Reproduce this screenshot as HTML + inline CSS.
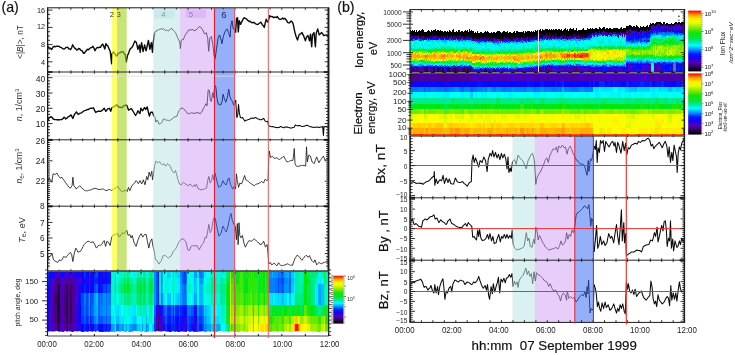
<!DOCTYPE html>
<html lang="en"><head><meta charset="utf-8"><title>Figure</title>
<style>
html,body{margin:0;padding:0;background:#fff;}
body{width:735px;height:355px;overflow:hidden;font-family:"Liberation Sans",Arial,sans-serif;}
svg{display:block;}
text{font-family:"Liberation Sans",Arial,sans-serif;}
</style></head><body>
<svg width="735" height="355" viewBox="0 0 735 355">
<g shape-rendering="crispEdges">
<path fill="#19002c" d="M56.5 292.5h2.3v12.8h-2.3zM56.5 305h2.3v11.3h-2.3z"/>
<path fill="#21003a" d="M56.5 316h2.3v8.3h-2.3zM58.5 305h1.3v11.3h-1.3z"/>
<path fill="#2a0049" d="M56.5 284h2.3v8.8h-2.3zM56.5 324h2.3v7.7h-2.3zM58.5 292.5h1.3v12.8h-1.3zM58.5 316h1.3v8.3h-1.3zM65.5 305h2.3v11.3h-2.3zM157.5 324h1.3v7.7h-1.3z"/>
<path fill="#320058" d="M58.5 284h1.3v8.8h-1.3zM65.5 292.5h2.3v12.8h-2.3zM65.5 316h2.3v8.3h-2.3zM69.5 292.5h1.3v12.8h-1.3zM69.5 305h1.3v11.3h-1.3zM69.5 316h1.3v8.3h-1.3z"/>
<path fill="#3a0066" d="M65.5 284h2.3v8.8h-2.3zM69.5 284h1.3v8.8h-1.3zM70.5 305h1.3v11.3h-1.3z"/>
<path fill="#430075" d="M53.5 292.5h3.3v12.8h-3.3zM56.5 277.7h2.3v6.6h-2.3zM58.5 324h1.3v7.7h-1.3zM64.5 292.5h1.3v12.8h-1.3zM64.5 305h1.3v11.3h-1.3zM65.5 324h2.3v7.7h-2.3zM70.5 284h1.3v8.8h-1.3zM70.5 292.5h1.3v12.8h-1.3zM70.5 316h1.3v8.3h-1.3zM157.5 316h1.3v8.3h-1.3z"/>
<path fill="#4b0083" d="M53.5 305h3.3v11.3h-3.3zM53.5 316h3.3v8.3h-3.3zM58.5 277.7h1.3v6.6h-1.3zM63.5 292.5h1.3v12.8h-1.3zM63.5 305h1.3v11.3h-1.3zM64.5 316h1.3v8.3h-1.3zM69.5 324h1.3v7.7h-1.3zM160.5 324h1.3v7.7h-1.3z"/>
<path fill="#4f0091" d="M53.5 284h3.3v8.8h-3.3zM63.5 284h1.3v8.8h-1.3zM63.5 316h1.3v8.3h-1.3zM64.5 284h1.3v8.8h-1.3zM65.5 277.7h2.3v6.6h-2.3zM67.5 292.5h2.3v12.8h-2.3zM67.5 305h2.3v11.3h-2.3zM67.5 316h2.3v8.3h-2.3zM69.5 277.7h1.3v6.6h-1.3zM70.5 324h1.3v7.7h-1.3zM71.5 284h3.3v8.8h-3.3zM71.5 305h3.3v11.3h-3.3z"/>
<path fill="#4e009e" d="M53.5 324h3.3v7.7h-3.3zM59.5 284h1.3v8.8h-1.3zM59.5 292.5h1.3v12.8h-1.3zM59.5 305h1.3v11.3h-1.3zM59.5 316h1.3v8.3h-1.3zM60.5 292.5h1.3v12.8h-1.3zM63.5 324h1.3v7.7h-1.3zM64.5 324h1.3v7.7h-1.3zM67.5 284h2.3v8.8h-2.3zM70.5 277.7h1.3v6.6h-1.3zM71.5 292.5h3.3v12.8h-3.3zM71.5 316h3.3v8.3h-3.3z"/>
<path fill="#4c00aa" d="M53.5 277.7h3.3v6.6h-3.3zM60.5 284h1.3v8.8h-1.3zM60.5 305h1.3v11.3h-1.3zM60.5 316h1.3v8.3h-1.3zM160.5 316h1.3v8.3h-1.3z"/>
<path fill="#4b00b6" d="M50.5 316h1.3v8.3h-1.3zM51.5 292.5h2.3v12.8h-2.3zM51.5 305h2.3v11.3h-2.3zM51.5 316h2.3v8.3h-2.3zM60.5 324h1.3v7.7h-1.3zM61.5 292.5h2.3v12.8h-2.3zM61.5 305h2.3v11.3h-2.3zM61.5 316h2.3v8.3h-2.3zM63.5 277.7h1.3v6.6h-1.3zM64.5 277.7h1.3v6.6h-1.3zM67.5 324h2.3v7.7h-2.3zM71.5 277.7h3.3v6.6h-3.3zM71.5 324h3.3v7.7h-3.3z"/>
<path fill="#4900c3" d="M50.5 305h1.3v11.3h-1.3zM50.5 324h1.3v7.7h-1.3zM56.5 271.8h2.3v6.2h-2.3zM59.5 324h1.3v7.7h-1.3zM61.5 284h2.3v8.8h-2.3zM67.5 277.7h2.3v6.6h-2.3zM157.5 305h1.3v11.3h-1.3z"/>
<path fill="#4800d0" d="M49.5 316h1.3v8.3h-1.3zM51.5 284h2.3v8.8h-2.3zM51.5 324h2.3v7.7h-2.3zM59.5 277.7h1.3v6.6h-1.3zM60.5 277.7h1.3v6.6h-1.3zM61.5 324h2.3v7.7h-2.3zM76.5 277.7h1.3v6.6h-1.3zM76.5 284h1.3v8.8h-1.3zM155.5 324h2.3v7.7h-2.3zM160.5 305h1.3v11.3h-1.3zM161.5 324h1.3v7.7h-1.3z"/>
<path fill="#4600dc" d="M49.5 305h1.3v11.3h-1.3zM49.5 324h1.3v7.7h-1.3zM50.5 292.5h1.3v12.8h-1.3zM51.5 277.7h2.3v6.6h-2.3zM58.5 271.8h1.3v6.2h-1.3zM61.5 277.7h2.3v6.6h-2.3zM65.5 271.8h2.3v6.2h-2.3zM69.5 271.8h1.3v6.2h-1.3zM74.5 292.5h2.3v12.8h-2.3zM76.5 292.5h1.3v12.8h-1.3zM78.5 277.7h1.3v6.6h-1.3zM79.5 277.7h1.3v6.6h-1.3zM155.5 316h2.3v8.3h-2.3zM158.5 324h2.3v7.7h-2.3z"/>
<path fill="#3d01e0" d="M50.5 284h1.3v8.8h-1.3zM70.5 271.8h1.3v6.2h-1.3zM74.5 284h2.3v8.8h-2.3zM76.5 324h1.3v7.7h-1.3zM77.5 277.7h1.3v6.6h-1.3zM161.5 316h1.3v8.3h-1.3z"/>
<path fill="#3402e5" d="M48.5 316h1.3v8.3h-1.3zM49.5 284h1.3v8.8h-1.3zM49.5 292.5h1.3v12.8h-1.3zM74.5 277.7h2.3v6.6h-2.3zM74.5 305h2.3v11.3h-2.3zM74.5 316h2.3v8.3h-2.3zM76.5 305h1.3v11.3h-1.3zM77.5 284h1.3v8.8h-1.3zM158.5 316h2.3v8.3h-2.3z"/>
<path fill="#2c04e9" d="M48.5 305h1.3v11.3h-1.3zM48.5 324h1.3v7.7h-1.3zM50.5 277.7h1.3v6.6h-1.3zM53.5 271.8h3.3v6.2h-3.3zM63.5 271.8h1.3v6.2h-1.3zM71.5 271.8h3.3v6.2h-3.3zM74.5 324h2.3v7.7h-2.3zM76.5 271.8h1.3v6.2h-1.3zM76.5 316h1.3v8.3h-1.3zM183.5 316h2.3v8.3h-2.3zM183.5 324h2.3v7.7h-2.3zM193.5 324h1.3v7.7h-1.3z"/>
<path fill="#2305ee" d="M48.5 292.5h1.3v12.8h-1.3zM49.5 277.7h1.3v6.6h-1.3zM50.5 271.8h1.3v6.2h-1.3zM64.5 271.8h1.3v6.2h-1.3zM77.5 292.5h1.3v12.8h-1.3zM77.5 324h1.3v7.7h-1.3zM78.5 284h1.3v8.8h-1.3zM78.5 324h1.3v7.7h-1.3zM79.5 271.8h1.3v6.2h-1.3zM79.5 324h1.3v7.7h-1.3zM85.5 277.7h2.3v6.6h-2.3zM89.5 277.7h1.3v6.6h-1.3zM155.5 305h2.3v11.3h-2.3zM182.5 324h1.3v7.7h-1.3zM185.5 324h1.3v7.7h-1.3zM193.5 316h1.3v8.3h-1.3zM194.5 324h2.3v7.7h-2.3z"/>
<path fill="#1a06f2" d="M48.5 284h1.3v8.8h-1.3zM60.5 271.8h1.3v6.2h-1.3zM67.5 271.8h2.3v6.2h-2.3zM77.5 271.8h1.3v6.2h-1.3zM77.5 305h1.3v11.3h-1.3zM77.5 316h1.3v8.3h-1.3zM78.5 271.8h1.3v6.2h-1.3zM79.5 284h1.3v8.8h-1.3zM80.5 277.7h3.3v6.6h-3.3zM89.5 271.8h1.3v6.2h-1.3zM89.5 284h1.3v8.8h-1.3zM89.5 324h1.3v7.7h-1.3zM97.5 277.7h2.3v6.6h-2.3zM161.5 305h1.3v11.3h-1.3zM172.5 324h1.3v7.7h-1.3zM181.5 324h1.3v7.7h-1.3zM185.5 316h1.3v8.3h-1.3z"/>
<path fill="#1108f6" d="M47.5 316h1.3v8.3h-1.3zM47.5 324h1.3v7.7h-1.3zM48.5 277.7h1.3v6.6h-1.3zM49.5 271.8h1.3v6.2h-1.3zM59.5 271.8h1.3v6.2h-1.3zM74.5 271.8h2.3v6.2h-2.3zM78.5 292.5h1.3v12.8h-1.3zM78.5 305h1.3v11.3h-1.3zM78.5 316h1.3v8.3h-1.3zM79.5 316h1.3v8.3h-1.3zM84.5 277.7h1.3v6.6h-1.3zM85.5 271.8h2.3v6.2h-2.3zM85.5 284h2.3v8.8h-2.3zM87.5 277.7h1.3v6.6h-1.3zM90.5 277.7h2.3v6.6h-2.3zM90.5 324h2.3v7.7h-2.3zM92.5 277.7h1.3v6.6h-1.3zM97.5 324h2.3v7.7h-2.3zM99.5 277.7h3.3v6.6h-3.3zM105.5 277.7h1.3v6.6h-1.3zM177.5 324h1.3v7.7h-1.3zM179.5 324h2.3v7.7h-2.3zM182.5 316h1.3v8.3h-1.3zM194.5 316h2.3v8.3h-2.3z"/>
<path fill="#0909fb" d="M47.5 305h1.3v11.3h-1.3zM48.5 271.8h1.3v6.2h-1.3zM51.5 271.8h2.3v6.2h-2.3zM61.5 271.8h2.3v6.2h-2.3zM83.5 277.7h1.3v6.6h-1.3zM85.5 324h2.3v7.7h-2.3zM90.5 271.8h2.3v6.2h-2.3zM97.5 271.8h2.3v6.2h-2.3zM99.5 271.8h3.3v6.2h-3.3zM102.5 277.7h3.3v6.6h-3.3zM105.5 271.8h1.3v6.2h-1.3zM158.5 305h2.3v11.3h-2.3zM166.5 324h3.3v7.7h-3.3zM169.5 324h1.3v7.7h-1.3zM172.5 316h1.3v8.3h-1.3zM174.5 324h3.3v7.7h-3.3zM181.5 316h1.3v8.3h-1.3zM183.5 305h2.3v11.3h-2.3zM193.5 305h1.3v11.3h-1.3z"/>
<path fill="#000aff" d="M47.5 284h1.3v8.8h-1.3zM47.5 292.5h1.3v12.8h-1.3zM79.5 305h1.3v11.3h-1.3zM80.5 271.8h3.3v6.2h-3.3zM80.5 284h3.3v8.8h-3.3zM80.5 324h3.3v7.7h-3.3zM87.5 271.8h1.3v6.2h-1.3zM87.5 284h1.3v8.8h-1.3zM87.5 324h1.3v7.7h-1.3zM90.5 284h2.3v8.8h-2.3zM92.5 271.8h1.3v6.2h-1.3zM92.5 284h1.3v8.8h-1.3zM92.5 324h1.3v7.7h-1.3zM97.5 284h2.3v8.8h-2.3zM99.5 324h3.3v7.7h-3.3zM105.5 324h1.3v7.7h-1.3zM162.5 324h1.3v7.7h-1.3zM174.5 316h3.3v8.3h-3.3zM177.5 316h1.3v8.3h-1.3zM190.5 324h1.3v7.7h-1.3zM191.5 324h2.3v7.7h-2.3z"/>
<path fill="#0019ff" d="M79.5 292.5h1.3v12.8h-1.3zM84.5 284h1.3v8.8h-1.3zM84.5 324h1.3v7.7h-1.3zM89.5 316h1.3v8.3h-1.3zM99.5 284h3.3v8.8h-3.3zM102.5 271.8h3.3v6.2h-3.3zM106.5 271.8h1.3v6.2h-1.3zM106.5 277.7h1.3v6.6h-1.3zM107.5 271.8h3.3v6.2h-3.3zM107.5 277.7h3.3v6.6h-3.3zM163.5 324h1.3v7.7h-1.3zM166.5 316h3.3v8.3h-3.3zM169.5 316h1.3v8.3h-1.3zM179.5 316h2.3v8.3h-2.3zM181.5 305h1.3v11.3h-1.3zM182.5 305h1.3v11.3h-1.3zM185.5 305h1.3v11.3h-1.3zM194.5 305h2.3v11.3h-2.3zM198.5 324h3.3v7.7h-3.3z"/>
<path fill="#0028ff" d="M47.5 271.8h1.3v6.2h-1.3zM47.5 277.7h1.3v6.6h-1.3zM83.5 284h1.3v8.8h-1.3zM84.5 271.8h1.3v6.2h-1.3zM85.5 316h2.3v8.3h-2.3zM88.5 277.7h1.3v6.6h-1.3zM93.5 277.7h2.3v6.6h-2.3zM95.5 277.7h2.3v6.6h-2.3zM102.5 324h3.3v7.7h-3.3zM105.5 284h1.3v8.8h-1.3zM107.5 324h3.3v7.7h-3.3zM157.5 271.8h1.3v6.2h-1.3zM157.5 277.7h1.3v6.6h-1.3zM157.5 284h1.3v8.8h-1.3zM157.5 292.5h1.3v12.8h-1.3zM162.5 316h1.3v8.3h-1.3zM163.5 316h1.3v8.3h-1.3zM166.5 305h3.3v11.3h-3.3zM170.5 324h2.3v7.7h-2.3zM172.5 305h1.3v11.3h-1.3zM174.5 305h3.3v11.3h-3.3zM177.5 305h1.3v11.3h-1.3zM178.5 324h1.3v7.7h-1.3zM179.5 305h2.3v11.3h-2.3zM188.5 324h2.3v7.7h-2.3zM190.5 316h1.3v8.3h-1.3zM191.5 316h2.3v8.3h-2.3z"/>
<path fill="#0037ff" d="M80.5 316h3.3v8.3h-3.3zM83.5 271.8h1.3v6.2h-1.3zM83.5 324h1.3v7.7h-1.3zM88.5 271.8h1.3v6.2h-1.3zM88.5 284h1.3v8.8h-1.3zM88.5 324h1.3v7.7h-1.3zM93.5 271.8h2.3v6.2h-2.3zM93.5 324h2.3v7.7h-2.3zM106.5 324h1.3v7.7h-1.3zM153.5 324h2.3v7.7h-2.3zM164.5 324h2.3v7.7h-2.3zM169.5 305h1.3v11.3h-1.3zM173.5 324h1.3v7.7h-1.3zM178.5 316h1.3v8.3h-1.3zM183.5 271.8h2.3v6.2h-2.3zM188.5 316h2.3v8.3h-2.3zM198.5 316h3.3v8.3h-3.3zM201.5 324h1.3v7.7h-1.3z"/>
<path fill="#0046ff" d="M80.5 292.5h3.3v12.8h-3.3zM80.5 305h3.3v11.3h-3.3zM84.5 316h1.3v8.3h-1.3zM85.5 292.5h2.3v12.8h-2.3zM85.5 305h2.3v11.3h-2.3zM87.5 316h1.3v8.3h-1.3zM89.5 292.5h1.3v12.8h-1.3zM89.5 305h1.3v11.3h-1.3zM90.5 316h2.3v8.3h-2.3zM93.5 284h2.3v8.8h-2.3zM95.5 271.8h2.3v6.2h-2.3zM95.5 324h2.3v7.7h-2.3zM102.5 284h3.3v8.8h-3.3zM153.5 316h2.3v8.3h-2.3zM162.5 305h1.3v11.3h-1.3zM170.5 316h2.3v8.3h-2.3zM173.5 316h1.3v8.3h-1.3zM183.5 277.7h2.3v6.6h-2.3zM186.5 324h2.3v7.7h-2.3zM190.5 305h1.3v11.3h-1.3zM277.5 277.7h1.3v6.6h-1.3zM277.5 284h1.3v8.8h-1.3zM280.5 277.7h3.3v6.6h-3.3z"/>
<path fill="#0055ff" d="M84.5 305h1.3v11.3h-1.3zM90.5 292.5h2.3v12.8h-2.3zM92.5 316h1.3v8.3h-1.3zM97.5 316h2.3v8.3h-2.3zM99.5 316h3.3v8.3h-3.3zM105.5 316h1.3v8.3h-1.3zM106.5 284h1.3v8.8h-1.3zM107.5 284h3.3v8.8h-3.3zM155.5 271.8h2.3v6.2h-2.3zM155.5 277.7h2.3v6.6h-2.3zM155.5 284h2.3v8.8h-2.3zM155.5 292.5h2.3v12.8h-2.3zM163.5 305h1.3v11.3h-1.3zM164.5 316h2.3v8.3h-2.3zM178.5 305h1.3v11.3h-1.3zM182.5 271.8h1.3v6.2h-1.3zM182.5 277.7h1.3v6.6h-1.3zM186.5 316h2.3v8.3h-2.3zM191.5 305h2.3v11.3h-2.3zM196.5 324h2.3v7.7h-2.3zM198.5 305h3.3v11.3h-3.3zM201.5 316h1.3v8.3h-1.3zM202.5 324h1.3v7.7h-1.3zM280.5 284h3.3v8.8h-3.3z"/>
<path fill="#0064ff" d="M83.5 316h1.3v8.3h-1.3zM87.5 292.5h1.3v12.8h-1.3zM87.5 305h1.3v11.3h-1.3zM90.5 305h2.3v11.3h-2.3zM92.5 292.5h1.3v12.8h-1.3zM95.5 284h2.3v8.8h-2.3zM97.5 292.5h2.3v12.8h-2.3zM97.5 305h2.3v11.3h-2.3zM105.5 292.5h1.3v12.8h-1.3zM153.5 305h2.3v11.3h-2.3zM160.5 292.5h1.3v12.8h-1.3zM170.5 305h2.3v11.3h-2.3zM181.5 271.8h1.3v6.2h-1.3zM181.5 277.7h1.3v6.6h-1.3zM183.5 284h2.3v8.8h-2.3zM196.5 316h2.3v8.3h-2.3zM202.5 316h1.3v8.3h-1.3zM278.5 277.7h2.3v6.6h-2.3zM280.5 271.8h3.3v6.2h-3.3zM288.5 277.7h2.3v6.6h-2.3zM288.5 284h2.3v8.8h-2.3z"/>
<path fill="#0073ff" d="M83.5 305h1.3v11.3h-1.3zM84.5 292.5h1.3v12.8h-1.3zM88.5 316h1.3v8.3h-1.3zM92.5 305h1.3v11.3h-1.3zM99.5 292.5h3.3v12.8h-3.3zM102.5 316h3.3v8.3h-3.3zM105.5 305h1.3v11.3h-1.3zM107.5 316h3.3v8.3h-3.3zM115.5 324h2.3v7.7h-2.3zM117.5 324h1.3v7.7h-1.3zM145.5 324h1.3v7.7h-1.3zM160.5 277.7h1.3v6.6h-1.3zM164.5 305h2.3v11.3h-2.3zM173.5 305h1.3v11.3h-1.3zM181.5 284h1.3v8.8h-1.3zM182.5 292.5h1.3v12.8h-1.3zM183.5 292.5h2.3v12.8h-2.3zM185.5 271.8h1.3v6.2h-1.3zM185.5 277.7h1.3v6.6h-1.3zM186.5 305h2.3v11.3h-2.3zM188.5 305h2.3v11.3h-2.3zM198.5 271.8h3.3v6.2h-3.3zM201.5 305h1.3v11.3h-1.3zM274.5 277.7h3.3v6.6h-3.3zM274.5 284h3.3v8.8h-3.3zM277.5 271.8h1.3v6.2h-1.3zM278.5 284h2.3v8.8h-2.3zM288.5 271.8h2.3v6.2h-2.3z"/>
<path fill="#0082ff" d="M83.5 292.5h1.3v12.8h-1.3zM93.5 316h2.3v8.3h-2.3zM99.5 305h3.3v11.3h-3.3zM106.5 316h1.3v8.3h-1.3zM107.5 292.5h3.3v12.8h-3.3zM132.5 324h3.3v7.7h-3.3zM160.5 271.8h1.3v6.2h-1.3zM160.5 284h1.3v8.8h-1.3zM179.5 271.8h2.3v6.2h-2.3zM181.5 292.5h1.3v12.8h-1.3zM182.5 284h1.3v8.8h-1.3zM201.5 271.8h1.3v6.2h-1.3zM202.5 305h1.3v11.3h-1.3zM204.5 324h1.3v7.7h-1.3zM268.5 277.7h3.3v6.6h-3.3zM268.5 284h3.3v8.8h-3.3zM271.5 277.7h1.3v6.6h-1.3zM271.5 284h1.3v8.8h-1.3zM272.5 277.7h2.3v6.6h-2.3zM272.5 284h2.3v8.8h-2.3zM278.5 271.8h2.3v6.2h-2.3zM283.5 277.7h3.3v6.6h-3.3z"/>
<path fill="#0092ff" d="M88.5 305h1.3v11.3h-1.3zM102.5 292.5h3.3v12.8h-3.3zM102.5 305h3.3v11.3h-3.3zM106.5 292.5h1.3v12.8h-1.3zM106.5 305h1.3v11.3h-1.3zM107.5 305h3.3v11.3h-3.3zM121.5 324h2.3v7.7h-2.3zM130.5 324h2.3v7.7h-2.3zM141.5 324h1.3v7.7h-1.3zM153.5 271.8h2.3v6.2h-2.3zM153.5 277.7h2.3v6.6h-2.3zM153.5 284h2.3v8.8h-2.3zM153.5 292.5h2.3v12.8h-2.3zM161.5 292.5h1.3v12.8h-1.3zM179.5 277.7h2.3v6.6h-2.3zM185.5 292.5h1.3v12.8h-1.3zM193.5 292.5h1.3v12.8h-1.3zM196.5 305h2.3v11.3h-2.3zM198.5 277.7h3.3v6.6h-3.3zM203.5 324h1.3v7.7h-1.3zM204.5 316h1.3v8.3h-1.3zM205.5 324h1.3v7.7h-1.3zM268.5 271.8h3.3v6.2h-3.3zM272.5 271.8h2.3v6.2h-2.3zM274.5 271.8h3.3v6.2h-3.3zM283.5 284h3.3v8.8h-3.3zM286.5 277.7h2.3v6.6h-2.3zM286.5 284h2.3v8.8h-2.3z"/>
<path fill="#00a1ff" d="M88.5 292.5h1.3v12.8h-1.3zM93.5 292.5h2.3v12.8h-2.3zM93.5 305h2.3v11.3h-2.3zM95.5 316h2.3v8.3h-2.3zM110.5 324h3.3v7.7h-3.3zM118.5 324h2.3v7.7h-2.3zM120.5 324h1.3v7.7h-1.3zM128.5 324h2.3v7.7h-2.3zM135.5 324h1.3v7.7h-1.3zM179.5 284h2.3v8.8h-2.3zM179.5 292.5h2.3v12.8h-2.3zM185.5 284h1.3v8.8h-1.3zM193.5 271.8h1.3v6.2h-1.3zM194.5 271.8h2.3v6.2h-2.3zM201.5 277.7h1.3v6.6h-1.3zM202.5 271.8h1.3v6.2h-1.3zM206.5 324h2.3v7.7h-2.3zM208.5 324h2.3v7.7h-2.3zM212.5 324h1.3v7.7h-1.3zM216.5 324h3.3v7.7h-3.3zM283.5 271.8h3.3v6.2h-3.3zM318.5 284h2.3v8.8h-2.3zM318.5 292.5h2.3v12.8h-2.3z"/>
<path fill="#00b1ff" d="M95.5 305h2.3v11.3h-2.3zM113.5 324h1.3v7.7h-1.3zM117.5 316h1.3v8.3h-1.3zM124.5 324h2.3v7.7h-2.3zM145.5 316h1.3v8.3h-1.3zM146.5 324h2.3v7.7h-2.3zM161.5 271.8h1.3v6.2h-1.3zM161.5 277.7h1.3v6.6h-1.3zM172.5 292.5h1.3v12.8h-1.3zM193.5 277.7h1.3v6.6h-1.3zM194.5 292.5h2.3v12.8h-2.3zM198.5 284h3.3v8.8h-3.3zM198.5 292.5h3.3v12.8h-3.3zM203.5 316h1.3v8.3h-1.3zM204.5 305h1.3v11.3h-1.3zM205.5 316h1.3v8.3h-1.3zM213.5 324h1.3v7.7h-1.3zM215.5 324h1.3v7.7h-1.3zM271.5 271.8h1.3v6.2h-1.3zM286.5 271.8h2.3v6.2h-2.3zM317.5 284h1.3v8.8h-1.3zM317.5 292.5h1.3v12.8h-1.3z"/>
<path fill="#00c0ff" d="M95.5 292.5h2.3v12.8h-2.3zM115.5 316h2.3v8.3h-2.3zM132.5 316h3.3v8.3h-3.3zM136.5 324h1.3v7.7h-1.3zM138.5 324h1.3v7.7h-1.3zM152.5 324h1.3v7.7h-1.3zM161.5 284h1.3v8.8h-1.3zM166.5 292.5h3.3v12.8h-3.3zM169.5 292.5h1.3v12.8h-1.3zM172.5 271.8h1.3v6.2h-1.3zM177.5 292.5h1.3v12.8h-1.3zM193.5 284h1.3v8.8h-1.3zM201.5 284h1.3v8.8h-1.3zM201.5 292.5h1.3v12.8h-1.3zM202.5 277.7h1.3v6.6h-1.3zM205.5 305h1.3v11.3h-1.3zM206.5 316h2.3v8.3h-2.3zM280.5 292.5h3.3v12.8h-3.3zM288.5 292.5h2.3v12.8h-2.3zM290.5 277.7h3.3v6.6h-3.3zM320.5 284h3.3v8.8h-3.3zM320.5 292.5h3.3v12.8h-3.3z"/>
<path fill="#00d0ff" d="M117.5 305h1.3v11.3h-1.3zM126.5 324h2.3v7.7h-2.3zM137.5 324h1.3v7.7h-1.3zM141.5 316h1.3v8.3h-1.3zM151.5 324h1.3v7.7h-1.3zM166.5 271.8h3.3v6.2h-3.3zM174.5 292.5h3.3v12.8h-3.3zM177.5 271.8h1.3v6.2h-1.3zM178.5 292.5h1.3v12.8h-1.3zM194.5 277.7h2.3v6.6h-2.3zM194.5 284h2.3v8.8h-2.3zM203.5 305h1.3v11.3h-1.3zM206.5 305h2.3v11.3h-2.3zM208.5 316h2.3v8.3h-2.3zM210.5 324h2.3v7.7h-2.3zM212.5 316h1.3v8.3h-1.3zM213.5 316h1.3v8.3h-1.3zM214.5 324h1.3v7.7h-1.3zM219.5 324h1.3v7.7h-1.3zM277.5 292.5h1.3v12.8h-1.3zM290.5 271.8h3.3v6.2h-3.3zM290.5 284h3.3v8.8h-3.3z"/>
<path fill="#00e0ff" d="M110.5 316h3.3v8.3h-3.3zM115.5 305h2.3v11.3h-2.3zM118.5 316h2.3v8.3h-2.3zM121.5 316h2.3v8.3h-2.3zM123.5 324h1.3v7.7h-1.3zM130.5 316h2.3v8.3h-2.3zM132.5 305h3.3v11.3h-3.3zM135.5 316h1.3v8.3h-1.3zM139.5 324h2.3v7.7h-2.3zM142.5 324h2.3v7.7h-2.3zM144.5 324h1.3v7.7h-1.3zM145.5 305h1.3v11.3h-1.3zM158.5 292.5h2.3v12.8h-2.3zM162.5 292.5h1.3v12.8h-1.3zM163.5 292.5h1.3v12.8h-1.3zM169.5 271.8h1.3v6.2h-1.3zM172.5 277.7h1.3v6.6h-1.3zM172.5 284h1.3v8.8h-1.3zM174.5 271.8h3.3v6.2h-3.3zM177.5 277.7h1.3v6.6h-1.3zM178.5 271.8h1.3v6.2h-1.3zM196.5 271.8h2.3v6.2h-2.3zM202.5 284h1.3v8.8h-1.3zM202.5 292.5h1.3v12.8h-1.3zM204.5 271.8h1.3v6.2h-1.3zM208.5 305h2.3v11.3h-2.3zM212.5 305h1.3v11.3h-1.3zM213.5 305h1.3v11.3h-1.3zM214.5 316h1.3v8.3h-1.3zM215.5 316h1.3v8.3h-1.3zM216.5 316h3.3v8.3h-3.3zM224.5 324h1.3v7.7h-1.3zM268.5 292.5h3.3v12.8h-3.3zM271.5 292.5h1.3v12.8h-1.3zM274.5 292.5h3.3v12.8h-3.3zM278.5 292.5h2.3v12.8h-2.3zM283.5 292.5h3.3v12.8h-3.3zM293.5 277.7h1.3v6.6h-1.3zM318.5 277.7h2.3v6.6h-2.3z"/>
<path fill="#00efff" d="M113.5 316h1.3v8.3h-1.3zM114.5 324h1.3v7.7h-1.3zM118.5 305h2.3v11.3h-2.3zM120.5 316h1.3v8.3h-1.3zM124.5 316h2.3v8.3h-2.3zM128.5 305h2.3v11.3h-2.3zM128.5 316h2.3v8.3h-2.3zM130.5 305h2.3v11.3h-2.3zM132.5 271.8h3.3v6.2h-3.3zM145.5 271.8h1.3v6.2h-1.3zM146.5 316h2.3v8.3h-2.3zM158.5 271.8h2.3v6.2h-2.3zM158.5 277.7h2.3v6.6h-2.3zM158.5 284h2.3v8.8h-2.3zM166.5 277.7h3.3v6.6h-3.3zM166.5 284h3.3v8.8h-3.3zM174.5 277.7h3.3v6.6h-3.3zM174.5 284h3.3v8.8h-3.3zM177.5 284h1.3v8.8h-1.3zM178.5 277.7h1.3v6.6h-1.3zM178.5 284h1.3v8.8h-1.3zM190.5 271.8h1.3v6.2h-1.3zM191.5 271.8h2.3v6.2h-2.3zM191.5 292.5h2.3v12.8h-2.3zM203.5 271.8h1.3v6.2h-1.3zM216.5 271.8h3.3v6.2h-3.3zM216.5 305h3.3v11.3h-3.3zM224.5 271.8h1.3v6.2h-1.3zM272.5 292.5h2.3v12.8h-2.3zM293.5 271.8h1.3v6.2h-1.3zM293.5 284h1.3v8.8h-1.3zM315.5 284h2.3v8.8h-2.3zM315.5 292.5h2.3v12.8h-2.3z"/>
<path fill="#00ffff" d="M120.5 305h1.3v11.3h-1.3zM121.5 305h2.3v11.3h-2.3zM136.5 316h1.3v8.3h-1.3zM138.5 316h1.3v8.3h-1.3zM148.5 324h3.3v7.7h-3.3zM152.5 316h1.3v8.3h-1.3zM162.5 277.7h1.3v6.6h-1.3zM164.5 292.5h2.3v12.8h-2.3zM169.5 277.7h1.3v6.6h-1.3zM169.5 284h1.3v8.8h-1.3zM170.5 292.5h2.3v12.8h-2.3zM173.5 292.5h1.3v12.8h-1.3zM190.5 277.7h1.3v6.6h-1.3zM190.5 292.5h1.3v12.8h-1.3zM196.5 277.7h2.3v6.6h-2.3zM196.5 292.5h2.3v12.8h-2.3zM204.5 277.7h1.3v6.6h-1.3zM204.5 292.5h1.3v12.8h-1.3zM205.5 271.8h1.3v6.2h-1.3zM206.5 271.8h2.3v6.2h-2.3zM210.5 316h2.3v8.3h-2.3zM214.5 305h1.3v11.3h-1.3zM215.5 305h1.3v11.3h-1.3zM221.5 324h3.3v7.7h-3.3zM286.5 292.5h2.3v12.8h-2.3zM317.5 277.7h1.3v6.6h-1.3z"/>
<path fill="#00fcef" d="M110.5 305h3.3v11.3h-3.3zM113.5 305h1.3v11.3h-1.3zM115.5 271.8h2.3v6.2h-2.3zM115.5 292.5h2.3v12.8h-2.3zM117.5 271.8h1.3v6.2h-1.3zM117.5 292.5h1.3v12.8h-1.3zM124.5 305h2.3v11.3h-2.3zM126.5 316h2.3v8.3h-2.3zM130.5 271.8h2.3v6.2h-2.3zM135.5 305h1.3v11.3h-1.3zM137.5 316h1.3v8.3h-1.3zM139.5 316h2.3v8.3h-2.3zM141.5 271.8h1.3v6.2h-1.3zM146.5 305h2.3v11.3h-2.3zM152.5 305h1.3v11.3h-1.3zM162.5 271.8h1.3v6.2h-1.3zM162.5 284h1.3v8.8h-1.3zM163.5 271.8h1.3v6.2h-1.3zM163.5 277.7h1.3v6.6h-1.3zM163.5 284h1.3v8.8h-1.3zM164.5 271.8h2.3v6.2h-2.3zM170.5 271.8h2.3v6.2h-2.3zM186.5 271.8h2.3v6.2h-2.3zM188.5 271.8h2.3v6.2h-2.3zM188.5 292.5h2.3v12.8h-2.3zM196.5 284h2.3v8.8h-2.3zM203.5 277.7h1.3v6.6h-1.3zM204.5 284h1.3v8.8h-1.3zM205.5 292.5h1.3v12.8h-1.3zM208.5 271.8h2.3v6.2h-2.3zM210.5 305h2.3v11.3h-2.3zM219.5 316h1.3v8.3h-1.3zM220.5 324h1.3v7.7h-1.3zM290.5 292.5h3.3v12.8h-3.3zM320.5 277.7h3.3v6.6h-3.3z"/>
<path fill="#00f9de" d="M115.5 277.7h2.3v6.6h-2.3zM123.5 316h1.3v8.3h-1.3zM135.5 271.8h1.3v6.2h-1.3zM141.5 305h1.3v11.3h-1.3zM144.5 316h1.3v8.3h-1.3zM145.5 277.7h1.3v6.6h-1.3zM151.5 316h1.3v8.3h-1.3zM173.5 271.8h1.3v6.2h-1.3zM186.5 277.7h2.3v6.6h-2.3zM186.5 292.5h2.3v12.8h-2.3zM188.5 277.7h2.3v6.6h-2.3zM190.5 284h1.3v8.8h-1.3zM191.5 277.7h2.3v6.6h-2.3zM191.5 284h2.3v8.8h-2.3zM203.5 292.5h1.3v12.8h-1.3zM205.5 277.7h1.3v6.6h-1.3zM206.5 277.7h2.3v6.6h-2.3zM206.5 292.5h2.3v12.8h-2.3zM208.5 292.5h2.3v12.8h-2.3zM212.5 271.8h1.3v6.2h-1.3zM212.5 292.5h1.3v12.8h-1.3zM213.5 292.5h1.3v12.8h-1.3zM216.5 292.5h3.3v12.8h-3.3zM219.5 271.8h1.3v6.2h-1.3zM219.5 305h1.3v11.3h-1.3zM221.5 271.8h3.3v6.2h-3.3zM224.5 277.7h1.3v6.6h-1.3zM224.5 305h1.3v11.3h-1.3zM224.5 316h1.3v8.3h-1.3zM293.5 292.5h1.3v12.8h-1.3zM314.5 284h1.3v8.8h-1.3zM314.5 292.5h1.3v12.8h-1.3zM318.5 271.8h2.3v6.2h-2.3z"/>
<path fill="#00f6ce" d="M110.5 271.8h3.3v6.2h-3.3zM110.5 277.7h3.3v6.6h-3.3zM110.5 284h3.3v8.8h-3.3zM110.5 292.5h3.3v12.8h-3.3zM113.5 271.8h1.3v6.2h-1.3zM113.5 292.5h1.3v12.8h-1.3zM114.5 316h1.3v8.3h-1.3zM115.5 284h2.3v8.8h-2.3zM117.5 277.7h1.3v6.6h-1.3zM118.5 271.8h2.3v6.2h-2.3zM121.5 271.8h2.3v6.2h-2.3zM126.5 305h2.3v11.3h-2.3zM128.5 271.8h2.3v6.2h-2.3zM132.5 277.7h3.3v6.6h-3.3zM136.5 305h1.3v11.3h-1.3zM142.5 316h2.3v8.3h-2.3zM145.5 292.5h1.3v12.8h-1.3zM146.5 271.8h2.3v6.2h-2.3zM151.5 305h1.3v11.3h-1.3zM164.5 277.7h2.3v6.6h-2.3zM170.5 277.7h2.3v6.6h-2.3zM170.5 284h2.3v8.8h-2.3zM173.5 277.7h1.3v6.6h-1.3zM173.5 284h1.3v8.8h-1.3zM188.5 284h2.3v8.8h-2.3zM203.5 284h1.3v8.8h-1.3zM205.5 284h1.3v8.8h-1.3zM208.5 277.7h2.3v6.6h-2.3zM213.5 271.8h1.3v6.2h-1.3zM214.5 271.8h1.3v6.2h-1.3zM215.5 271.8h1.3v6.2h-1.3zM215.5 292.5h1.3v12.8h-1.3zM216.5 277.7h3.3v6.6h-3.3zM221.5 316h3.3v8.3h-3.3zM317.5 271.8h1.3v6.2h-1.3zM324.5 284h3.3v8.8h-3.3zM324.5 292.5h3.3v12.8h-3.3z"/>
<path fill="#00f2bd" d="M113.5 277.7h1.3v6.6h-1.3zM118.5 292.5h2.3v12.8h-2.3zM120.5 271.8h1.3v6.2h-1.3zM121.5 292.5h2.3v12.8h-2.3zM123.5 305h1.3v11.3h-1.3zM124.5 271.8h2.3v6.2h-2.3zM132.5 292.5h3.3v12.8h-3.3zM136.5 271.8h1.3v6.2h-1.3zM137.5 305h1.3v11.3h-1.3zM138.5 271.8h1.3v6.2h-1.3zM138.5 305h1.3v11.3h-1.3zM144.5 305h1.3v11.3h-1.3zM145.5 284h1.3v8.8h-1.3zM164.5 284h2.3v8.8h-2.3zM186.5 284h2.3v8.8h-2.3zM206.5 284h2.3v8.8h-2.3zM208.5 284h2.3v8.8h-2.3zM212.5 277.7h1.3v6.6h-1.3zM212.5 284h1.3v8.8h-1.3zM214.5 292.5h1.3v12.8h-1.3zM216.5 284h3.3v8.8h-3.3zM221.5 305h3.3v11.3h-3.3zM224.5 292.5h1.3v12.8h-1.3zM297.5 277.7h1.3v6.6h-1.3zM298.5 277.7h1.3v6.6h-1.3zM299.5 271.8h3.3v6.2h-3.3zM299.5 277.7h3.3v6.6h-3.3zM314.5 277.7h1.3v6.6h-1.3zM315.5 277.7h2.3v6.6h-2.3zM320.5 271.8h3.3v6.2h-3.3z"/>
<path fill="#00efad" d="M113.5 284h1.3v8.8h-1.3zM114.5 305h1.3v11.3h-1.3zM117.5 284h1.3v8.8h-1.3zM118.5 277.7h2.3v6.6h-2.3zM120.5 292.5h1.3v12.8h-1.3zM130.5 277.7h2.3v6.6h-2.3zM130.5 292.5h2.3v12.8h-2.3zM132.5 284h3.3v8.8h-3.3zM137.5 271.8h1.3v6.2h-1.3zM141.5 292.5h1.3v12.8h-1.3zM148.5 316h3.3v8.3h-3.3zM151.5 271.8h1.3v6.2h-1.3zM152.5 271.8h1.3v6.2h-1.3zM210.5 271.8h2.3v6.2h-2.3zM210.5 292.5h2.3v12.8h-2.3zM213.5 277.7h1.3v6.6h-1.3zM213.5 284h1.3v8.8h-1.3zM215.5 277.7h1.3v6.6h-1.3zM215.5 284h1.3v8.8h-1.3zM219.5 277.7h1.3v6.6h-1.3zM219.5 292.5h1.3v12.8h-1.3zM220.5 305h1.3v11.3h-1.3zM220.5 316h1.3v8.3h-1.3zM221.5 277.7h3.3v6.6h-3.3zM224.5 284h1.3v8.8h-1.3zM225.5 324h1.3v7.7h-1.3zM233.5 271.8h1.3v6.2h-1.3zM297.5 271.8h1.3v6.2h-1.3zM297.5 284h1.3v8.8h-1.3zM298.5 271.8h1.3v6.2h-1.3zM298.5 284h1.3v8.8h-1.3zM299.5 284h3.3v8.8h-3.3zM323.5 284h1.3v8.8h-1.3zM324.5 271.8h3.3v6.2h-3.3zM324.5 277.7h3.3v6.6h-3.3zM328.5 284h0.5v8.8h-0.5zM328.5 292.5h0.5v12.8h-0.5z"/>
<path fill="#00ec9d" d="M120.5 277.7h1.3v6.6h-1.3zM121.5 277.7h2.3v6.6h-2.3zM124.5 292.5h2.3v12.8h-2.3zM126.5 271.8h2.3v6.2h-2.3zM128.5 277.7h2.3v6.6h-2.3zM128.5 292.5h2.3v12.8h-2.3zM135.5 277.7h1.3v6.6h-1.3zM135.5 292.5h1.3v12.8h-1.3zM139.5 271.8h2.3v6.2h-2.3zM139.5 305h2.3v11.3h-2.3zM141.5 277.7h1.3v6.6h-1.3zM142.5 305h2.3v11.3h-2.3zM144.5 271.8h1.3v6.2h-1.3zM146.5 277.7h2.3v6.6h-2.3zM146.5 292.5h2.3v12.8h-2.3zM148.5 305h3.3v11.3h-3.3zM152.5 292.5h1.3v12.8h-1.3zM214.5 277.7h1.3v6.6h-1.3zM214.5 284h1.3v8.8h-1.3zM219.5 284h1.3v8.8h-1.3zM220.5 271.8h1.3v6.2h-1.3zM221.5 292.5h3.3v12.8h-3.3zM294.5 271.8h3.3v6.2h-3.3zM294.5 277.7h3.3v6.6h-3.3zM294.5 284h3.3v8.8h-3.3zM302.5 271.8h1.3v6.2h-1.3zM312.5 284h2.3v8.8h-2.3zM312.5 292.5h2.3v12.8h-2.3zM314.5 271.8h1.3v6.2h-1.3zM315.5 271.8h2.3v6.2h-2.3zM318.5 305h2.3v11.3h-2.3zM323.5 292.5h1.3v12.8h-1.3zM328.5 271.8h0.5v6.2h-0.5z"/>
<path fill="#00eb89" d="M114.5 271.8h1.3v6.2h-1.3zM118.5 284h2.3v8.8h-2.3zM123.5 271.8h1.3v6.2h-1.3zM124.5 277.7h2.3v6.6h-2.3zM130.5 284h2.3v8.8h-2.3zM141.5 284h1.3v8.8h-1.3zM142.5 271.8h2.3v6.2h-2.3zM146.5 284h2.3v8.8h-2.3zM151.5 292.5h1.3v12.8h-1.3zM152.5 277.7h1.3v6.6h-1.3zM210.5 277.7h2.3v6.6h-2.3zM210.5 284h2.3v8.8h-2.3zM221.5 284h3.3v8.8h-3.3zM225.5 271.8h1.3v6.2h-1.3zM233.5 277.7h1.3v6.6h-1.3zM234.5 271.8h1.3v6.2h-1.3zM252.5 271.8h1.3v6.2h-1.3zM252.5 277.7h1.3v6.6h-1.3zM252.5 284h1.3v8.8h-1.3zM297.5 292.5h1.3v12.8h-1.3zM298.5 292.5h1.3v12.8h-1.3zM299.5 292.5h3.3v12.8h-3.3zM302.5 277.7h1.3v6.6h-1.3zM310.5 277.7h2.3v6.6h-2.3zM312.5 277.7h2.3v6.6h-2.3zM317.5 305h1.3v11.3h-1.3zM328.5 277.7h0.5v6.6h-0.5z"/>
<path fill="#00ea73" d="M114.5 292.5h1.3v12.8h-1.3zM120.5 284h1.3v8.8h-1.3zM121.5 284h2.3v8.8h-2.3zM123.5 292.5h1.3v12.8h-1.3zM126.5 292.5h2.3v12.8h-2.3zM128.5 284h2.3v8.8h-2.3zM135.5 284h1.3v8.8h-1.3zM136.5 277.7h1.3v6.6h-1.3zM136.5 292.5h1.3v12.8h-1.3zM137.5 277.7h1.3v6.6h-1.3zM137.5 292.5h1.3v12.8h-1.3zM138.5 277.7h1.3v6.6h-1.3zM148.5 271.8h3.3v6.2h-3.3zM151.5 277.7h1.3v6.6h-1.3zM152.5 284h1.3v8.8h-1.3zM220.5 277.7h1.3v6.6h-1.3zM225.5 277.7h1.3v6.6h-1.3zM226.5 324h3.3v7.7h-3.3zM257.5 271.8h1.3v6.2h-1.3zM294.5 292.5h3.3v12.8h-3.3zM302.5 284h1.3v8.8h-1.3zM302.5 292.5h1.3v12.8h-1.3zM309.5 271.8h1.3v6.2h-1.3zM310.5 271.8h2.3v6.2h-2.3zM310.5 284h2.3v8.8h-2.3zM310.5 292.5h2.3v12.8h-2.3zM312.5 271.8h2.3v6.2h-2.3zM327.5 284h1.3v8.8h-1.3zM327.5 292.5h1.3v12.8h-1.3z"/>
<path fill="#00e95d" d="M114.5 277.7h1.3v6.6h-1.3zM124.5 284h2.3v8.8h-2.3zM136.5 284h1.3v8.8h-1.3zM138.5 292.5h1.3v12.8h-1.3zM139.5 277.7h2.3v6.6h-2.3zM144.5 277.7h1.3v6.6h-1.3zM144.5 292.5h1.3v12.8h-1.3zM151.5 284h1.3v8.8h-1.3zM220.5 284h1.3v8.8h-1.3zM220.5 292.5h1.3v12.8h-1.3zM225.5 305h1.3v11.3h-1.3zM226.5 271.8h3.3v6.2h-3.3zM233.5 284h1.3v8.8h-1.3zM234.5 277.7h1.3v6.6h-1.3zM252.5 292.5h1.3v12.8h-1.3zM257.5 277.7h1.3v6.6h-1.3zM268.5 305h3.3v11.3h-3.3zM288.5 305h2.3v11.3h-2.3zM306.5 271.8h3.3v6.2h-3.3zM306.5 284h3.3v8.8h-3.3zM309.5 277.7h1.3v6.6h-1.3zM309.5 284h1.3v8.8h-1.3zM309.5 292.5h1.3v12.8h-1.3zM314.5 305h1.3v11.3h-1.3zM315.5 305h2.3v11.3h-2.3zM320.5 305h3.3v11.3h-3.3zM323.5 277.7h1.3v6.6h-1.3zM327.5 271.8h1.3v6.2h-1.3z"/>
<path fill="#00e847" d="M114.5 284h1.3v8.8h-1.3zM123.5 277.7h1.3v6.6h-1.3zM126.5 277.7h2.3v6.6h-2.3zM137.5 284h1.3v8.8h-1.3zM138.5 284h1.3v8.8h-1.3zM139.5 292.5h2.3v12.8h-2.3zM142.5 292.5h2.3v12.8h-2.3zM148.5 292.5h3.3v12.8h-3.3zM225.5 316h1.3v8.3h-1.3zM233.5 292.5h1.3v12.8h-1.3zM234.5 284h1.3v8.8h-1.3zM257.5 284h1.3v8.8h-1.3zM277.5 305h1.3v11.3h-1.3zM280.5 305h3.3v11.3h-3.3zM299.5 305h3.3v11.3h-3.3zM306.5 292.5h3.3v12.8h-3.3zM323.5 271.8h1.3v6.2h-1.3zM324.5 305h3.3v11.3h-3.3zM327.5 277.7h1.3v6.6h-1.3z"/>
<path fill="#00e731" d="M139.5 284h2.3v8.8h-2.3zM142.5 277.7h2.3v6.6h-2.3zM144.5 284h1.3v8.8h-1.3zM148.5 277.7h3.3v6.6h-3.3zM225.5 284h1.3v8.8h-1.3zM225.5 292.5h1.3v12.8h-1.3zM226.5 277.7h3.3v6.6h-3.3zM234.5 292.5h1.3v12.8h-1.3zM243.5 271.8h1.3v6.2h-1.3zM243.5 277.7h1.3v6.6h-1.3zM243.5 284h1.3v8.8h-1.3zM257.5 292.5h1.3v12.8h-1.3zM272.5 305h2.3v11.3h-2.3zM293.5 305h1.3v11.3h-1.3zM298.5 305h1.3v11.3h-1.3zM306.5 277.7h3.3v6.6h-3.3zM328.5 305h0.5v11.3h-0.5z"/>
<path fill="#00e71c" d="M123.5 284h1.3v8.8h-1.3zM126.5 284h2.3v8.8h-2.3zM142.5 284h2.3v8.8h-2.3zM148.5 284h3.3v8.8h-3.3zM226.5 305h3.3v11.3h-3.3zM230.5 271.8h1.3v6.2h-1.3zM233.5 324h1.3v7.7h-1.3zM235.5 271.8h3.3v6.2h-3.3zM253.5 271.8h1.3v6.2h-1.3zM258.5 271.8h1.3v6.2h-1.3zM263.5 271.8h1.3v6.2h-1.3zM263.5 277.7h1.3v6.6h-1.3zM263.5 284h1.3v8.8h-1.3zM271.5 305h1.3v11.3h-1.3zM274.5 305h3.3v11.3h-3.3zM290.5 305h3.3v11.3h-3.3zM297.5 305h1.3v11.3h-1.3zM302.5 305h1.3v11.3h-1.3zM309.5 305h1.3v11.3h-1.3zM310.5 305h2.3v11.3h-2.3zM312.5 305h2.3v11.3h-2.3z"/>
<path fill="#04e60a" d="M226.5 284h3.3v8.8h-3.3zM226.5 292.5h3.3v12.8h-3.3zM231.5 271.8h2.3v6.2h-2.3zM235.5 277.7h3.3v6.6h-3.3zM243.5 292.5h1.3v12.8h-1.3zM244.5 277.7h3.3v6.6h-3.3zM244.5 284h3.3v8.8h-3.3zM253.5 277.7h1.3v6.6h-1.3zM253.5 284h1.3v8.8h-1.3zM258.5 277.7h1.3v6.6h-1.3zM258.5 284h1.3v8.8h-1.3zM262.5 271.8h1.3v6.2h-1.3zM262.5 277.7h1.3v6.6h-1.3zM262.5 284h1.3v8.8h-1.3zM263.5 292.5h1.3v12.8h-1.3zM278.5 305h2.3v11.3h-2.3zM283.5 305h3.3v11.3h-3.3zM303.5 271.8h3.3v6.2h-3.3zM303.5 277.7h3.3v6.6h-3.3zM303.5 284h3.3v8.8h-3.3zM303.5 292.5h3.3v12.8h-3.3zM327.5 305h1.3v11.3h-1.3z"/>
<path fill="#19e708" d="M226.5 316h3.3v8.3h-3.3zM230.5 277.7h1.3v6.6h-1.3zM230.5 324h1.3v7.7h-1.3zM233.5 305h1.3v11.3h-1.3zM234.5 305h1.3v11.3h-1.3zM234.5 324h1.3v7.7h-1.3zM238.5 271.8h1.3v6.2h-1.3zM242.5 271.8h1.3v6.2h-1.3zM242.5 277.7h1.3v6.6h-1.3zM242.5 284h1.3v8.8h-1.3zM244.5 271.8h3.3v6.2h-3.3zM247.5 271.8h3.3v6.2h-3.3zM251.5 271.8h1.3v6.2h-1.3zM251.5 277.7h1.3v6.6h-1.3zM251.5 284h1.3v8.8h-1.3zM252.5 305h1.3v11.3h-1.3zM253.5 292.5h1.3v12.8h-1.3zM254.5 271.8h3.3v6.2h-3.3zM258.5 292.5h1.3v12.8h-1.3zM259.5 271.8h3.3v6.2h-3.3zM259.5 277.7h3.3v6.6h-3.3zM259.5 284h3.3v8.8h-3.3zM265.5 271.8h3.3v6.2h-3.3zM265.5 277.7h3.3v6.6h-3.3zM265.5 284h3.3v8.8h-3.3zM268.5 316h3.3v8.3h-3.3zM286.5 305h2.3v11.3h-2.3zM294.5 305h3.3v11.3h-3.3zM306.5 305h3.3v11.3h-3.3zM323.5 305h1.3v11.3h-1.3zM324.5 316h3.3v8.3h-3.3z"/>
<path fill="#2ee807" d="M231.5 277.7h2.3v6.6h-2.3zM233.5 316h1.3v8.3h-1.3zM235.5 284h3.3v8.8h-3.3zM238.5 277.7h1.3v6.6h-1.3zM238.5 284h1.3v8.8h-1.3zM244.5 292.5h3.3v12.8h-3.3zM247.5 277.7h3.3v6.6h-3.3zM247.5 284h3.3v8.8h-3.3zM250.5 277.7h1.3v6.6h-1.3zM251.5 292.5h1.3v12.8h-1.3zM254.5 277.7h3.3v6.6h-3.3zM254.5 284h3.3v8.8h-3.3zM257.5 305h1.3v11.3h-1.3zM262.5 292.5h1.3v12.8h-1.3zM264.5 271.8h1.3v6.2h-1.3zM271.5 316h1.3v8.3h-1.3zM280.5 316h3.3v8.3h-3.3zM317.5 316h1.3v8.3h-1.3zM318.5 316h2.3v8.3h-2.3zM328.5 316h0.5v8.3h-0.5z"/>
<path fill="#43e806" d="M230.5 284h1.3v8.8h-1.3zM230.5 292.5h1.3v12.8h-1.3zM231.5 284h2.3v8.8h-2.3zM235.5 292.5h3.3v12.8h-3.3zM238.5 292.5h1.3v12.8h-1.3zM239.5 271.8h3.3v6.2h-3.3zM239.5 277.7h3.3v6.6h-3.3zM239.5 284h3.3v8.8h-3.3zM242.5 292.5h1.3v12.8h-1.3zM243.5 305h1.3v11.3h-1.3zM247.5 292.5h3.3v12.8h-3.3zM250.5 271.8h1.3v6.2h-1.3zM250.5 284h1.3v8.8h-1.3zM252.5 316h1.3v8.3h-1.3zM254.5 292.5h3.3v12.8h-3.3zM259.5 292.5h3.3v12.8h-3.3zM264.5 277.7h1.3v6.6h-1.3zM264.5 284h1.3v8.8h-1.3zM264.5 292.5h1.3v12.8h-1.3zM265.5 292.5h3.3v12.8h-3.3zM268.5 324h3.3v7.7h-3.3zM272.5 316h2.3v8.3h-2.3zM277.5 316h1.3v8.3h-1.3zM288.5 316h2.3v8.3h-2.3z"/>
<path fill="#58e904" d="M231.5 292.5h2.3v12.8h-2.3zM231.5 324h2.3v7.7h-2.3zM234.5 316h1.3v8.3h-1.3zM239.5 292.5h3.3v12.8h-3.3zM274.5 316h3.3v8.3h-3.3zM274.5 324h3.3v7.7h-3.3zM277.5 324h1.3v7.7h-1.3zM280.5 324h3.3v7.7h-3.3zM303.5 305h3.3v11.3h-3.3zM324.5 324h3.3v7.7h-3.3zM328.5 324h0.5v7.7h-0.5z"/>
<path fill="#6cea03" d="M230.5 305h1.3v11.3h-1.3zM243.5 324h1.3v7.7h-1.3zM250.5 292.5h1.3v12.8h-1.3zM252.5 324h1.3v7.7h-1.3zM263.5 305h1.3v11.3h-1.3zM271.5 324h1.3v7.7h-1.3zM272.5 324h2.3v7.7h-2.3zM278.5 316h2.3v8.3h-2.3zM309.5 316h1.3v8.3h-1.3zM310.5 316h2.3v8.3h-2.3zM312.5 316h2.3v8.3h-2.3zM314.5 316h1.3v8.3h-1.3zM315.5 316h2.3v8.3h-2.3zM317.5 324h1.3v7.7h-1.3zM318.5 324h2.3v7.7h-2.3zM327.5 316h1.3v8.3h-1.3z"/>
<path fill="#81ea01" d="M235.5 305h3.3v11.3h-3.3zM235.5 324h3.3v7.7h-3.3zM238.5 324h1.3v7.7h-1.3zM242.5 305h1.3v11.3h-1.3zM243.5 316h1.3v8.3h-1.3zM244.5 305h3.3v11.3h-3.3zM251.5 305h1.3v11.3h-1.3zM253.5 305h1.3v11.3h-1.3zM257.5 316h1.3v8.3h-1.3zM278.5 324h2.3v7.7h-2.3zM283.5 316h3.3v8.3h-3.3zM286.5 316h2.3v8.3h-2.3zM320.5 316h3.3v8.3h-3.3z"/>
<path fill="#96eb00" d="M229.5 271.8h1.3v6.2h-1.3zM229.5 324h1.3v7.7h-1.3zM230.5 316h1.3v8.3h-1.3zM231.5 305h2.3v11.3h-2.3zM238.5 305h1.3v11.3h-1.3zM242.5 324h1.3v7.7h-1.3zM258.5 305h1.3v11.3h-1.3zM262.5 305h1.3v11.3h-1.3zM265.5 305h3.3v11.3h-3.3zM288.5 324h2.3v7.7h-2.3zM299.5 316h3.3v8.3h-3.3zM306.5 316h3.3v8.3h-3.3zM310.5 324h2.3v7.7h-2.3zM314.5 324h1.3v7.7h-1.3zM315.5 324h2.3v7.7h-2.3zM327.5 324h1.3v7.7h-1.3z"/>
<path fill="#a9ef00" d="M231.5 316h2.3v8.3h-2.3zM235.5 316h3.3v8.3h-3.3zM239.5 305h3.3v11.3h-3.3zM239.5 324h3.3v7.7h-3.3zM244.5 324h3.3v7.7h-3.3zM247.5 305h3.3v11.3h-3.3zM254.5 305h3.3v11.3h-3.3zM259.5 305h3.3v11.3h-3.3zM283.5 324h3.3v7.7h-3.3zM290.5 316h3.3v8.3h-3.3zM302.5 316h1.3v8.3h-1.3zM309.5 324h1.3v7.7h-1.3zM312.5 324h2.3v7.7h-2.3z"/>
<path fill="#bcf200" d="M229.5 277.7h1.3v6.6h-1.3zM238.5 316h1.3v8.3h-1.3zM242.5 316h1.3v8.3h-1.3zM244.5 316h3.3v8.3h-3.3zM250.5 305h1.3v11.3h-1.3zM253.5 316h1.3v8.3h-1.3zM257.5 324h1.3v7.7h-1.3zM264.5 305h1.3v11.3h-1.3zM320.5 324h3.3v7.7h-3.3zM323.5 316h1.3v8.3h-1.3z"/>
<path fill="#cef600" d="M229.5 284h1.3v8.8h-1.3zM229.5 292.5h1.3v12.8h-1.3zM239.5 316h3.3v8.3h-3.3zM247.5 316h3.3v8.3h-3.3zM251.5 316h1.3v8.3h-1.3zM258.5 316h1.3v8.3h-1.3zM263.5 316h1.3v8.3h-1.3zM286.5 324h2.3v7.7h-2.3zM293.5 316h1.3v8.3h-1.3zM298.5 316h1.3v8.3h-1.3zM303.5 316h3.3v8.3h-3.3z"/>
<path fill="#e1f900" d="M247.5 324h3.3v7.7h-3.3zM251.5 324h1.3v7.7h-1.3zM253.5 324h1.3v7.7h-1.3zM262.5 316h1.3v8.3h-1.3zM306.5 324h3.3v7.7h-3.3z"/>
<path fill="#f4fd00" d="M229.5 305h1.3v11.3h-1.3zM250.5 316h1.3v8.3h-1.3zM250.5 324h1.3v7.7h-1.3zM254.5 316h3.3v8.3h-3.3zM258.5 324h1.3v7.7h-1.3zM259.5 316h3.3v8.3h-3.3zM265.5 316h3.3v8.3h-3.3zM297.5 316h1.3v8.3h-1.3zM302.5 324h1.3v7.7h-1.3zM323.5 324h1.3v7.7h-1.3z"/>
<path fill="#fffa00" d="M254.5 324h3.3v7.7h-3.3zM263.5 324h1.3v7.7h-1.3zM303.5 324h3.3v7.7h-3.3z"/>
<path fill="#ffec00" d="M229.5 316h1.3v8.3h-1.3zM264.5 316h1.3v8.3h-1.3zM299.5 324h3.3v7.7h-3.3z"/>
<path fill="#ffdf00" d="M259.5 324h3.3v7.7h-3.3zM262.5 324h1.3v7.7h-1.3zM290.5 324h3.3v7.7h-3.3z"/>
<path fill="#ffd200" d="M264.5 324h1.3v7.7h-1.3zM265.5 324h3.3v7.7h-3.3z"/>
<path fill="#ffc500" d="M294.5 316h3.3v8.3h-3.3z"/>
<path fill="#ffb700" d="M293.5 324h1.3v7.7h-1.3z"/>
<path fill="#ffaa00" d="M298.5 324h1.3v7.7h-1.3z"/>
<path fill="#ff6e00" d="M297.5 324h1.3v7.7h-1.3z"/>
<path fill="#ff0a00" d="M294.5 324h3.3v7.7h-3.3z"/>
</g>
<polygon fill="#fff" points="47.5,336 47.5,331.5 49.4,331.6 50.5,331.2 51.4,331.5 52.3,331.5 53.3,331.5 54.7,331.6 56.5,330.8 58.3,331.5 59.8,331.8 61.6,331.4 62.9,332.2 63.8,331.8 65.4,330.8 66.9,331.8 68.8,331.3 70.8,331.6 72.2,332.1 73,331.9 74.6,331.3 76.4,331.3 77.8,331.6 79.5,331.1 80.8,331.4 82.3,332 83.4,332 84.7,331.6 85.8,331.6 87.8,331.8 89.6,331.3 90.7,331.2 92.3,331.8 94,330.9 95.7,332.1 97.1,330.9 98.3,330.8 99.3,332.2 100.8,331.8 102.6,332.2 104.1,331.7 105.7,331.8 107.2,331.8 108.2,331.8 109.6,331.9 110.5,331.1 111.4,332 113.2,331.8 114.5,332 116.2,331.6 117.3,331.3 118.7,331.3 120,331.8 121.9,330.9 123.4,330.9 124.3,332 125.8,332.2 127.1,330.8 128.4,331.7 130.3,332.3 131.7,331.4 132.6,331.8 133.7,331 134.5,330.8 136.1,331 138.1,330.9 139.9,331 140.7,331.9 141.8,331.9 142.9,330.9 144.6,331.9 146.4,331.9 147.3,331.7 149,331.5 150.9,331.2 152.8,331.9 153.7,330.8 155.2,332 156.1,331.3 157.8,331 159.6,331.5 160.5,331.4 162,331.5 163.6,331 165.4,331.3 166.9,331.7 168.2,331.4 170,332.2 171.7,331.7 172.9,330.9 174.8,331.9 176.6,331.3 178.2,332.3 180,331.7 181.1,331.4 183,331.4 184.6,331.7 186.5,332 187.6,330.8 188.8,331.4 190.3,332 192.1,330.9 193.9,332 195.8,331.7 196.9,332.1 198.7,331.8 200.6,331.3 201.5,331.6 203.2,331.1 204.9,332.2 206,331.7 207.6,331.5 208.7,331.2 210.4,332 211.7,330.9 213.5,332 214.6,331.7 216.4,332.1 217.9,331.5 219.4,331.1 220.4,331.1 222,331.3 223.5,331.4 224.9,331 225.8,332.3 227,331 228.6,332 229.6,331.7 230.8,331.6 231.6,330.9 233.6,332.1 235,331.7 236.1,332 237.4,332.2 239.1,332 241.1,331.2 241.9,331.1 243,330.9 243.8,331.6 245.7,331.5 247.6,332.2 248.5,331.7 249.8,331 251.7,331.2 253.2,331.8 255.1,331.8 256.4,331.5 257.4,332.2 259.4,331.1 260.2,331.2 261.5,332.2 263.3,332.1 264.2,332 265.9,331.8 267.8,330.9 268.8,331.9 270.7,331.8 271.9,331.7 273.6,331 274.8,331.2 275.7,331.5 276.7,331.2 277.7,331.8 278.5,331.9 279.6,330.9 281.5,331.1 283.4,332.1 285.3,331 286.6,330.9 288.5,332.1 290.1,331.5 291.3,332 292.7,331.7 293.6,331.1 294.5,331.9 296,331 297.8,331.2 299.1,331 300.2,332.1 301.4,331.1 302.8,331.3 304.7,331 306.7,330.9 308.5,331.8 309.6,331.5 310.7,331.2 311.8,331.3 313.8,332.3 315.7,330.9 316.8,332.1 317.7,331.9 318.8,332.3 319.7,332 320.9,331 321.7,332 323.1,331.1 324.4,332.2 325.5,331.7 326.5,331.1 328.2,331.9 328.7,331.6 328.7,336"/>
<polyline fill="none" stroke="#0a0a0a" stroke-width="1.4" stroke-linejoin="round" points="47.7,46.3 49.4,48 50.5,48.2 51.5,49.6 53.2,46.9 54.2,46.2 55.1,46.8 56,46.4 57,46.3 58.1,46.3 59.1,46.4 60.2,47.3 61.3,47.4 62.2,48.2 63.1,48.9 64,49 64.9,48.6 65.9,47.5 66.8,47.4 67.8,47.3 68.7,48.8 69.6,48.9 70.6,49.6 71.7,47.5 72.7,44.7 74.4,48 75.5,48.4 76.6,50.1 77.7,49.7 78.7,48.5 79.8,49 80.9,50.4 82,50.7 83.6,53.4 84.5,53 85.4,51.6 86.3,50.7 87.4,49.3 88.5,49.8 89.6,48.5 90.7,47.7 91.8,47.6 92.9,46.3 94,48.2 95,50.7 96.1,48.6 97.2,47.4 98.3,47.9 99.4,47.2 100.5,47.4 101.6,45.3 102.7,44.1 103.8,46.4 104.8,49 105.9,43.6 106.8,45.2 107.8,45.8 108.7,48 110.3,51.8 111.6,63.7 112,54 113.5,51.8 114.4,53.3 115.4,54.6 116.3,56.1 117.2,55.1 118.1,53.4 119,52.9 120.1,52.7 121.2,51.8 123,51.6 124.1,53.5 125.2,54.6 126.3,62 127.5,55.3 128.5,53.6 129.4,50.6 130.4,48.6 131.6,47.7 132.7,46.3 133.8,43.5 134.9,41.1 136.4,42.6 137.9,49.3 139.4,44.9 140.1,52.3 141.6,42.6 143.1,51.6 144.6,44.9 146.1,50.8 147.2,46 148.4,40.4 149.9,49.3 151.3,42.6 152.5,52.3 153.1,43.4 154.6,32.9"/>
<polyline fill="none" stroke="#0a0a0a" stroke-width="1.0" stroke-linejoin="round" points="154.6,32.9 155.5,31.3 156.4,31.4 157.3,29.9 158.2,30.3 159.1,29.4 160,29.2 160.9,29 161.8,28.7 162.8,29.2 163.8,28.8 164.8,29.9 165.7,30.9 166.7,30.1 167.6,30.4 168.5,31.1 169.6,29.6 170.8,29 171.9,28.4 173.2,30.3 174.5,31.4 175.5,32.7 176.5,34.8 177.5,37.4 178.6,39.9 179.7,41.9 180.4,48.6 181.2,40.4 182.3,39.6 183.4,39.6 184.6,36.3 185.7,34.4 186.7,33 187.7,31.5 188.7,29.9 189.8,29.9 190.9,30.2 192,29.3 193.1,29.9 194.1,30.7 195,30.4 196.1,30 197.2,28.9 198.2,27.5 199.2,26.9 200.2,26.7 201.3,28.1 202.5,29.6 203.6,31.9 204.7,34.1 206.2,32.6 207.7,37.9 208.7,51.3 209.9,37.9 211.4,36.4 212.9,45.3 214.1,55.8 215.1,58.7 216.6,48.3 218.1,37.9 219.6,34.9 221.1,40.1 221.9,43.8 223.4,36.4 224.5,33.1 225.6,30.4 227.1,28.9 228.6,32.6 230.1,37.1 230.8,25.9 232,20.7 233.1,28.1 234.6,30.4 235.6,32.6"/>
<polyline fill="none" stroke="#0a0a0a" stroke-width="1.4" stroke-linejoin="round" points="235.6,32.6 236.5,18.4 237.5,17.7 238.3,31.9 239.3,20.7 240.5,24.4 242,21.4 243.2,19 244.3,17.7 245.3,18.3 246.2,18.7 247.2,19.9 248.1,20.6 249.1,21.6 250.1,21.1 251,22.2 251.9,22.5 252.8,22.9 253.8,22.3 254.7,22.9 255.8,23.9 256.9,24.5 258,24.4 259,23.5 260,22.8 261,22.2 262.1,24.4 263.2,25.7 264.3,27.4 265.2,23.2 266.2,19.2 267.1,21.3 268.1,22.2 269.6,15.7 270.6,16.6 271.6,16.5 272.7,16.8 273.7,17.7 274.6,17.2 275.5,17.1 276.5,17.5 277.4,16.6 278.5,18.3 279.6,19.2 280.6,19.4 281.6,18.9 282.6,18.1 283.6,19 284.6,18.2 285.6,19.2 286.6,20.5 287.6,22.3 288.6,22.9 289.6,22.9 290.6,21.3 291.6,21.1 293.1,23.7 294.6,31.1 296,36.3 297.5,40.1 299,34.9 300,34 301,33.6 302,32.6 303.5,35.6 304.4,38 305.4,40.8 306.5,37.1 308,35.6 309.5,40.8 310.5,34.1 311.7,46.8 312.5,34.9 314,32.6 315.4,46.8 316.2,33.4 317.7,28.9 319.2,34.9 320.3,33.8 321.4,32.6 322.5,33.5 323.7,35.6 324.7,35.3 325.6,35.1 326.6,34.9 327.6,35.3 328.5,37.1"/>
<polyline fill="none" stroke="#0a0a0a" stroke-width="1.4" stroke-linejoin="round" points="48,120.2 49.1,117.8 50.9,116.6 52.1,117.5 53.3,119 54.5,119.6 55.6,119.6 56.8,119.6 57.7,120 58.6,119.7 59.5,119.9 60.4,119.6 61.4,119.5 62.3,119.1 63.3,118.4 63.9,117.2 64.8,117.7 65.7,119 66.7,118.3 67.7,117.2 68.7,116.6 69.8,115.9 71,114.9 72.8,118.4 74,115.4 75.2,113.4 76.4,111.9 78.1,114.3 79.3,113.7 80.5,113.1 81.5,112.9 82.5,112 83.5,111.3 84.5,110.6 85.5,110.4 86.6,109.9 87.6,109.5 88.5,109.6 89.4,108.7 90.3,108.4 91.2,108.3 92.3,108.2 93.5,107.8 94.7,110.7 95.7,112.5 97,111.6 98.3,111.3 99.5,111.2 100.6,111.3 101.8,110.7 103,109.5 104.2,108.3 105.9,111.3 107.7,108.9 109.5,108.3 110.7,111.3 111.9,107.8 113.1,107 114.2,106.6 115.4,105.7 116.6,104.8 117.8,106 119,107.2 120,107.1 120.9,107.3 121.9,107.8 123.3,106.2 124.4,105.5 125.5,105.3 126.6,105.1 127.6,107.6 128.6,110.2 129.5,109.5 130.4,109 131.3,108.8 132.2,109.8 133.2,111.5 134.4,113.5 135.6,115.5 136.8,113.5 137.9,110.8 138.9,112.2 139.9,113.5 140.9,108.2 142.5,110.8 143.5,109.2 144.5,107.5 145.8,109.5 147.2,106.9 148.5,112.8 149.4,116.1 150.7,112.2 151.6,112.3 152.5,112.2 153.8,116.1"/>
<polyline fill="none" stroke="#0a0a0a" stroke-width="1.0" stroke-linejoin="round" points="153.8,116.1 155.1,117.5 155.8,122.1 157.1,120.1 158.1,121.8 159.1,124.1 160.4,123.6 161.7,122.7 162.7,120.7 163.7,118.8 164.6,119.3 165.5,119.8 166.4,120.1 167.5,120.3 168.6,120.4 169.7,120.8 171,119.6 172.3,118.8 173.7,117.5 175,116.8 176,116.5 177,116.1 177.9,113.3 178.9,110.8 179.9,109.6 180.9,108.2 182.2,108.1 183.6,108.8 184.9,110 186.2,111.5 187.2,113.1 188.2,114.1 189.3,113.4 190.4,113.3 191.5,112.8 192.8,113.1 194.2,113.5 195,113.2 196,112.7 196.9,113.1 197.9,112.4 199,113 200.1,113.9 201.2,112.7 202.3,111 203.4,108.5 204.5,106.6 206,103.6 207,105.8 208.2,89.7 209.4,90.5 210.4,100.7 211.4,101.4 212.6,92.7 213.3,97.8 214.8,85.3 215.8,86.8 217,98.5 218.4,104.4 219.5,104.4 220.6,105.1 222.1,101.4 223.1,94.1 224.3,98.5 225.8,102.2 227.5,97 228.7,89 229.9,96.3 230.9,99.2 232.4,101.4 233.8,105.1 234.9,102.9 235.7,100 236.8,117.6"/>
<polyline fill="none" stroke="#0a0a0a" stroke-width="1.05" stroke-linejoin="round" points="236.8,117.6 237.8,114.6 238.5,104.4 239.4,113.2 240.4,117.6 241.5,117.9 242.6,117.6 243.7,119.3 244.8,121.2 245.8,120.3 246.7,120.2 247.7,119.8 248.6,119.4 249.6,119.3 250.5,118.3 251.4,118.3 252.3,117.9 253.2,118.4 254.2,118 255.1,117.6 256.1,117.8 257,118.4 258,119 259,119.1 259.9,119.7 260.9,119.8 261.8,119.4 262.7,119.1 263.6,118.3 265.3,121.2 266.4,121.5 267.5,121.2 268.9,126 269.8,126.2 270.8,126.5 271.8,126.7 272.7,126.6 273.7,127 274.7,127 275.7,127.5 276.7,127.6 277.7,127.6 279,127.5 280.3,126.6 281.6,126.8 282.8,127.6 283.9,127.8 285,126.8 286.1,127.3 287.2,126.9 288.1,127.2 289,127.4 289.9,128 290.8,127.9 291.7,128.1 292.9,127.6 294.2,127.2 295.2,125.1 296.2,125.5 297.2,125.7 298.3,125.6 299.3,125.6 300.4,125.8 301.4,126.2 302.5,126.6 303.6,126.2 304.7,126.2 305.8,125.4 306.9,125.3 307.8,125.6 308.8,126.1 309.8,126.4 310.7,126.9 311.7,126.8 312.7,127.3 313.8,127.4 314.8,127.1 315.8,127.2 316.8,127.2 317.7,127.1 318.7,127.3 319.6,127.6 320.6,126.9 321.7,127 322.7,126.6 323.4,135.5 324,126.6 325.1,126.8 326.1,126.4 327.2,126.9 328.5,127"/>
<polyline fill="none" stroke="#1c1c1c" stroke-width="0.85" stroke-linejoin="round" points="48,181 49.2,178.1 50.5,180.5 51.8,182.3 53.1,173.8 54.2,174.1 55.2,174.7 56.8,173 57.9,175 59.1,176.7 60.2,178.1 61.9,177.2 63,179.3 64.2,180.4 65.3,182.3 66.5,183.9 67.8,185.7 69.1,187.3 70.4,188.2 72.1,185.7 72.9,177.2 73.8,185.7 75,187 76.3,189.1 77.4,187.6 78.6,186.9 79.7,185.7 80.8,186.8 82,188.3 83.1,189.1 84.3,190.2 85.6,190.8 86.6,190.7 87.6,190.8 88.7,190.3 89.7,190.1 90.7,189.9 91.8,189.6 92.8,189 93.9,188.5 94.9,188.2 96,188.6 97,188.7 98,189.5 99.1,189.4 100.2,189.5 101.2,189.3 102.3,188.9 103.4,189.1 104.7,189.8 105.9,190.8 107,190.3 108.2,189.9 109.3,189.4 110.5,190 111.8,190.4 113.1,189.6 114.4,188.2 115.5,188 116.7,187.1 117.8,186.5 118.9,188.2 120,189.9 121.2,190.8 122.5,191.6 123.8,191.1 125.1,189.9 126.1,190.6 127.1,191.6 128.5,187.4 129.8,190.8 130.8,188.3 131.8,185.7 133.1,184.7 134.4,183.1 136.1,180.6 137.2,181.9 138.3,183.7 140,180.6 141.7,184 143.3,179.8 145,184.8 146.7,176.4 147.9,179.8 149.1,172.1 150.4,176.4 151.8,171.3 152.5,179.8 153.5,173.8 154.7,165.4 155.9,161.1 157,161.8 158.1,162.8 159.7,161.7 161,163.7 162.3,165 164,163.7 165.7,166.2 167.4,163.7 168.7,164.8 169.9,165.4 171.2,168.4 172.4,171.3 174.1,173 175.5,170.4 176.5,173.9 177.5,178.1 178.5,181.4 179.5,184 180.9,184.8 182.2,183.7 183.4,182.3 184.7,183.6 186,184.3 187.7,185.7 188.9,185.2 190.2,184 191.4,185.6 192.7,186.5 194.4,184.8 195,186.5 196.4,184.3 197.4,186.6 198.4,189.1 199.7,189.2 200.9,189.9 202.2,189.5 203.5,189.4 204.5,189 205.5,188.6 206.5,188.2 207.7,180.6 208.9,176.4 210.2,183.1 211.6,180.6 212.8,174.7 213.6,179.8 215,173 216.2,178.1 217.3,182.8 218.7,187.4 219.9,186.3 221.2,185.7 222.9,180.6 224.6,184 226.3,184.8 228,178.9 229.2,178.1 230.5,184.8 231.6,186.7 232.6,189.1 234.2,186.5 235.6,189.1 236.4,173.8 237.3,180.6 238.6,187.4 239.8,183.1 241.5,184 243.2,179.8 244.6,175.5 245.8,179.8 247.4,180.6 249.1,182.3 250.4,183.3 251.7,184 252.9,184.9 254.2,185.7 255.4,184.7 256.7,184 258,183.9 259.3,183.1 260.6,182.4 261.8,181.4 263.5,183.1 265.2,179.2 266.9,180.6 268.1,179.8 268.8,156.9 269.3,151 270.5,157.8 272.2,156.1 273.3,157 274.4,158.6 275.6,158.1 276.9,157.8 278.2,158.9 279.5,159.5 280.8,158.5 282,157.8 283.7,156.1 285.4,159.5 287.1,162 288.4,161.7 289.6,161.1 290.7,160.4 291.9,160.4 293,160.3 294.3,148.5 295,163.7 296.4,166.2 297.6,166.5 298.9,166.2 300.1,165.9 301.4,165.4 302.7,165.5 304,165.4 305.7,166.2 306.5,146.8 307.4,162 308.7,155.2 310.4,156.1 312.1,162 313.1,162.6 314.1,163.7 315.4,160.3 316.7,156.9 317.8,159.9 318.9,162.8 319.9,161 320.9,159.5 322.1,157.9 323.4,156.1 325.1,160.3 326.8,158.6 328.5,160"/>
<polyline fill="none" stroke="#1c1c1c" stroke-width="0.85" stroke-linejoin="round" points="47.5,259.9 49.2,256.5 50.9,255.7 52.1,254 53.5,259.9 54.8,260.8 56,261.6 57.7,262.4 59.4,259.9 61.1,260.7 62.4,259 63.6,256.5 64.8,257 66.1,257.4 67.4,255.6 68.7,254 70.4,252.3 71.7,254.8 72.9,261.6 74.1,254 75.8,248.1 76.9,249.9 78,252.3 79.2,251.6 80.5,251.4 81.8,249.1 83.1,246.4 84.3,244.4 85.6,243 86.8,241.8 88.1,241.3 89.4,241.6 90.7,242.5 92,242.2 93.2,241.8 94.9,244.7 96.3,248.1 97.3,247.1 98.3,245.5 99.4,245.3 100.6,245.2 101.7,244.7 103.4,241.3 104.2,240.5 105.6,246.4 106.8,241.3 108.4,242.1 110.1,245.5 111.5,237.9 112.7,235.4 114,234.8 115.2,235 116.5,234 117.8,233.7 119.1,237.1 120,236.2 121.2,234.7 122.5,232.8 124.2,233.7 125.5,231.9 126.8,230.3 128.1,235.4 129.8,234.5 131,237.9 132.2,235.4 133.9,242.1 135,244.4 136.1,246.4 137.8,240.5 139.5,236.2 141.1,233.7 142.8,237.1 144.5,234.5 146.2,234.5 147.4,241.3 148.8,248.1 150.1,242.1 151.8,238.8 153,246.4 154.2,250.6 155.5,259.9 157.2,260.7 158.9,264.1 160.2,262.3 161.4,260.7 163.1,255.7 164.4,255.4 165.7,255.7 166.9,256.8 168.2,258.2 169.5,257 170.8,256.5 172.1,254.3 173.3,251.4 175,249.7 176.7,247.2 177.9,244.3 179.2,241.3 180.9,239.6 182.2,239.1 183.4,238.8 184.7,240.4 186,242.1 187.7,249.7 189.4,250.6 191,246.4 192.3,245.9 193.6,245.5 195,246.4 196,245.6 197,245.5 198.1,247.9 199.2,249.7 200.5,247.3 201.8,244.7 203.5,243 205.1,237.1 206.5,237.9 207.7,231.1 208.9,224.4 210.2,232.8 211.6,230.3 212.8,221.8 213.9,217.6 215.3,218.5 216.7,226.1 217.8,231.1 219,236.2 220.1,234.9 221.2,232.8 222.9,226.1 224.6,229.5 226.3,232 228,226.1 229.7,217.6 231,213.4 232.2,220.1 233.9,224.4 235.3,226.1 236.4,239.6 237.3,223.5 238.1,244.7 239,222.7 239.8,235.4 241,237.9 242.4,235.4 244.1,243.8 245.4,247.2 246.4,245.1 247.4,243 249.1,240.5 250.4,241 251.7,241.3 252.9,239.8 254.2,238.8 255.4,239.7 256.7,241.3 258,242.5 259.3,243 260,244.6 261,244.5 262,243.8 263.7,241.2 265.4,247.1 267.1,244.6 268.1,253.9 268.8,264.1 270.2,262.4 271.8,264.9 273.1,263.9 274.4,263.2 275.6,264.8 276.9,265.8 278.6,262.7 279.9,264.5 281.1,265.8 282.4,265.4 283.7,265.4 284.8,264.9 286,264.6 287.1,263.7 288.4,264.3 289.6,264.9 290.6,265.4 291.5,265 292.5,265.4 293.6,262.1 294.7,259 295.8,257.3 296.9,255.3 297.9,255.7 298.8,256.5 299.8,257.3 300.9,259.1 302,260.3 303,258.8 304,257.3 305,256.5 306,255.3 307.1,256.1 308.2,257.3 309.4,255.6 310.5,257.9 311.6,260.7 312.7,261.4 313.8,262.4 315,259.8 316.7,264.9 317.9,263.4 319.2,262.4 320.4,263.4 321.7,263.7 323,262.9 324.3,262.4 325.6,262 326.8,261.5 328.5,261"/>
<rect x="112" y="7.8" width="5.1" height="263.2" fill="rgba(255,255,10,0.6)"/>
<rect x="117.1" y="7.8" width="9.6" height="263.2" fill="rgba(163,210,30,0.6)"/>
<rect x="153.3" y="7.8" width="26.7" height="263.2" fill="rgba(181,225,228,0.5)"/>
<rect x="180" y="7.8" width="34.4" height="263.2" fill="rgba(205,155,245,0.5)"/>
<rect x="214.4" y="7.8" width="20.2" height="263.2" fill="rgba(45,95,245,0.5)"/>
<rect x="154.5" y="9.8" width="20" height="8.4" fill="rgba(150,205,225,0.22)"/>
<rect x="185.7" y="9.8" width="20.3" height="8.2" fill="rgba(190,120,235,0.22)"/>
<rect x="47.5" y="7.8" width="281.2" height="263.2" fill="none" stroke="#1a1a1a" stroke-width="1"/>
<line x1="47.5" y1="72" x2="328.7" y2="72" stroke="#262626" stroke-width="1.0"/>
<line x1="47.5" y1="139.8" x2="328.7" y2="139.8" stroke="#262626" stroke-width="1.0"/>
<line x1="47.5" y1="206.2" x2="328.7" y2="206.2" stroke="#262626" stroke-width="1.0"/>
<line x1="328.4" y1="7.8" x2="328.4" y2="271" stroke="#1a1a1a" stroke-width="1.8"/>
<line x1="47.7" y1="7.8" x2="47.7" y2="271" stroke="#1a1a1a" stroke-width="1.2"/>
<line x1="47.5" y1="7.8" x2="47.5" y2="9.8" stroke="#1a1a1a" stroke-width="0.9"/>
<line x1="59.2" y1="7.8" x2="59.2" y2="9.4" stroke="#1a1a1a" stroke-width="0.9"/>
<line x1="70.9" y1="7.8" x2="70.9" y2="9.8" stroke="#1a1a1a" stroke-width="0.9"/>
<line x1="82.7" y1="7.8" x2="82.7" y2="9.4" stroke="#1a1a1a" stroke-width="0.9"/>
<line x1="94.4" y1="7.8" x2="94.4" y2="9.8" stroke="#1a1a1a" stroke-width="0.9"/>
<line x1="106.1" y1="7.8" x2="106.1" y2="9.4" stroke="#1a1a1a" stroke-width="0.9"/>
<line x1="117.8" y1="7.8" x2="117.8" y2="9.8" stroke="#1a1a1a" stroke-width="0.9"/>
<line x1="129.5" y1="7.8" x2="129.5" y2="9.4" stroke="#1a1a1a" stroke-width="0.9"/>
<line x1="141.2" y1="7.8" x2="141.2" y2="9.8" stroke="#1a1a1a" stroke-width="0.9"/>
<line x1="152.9" y1="7.8" x2="152.9" y2="9.4" stroke="#1a1a1a" stroke-width="0.9"/>
<line x1="164.7" y1="7.8" x2="164.7" y2="9.8" stroke="#1a1a1a" stroke-width="0.9"/>
<line x1="176.4" y1="7.8" x2="176.4" y2="9.4" stroke="#1a1a1a" stroke-width="0.9"/>
<line x1="188.1" y1="7.8" x2="188.1" y2="9.8" stroke="#1a1a1a" stroke-width="0.9"/>
<line x1="199.8" y1="7.8" x2="199.8" y2="9.4" stroke="#1a1a1a" stroke-width="0.9"/>
<line x1="211.5" y1="7.8" x2="211.5" y2="9.8" stroke="#1a1a1a" stroke-width="0.9"/>
<line x1="223.2" y1="7.8" x2="223.2" y2="9.4" stroke="#1a1a1a" stroke-width="0.9"/>
<line x1="235" y1="7.8" x2="235" y2="9.8" stroke="#1a1a1a" stroke-width="0.9"/>
<line x1="246.7" y1="7.8" x2="246.7" y2="9.4" stroke="#1a1a1a" stroke-width="0.9"/>
<line x1="258.4" y1="7.8" x2="258.4" y2="9.8" stroke="#1a1a1a" stroke-width="0.9"/>
<line x1="270.1" y1="7.8" x2="270.1" y2="9.4" stroke="#1a1a1a" stroke-width="0.9"/>
<line x1="281.8" y1="7.8" x2="281.8" y2="9.8" stroke="#1a1a1a" stroke-width="0.9"/>
<line x1="293.5" y1="7.8" x2="293.5" y2="9.4" stroke="#1a1a1a" stroke-width="0.9"/>
<line x1="305.3" y1="7.8" x2="305.3" y2="9.8" stroke="#1a1a1a" stroke-width="0.9"/>
<line x1="317" y1="7.8" x2="317" y2="9.4" stroke="#1a1a1a" stroke-width="0.9"/>
<line x1="328.7" y1="7.8" x2="328.7" y2="9.8" stroke="#1a1a1a" stroke-width="0.9"/>
<line x1="47.5" y1="70.3" x2="47.5" y2="73.7" stroke="#1a1a1a" stroke-width="0.9"/>
<line x1="59.2" y1="70.7" x2="59.2" y2="73.3" stroke="#1a1a1a" stroke-width="0.9"/>
<line x1="70.9" y1="70.3" x2="70.9" y2="73.7" stroke="#1a1a1a" stroke-width="0.9"/>
<line x1="82.7" y1="70.7" x2="82.7" y2="73.3" stroke="#1a1a1a" stroke-width="0.9"/>
<line x1="94.4" y1="70.3" x2="94.4" y2="73.7" stroke="#1a1a1a" stroke-width="0.9"/>
<line x1="106.1" y1="70.7" x2="106.1" y2="73.3" stroke="#1a1a1a" stroke-width="0.9"/>
<line x1="117.8" y1="70.3" x2="117.8" y2="73.7" stroke="#1a1a1a" stroke-width="0.9"/>
<line x1="129.5" y1="70.7" x2="129.5" y2="73.3" stroke="#1a1a1a" stroke-width="0.9"/>
<line x1="141.2" y1="70.3" x2="141.2" y2="73.7" stroke="#1a1a1a" stroke-width="0.9"/>
<line x1="152.9" y1="70.7" x2="152.9" y2="73.3" stroke="#1a1a1a" stroke-width="0.9"/>
<line x1="164.7" y1="70.3" x2="164.7" y2="73.7" stroke="#1a1a1a" stroke-width="0.9"/>
<line x1="176.4" y1="70.7" x2="176.4" y2="73.3" stroke="#1a1a1a" stroke-width="0.9"/>
<line x1="188.1" y1="70.3" x2="188.1" y2="73.7" stroke="#1a1a1a" stroke-width="0.9"/>
<line x1="199.8" y1="70.7" x2="199.8" y2="73.3" stroke="#1a1a1a" stroke-width="0.9"/>
<line x1="211.5" y1="70.3" x2="211.5" y2="73.7" stroke="#1a1a1a" stroke-width="0.9"/>
<line x1="223.2" y1="70.7" x2="223.2" y2="73.3" stroke="#1a1a1a" stroke-width="0.9"/>
<line x1="235" y1="70.3" x2="235" y2="73.7" stroke="#1a1a1a" stroke-width="0.9"/>
<line x1="246.7" y1="70.7" x2="246.7" y2="73.3" stroke="#1a1a1a" stroke-width="0.9"/>
<line x1="258.4" y1="70.3" x2="258.4" y2="73.7" stroke="#1a1a1a" stroke-width="0.9"/>
<line x1="270.1" y1="70.7" x2="270.1" y2="73.3" stroke="#1a1a1a" stroke-width="0.9"/>
<line x1="281.8" y1="70.3" x2="281.8" y2="73.7" stroke="#1a1a1a" stroke-width="0.9"/>
<line x1="293.5" y1="70.7" x2="293.5" y2="73.3" stroke="#1a1a1a" stroke-width="0.9"/>
<line x1="305.3" y1="70.3" x2="305.3" y2="73.7" stroke="#1a1a1a" stroke-width="0.9"/>
<line x1="317" y1="70.7" x2="317" y2="73.3" stroke="#1a1a1a" stroke-width="0.9"/>
<line x1="328.7" y1="70.3" x2="328.7" y2="73.7" stroke="#1a1a1a" stroke-width="0.9"/>
<line x1="47.5" y1="72" x2="52.5" y2="72" stroke="#1a1a1a" stroke-width="1.8"/>
<line x1="323.7" y1="72" x2="328.7" y2="72" stroke="#1a1a1a" stroke-width="1.8"/>
<line x1="47.5" y1="138.1" x2="47.5" y2="141.5" stroke="#1a1a1a" stroke-width="0.9"/>
<line x1="59.2" y1="138.5" x2="59.2" y2="141.1" stroke="#1a1a1a" stroke-width="0.9"/>
<line x1="70.9" y1="138.1" x2="70.9" y2="141.5" stroke="#1a1a1a" stroke-width="0.9"/>
<line x1="82.7" y1="138.5" x2="82.7" y2="141.1" stroke="#1a1a1a" stroke-width="0.9"/>
<line x1="94.4" y1="138.1" x2="94.4" y2="141.5" stroke="#1a1a1a" stroke-width="0.9"/>
<line x1="106.1" y1="138.5" x2="106.1" y2="141.1" stroke="#1a1a1a" stroke-width="0.9"/>
<line x1="117.8" y1="138.1" x2="117.8" y2="141.5" stroke="#1a1a1a" stroke-width="0.9"/>
<line x1="129.5" y1="138.5" x2="129.5" y2="141.1" stroke="#1a1a1a" stroke-width="0.9"/>
<line x1="141.2" y1="138.1" x2="141.2" y2="141.5" stroke="#1a1a1a" stroke-width="0.9"/>
<line x1="152.9" y1="138.5" x2="152.9" y2="141.1" stroke="#1a1a1a" stroke-width="0.9"/>
<line x1="164.7" y1="138.1" x2="164.7" y2="141.5" stroke="#1a1a1a" stroke-width="0.9"/>
<line x1="176.4" y1="138.5" x2="176.4" y2="141.1" stroke="#1a1a1a" stroke-width="0.9"/>
<line x1="188.1" y1="138.1" x2="188.1" y2="141.5" stroke="#1a1a1a" stroke-width="0.9"/>
<line x1="199.8" y1="138.5" x2="199.8" y2="141.1" stroke="#1a1a1a" stroke-width="0.9"/>
<line x1="211.5" y1="138.1" x2="211.5" y2="141.5" stroke="#1a1a1a" stroke-width="0.9"/>
<line x1="223.2" y1="138.5" x2="223.2" y2="141.1" stroke="#1a1a1a" stroke-width="0.9"/>
<line x1="235" y1="138.1" x2="235" y2="141.5" stroke="#1a1a1a" stroke-width="0.9"/>
<line x1="246.7" y1="138.5" x2="246.7" y2="141.1" stroke="#1a1a1a" stroke-width="0.9"/>
<line x1="258.4" y1="138.1" x2="258.4" y2="141.5" stroke="#1a1a1a" stroke-width="0.9"/>
<line x1="270.1" y1="138.5" x2="270.1" y2="141.1" stroke="#1a1a1a" stroke-width="0.9"/>
<line x1="281.8" y1="138.1" x2="281.8" y2="141.5" stroke="#1a1a1a" stroke-width="0.9"/>
<line x1="293.5" y1="138.5" x2="293.5" y2="141.1" stroke="#1a1a1a" stroke-width="0.9"/>
<line x1="305.3" y1="138.1" x2="305.3" y2="141.5" stroke="#1a1a1a" stroke-width="0.9"/>
<line x1="317" y1="138.5" x2="317" y2="141.1" stroke="#1a1a1a" stroke-width="0.9"/>
<line x1="328.7" y1="138.1" x2="328.7" y2="141.5" stroke="#1a1a1a" stroke-width="0.9"/>
<line x1="47.5" y1="139.8" x2="52.5" y2="139.8" stroke="#1a1a1a" stroke-width="1.8"/>
<line x1="323.7" y1="139.8" x2="328.7" y2="139.8" stroke="#1a1a1a" stroke-width="1.8"/>
<line x1="47.5" y1="204.5" x2="47.5" y2="207.9" stroke="#1a1a1a" stroke-width="0.9"/>
<line x1="59.2" y1="204.9" x2="59.2" y2="207.5" stroke="#1a1a1a" stroke-width="0.9"/>
<line x1="70.9" y1="204.5" x2="70.9" y2="207.9" stroke="#1a1a1a" stroke-width="0.9"/>
<line x1="82.7" y1="204.9" x2="82.7" y2="207.5" stroke="#1a1a1a" stroke-width="0.9"/>
<line x1="94.4" y1="204.5" x2="94.4" y2="207.9" stroke="#1a1a1a" stroke-width="0.9"/>
<line x1="106.1" y1="204.9" x2="106.1" y2="207.5" stroke="#1a1a1a" stroke-width="0.9"/>
<line x1="117.8" y1="204.5" x2="117.8" y2="207.9" stroke="#1a1a1a" stroke-width="0.9"/>
<line x1="129.5" y1="204.9" x2="129.5" y2="207.5" stroke="#1a1a1a" stroke-width="0.9"/>
<line x1="141.2" y1="204.5" x2="141.2" y2="207.9" stroke="#1a1a1a" stroke-width="0.9"/>
<line x1="152.9" y1="204.9" x2="152.9" y2="207.5" stroke="#1a1a1a" stroke-width="0.9"/>
<line x1="164.7" y1="204.5" x2="164.7" y2="207.9" stroke="#1a1a1a" stroke-width="0.9"/>
<line x1="176.4" y1="204.9" x2="176.4" y2="207.5" stroke="#1a1a1a" stroke-width="0.9"/>
<line x1="188.1" y1="204.5" x2="188.1" y2="207.9" stroke="#1a1a1a" stroke-width="0.9"/>
<line x1="199.8" y1="204.9" x2="199.8" y2="207.5" stroke="#1a1a1a" stroke-width="0.9"/>
<line x1="211.5" y1="204.5" x2="211.5" y2="207.9" stroke="#1a1a1a" stroke-width="0.9"/>
<line x1="223.2" y1="204.9" x2="223.2" y2="207.5" stroke="#1a1a1a" stroke-width="0.9"/>
<line x1="235" y1="204.5" x2="235" y2="207.9" stroke="#1a1a1a" stroke-width="0.9"/>
<line x1="246.7" y1="204.9" x2="246.7" y2="207.5" stroke="#1a1a1a" stroke-width="0.9"/>
<line x1="258.4" y1="204.5" x2="258.4" y2="207.9" stroke="#1a1a1a" stroke-width="0.9"/>
<line x1="270.1" y1="204.9" x2="270.1" y2="207.5" stroke="#1a1a1a" stroke-width="0.9"/>
<line x1="281.8" y1="204.5" x2="281.8" y2="207.9" stroke="#1a1a1a" stroke-width="0.9"/>
<line x1="293.5" y1="204.9" x2="293.5" y2="207.5" stroke="#1a1a1a" stroke-width="0.9"/>
<line x1="305.3" y1="204.5" x2="305.3" y2="207.9" stroke="#1a1a1a" stroke-width="0.9"/>
<line x1="317" y1="204.9" x2="317" y2="207.5" stroke="#1a1a1a" stroke-width="0.9"/>
<line x1="328.7" y1="204.5" x2="328.7" y2="207.9" stroke="#1a1a1a" stroke-width="0.9"/>
<line x1="47.5" y1="206.2" x2="52.5" y2="206.2" stroke="#1a1a1a" stroke-width="1.8"/>
<line x1="323.7" y1="206.2" x2="328.7" y2="206.2" stroke="#1a1a1a" stroke-width="1.8"/>
<line x1="47.5" y1="269.3" x2="47.5" y2="272.7" stroke="#1a1a1a" stroke-width="0.9"/>
<line x1="59.2" y1="269.7" x2="59.2" y2="272.3" stroke="#1a1a1a" stroke-width="0.9"/>
<line x1="70.9" y1="269.3" x2="70.9" y2="272.7" stroke="#1a1a1a" stroke-width="0.9"/>
<line x1="82.7" y1="269.7" x2="82.7" y2="272.3" stroke="#1a1a1a" stroke-width="0.9"/>
<line x1="94.4" y1="269.3" x2="94.4" y2="272.7" stroke="#1a1a1a" stroke-width="0.9"/>
<line x1="106.1" y1="269.7" x2="106.1" y2="272.3" stroke="#1a1a1a" stroke-width="0.9"/>
<line x1="117.8" y1="269.3" x2="117.8" y2="272.7" stroke="#1a1a1a" stroke-width="0.9"/>
<line x1="129.5" y1="269.7" x2="129.5" y2="272.3" stroke="#1a1a1a" stroke-width="0.9"/>
<line x1="141.2" y1="269.3" x2="141.2" y2="272.7" stroke="#1a1a1a" stroke-width="0.9"/>
<line x1="152.9" y1="269.7" x2="152.9" y2="272.3" stroke="#1a1a1a" stroke-width="0.9"/>
<line x1="164.7" y1="269.3" x2="164.7" y2="272.7" stroke="#1a1a1a" stroke-width="0.9"/>
<line x1="176.4" y1="269.7" x2="176.4" y2="272.3" stroke="#1a1a1a" stroke-width="0.9"/>
<line x1="188.1" y1="269.3" x2="188.1" y2="272.7" stroke="#1a1a1a" stroke-width="0.9"/>
<line x1="199.8" y1="269.7" x2="199.8" y2="272.3" stroke="#1a1a1a" stroke-width="0.9"/>
<line x1="211.5" y1="269.3" x2="211.5" y2="272.7" stroke="#1a1a1a" stroke-width="0.9"/>
<line x1="223.2" y1="269.7" x2="223.2" y2="272.3" stroke="#1a1a1a" stroke-width="0.9"/>
<line x1="235" y1="269.3" x2="235" y2="272.7" stroke="#1a1a1a" stroke-width="0.9"/>
<line x1="246.7" y1="269.7" x2="246.7" y2="272.3" stroke="#1a1a1a" stroke-width="0.9"/>
<line x1="258.4" y1="269.3" x2="258.4" y2="272.7" stroke="#1a1a1a" stroke-width="0.9"/>
<line x1="270.1" y1="269.7" x2="270.1" y2="272.3" stroke="#1a1a1a" stroke-width="0.9"/>
<line x1="281.8" y1="269.3" x2="281.8" y2="272.7" stroke="#1a1a1a" stroke-width="0.9"/>
<line x1="293.5" y1="269.7" x2="293.5" y2="272.3" stroke="#1a1a1a" stroke-width="0.9"/>
<line x1="305.3" y1="269.3" x2="305.3" y2="272.7" stroke="#1a1a1a" stroke-width="0.9"/>
<line x1="317" y1="269.7" x2="317" y2="272.3" stroke="#1a1a1a" stroke-width="0.9"/>
<line x1="328.7" y1="269.3" x2="328.7" y2="272.7" stroke="#1a1a1a" stroke-width="0.9"/>
<line x1="48.5" y1="76.1" x2="327.7" y2="76.1" stroke="#dcdcdc" stroke-width="0.8"/>
<line x1="47.5" y1="61.8" x2="52.5" y2="61.8" stroke="#1a1a1a" stroke-width="0.9"/>
<line x1="324.7" y1="61.8" x2="328.7" y2="61.8" stroke="#1a1a1a" stroke-width="0.9"/>
<line x1="47.5" y1="44.6" x2="52.5" y2="44.6" stroke="#1a1a1a" stroke-width="0.9"/>
<line x1="324.7" y1="44.6" x2="328.7" y2="44.6" stroke="#1a1a1a" stroke-width="0.9"/>
<line x1="47.5" y1="27.4" x2="52.5" y2="27.4" stroke="#1a1a1a" stroke-width="0.9"/>
<line x1="324.7" y1="27.4" x2="328.7" y2="27.4" stroke="#1a1a1a" stroke-width="0.9"/>
<line x1="47.5" y1="10.1" x2="52.5" y2="10.1" stroke="#1a1a1a" stroke-width="0.9"/>
<line x1="324.7" y1="10.1" x2="328.7" y2="10.1" stroke="#1a1a1a" stroke-width="0.9"/>
<line x1="47.5" y1="66.2" x2="50.1" y2="66.2" stroke="#1a1a1a" stroke-width="0.9"/>
<line x1="326.1" y1="66.2" x2="328.7" y2="66.2" stroke="#1a1a1a" stroke-width="0.9"/>
<line x1="47.5" y1="57.5" x2="50.1" y2="57.5" stroke="#1a1a1a" stroke-width="0.9"/>
<line x1="326.1" y1="57.5" x2="328.7" y2="57.5" stroke="#1a1a1a" stroke-width="0.9"/>
<line x1="47.5" y1="53.2" x2="50.1" y2="53.2" stroke="#1a1a1a" stroke-width="0.9"/>
<line x1="326.1" y1="53.2" x2="328.7" y2="53.2" stroke="#1a1a1a" stroke-width="0.9"/>
<line x1="47.5" y1="48.9" x2="50.1" y2="48.9" stroke="#1a1a1a" stroke-width="0.9"/>
<line x1="326.1" y1="48.9" x2="328.7" y2="48.9" stroke="#1a1a1a" stroke-width="0.9"/>
<line x1="47.5" y1="40.3" x2="50.1" y2="40.3" stroke="#1a1a1a" stroke-width="0.9"/>
<line x1="326.1" y1="40.3" x2="328.7" y2="40.3" stroke="#1a1a1a" stroke-width="0.9"/>
<line x1="47.5" y1="36" x2="50.1" y2="36" stroke="#1a1a1a" stroke-width="0.9"/>
<line x1="326.1" y1="36" x2="328.7" y2="36" stroke="#1a1a1a" stroke-width="0.9"/>
<line x1="47.5" y1="31.7" x2="50.1" y2="31.7" stroke="#1a1a1a" stroke-width="0.9"/>
<line x1="326.1" y1="31.7" x2="328.7" y2="31.7" stroke="#1a1a1a" stroke-width="0.9"/>
<line x1="47.5" y1="23.1" x2="50.1" y2="23.1" stroke="#1a1a1a" stroke-width="0.9"/>
<line x1="326.1" y1="23.1" x2="328.7" y2="23.1" stroke="#1a1a1a" stroke-width="0.9"/>
<line x1="47.5" y1="18.7" x2="50.1" y2="18.7" stroke="#1a1a1a" stroke-width="0.9"/>
<line x1="326.1" y1="18.7" x2="328.7" y2="18.7" stroke="#1a1a1a" stroke-width="0.9"/>
<line x1="47.5" y1="14.4" x2="50.1" y2="14.4" stroke="#1a1a1a" stroke-width="0.9"/>
<line x1="326.1" y1="14.4" x2="328.7" y2="14.4" stroke="#1a1a1a" stroke-width="0.9"/>
<line x1="47.5" y1="123.6" x2="52.5" y2="123.6" stroke="#1a1a1a" stroke-width="0.9"/>
<line x1="324.7" y1="123.6" x2="328.7" y2="123.6" stroke="#1a1a1a" stroke-width="0.9"/>
<line x1="47.5" y1="108.3" x2="52.5" y2="108.3" stroke="#1a1a1a" stroke-width="0.9"/>
<line x1="324.7" y1="108.3" x2="328.7" y2="108.3" stroke="#1a1a1a" stroke-width="0.9"/>
<line x1="47.5" y1="93" x2="52.5" y2="93" stroke="#1a1a1a" stroke-width="0.9"/>
<line x1="324.7" y1="93" x2="328.7" y2="93" stroke="#1a1a1a" stroke-width="0.9"/>
<line x1="47.5" y1="77.7" x2="52.5" y2="77.7" stroke="#1a1a1a" stroke-width="0.9"/>
<line x1="324.7" y1="77.7" x2="328.7" y2="77.7" stroke="#1a1a1a" stroke-width="0.9"/>
<line x1="47.5" y1="135.8" x2="50.1" y2="135.8" stroke="#1a1a1a" stroke-width="0.9"/>
<line x1="326.1" y1="135.8" x2="328.7" y2="135.8" stroke="#1a1a1a" stroke-width="0.9"/>
<line x1="47.5" y1="132.8" x2="50.1" y2="132.8" stroke="#1a1a1a" stroke-width="0.9"/>
<line x1="326.1" y1="132.8" x2="328.7" y2="132.8" stroke="#1a1a1a" stroke-width="0.9"/>
<line x1="47.5" y1="129.7" x2="50.1" y2="129.7" stroke="#1a1a1a" stroke-width="0.9"/>
<line x1="326.1" y1="129.7" x2="328.7" y2="129.7" stroke="#1a1a1a" stroke-width="0.9"/>
<line x1="47.5" y1="126.7" x2="50.1" y2="126.7" stroke="#1a1a1a" stroke-width="0.9"/>
<line x1="326.1" y1="126.7" x2="328.7" y2="126.7" stroke="#1a1a1a" stroke-width="0.9"/>
<line x1="47.5" y1="120.5" x2="50.1" y2="120.5" stroke="#1a1a1a" stroke-width="0.9"/>
<line x1="326.1" y1="120.5" x2="328.7" y2="120.5" stroke="#1a1a1a" stroke-width="0.9"/>
<line x1="47.5" y1="117.5" x2="50.1" y2="117.5" stroke="#1a1a1a" stroke-width="0.9"/>
<line x1="326.1" y1="117.5" x2="328.7" y2="117.5" stroke="#1a1a1a" stroke-width="0.9"/>
<line x1="47.5" y1="114.4" x2="50.1" y2="114.4" stroke="#1a1a1a" stroke-width="0.9"/>
<line x1="326.1" y1="114.4" x2="328.7" y2="114.4" stroke="#1a1a1a" stroke-width="0.9"/>
<line x1="47.5" y1="111.4" x2="50.1" y2="111.4" stroke="#1a1a1a" stroke-width="0.9"/>
<line x1="326.1" y1="111.4" x2="328.7" y2="111.4" stroke="#1a1a1a" stroke-width="0.9"/>
<line x1="47.5" y1="105.2" x2="50.1" y2="105.2" stroke="#1a1a1a" stroke-width="0.9"/>
<line x1="326.1" y1="105.2" x2="328.7" y2="105.2" stroke="#1a1a1a" stroke-width="0.9"/>
<line x1="47.5" y1="102.2" x2="50.1" y2="102.2" stroke="#1a1a1a" stroke-width="0.9"/>
<line x1="326.1" y1="102.2" x2="328.7" y2="102.2" stroke="#1a1a1a" stroke-width="0.9"/>
<line x1="47.5" y1="99.1" x2="50.1" y2="99.1" stroke="#1a1a1a" stroke-width="0.9"/>
<line x1="326.1" y1="99.1" x2="328.7" y2="99.1" stroke="#1a1a1a" stroke-width="0.9"/>
<line x1="47.5" y1="96.1" x2="50.1" y2="96.1" stroke="#1a1a1a" stroke-width="0.9"/>
<line x1="326.1" y1="96.1" x2="328.7" y2="96.1" stroke="#1a1a1a" stroke-width="0.9"/>
<line x1="47.5" y1="89.9" x2="50.1" y2="89.9" stroke="#1a1a1a" stroke-width="0.9"/>
<line x1="326.1" y1="89.9" x2="328.7" y2="89.9" stroke="#1a1a1a" stroke-width="0.9"/>
<line x1="47.5" y1="86.9" x2="50.1" y2="86.9" stroke="#1a1a1a" stroke-width="0.9"/>
<line x1="326.1" y1="86.9" x2="328.7" y2="86.9" stroke="#1a1a1a" stroke-width="0.9"/>
<line x1="47.5" y1="83.8" x2="50.1" y2="83.8" stroke="#1a1a1a" stroke-width="0.9"/>
<line x1="326.1" y1="83.8" x2="328.7" y2="83.8" stroke="#1a1a1a" stroke-width="0.9"/>
<line x1="47.5" y1="80.8" x2="50.1" y2="80.8" stroke="#1a1a1a" stroke-width="0.9"/>
<line x1="326.1" y1="80.8" x2="328.7" y2="80.8" stroke="#1a1a1a" stroke-width="0.9"/>
<line x1="47.5" y1="74.6" x2="50.1" y2="74.6" stroke="#1a1a1a" stroke-width="0.9"/>
<line x1="326.1" y1="74.6" x2="328.7" y2="74.6" stroke="#1a1a1a" stroke-width="0.9"/>
<line x1="47.5" y1="181.2" x2="52.5" y2="181.2" stroke="#1a1a1a" stroke-width="0.9"/>
<line x1="324.7" y1="181.2" x2="328.7" y2="181.2" stroke="#1a1a1a" stroke-width="0.9"/>
<line x1="47.5" y1="160.8" x2="52.5" y2="160.8" stroke="#1a1a1a" stroke-width="0.9"/>
<line x1="324.7" y1="160.8" x2="328.7" y2="160.8" stroke="#1a1a1a" stroke-width="0.9"/>
<line x1="47.5" y1="140.4" x2="52.5" y2="140.4" stroke="#1a1a1a" stroke-width="0.9"/>
<line x1="324.7" y1="140.4" x2="328.7" y2="140.4" stroke="#1a1a1a" stroke-width="0.9"/>
<line x1="47.5" y1="203.6" x2="50.1" y2="203.6" stroke="#1a1a1a" stroke-width="0.9"/>
<line x1="326.1" y1="203.6" x2="328.7" y2="203.6" stroke="#1a1a1a" stroke-width="0.9"/>
<line x1="47.5" y1="199.6" x2="50.1" y2="199.6" stroke="#1a1a1a" stroke-width="0.9"/>
<line x1="326.1" y1="199.6" x2="328.7" y2="199.6" stroke="#1a1a1a" stroke-width="0.9"/>
<line x1="47.5" y1="197.5" x2="50.1" y2="197.5" stroke="#1a1a1a" stroke-width="0.9"/>
<line x1="326.1" y1="197.5" x2="328.7" y2="197.5" stroke="#1a1a1a" stroke-width="0.9"/>
<line x1="47.5" y1="195.5" x2="50.1" y2="195.5" stroke="#1a1a1a" stroke-width="0.9"/>
<line x1="326.1" y1="195.5" x2="328.7" y2="195.5" stroke="#1a1a1a" stroke-width="0.9"/>
<line x1="47.5" y1="193.4" x2="50.1" y2="193.4" stroke="#1a1a1a" stroke-width="0.9"/>
<line x1="326.1" y1="193.4" x2="328.7" y2="193.4" stroke="#1a1a1a" stroke-width="0.9"/>
<line x1="47.5" y1="191.4" x2="50.1" y2="191.4" stroke="#1a1a1a" stroke-width="0.9"/>
<line x1="326.1" y1="191.4" x2="328.7" y2="191.4" stroke="#1a1a1a" stroke-width="0.9"/>
<line x1="47.5" y1="189.4" x2="50.1" y2="189.4" stroke="#1a1a1a" stroke-width="0.9"/>
<line x1="326.1" y1="189.4" x2="328.7" y2="189.4" stroke="#1a1a1a" stroke-width="0.9"/>
<line x1="47.5" y1="187.3" x2="50.1" y2="187.3" stroke="#1a1a1a" stroke-width="0.9"/>
<line x1="326.1" y1="187.3" x2="328.7" y2="187.3" stroke="#1a1a1a" stroke-width="0.9"/>
<line x1="47.5" y1="185.3" x2="50.1" y2="185.3" stroke="#1a1a1a" stroke-width="0.9"/>
<line x1="326.1" y1="185.3" x2="328.7" y2="185.3" stroke="#1a1a1a" stroke-width="0.9"/>
<line x1="47.5" y1="183.2" x2="50.1" y2="183.2" stroke="#1a1a1a" stroke-width="0.9"/>
<line x1="326.1" y1="183.2" x2="328.7" y2="183.2" stroke="#1a1a1a" stroke-width="0.9"/>
<line x1="47.5" y1="179.2" x2="50.1" y2="179.2" stroke="#1a1a1a" stroke-width="0.9"/>
<line x1="326.1" y1="179.2" x2="328.7" y2="179.2" stroke="#1a1a1a" stroke-width="0.9"/>
<line x1="47.5" y1="177.1" x2="50.1" y2="177.1" stroke="#1a1a1a" stroke-width="0.9"/>
<line x1="326.1" y1="177.1" x2="328.7" y2="177.1" stroke="#1a1a1a" stroke-width="0.9"/>
<line x1="47.5" y1="175.1" x2="50.1" y2="175.1" stroke="#1a1a1a" stroke-width="0.9"/>
<line x1="326.1" y1="175.1" x2="328.7" y2="175.1" stroke="#1a1a1a" stroke-width="0.9"/>
<line x1="47.5" y1="173" x2="50.1" y2="173" stroke="#1a1a1a" stroke-width="0.9"/>
<line x1="326.1" y1="173" x2="328.7" y2="173" stroke="#1a1a1a" stroke-width="0.9"/>
<line x1="47.5" y1="171" x2="50.1" y2="171" stroke="#1a1a1a" stroke-width="0.9"/>
<line x1="326.1" y1="171" x2="328.7" y2="171" stroke="#1a1a1a" stroke-width="0.9"/>
<line x1="47.5" y1="169" x2="50.1" y2="169" stroke="#1a1a1a" stroke-width="0.9"/>
<line x1="326.1" y1="169" x2="328.7" y2="169" stroke="#1a1a1a" stroke-width="0.9"/>
<line x1="47.5" y1="166.9" x2="50.1" y2="166.9" stroke="#1a1a1a" stroke-width="0.9"/>
<line x1="326.1" y1="166.9" x2="328.7" y2="166.9" stroke="#1a1a1a" stroke-width="0.9"/>
<line x1="47.5" y1="164.9" x2="50.1" y2="164.9" stroke="#1a1a1a" stroke-width="0.9"/>
<line x1="326.1" y1="164.9" x2="328.7" y2="164.9" stroke="#1a1a1a" stroke-width="0.9"/>
<line x1="47.5" y1="162.8" x2="50.1" y2="162.8" stroke="#1a1a1a" stroke-width="0.9"/>
<line x1="326.1" y1="162.8" x2="328.7" y2="162.8" stroke="#1a1a1a" stroke-width="0.9"/>
<line x1="47.5" y1="158.8" x2="50.1" y2="158.8" stroke="#1a1a1a" stroke-width="0.9"/>
<line x1="326.1" y1="158.8" x2="328.7" y2="158.8" stroke="#1a1a1a" stroke-width="0.9"/>
<line x1="47.5" y1="156.7" x2="50.1" y2="156.7" stroke="#1a1a1a" stroke-width="0.9"/>
<line x1="326.1" y1="156.7" x2="328.7" y2="156.7" stroke="#1a1a1a" stroke-width="0.9"/>
<line x1="47.5" y1="154.7" x2="50.1" y2="154.7" stroke="#1a1a1a" stroke-width="0.9"/>
<line x1="326.1" y1="154.7" x2="328.7" y2="154.7" stroke="#1a1a1a" stroke-width="0.9"/>
<line x1="47.5" y1="152.6" x2="50.1" y2="152.6" stroke="#1a1a1a" stroke-width="0.9"/>
<line x1="326.1" y1="152.6" x2="328.7" y2="152.6" stroke="#1a1a1a" stroke-width="0.9"/>
<line x1="47.5" y1="150.6" x2="50.1" y2="150.6" stroke="#1a1a1a" stroke-width="0.9"/>
<line x1="326.1" y1="150.6" x2="328.7" y2="150.6" stroke="#1a1a1a" stroke-width="0.9"/>
<line x1="47.5" y1="148.6" x2="50.1" y2="148.6" stroke="#1a1a1a" stroke-width="0.9"/>
<line x1="326.1" y1="148.6" x2="328.7" y2="148.6" stroke="#1a1a1a" stroke-width="0.9"/>
<line x1="47.5" y1="146.5" x2="50.1" y2="146.5" stroke="#1a1a1a" stroke-width="0.9"/>
<line x1="326.1" y1="146.5" x2="328.7" y2="146.5" stroke="#1a1a1a" stroke-width="0.9"/>
<line x1="47.5" y1="144.5" x2="50.1" y2="144.5" stroke="#1a1a1a" stroke-width="0.9"/>
<line x1="326.1" y1="144.5" x2="328.7" y2="144.5" stroke="#1a1a1a" stroke-width="0.9"/>
<line x1="47.5" y1="142.4" x2="50.1" y2="142.4" stroke="#1a1a1a" stroke-width="0.9"/>
<line x1="326.1" y1="142.4" x2="328.7" y2="142.4" stroke="#1a1a1a" stroke-width="0.9"/>
<line x1="47.5" y1="253.6" x2="52.5" y2="253.6" stroke="#1a1a1a" stroke-width="0.9"/>
<line x1="324.7" y1="253.6" x2="328.7" y2="253.6" stroke="#1a1a1a" stroke-width="0.9"/>
<line x1="47.5" y1="238" x2="52.5" y2="238" stroke="#1a1a1a" stroke-width="0.9"/>
<line x1="324.7" y1="238" x2="328.7" y2="238" stroke="#1a1a1a" stroke-width="0.9"/>
<line x1="47.5" y1="222.4" x2="52.5" y2="222.4" stroke="#1a1a1a" stroke-width="0.9"/>
<line x1="324.7" y1="222.4" x2="328.7" y2="222.4" stroke="#1a1a1a" stroke-width="0.9"/>
<line x1="47.5" y1="206.8" x2="52.5" y2="206.8" stroke="#1a1a1a" stroke-width="0.9"/>
<line x1="324.7" y1="206.8" x2="328.7" y2="206.8" stroke="#1a1a1a" stroke-width="0.9"/>
<line x1="47.5" y1="266.1" x2="50.1" y2="266.1" stroke="#1a1a1a" stroke-width="0.9"/>
<line x1="326.1" y1="266.1" x2="328.7" y2="266.1" stroke="#1a1a1a" stroke-width="0.9"/>
<line x1="47.5" y1="263" x2="50.1" y2="263" stroke="#1a1a1a" stroke-width="0.9"/>
<line x1="326.1" y1="263" x2="328.7" y2="263" stroke="#1a1a1a" stroke-width="0.9"/>
<line x1="47.5" y1="259.8" x2="50.1" y2="259.8" stroke="#1a1a1a" stroke-width="0.9"/>
<line x1="326.1" y1="259.8" x2="328.7" y2="259.8" stroke="#1a1a1a" stroke-width="0.9"/>
<line x1="47.5" y1="256.7" x2="50.1" y2="256.7" stroke="#1a1a1a" stroke-width="0.9"/>
<line x1="326.1" y1="256.7" x2="328.7" y2="256.7" stroke="#1a1a1a" stroke-width="0.9"/>
<line x1="47.5" y1="250.5" x2="50.1" y2="250.5" stroke="#1a1a1a" stroke-width="0.9"/>
<line x1="326.1" y1="250.5" x2="328.7" y2="250.5" stroke="#1a1a1a" stroke-width="0.9"/>
<line x1="47.5" y1="247.4" x2="50.1" y2="247.4" stroke="#1a1a1a" stroke-width="0.9"/>
<line x1="326.1" y1="247.4" x2="328.7" y2="247.4" stroke="#1a1a1a" stroke-width="0.9"/>
<line x1="47.5" y1="244.2" x2="50.1" y2="244.2" stroke="#1a1a1a" stroke-width="0.9"/>
<line x1="326.1" y1="244.2" x2="328.7" y2="244.2" stroke="#1a1a1a" stroke-width="0.9"/>
<line x1="47.5" y1="241.1" x2="50.1" y2="241.1" stroke="#1a1a1a" stroke-width="0.9"/>
<line x1="326.1" y1="241.1" x2="328.7" y2="241.1" stroke="#1a1a1a" stroke-width="0.9"/>
<line x1="47.5" y1="234.9" x2="50.1" y2="234.9" stroke="#1a1a1a" stroke-width="0.9"/>
<line x1="326.1" y1="234.9" x2="328.7" y2="234.9" stroke="#1a1a1a" stroke-width="0.9"/>
<line x1="47.5" y1="231.8" x2="50.1" y2="231.8" stroke="#1a1a1a" stroke-width="0.9"/>
<line x1="326.1" y1="231.8" x2="328.7" y2="231.8" stroke="#1a1a1a" stroke-width="0.9"/>
<line x1="47.5" y1="228.6" x2="50.1" y2="228.6" stroke="#1a1a1a" stroke-width="0.9"/>
<line x1="326.1" y1="228.6" x2="328.7" y2="228.6" stroke="#1a1a1a" stroke-width="0.9"/>
<line x1="47.5" y1="225.5" x2="50.1" y2="225.5" stroke="#1a1a1a" stroke-width="0.9"/>
<line x1="326.1" y1="225.5" x2="328.7" y2="225.5" stroke="#1a1a1a" stroke-width="0.9"/>
<line x1="47.5" y1="219.3" x2="50.1" y2="219.3" stroke="#1a1a1a" stroke-width="0.9"/>
<line x1="326.1" y1="219.3" x2="328.7" y2="219.3" stroke="#1a1a1a" stroke-width="0.9"/>
<line x1="47.5" y1="216.2" x2="50.1" y2="216.2" stroke="#1a1a1a" stroke-width="0.9"/>
<line x1="326.1" y1="216.2" x2="328.7" y2="216.2" stroke="#1a1a1a" stroke-width="0.9"/>
<line x1="47.5" y1="213" x2="50.1" y2="213" stroke="#1a1a1a" stroke-width="0.9"/>
<line x1="326.1" y1="213" x2="328.7" y2="213" stroke="#1a1a1a" stroke-width="0.9"/>
<line x1="47.5" y1="209.9" x2="50.1" y2="209.9" stroke="#1a1a1a" stroke-width="0.9"/>
<line x1="326.1" y1="209.9" x2="328.7" y2="209.9" stroke="#1a1a1a" stroke-width="0.9"/>
<line x1="47.5" y1="271.2" x2="328.7" y2="271.2" stroke="#555" stroke-width="1.4"/>
<line x1="47.5" y1="271.8" x2="47.5" y2="336" stroke="#1a1a1a" stroke-width="1.2"/>
<line x1="328.7" y1="271.8" x2="328.7" y2="336" stroke="#1a1a1a" stroke-width="1.2"/>
<line x1="47.5" y1="336" x2="328.7" y2="336" stroke="#444" stroke-width="1"/>
<line x1="47.5" y1="334" x2="47.5" y2="336" stroke="#1a1a1a" stroke-width="1"/>
<line x1="47.5" y1="272" x2="47.5" y2="274" stroke="#111" stroke-width="0.8"/>
<line x1="70.9" y1="334" x2="70.9" y2="336" stroke="#1a1a1a" stroke-width="1"/>
<line x1="70.9" y1="272" x2="70.9" y2="274" stroke="#111" stroke-width="0.8"/>
<line x1="94.4" y1="334" x2="94.4" y2="336" stroke="#1a1a1a" stroke-width="1"/>
<line x1="94.4" y1="272" x2="94.4" y2="274" stroke="#111" stroke-width="0.8"/>
<line x1="117.8" y1="334" x2="117.8" y2="336" stroke="#1a1a1a" stroke-width="1"/>
<line x1="117.8" y1="272" x2="117.8" y2="274" stroke="#111" stroke-width="0.8"/>
<line x1="141.2" y1="334" x2="141.2" y2="336" stroke="#1a1a1a" stroke-width="1"/>
<line x1="141.2" y1="272" x2="141.2" y2="274" stroke="#111" stroke-width="0.8"/>
<line x1="164.7" y1="334" x2="164.7" y2="336" stroke="#1a1a1a" stroke-width="1"/>
<line x1="164.7" y1="272" x2="164.7" y2="274" stroke="#111" stroke-width="0.8"/>
<line x1="188.1" y1="334" x2="188.1" y2="336" stroke="#1a1a1a" stroke-width="1"/>
<line x1="188.1" y1="272" x2="188.1" y2="274" stroke="#111" stroke-width="0.8"/>
<line x1="211.5" y1="334" x2="211.5" y2="336" stroke="#1a1a1a" stroke-width="1"/>
<line x1="211.5" y1="272" x2="211.5" y2="274" stroke="#111" stroke-width="0.8"/>
<line x1="235" y1="334" x2="235" y2="336" stroke="#1a1a1a" stroke-width="1"/>
<line x1="235" y1="272" x2="235" y2="274" stroke="#111" stroke-width="0.8"/>
<line x1="258.4" y1="334" x2="258.4" y2="336" stroke="#1a1a1a" stroke-width="1"/>
<line x1="258.4" y1="272" x2="258.4" y2="274" stroke="#111" stroke-width="0.8"/>
<line x1="281.8" y1="334" x2="281.8" y2="336" stroke="#1a1a1a" stroke-width="1"/>
<line x1="281.8" y1="272" x2="281.8" y2="274" stroke="#111" stroke-width="0.8"/>
<line x1="305.3" y1="334" x2="305.3" y2="336" stroke="#1a1a1a" stroke-width="1"/>
<line x1="305.3" y1="272" x2="305.3" y2="274" stroke="#111" stroke-width="0.8"/>
<line x1="328.7" y1="334" x2="328.7" y2="336" stroke="#1a1a1a" stroke-width="1"/>
<line x1="328.7" y1="272" x2="328.7" y2="274" stroke="#111" stroke-width="0.8"/>
<line x1="45" y1="335.4" x2="47.5" y2="335.4" stroke="#1a1a1a" stroke-width="0.8"/>
<line x1="328.7" y1="335.4" x2="331.2" y2="335.4" stroke="#1a1a1a" stroke-width="0.8"/>
<line x1="45" y1="331.6" x2="47.5" y2="331.6" stroke="#1a1a1a" stroke-width="0.8"/>
<line x1="328.7" y1="331.6" x2="331.2" y2="331.6" stroke="#1a1a1a" stroke-width="0.8"/>
<line x1="45" y1="327.8" x2="47.5" y2="327.8" stroke="#1a1a1a" stroke-width="0.8"/>
<line x1="328.7" y1="327.8" x2="331.2" y2="327.8" stroke="#1a1a1a" stroke-width="0.8"/>
<line x1="45" y1="323.9" x2="47.5" y2="323.9" stroke="#1a1a1a" stroke-width="0.8"/>
<line x1="328.7" y1="323.9" x2="331.2" y2="323.9" stroke="#1a1a1a" stroke-width="0.8"/>
<line x1="42" y1="320.1" x2="47.5" y2="320.1" stroke="#1a1a1a" stroke-width="0.9"/>
<line x1="328.7" y1="320.1" x2="331.2" y2="320.1" stroke="#1a1a1a" stroke-width="0.8"/>
<line x1="45" y1="316.2" x2="47.5" y2="316.2" stroke="#1a1a1a" stroke-width="0.8"/>
<line x1="328.7" y1="316.2" x2="331.2" y2="316.2" stroke="#1a1a1a" stroke-width="0.8"/>
<line x1="45" y1="312.4" x2="47.5" y2="312.4" stroke="#1a1a1a" stroke-width="0.8"/>
<line x1="328.7" y1="312.4" x2="331.2" y2="312.4" stroke="#1a1a1a" stroke-width="0.8"/>
<line x1="45" y1="308.5" x2="47.5" y2="308.5" stroke="#1a1a1a" stroke-width="0.8"/>
<line x1="328.7" y1="308.5" x2="331.2" y2="308.5" stroke="#1a1a1a" stroke-width="0.8"/>
<line x1="45" y1="304.7" x2="47.5" y2="304.7" stroke="#1a1a1a" stroke-width="0.8"/>
<line x1="328.7" y1="304.7" x2="331.2" y2="304.7" stroke="#1a1a1a" stroke-width="0.8"/>
<line x1="42" y1="300.8" x2="47.5" y2="300.8" stroke="#1a1a1a" stroke-width="0.9"/>
<line x1="328.7" y1="300.8" x2="331.2" y2="300.8" stroke="#1a1a1a" stroke-width="0.8"/>
<line x1="45" y1="296.9" x2="47.5" y2="296.9" stroke="#1a1a1a" stroke-width="0.8"/>
<line x1="328.7" y1="296.9" x2="331.2" y2="296.9" stroke="#1a1a1a" stroke-width="0.8"/>
<line x1="45" y1="293.1" x2="47.5" y2="293.1" stroke="#1a1a1a" stroke-width="0.8"/>
<line x1="328.7" y1="293.1" x2="331.2" y2="293.1" stroke="#1a1a1a" stroke-width="0.8"/>
<line x1="45" y1="289.2" x2="47.5" y2="289.2" stroke="#1a1a1a" stroke-width="0.8"/>
<line x1="328.7" y1="289.2" x2="331.2" y2="289.2" stroke="#1a1a1a" stroke-width="0.8"/>
<line x1="45" y1="285.4" x2="47.5" y2="285.4" stroke="#1a1a1a" stroke-width="0.8"/>
<line x1="328.7" y1="285.4" x2="331.2" y2="285.4" stroke="#1a1a1a" stroke-width="0.8"/>
<line x1="42" y1="281.6" x2="47.5" y2="281.6" stroke="#1a1a1a" stroke-width="0.9"/>
<line x1="328.7" y1="281.6" x2="331.2" y2="281.6" stroke="#1a1a1a" stroke-width="0.8"/>
<line x1="45" y1="277.7" x2="47.5" y2="277.7" stroke="#1a1a1a" stroke-width="0.8"/>
<line x1="328.7" y1="277.7" x2="331.2" y2="277.7" stroke="#1a1a1a" stroke-width="0.8"/>
<line x1="45" y1="273.9" x2="47.5" y2="273.9" stroke="#1a1a1a" stroke-width="0.8"/>
<line x1="328.7" y1="273.9" x2="331.2" y2="273.9" stroke="#1a1a1a" stroke-width="0.8"/>
<line x1="45" y1="270" x2="47.5" y2="270" stroke="#1a1a1a" stroke-width="0.8"/>
<line x1="328.7" y1="270" x2="331.2" y2="270" stroke="#1a1a1a" stroke-width="0.8"/>
<line x1="214.5" y1="7.8" x2="214.5" y2="338" stroke="#e0202c" stroke-width="1.2"/>
<line x1="234.6" y1="7.8" x2="234.6" y2="338" stroke="#ea4a58" stroke-width="1.0"/>
<line x1="268.3" y1="7.8" x2="268.3" y2="338" stroke="#ee5555" stroke-width="1.0"/>
<g font-family="Liberation Sans, Arial, sans-serif">
<text x="1.5" y="12.4" font-size="14.2" text-anchor="start" fill="#111" stroke="#111" stroke-width="0.18">(a)</text>
<text x="45" y="12.8" font-size="7.3" text-anchor="end" fill="#222">16</text>
<text x="45" y="29.1" font-size="7.3" text-anchor="end" fill="#222">12</text>
<text x="45" y="47.4" font-size="7.3" text-anchor="end" fill="#222">8</text>
<text x="45" y="65.2" font-size="7.3" text-anchor="end" fill="#222">4</text>
<text x="45.4" y="81.9" font-size="8.6" text-anchor="end" fill="#222">40</text>
<text x="45.4" y="96.9" font-size="8.6" text-anchor="end" fill="#222">30</text>
<text x="45.4" y="111.7" font-size="8.6" text-anchor="end" fill="#222">20</text>
<text x="45.4" y="126.5" font-size="8.6" text-anchor="end" fill="#222">10</text>
<text x="45.2" y="144.3" font-size="8.4" text-anchor="end" fill="#222">26</text>
<text x="45.2" y="163.8" font-size="8.4" text-anchor="end" fill="#222">24</text>
<text x="45.2" y="184" font-size="8.4" text-anchor="end" fill="#222">22</text>
<text x="44.6" y="209.4" font-size="8.2" text-anchor="end" fill="#222">8</text>
<text x="44.6" y="225.6" font-size="8.2" text-anchor="end" fill="#222">7</text>
<text x="44.6" y="241" font-size="8.2" text-anchor="end" fill="#222">6</text>
<text x="44.6" y="256.9" font-size="8.2" text-anchor="end" fill="#222">5</text>
<text x="38.3" y="283.9" font-size="8.0" text-anchor="end" fill="#222">150</text>
<text x="38.3" y="304.1" font-size="8.0" text-anchor="end" fill="#222">100</text>
<text x="38.3" y="321.7" font-size="8.0" text-anchor="end" fill="#222">50</text>
<text x="47" y="347" font-size="8.4" text-anchor="middle" fill="#222" textLength="19.6" lengthAdjust="spacingAndGlyphs">00:00</text>
<text x="94.1" y="347" font-size="8.4" text-anchor="middle" fill="#222" textLength="19.6" lengthAdjust="spacingAndGlyphs">02:00</text>
<text x="141.2" y="347" font-size="8.4" text-anchor="middle" fill="#222" textLength="19.6" lengthAdjust="spacingAndGlyphs">04:00</text>
<text x="188.3" y="347" font-size="8.4" text-anchor="middle" fill="#222" textLength="19.6" lengthAdjust="spacingAndGlyphs">06:00</text>
<text x="235.4" y="347" font-size="8.4" text-anchor="middle" fill="#222" textLength="19.6" lengthAdjust="spacingAndGlyphs">08:00</text>
<text x="282.5" y="347" font-size="8.4" text-anchor="middle" fill="#222" textLength="19.6" lengthAdjust="spacingAndGlyphs">10:00</text>
<text x="329.6" y="347" font-size="8.4" text-anchor="middle" fill="#222" textLength="19.6" lengthAdjust="spacingAndGlyphs">12:00</text>
<text x="22.6" y="42" font-size="8.3" text-anchor="middle" fill="#333" transform="rotate(-90 22.6 42)">&lt;|<tspan font-style="italic">B</tspan>|&gt;, nT</text>
<text x="22.2" y="105" font-size="8.9" text-anchor="middle" fill="#333" transform="rotate(-90 22.2 105)"><tspan font-style="italic">n</tspan>, 1/cm<tspan font-size="6" dy="-3">3</tspan></text>
<text x="22.3" y="166" font-size="8.6" text-anchor="middle" fill="#333" transform="rotate(-90 22.3 166)"><tspan font-style="italic">n</tspan><tspan font-size="6.5" dy="1.8">e</tspan><tspan dy="-1.8">, 1/cm</tspan><tspan font-size="6" dy="-3">3</tspan></text>
<text x="24.6" y="230" font-size="9.2" text-anchor="middle" fill="#333" transform="rotate(-90 24.6 230)"><tspan font-style="italic">T</tspan><tspan font-size="7" dy="1.8">e</tspan><tspan dy="-1.8">, eV</tspan></text>
<text x="19.7" y="302.5" font-size="6.8" text-anchor="middle" fill="#222" transform="rotate(-90 19.7 302.5)">pitch angle, deg</text>
<text x="111.8" y="17.4" font-size="7.8" text-anchor="middle" fill="#333">2</text>
<text x="118.6" y="17.4" font-size="7.8" text-anchor="middle" fill="#4a5a20">3</text>
<text x="163.3" y="17.2" font-size="7.8" text-anchor="middle" fill="#7d9aa2">4</text>
<text x="190.8" y="17.2" font-size="7.8" text-anchor="middle" fill="#9a78b8">5</text>
<text x="223.9" y="17.6" font-size="9.4" text-anchor="middle" fill="#1c2238">6</text>
</g>
<defs><linearGradient id="cb" x1="0" y1="0" x2="0" y2="1">
<stop offset="0%" stop-color="#ff0000"/>
<stop offset="3%" stop-color="#ff3c00"/>
<stop offset="7%" stop-color="#ffa000"/>
<stop offset="14%" stop-color="#fff000"/>
<stop offset="20%" stop-color="#e6ff00"/>
<stop offset="27%" stop-color="#96eb00"/>
<stop offset="36%" stop-color="#14e600"/>
<stop offset="45%" stop-color="#00e63c"/>
<stop offset="52%" stop-color="#00ebaa"/>
<stop offset="57%" stop-color="#00ffff"/>
<stop offset="64%" stop-color="#0096ff"/>
<stop offset="71%" stop-color="#001eff"/>
<stop offset="78%" stop-color="#1e00f0"/>
<stop offset="85%" stop-color="#5000be"/>
<stop offset="91%" stop-color="#3c006e"/>
<stop offset="96%" stop-color="#140028"/>
<stop offset="100%" stop-color="#000000"/>
</linearGradient></defs>
<rect x="333.3" y="275.7" width="10.1" height="47.9" fill="url(#cb)"/>
<line x1="343.4" y1="276" x2="346" y2="276" stroke="#222" stroke-width="0.6"/>
<line x1="330.8" y1="276" x2="333.3" y2="276" stroke="#222" stroke-width="0.6"/>
<line x1="343.4" y1="278.1" x2="344.6" y2="278.1" stroke="#222" stroke-width="0.6"/>
<line x1="330.8" y1="278.1" x2="333.3" y2="278.1" stroke="#222" stroke-width="0.6"/>
<line x1="343.4" y1="280.1" x2="344.6" y2="280.1" stroke="#222" stroke-width="0.6"/>
<line x1="330.8" y1="280.1" x2="333.3" y2="280.1" stroke="#222" stroke-width="0.6"/>
<line x1="343.4" y1="282.1" x2="344.6" y2="282.1" stroke="#222" stroke-width="0.6"/>
<line x1="330.8" y1="282.1" x2="333.3" y2="282.1" stroke="#222" stroke-width="0.6"/>
<line x1="343.4" y1="284.2" x2="344.6" y2="284.2" stroke="#222" stroke-width="0.6"/>
<line x1="330.8" y1="284.2" x2="333.3" y2="284.2" stroke="#222" stroke-width="0.6"/>
<line x1="343.4" y1="286.2" x2="346" y2="286.2" stroke="#222" stroke-width="0.6"/>
<line x1="330.8" y1="286.2" x2="333.3" y2="286.2" stroke="#222" stroke-width="0.6"/>
<line x1="343.4" y1="288.3" x2="344.6" y2="288.3" stroke="#222" stroke-width="0.6"/>
<line x1="330.8" y1="288.3" x2="333.3" y2="288.3" stroke="#222" stroke-width="0.6"/>
<line x1="343.4" y1="290.4" x2="344.6" y2="290.4" stroke="#222" stroke-width="0.6"/>
<line x1="330.8" y1="290.4" x2="333.3" y2="290.4" stroke="#222" stroke-width="0.6"/>
<line x1="343.4" y1="292.4" x2="344.6" y2="292.4" stroke="#222" stroke-width="0.6"/>
<line x1="330.8" y1="292.4" x2="333.3" y2="292.4" stroke="#222" stroke-width="0.6"/>
<line x1="343.4" y1="294.4" x2="344.6" y2="294.4" stroke="#222" stroke-width="0.6"/>
<line x1="330.8" y1="294.4" x2="333.3" y2="294.4" stroke="#222" stroke-width="0.6"/>
<line x1="343.4" y1="296.5" x2="346" y2="296.5" stroke="#222" stroke-width="0.6"/>
<line x1="330.8" y1="296.5" x2="333.3" y2="296.5" stroke="#222" stroke-width="0.6"/>
<line x1="343.4" y1="298.6" x2="344.6" y2="298.6" stroke="#222" stroke-width="0.6"/>
<line x1="330.8" y1="298.6" x2="333.3" y2="298.6" stroke="#222" stroke-width="0.6"/>
<line x1="343.4" y1="300.6" x2="344.6" y2="300.6" stroke="#222" stroke-width="0.6"/>
<line x1="330.8" y1="300.6" x2="333.3" y2="300.6" stroke="#222" stroke-width="0.6"/>
<line x1="343.4" y1="302.6" x2="344.6" y2="302.6" stroke="#222" stroke-width="0.6"/>
<line x1="330.8" y1="302.6" x2="333.3" y2="302.6" stroke="#222" stroke-width="0.6"/>
<line x1="343.4" y1="304.7" x2="344.6" y2="304.7" stroke="#222" stroke-width="0.6"/>
<line x1="330.8" y1="304.7" x2="333.3" y2="304.7" stroke="#222" stroke-width="0.6"/>
<line x1="343.4" y1="306.8" x2="346" y2="306.8" stroke="#222" stroke-width="0.6"/>
<line x1="330.8" y1="306.8" x2="333.3" y2="306.8" stroke="#222" stroke-width="0.6"/>
<line x1="343.4" y1="308.8" x2="344.6" y2="308.8" stroke="#222" stroke-width="0.6"/>
<line x1="330.8" y1="308.8" x2="333.3" y2="308.8" stroke="#222" stroke-width="0.6"/>
<line x1="343.4" y1="310.9" x2="344.6" y2="310.9" stroke="#222" stroke-width="0.6"/>
<line x1="330.8" y1="310.9" x2="333.3" y2="310.9" stroke="#222" stroke-width="0.6"/>
<line x1="343.4" y1="312.9" x2="344.6" y2="312.9" stroke="#222" stroke-width="0.6"/>
<line x1="330.8" y1="312.9" x2="333.3" y2="312.9" stroke="#222" stroke-width="0.6"/>
<line x1="343.4" y1="314.9" x2="344.6" y2="314.9" stroke="#222" stroke-width="0.6"/>
<line x1="330.8" y1="314.9" x2="333.3" y2="314.9" stroke="#222" stroke-width="0.6"/>
<line x1="343.4" y1="317" x2="346" y2="317" stroke="#222" stroke-width="0.6"/>
<line x1="330.8" y1="317" x2="333.3" y2="317" stroke="#222" stroke-width="0.6"/>
<line x1="343.4" y1="319.1" x2="344.6" y2="319.1" stroke="#222" stroke-width="0.6"/>
<line x1="330.8" y1="319.1" x2="333.3" y2="319.1" stroke="#222" stroke-width="0.6"/>
<line x1="343.4" y1="321.1" x2="344.6" y2="321.1" stroke="#222" stroke-width="0.6"/>
<line x1="330.8" y1="321.1" x2="333.3" y2="321.1" stroke="#222" stroke-width="0.6"/>
<line x1="343.4" y1="323.1" x2="344.6" y2="323.1" stroke="#222" stroke-width="0.6"/>
<line x1="330.8" y1="323.1" x2="333.3" y2="323.1" stroke="#222" stroke-width="0.6"/>
<g font-family="Liberation Sans, Arial, sans-serif">
<text x="347.2" y="280.2" font-size="5.2" text-anchor="start" fill="#333">10<tspan font-size="3.6" dy="-2.2">6</tspan></text>
<text x="347.2" y="301.2" font-size="5.2" text-anchor="start" fill="#333">10<tspan font-size="3.6" dy="-2.2">5</tspan></text>
</g>
<rect x="410" y="60" width="274.6" height="12.6" fill="#20104a"/>
<g shape-rendering="crispEdges">
<path fill="#000000" d="M410 29.7h1.3v2.4h-1.3zM410 31.8h1.3v2.4h-1.3zM411 31.4h1.3v2.4h-1.3zM411 33.5h1.3v2.4h-1.3zM412 29.8h1.3v2.4h-1.3zM412 31.9h1.3v2.4h-1.3zM413 30.9h1.3v2.4h-1.3zM413 33h1.3v2.4h-1.3zM414 30.2h1.3v2.4h-1.3zM414 32.3h1.3v2.4h-1.3zM415 31.8h1.3v2.4h-1.3zM415 33.9h1.3v2.4h-1.3zM416 29.6h1.3v2.4h-1.3zM416 31.7h1.3v2.4h-1.3zM416 33.8h1.3v2.4h-1.3zM417 32h1.3v2.4h-1.3zM417 34.1h1.3v2.4h-1.3zM418 30.9h1.3v2.4h-1.3zM418 33h1.3v2.4h-1.3zM419 30.3h1.3v2.4h-1.3zM419 32.4h1.3v2.4h-1.3zM420 30.5h1.3v2.4h-1.3zM420 32.6h1.3v2.4h-1.3zM421 30.2h1.3v2.4h-1.3zM421 32.3h1.3v2.4h-1.3zM422 29.4h1.3v2.4h-1.3zM422 31.5h1.3v2.4h-1.3zM423 30.1h1.3v2.4h-1.3zM423 32.2h1.3v2.4h-1.3zM424 31.7h1.3v2.4h-1.3zM424 33.8h1.3v2.4h-1.3zM425 32h1.3v2.4h-1.3zM425 34.1h1.3v2.4h-1.3zM426 31.8h1.3v2.4h-1.3zM426 33.9h1.3v2.4h-1.3zM427 31h1.3v2.4h-1.3zM427 33.1h1.3v2.4h-1.3zM428 29.7h1.3v2.4h-1.3zM428 31.8h1.3v2.4h-1.3zM428 33.9h1.3v2.4h-1.3zM429 30.8h1.3v2.4h-1.3zM429 32.9h1.3v2.4h-1.3zM430 31.5h1.3v2.4h-1.3zM430 33.6h1.3v2.4h-1.3zM431 29.7h1.3v2.4h-1.3zM431 31.8h1.3v2.4h-1.3zM432 31.2h1.3v2.4h-1.3zM432 33.3h1.3v2.4h-1.3zM433 29.7h1.3v2.4h-1.3zM433 31.8h1.3v2.4h-1.3zM434 29.8h1.3v2.4h-1.3zM434 31.9h1.3v2.4h-1.3zM435 29.4h1.3v2.4h-1.3zM435 31.5h1.3v2.4h-1.3zM436 31.4h1.3v2.4h-1.3zM436 33.5h1.3v2.4h-1.3zM437 29.6h1.3v2.4h-1.3zM437 31.7h1.3v2.4h-1.3zM437 33.8h1.3v2.4h-1.3zM438 29.6h1.3v2.4h-1.3zM438 31.7h1.3v2.4h-1.3zM438 33.8h1.3v2.4h-1.3zM439 30.9h1.3v2.4h-1.3zM439 33h1.3v2.4h-1.3zM440 29.7h1.3v2.4h-1.3zM440 31.8h1.3v2.4h-1.3zM441 31.2h1.3v2.4h-1.3zM441 33.3h1.3v2.4h-1.3zM442 31.2h1.3v2.4h-1.3zM442 33.3h1.3v2.4h-1.3zM442 69h1.3v2.4h-1.3zM443 31.7h1.3v2.4h-1.3zM443 33.8h1.3v2.4h-1.3zM444 31h1.3v2.4h-1.3zM444 33.1h1.3v2.4h-1.3zM445 31.3h1.3v2.4h-1.3zM445 33.4h1.3v2.4h-1.3zM446 31.8h1.3v2.4h-1.3zM446 33.9h1.3v2.4h-1.3zM447 31.2h1.3v2.4h-1.3zM447 33.3h1.3v2.4h-1.3zM447 69h1.3v2.4h-1.3zM448 31.7h1.3v2.4h-1.3zM448 33.8h1.3v2.4h-1.3zM449 30.2h1.3v2.4h-1.3zM449 32.3h1.3v2.4h-1.3zM449 70.1h1.3v2.4h-1.3zM450 30.7h1.3v2.4h-1.3zM450 32.8h1.3v2.4h-1.3zM451 31.8h1.3v2.4h-1.3zM451 33.9h1.3v2.4h-1.3zM452 30.4h1.3v2.4h-1.3zM452 32.5h1.3v2.4h-1.3zM453 29.4h1.3v2.4h-1.3zM453 31.5h1.3v2.4h-1.3zM454 31.5h1.3v2.4h-1.3zM454 33.6h1.3v2.4h-1.3zM455 31.7h1.3v2.4h-1.3zM455 33.8h1.3v2.4h-1.3zM456 31h1.3v2.4h-1.3zM456 33.1h1.3v2.4h-1.3zM457 31.6h1.3v2.4h-1.3zM457 33.7h1.3v2.4h-1.3zM458 30.3h1.3v2.4h-1.3zM458 32.4h1.3v2.4h-1.3zM459 30h1.3v2.4h-1.3zM459 32.1h1.3v2.4h-1.3zM460 31.5h1.3v2.4h-1.3zM460 33.6h1.3v2.4h-1.3zM461 30.9h1.3v2.4h-1.3zM461 33h1.3v2.4h-1.3zM462 30.5h1.3v2.4h-1.3zM462 32.6h1.3v2.4h-1.3zM463 31.9h1.3v2.4h-1.3zM463 34h1.3v2.4h-1.3zM464 31.4h1.3v2.4h-1.3zM464 33.5h1.3v2.4h-1.3zM465 30.1h1.3v2.4h-1.3zM465 32.2h1.3v2.4h-1.3zM466 31.1h1.3v2.4h-1.3zM466 33.2h1.3v2.4h-1.3zM467 29.7h1.3v2.4h-1.3zM467 31.8h1.3v2.4h-1.3zM468 31.7h1.3v2.4h-1.3zM468 33.8h1.3v2.4h-1.3zM469 29.4h1.3v2.4h-1.3zM469 31.5h1.3v2.4h-1.3zM470 31.3h1.3v2.4h-1.3zM470 33.4h1.3v2.4h-1.3zM471 30h1.3v2.4h-1.3zM471 32.1h1.3v2.4h-1.3zM472 30.9h1.3v2.4h-1.3zM472 33h1.3v2.4h-1.3zM472 35.1h1.3v2.4h-1.3zM473 30.9h1.3v2.4h-1.3zM473 33h1.3v2.4h-1.3zM473 35.1h1.3v2.4h-1.3zM474 32.9h1.3v2.4h-1.3zM474 35h1.3v2.4h-1.3zM475 31.9h1.3v2.4h-1.3zM475 34h1.3v2.4h-1.3zM476 32.7h1.3v2.4h-1.3zM476 34.8h1.3v2.4h-1.3zM477 31.2h1.3v2.4h-1.3zM477 33.3h1.3v2.4h-1.3zM477 35.4h1.3v2.4h-1.3zM478 32.7h1.3v2.4h-1.3zM478 34.8h1.3v2.4h-1.3zM479 32.5h1.3v2.4h-1.3zM479 34.6h1.3v2.4h-1.3zM479 36.7h1.3v2.4h-1.3zM480 31.9h1.3v2.4h-1.3zM480 34h1.3v2.4h-1.3zM481 31.8h1.3v2.4h-1.3zM481 33.9h1.3v2.4h-1.3zM482 32.9h1.3v2.4h-1.3zM482 35h1.3v2.4h-1.3zM483 32.8h1.3v2.4h-1.3zM483 34.9h1.3v2.4h-1.3zM484 31.8h1.3v2.4h-1.3zM484 33.9h1.3v2.4h-1.3zM485 31h1.3v2.4h-1.3zM485 33.1h1.3v2.4h-1.3zM486 31.7h1.3v2.4h-1.3zM486 33.8h1.3v2.4h-1.3zM487 30.7h1.3v2.4h-1.3zM487 32.8h1.3v2.4h-1.3zM488 31.6h1.3v2.4h-1.3zM488 33.7h1.3v2.4h-1.3zM489 32.8h1.3v2.4h-1.3zM489 34.9h1.3v2.4h-1.3zM490 32.7h1.3v2.4h-1.3zM490 34.8h1.3v2.4h-1.3zM491 31.8h1.3v2.4h-1.3zM491 33.9h1.3v2.4h-1.3zM492 32.7h1.3v2.4h-1.3zM492 34.8h1.3v2.4h-1.3zM493 32h1.3v2.4h-1.3zM493 34.1h1.3v2.4h-1.3zM494 32.1h1.3v2.4h-1.3zM494 34.2h1.3v2.4h-1.3zM494 36.3h1.3v2.4h-1.3zM495 32.6h1.3v2.4h-1.3zM495 34.7h1.3v2.4h-1.3zM496 32.2h1.3v2.4h-1.3zM496 34.3h1.3v2.4h-1.3zM497 31h1.3v2.4h-1.3zM497 33.1h1.3v2.4h-1.3zM497 35.2h1.3v2.4h-1.3zM498 30.9h1.3v2.4h-1.3zM498 33h1.3v2.4h-1.3zM498 35.1h1.3v2.4h-1.3zM499 30.7h1.3v2.4h-1.3zM499 32.8h1.3v2.4h-1.3zM500 32.3h1.3v2.4h-1.3zM500 34.4h1.3v2.4h-1.3zM501 33h1.3v2.4h-1.3zM501 35.1h1.3v2.4h-1.3zM502 32.4h1.3v2.4h-1.3zM502 34.5h1.3v2.4h-1.3zM503 31.3h1.3v2.4h-1.3zM503 33.4h1.3v2.4h-1.3zM504 31h1.3v2.4h-1.3zM504 33.1h1.3v2.4h-1.3zM505 32h1.3v2.4h-1.3zM505 34.1h1.3v2.4h-1.3zM506 31.7h1.3v2.4h-1.3zM506 33.8h1.3v2.4h-1.3zM507 31.2h1.3v2.4h-1.3zM507 33.3h1.3v2.4h-1.3zM507 35.4h1.3v2.4h-1.3zM508 32.5h1.3v2.4h-1.3zM508 34.6h1.3v2.4h-1.3zM509 32.3h1.3v2.4h-1.3zM509 34.4h1.3v2.4h-1.3zM510 31.6h1.3v2.4h-1.3zM510 33.7h1.3v2.4h-1.3zM511 32.9h1.3v2.4h-1.3zM511 35h1.3v2.4h-1.3zM512 32.6h1.3v2.4h-1.3zM512 34.7h1.3v2.4h-1.3zM513 31.8h1.3v2.4h-1.3zM513 33.9h1.3v2.4h-1.3zM514 30.8h1.3v2.4h-1.3zM514 32.9h1.3v2.4h-1.3zM515 32.7h1.3v2.4h-1.3zM515 34.8h1.3v2.4h-1.3zM516 31h1.3v2.4h-1.3zM516 33.1h1.3v2.4h-1.3zM516 35.2h1.3v2.4h-1.3zM517 31.4h1.3v2.4h-1.3zM517 33.5h1.3v2.4h-1.3zM518 31.8h1.3v2.4h-1.3zM518 33.9h1.3v2.4h-1.3zM519 31.8h1.3v2.4h-1.3zM519 33.9h1.3v2.4h-1.3zM520 32.4h1.3v2.4h-1.3zM520 34.5h1.3v2.4h-1.3zM521 31.8h1.3v2.4h-1.3zM521 33.9h1.3v2.4h-1.3zM522 32h1.3v2.4h-1.3zM522 34.1h1.3v2.4h-1.3zM523 30.6h1.3v2.4h-1.3zM523 32.7h1.3v2.4h-1.3zM523 34.8h1.3v2.4h-1.3zM524 32.7h1.3v2.4h-1.3zM524 34.8h1.3v2.4h-1.3zM525 31.3h1.3v2.4h-1.3zM525 33.4h1.3v2.4h-1.3zM526 32h1.3v2.4h-1.3zM526 34.1h1.3v2.4h-1.3zM527 30.9h1.3v2.4h-1.3zM527 33h1.3v2.4h-1.3zM528 31.2h1.3v2.4h-1.3zM528 33.3h1.3v2.4h-1.3zM529 31.1h1.3v2.4h-1.3zM529 33.2h1.3v2.4h-1.3zM530 31.5h1.3v2.4h-1.3zM530 33.6h1.3v2.4h-1.3zM531 31.2h1.3v2.4h-1.3zM531 33.3h1.3v2.4h-1.3zM532 31.6h1.3v2.4h-1.3zM532 33.7h1.3v2.4h-1.3zM533 30.6h1.3v2.4h-1.3zM533 32.7h1.3v2.4h-1.3zM534 31.6h1.3v2.4h-1.3zM534 33.7h1.3v2.4h-1.3zM535 29.7h1.3v2.4h-1.3zM535 31.8h1.3v2.4h-1.3zM536 31.3h1.3v2.4h-1.3zM536 33.4h1.3v2.4h-1.3zM537 30.3h1.3v2.4h-1.3zM537 32.4h1.3v2.4h-1.3zM538 28.9h1.3v2.4h-1.3zM538 31h1.3v2.4h-1.3zM539 30.1h1.3v2.4h-1.3zM539 32.2h1.3v2.4h-1.3zM540 28.8h1.3v2.4h-1.3zM540 30.9h1.3v2.4h-1.3zM541 30.7h1.3v2.4h-1.3zM541 32.8h1.3v2.4h-1.3zM542 29.1h1.3v2.4h-1.3zM542 31.2h1.3v2.4h-1.3zM543 30.4h1.3v2.4h-1.3zM543 32.5h1.3v2.4h-1.3zM544 29.6h1.3v2.4h-1.3zM544 31.7h1.3v2.4h-1.3zM545 28.8h1.3v2.4h-1.3zM545 30.9h1.3v2.4h-1.3zM546 29h1.3v2.4h-1.3zM546 31.1h1.3v2.4h-1.3zM547 29h1.3v2.4h-1.3zM547 31.1h1.3v2.4h-1.3zM548 30.3h1.3v2.4h-1.3zM548 32.4h1.3v2.4h-1.3zM549 29.1h1.3v2.4h-1.3zM549 31.2h1.3v2.4h-1.3zM550 30.1h1.3v2.4h-1.3zM550 32.2h1.3v2.4h-1.3zM551 29.3h1.3v2.4h-1.3zM551 31.4h1.3v2.4h-1.3zM552 30.4h1.3v2.4h-1.3zM552 32.5h1.3v2.4h-1.3zM553 28.5h1.3v2.4h-1.3zM553 30.6h1.3v2.4h-1.3zM554 29.5h1.3v2.4h-1.3zM554 31.6h1.3v2.4h-1.3zM555 28.5h1.3v2.4h-1.3zM555 30.6h1.3v2.4h-1.3zM556 28.5h1.3v2.4h-1.3zM556 30.6h1.3v2.4h-1.3zM557 29.6h1.3v2.4h-1.3zM557 31.7h1.3v2.4h-1.3zM558 28.6h1.3v2.4h-1.3zM558 30.7h1.3v2.4h-1.3zM559 28.8h1.3v2.4h-1.3zM559 30.9h1.3v2.4h-1.3zM560 29.9h1.3v2.4h-1.3zM560 32h1.3v2.4h-1.3zM561 29.1h1.3v2.4h-1.3zM561 31.2h1.3v2.4h-1.3zM562 30.8h1.3v2.4h-1.3zM562 32.9h1.3v2.4h-1.3zM563 30.3h1.3v2.4h-1.3zM563 32.4h1.3v2.4h-1.3zM564 28.9h1.3v2.4h-1.3zM564 31h1.3v2.4h-1.3zM564 33.1h1.3v2.4h-1.3zM565 28.1h1.3v2.4h-1.3zM565 30.2h1.3v2.4h-1.3zM566 30.2h1.3v2.4h-1.3zM566 32.3h1.3v2.4h-1.3zM567 29.2h1.3v2.4h-1.3zM567 31.3h1.3v2.4h-1.3zM568 30.5h1.3v2.4h-1.3zM568 32.6h1.3v2.4h-1.3zM569 29.3h1.3v2.4h-1.3zM569 31.4h1.3v2.4h-1.3zM570 28.3h1.3v2.4h-1.3zM570 30.4h1.3v2.4h-1.3zM571 28.6h1.3v2.4h-1.3zM571 30.7h1.3v2.4h-1.3zM572 28.5h1.3v2.4h-1.3zM572 30.6h1.3v2.4h-1.3zM573 28.3h1.3v2.4h-1.3zM573 30.4h1.3v2.4h-1.3zM574 29.7h1.3v2.4h-1.3zM574 31.8h1.3v2.4h-1.3zM575 30h1.3v2.4h-1.3zM575 32.1h1.3v2.4h-1.3zM576 28.3h1.3v2.4h-1.3zM576 30.4h1.3v2.4h-1.3zM577 30.5h1.3v2.4h-1.3zM577 32.6h1.3v2.4h-1.3zM578 30.1h1.3v2.4h-1.3zM578 32.2h1.3v2.4h-1.3zM579 30.1h1.3v2.4h-1.3zM579 32.2h1.3v2.4h-1.3zM580 30.1h1.3v2.4h-1.3zM580 32.2h1.3v2.4h-1.3zM581 29.9h1.3v2.4h-1.3zM581 32h1.3v2.4h-1.3zM582 29.3h1.3v2.4h-1.3zM582 31.4h1.3v2.4h-1.3zM583 28.2h1.3v2.4h-1.3zM583 30.3h1.3v2.4h-1.3zM584 29.6h1.3v2.4h-1.3zM584 31.7h1.3v2.4h-1.3zM585 29.6h1.3v2.4h-1.3zM585 31.7h1.3v2.4h-1.3zM585 33.8h1.3v2.4h-1.3zM586 29.8h1.3v2.4h-1.3zM586 31.9h1.3v2.4h-1.3zM587 28.2h1.3v2.4h-1.3zM587 30.3h1.3v2.4h-1.3zM588 29.4h1.3v2.4h-1.3zM588 31.5h1.3v2.4h-1.3zM589 29.3h1.3v2.4h-1.3zM589 31.4h1.3v2.4h-1.3zM590 28.1h1.3v2.4h-1.3zM590 30.2h1.3v2.4h-1.3zM591 29.3h1.3v2.4h-1.3zM591 31.4h1.3v2.4h-1.3zM592 28.4h1.3v2.4h-1.3zM592 30.5h1.3v2.4h-1.3zM593 29.2h1.3v2.4h-1.3zM593 31.3h1.3v2.4h-1.3zM594 29h1.3v2.4h-1.3zM594 31.1h1.3v2.4h-1.3zM595 28.2h1.3v2.4h-1.3zM595 30.3h1.3v2.4h-1.3zM596 28.2h1.3v2.4h-1.3zM596 30.3h1.3v2.4h-1.3zM597 29h1.3v2.4h-1.3zM597 31.1h1.3v2.4h-1.3zM598 28.9h1.3v2.4h-1.3zM598 31h1.3v2.4h-1.3zM599 27.2h1.3v2.4h-1.3zM599 29.3h1.3v2.4h-1.3zM600 27.5h1.3v2.4h-1.3zM600 29.6h1.3v2.4h-1.3zM601 28.8h1.3v2.4h-1.3zM601 30.9h1.3v2.4h-1.3zM602 27.9h1.3v2.4h-1.3zM602 30h1.3v2.4h-1.3zM603 27.2h1.3v2.4h-1.3zM603 29.3h1.3v2.4h-1.3zM604 27h1.3v2.4h-1.3zM604 29.1h1.3v2.4h-1.3zM605 29.2h1.3v2.4h-1.3zM605 31.3h1.3v2.4h-1.3zM606 27.7h1.3v2.4h-1.3zM606 29.8h1.3v2.4h-1.3zM607 28.4h1.3v2.4h-1.3zM607 30.5h1.3v2.4h-1.3zM608 28.5h1.3v2.4h-1.3zM608 30.6h1.3v2.4h-1.3zM609 28.4h1.3v2.4h-1.3zM609 30.5h1.3v2.4h-1.3zM610 27.9h1.3v2.4h-1.3zM610 30h1.3v2.4h-1.3zM611 28.5h1.3v2.4h-1.3zM611 30.6h1.3v2.4h-1.3zM612 29.1h1.3v2.4h-1.3zM612 31.2h1.3v2.4h-1.3zM613 28h1.3v2.4h-1.3zM613 30.1h1.3v2.4h-1.3zM614 28.1h1.3v2.4h-1.3zM614 30.2h1.3v2.4h-1.3zM615 27.8h1.3v2.4h-1.3zM615 29.9h1.3v2.4h-1.3zM616 27.6h1.3v2.4h-1.3zM616 29.7h1.3v2.4h-1.3zM617 28.3h1.3v2.4h-1.3zM617 30.4h1.3v2.4h-1.3zM618 29.2h1.3v2.4h-1.3zM618 31.3h1.3v2.4h-1.3zM619 28.6h1.3v2.4h-1.3zM619 30.7h1.3v2.4h-1.3zM620 27.8h1.3v2.4h-1.3zM620 29.9h1.3v2.4h-1.3zM621 27h1.3v2.4h-1.3zM621 29.1h1.3v2.4h-1.3zM622 28.9h1.3v2.4h-1.3zM622 31h1.3v2.4h-1.3zM623 28h1.3v2.4h-1.3zM623 30.1h1.3v2.4h-1.3zM624 28.1h1.3v2.4h-1.3zM624 30.2h1.3v2.4h-1.3zM625 28.4h1.3v2.4h-1.3zM625 30.5h1.3v2.4h-1.3zM626 26.1h1.3v2.4h-1.3zM626 28.2h1.3v2.4h-1.3zM627 26.2h1.3v2.4h-1.3zM627 28.3h1.3v2.4h-1.3zM628 26.2h1.3v2.4h-1.3zM628 28.3h1.3v2.4h-1.3zM629 25.4h1.3v2.4h-1.3zM629 27.5h1.3v2.4h-1.3zM630 25.1h1.3v2.4h-1.3zM630 27.2h1.3v2.4h-1.3zM631 25.7h1.3v2.4h-1.3zM631 27.8h1.3v2.4h-1.3zM632 26.8h1.3v2.4h-1.3zM632 28.9h1.3v2.4h-1.3zM633 26.4h1.3v2.4h-1.3zM633 28.5h1.3v2.4h-1.3zM634 25.7h1.3v2.4h-1.3zM634 27.8h1.3v2.4h-1.3zM635 26.6h1.3v2.4h-1.3zM635 28.7h1.3v2.4h-1.3zM636 25.1h1.3v2.4h-1.3zM636 27.2h1.3v2.4h-1.3zM637 26.1h1.3v2.4h-1.3zM637 28.2h1.3v2.4h-1.3zM638 27.3h1.3v2.4h-1.3zM638 29.4h1.3v2.4h-1.3zM639 27.6h1.3v2.4h-1.3zM639 29.7h1.3v2.4h-1.3zM640 25.7h1.3v2.4h-1.3zM640 27.8h1.3v2.4h-1.3zM641 27.4h1.3v2.4h-1.3zM641 29.5h1.3v2.4h-1.3zM642 27h1.3v2.4h-1.3zM642 29.1h1.3v2.4h-1.3zM643 25.6h1.3v2.4h-1.3zM643 27.7h1.3v2.4h-1.3zM644 26.9h1.3v2.4h-1.3zM644 29h1.3v2.4h-1.3zM645 26.7h1.3v2.4h-1.3zM645 28.8h1.3v2.4h-1.3zM646 25.9h1.3v2.4h-1.3zM646 28h1.3v2.4h-1.3zM647 25.2h1.3v2.4h-1.3zM647 27.3h1.3v2.4h-1.3zM648 27.1h1.3v2.4h-1.3zM648 29.2h1.3v2.4h-1.3zM649 25.4h1.3v2.4h-1.3zM649 27.5h1.3v2.4h-1.3zM650 23.3h1.3v2.4h-1.3zM650 25.4h1.3v2.4h-1.3zM651 24.2h1.3v2.4h-1.3zM652 23.2h1.3v2.4h-1.3zM653 22.9h1.3v2.4h-1.3zM654 23.5h1.3v2.4h-1.3zM655 22.7h1.3v2.4h-1.3zM656 22.4h1.3v2.4h-1.3zM657 21.9h1.3v2.4h-1.3zM658 22.2h1.3v2.4h-1.3zM659 21.8h1.3v2.4h-1.3zM660 22.4h1.3v2.4h-1.3zM661 23.3h1.3v2.4h-1.3zM662 24h1.3v2.4h-1.3zM663 21.9h1.3v2.4h-1.3zM664 21.8h1.3v2.4h-1.3zM665 23.5h1.3v2.4h-1.3zM666 23.4h1.3v2.4h-1.3zM667 22.8h1.3v2.4h-1.3zM668 23.7h1.3v2.4h-1.3zM669 23.7h1.3v2.4h-1.3zM670 23.6h1.3v2.4h-1.3zM671 22.9h1.3v2.4h-1.3zM672 23.7h1.3v2.4h-1.3zM673 23.9h1.3v2.4h-1.3zM674 23.1h1.3v2.4h-1.3zM675 22.1h1.3v2.4h-1.3zM676 22.1h1.3v2.4h-1.3zM677 23.1h1.3v2.4h-1.3zM678 21.8h1.3v2.4h-1.3zM679 22.3h1.3v2.4h-1.3zM680 22.9h1.3v2.4h-1.3zM681 22.4h1.3v2.4h-1.3zM682 22.2h1.3v2.4h-1.3zM683 22h1.3v2.4h-1.3zM684 22.7h0.9v2.4h-0.9z"/>
<path fill="#08000f" d="M419 34.5h1.3v2.4h-1.3zM420 34.7h1.3v2.4h-1.3zM422 33.6h1.3v2.4h-1.3zM423 34.3h1.3v2.4h-1.3zM426 69.6h1.3v2.4h-1.3zM431 33.9h1.3v2.4h-1.3zM434 34h1.3v2.4h-1.3zM434 69.7h1.3v2.4h-1.3zM437 67.4h1.3v2.4h-1.3zM438 69.5h1.3v2.4h-1.3zM440 33.9h1.3v2.4h-1.3zM448 67.4h1.3v2.4h-1.3zM455 67.4h1.3v2.4h-1.3zM464 71.3h1.3v1.6h-1.3zM467 33.9h1.3v2.4h-1.3zM476 36.9h1.3v2.4h-1.3zM480 36.1h1.3v2.4h-1.3zM481 36h1.3v2.4h-1.3zM492 36.9h1.3v2.4h-1.3zM493 36.2h1.3v2.4h-1.3zM495 36.8h1.3v2.4h-1.3zM498 37.2h1.3v2.4h-1.3zM500 36.5h1.3v2.4h-1.3zM505 36.2h1.3v2.4h-1.3zM506 35.9h1.3v2.4h-1.3zM509 36.5h1.3v2.4h-1.3zM510 35.8h1.3v2.4h-1.3zM514 35h1.3v2.4h-1.3zM517 35.6h1.3v2.4h-1.3zM518 36h1.3v2.4h-1.3zM519 36h1.3v2.4h-1.3zM528 35.4h1.3v2.4h-1.3zM530 35.7h1.3v2.4h-1.3zM533 34.8h1.3v2.4h-1.3zM535 33.9h1.3v2.4h-1.3zM544 33.8h1.3v2.4h-1.3zM554 33.7h1.3v2.4h-1.3zM556 32.7h1.3v2.4h-1.3zM557 33.8h1.3v2.4h-1.3zM558 32.8h1.3v2.4h-1.3zM559 33h1.3v2.4h-1.3zM560 34.1h1.3v2.4h-1.3zM561 33.3h1.3v2.4h-1.3zM566 34.4h1.3v2.4h-1.3zM567 33.4h1.3v2.4h-1.3zM571 32.8h1.3v2.4h-1.3zM572 32.7h1.3v2.4h-1.3zM576 32.5h1.3v2.4h-1.3zM579 34.3h1.3v2.4h-1.3zM587 32.4h1.3v2.4h-1.3z"/>
<path fill="#11001d" d="M410 33.9h1.3v2.4h-1.3zM412 34h1.3v2.4h-1.3zM413 35.1h1.3v2.4h-1.3zM414 34.4h1.3v2.4h-1.3zM425 71.9h1.3v1h-1.3zM427 35.2h1.3v2.4h-1.3zM427 68.8h1.3v2.4h-1.3zM427 70.9h1.3v2h-1.3zM428 36h1.3v2.4h-1.3zM433 33.9h1.3v2.4h-1.3zM433 71.7h1.3v1.2h-1.3zM435 33.6h1.3v2.4h-1.3zM438 67.4h1.3v2.4h-1.3zM439 35.1h1.3v2.4h-1.3zM442 35.4h1.3v2.4h-1.3zM449 34.4h1.3v2.4h-1.3zM453 33.6h1.3v2.4h-1.3zM453 67.2h1.3v2.4h-1.3zM455 71.6h1.3v1.3h-1.3zM456 35.2h1.3v2.4h-1.3zM461 35.1h1.3v2.4h-1.3zM462 72.5h1.3v0.4h-1.3zM463 67.6h1.3v2.4h-1.3zM466 35.3h1.3v2.4h-1.3zM468 69.5h1.3v2.4h-1.3zM469 33.6h1.3v2.4h-1.3zM469 35.7h1.3v2.4h-1.3zM471 34.2h1.3v2.4h-1.3zM472 37.2h1.3v2.4h-1.3zM473 37.2h1.3v2.4h-1.3zM474 37.1h1.3v2.4h-1.3zM477 37.5h1.3v2.4h-1.3zM482 37.1h1.3v2.4h-1.3zM483 37h1.3v2.4h-1.3zM484 71.7h1.3v1.2h-1.3zM485 35.2h1.3v2.4h-1.3zM490 36.9h1.3v2.4h-1.3zM496 36.4h1.3v2.4h-1.3zM499 37h1.3v2.4h-1.3zM502 36.6h1.3v2.4h-1.3zM503 35.5h1.3v2.4h-1.3zM508 36.7h1.3v2.4h-1.3zM512 36.8h1.3v2.4h-1.3zM513 36h1.3v2.4h-1.3zM523 36.9h1.3v2.4h-1.3zM525 35.5h1.3v2.4h-1.3zM529 35.3h1.3v2.4h-1.3zM532 35.8h1.3v2.4h-1.3zM538 35.2h1.3v2.4h-1.3zM540 35.1h1.3v2.4h-1.3zM541 34.9h1.3v2.4h-1.3zM545 33h1.3v2.4h-1.3zM550 34.3h1.3v2.4h-1.3zM553 32.7h1.3v2.4h-1.3zM559 35.1h1.3v2.4h-1.3zM565 32.3h1.3v2.4h-1.3zM568 34.7h1.3v2.4h-1.3zM570 32.5h1.3v2.4h-1.3zM582 33.5h1.3v2.4h-1.3zM583 32.4h1.3v2.4h-1.3zM584 33.8h1.3v2.4h-1.3zM586 34h1.3v2.4h-1.3zM588 33.6h1.3v2.4h-1.3z"/>
<path fill="#19002c" d="M410 36h1.3v2.4h-1.3zM424 35.9h1.3v2.4h-1.3zM425 36.2h1.3v2.4h-1.3zM425 67.7h1.3v2.4h-1.3zM426 36h1.3v2.4h-1.3zM426 71.7h1.3v1.2h-1.3zM429 35h1.3v2.4h-1.3zM431 36h1.3v2.4h-1.3zM433 69.6h1.3v2.4h-1.3zM437 69.5h1.3v2.4h-1.3zM438 71.6h1.3v1.3h-1.3zM442 71.1h1.3v1.8h-1.3zM446 36h1.3v2.4h-1.3zM449 72.2h1.3v0.7h-1.3zM450 34.9h1.3v2.4h-1.3zM452 34.6h1.3v2.4h-1.3zM454 69.3h1.3v2.4h-1.3zM455 69.5h1.3v2.4h-1.3zM462 70.4h1.3v2.4h-1.3zM464 35.6h1.3v2.4h-1.3zM465 34.3h1.3v2.4h-1.3zM467 71.7h1.3v1.2h-1.3zM470 67h1.3v2.4h-1.3zM471 36.3h1.3v2.4h-1.3zM475 36.1h1.3v2.4h-1.3zM485 70.9h1.3v2h-1.3zM486 35.9h1.3v2.4h-1.3zM486 38h1.3v2.4h-1.3zM486 69.5h1.3v2.4h-1.3zM487 34.9h1.3v2.4h-1.3zM489 37h1.3v2.4h-1.3zM494 69.9h1.3v2.4h-1.3zM494 72h1.3v0.9h-1.3zM495 70.4h1.3v2.4h-1.3zM499 34.9h1.3v2.4h-1.3zM504 35.2h1.3v2.4h-1.3zM514 37.1h1.3v2.4h-1.3zM520 36.6h1.3v2.4h-1.3zM521 36h1.3v2.4h-1.3zM522 36.2h1.3v2.4h-1.3zM531 35.4h1.3v2.4h-1.3zM538 33.1h1.3v2.4h-1.3zM539 36.4h1.3v2.4h-1.3zM542 33.3h1.3v2.4h-1.3zM548 34.5h1.3v2.4h-1.3zM551 35.6h1.3v2.4h-1.3zM557 35.9h1.3v2.4h-1.3zM558 34.9h1.3v2.4h-1.3zM569 33.5h1.3v2.4h-1.3zM573 32.5h1.3v2.4h-1.3zM580 34.3h1.3v2.4h-1.3zM581 34.1h1.3v2.4h-1.3zM582 35.6h1.3v2.4h-1.3zM589 33.5h1.3v2.4h-1.3zM590 32.3h1.3v2.4h-1.3zM636 29.3h1.3v2.4h-1.3z"/>
<path fill="#21003a" d="M421 34.4h1.3v2.4h-1.3zM425 69.8h1.3v2.4h-1.3zM426 67.5h1.3v2.4h-1.3zM433 36h1.3v2.4h-1.3zM433 67.5h1.3v2.4h-1.3zM434 67.6h1.3v2.4h-1.3zM437 35.9h1.3v2.4h-1.3zM437 71.6h1.3v1.3h-1.3zM438 35.9h1.3v2.4h-1.3zM440 36h1.3v2.4h-1.3zM443 69.5h1.3v2.4h-1.3zM447 66.9h1.3v2.4h-1.3zM448 35.9h1.3v2.4h-1.3zM448 69.5h1.3v2.4h-1.3zM448 71.6h1.3v1.3h-1.3zM453 69.3h1.3v2.4h-1.3zM453 71.4h1.3v1.5h-1.3zM454 67.2h1.3v2.4h-1.3zM454 71.4h1.3v1.5h-1.3zM458 34.5h1.3v2.4h-1.3zM458 36.6h1.3v2.4h-1.3zM459 36.3h1.3v2.4h-1.3zM462 34.7h1.3v2.4h-1.3zM463 36.1h1.3v2.4h-1.3zM463 69.7h1.3v2.4h-1.3zM465 36.4h1.3v2.4h-1.3zM467 69.6h1.3v2.4h-1.3zM468 67.4h1.3v2.4h-1.3zM468 71.6h1.3v1.3h-1.3zM470 71.2h1.3v1.7h-1.3zM478 36.9h1.3v2.4h-1.3zM481 38.1h1.3v2.4h-1.3zM484 36h1.3v2.4h-1.3zM484 69.6h1.3v2.4h-1.3zM486 71.6h1.3v1.3h-1.3zM487 37h1.3v2.4h-1.3zM488 35.8h1.3v2.4h-1.3zM497 37.3h1.3v2.4h-1.3zM505 38.3h1.3v2.4h-1.3zM510 37.9h1.3v2.4h-1.3zM519 38.1h1.3v2.4h-1.3zM525 37.6h1.3v2.4h-1.3zM526 36.2h1.3v2.4h-1.3zM527 35.1h1.3v2.4h-1.3zM536 35.5h1.3v2.4h-1.3zM547 33.2h1.3v2.4h-1.3zM550 36.4h1.3v2.4h-1.3zM554 35.8h1.3v2.4h-1.3zM556 34.8h1.3v2.4h-1.3zM565 34.4h1.3v2.4h-1.3zM572 34.8h1.3v2.4h-1.3zM575 34.2h1.3v2.4h-1.3zM576 34.6h1.3v2.4h-1.3zM578 34.3h1.3v2.4h-1.3zM580 36.4h1.3v2.4h-1.3zM581 36.2h1.3v2.4h-1.3zM584 35.9h1.3v2.4h-1.3zM585 35.9h1.3v2.4h-1.3zM587 34.5h1.3v2.4h-1.3zM600 31.7h1.3v2.4h-1.3zM616 31.8h1.3v2.4h-1.3zM621 31.2h1.3v2.4h-1.3zM637 30.3h1.3v2.4h-1.3zM660 24.5h1.3v2.4h-1.3z"/>
<path fill="#2a0049" d="M420 36.8h1.3v2.4h-1.3zM427 66.7h1.3v2.4h-1.3zM434 71.8h1.3v1.1h-1.3zM443 67.4h1.3v2.4h-1.3zM443 71.6h1.3v1.3h-1.3zM444 35.2h1.3v2.4h-1.3zM445 35.5h1.3v2.4h-1.3zM447 71.1h1.3v1.8h-1.3zM449 68h1.3v2.4h-1.3zM450 70.6h1.3v2.3h-1.3zM452 36.7h1.3v2.4h-1.3zM459 34.2h1.3v2.4h-1.3zM462 68.3h1.3v2.4h-1.3zM463 71.8h1.3v1.1h-1.3zM464 67.1h1.3v2.4h-1.3zM464 69.2h1.3v2.4h-1.3zM470 35.5h1.3v2.4h-1.3zM470 69.1h1.3v2.4h-1.3zM479 38.8h1.3v2.4h-1.3zM485 37.3h1.3v2.4h-1.3zM489 39.1h1.3v2.4h-1.3zM490 39h1.3v2.4h-1.3zM491 36h1.3v2.4h-1.3zM492 39h1.3v2.4h-1.3zM495 72.5h1.3v0.4h-1.3zM502 38.7h1.3v2.4h-1.3zM511 37.1h1.3v2.4h-1.3zM511 39.2h1.3v2.4h-1.3zM512 38.9h1.3v2.4h-1.3zM528 37.5h1.3v2.4h-1.3zM529 37.4h1.3v2.4h-1.3zM533 36.9h1.3v2.4h-1.3zM539 34.3h1.3v2.4h-1.3zM542 35.4h1.3v2.4h-1.3zM549 71.1h1.3v1.8h-1.3zM551 33.5h1.3v2.4h-1.3zM563 36.6h1.3v2.4h-1.3zM564 35.2h1.3v2.4h-1.3zM566 36.5h1.3v2.4h-1.3zM570 34.6h1.3v2.4h-1.3zM571 34.9h1.3v2.4h-1.3zM583 34.5h1.3v2.4h-1.3zM586 36.1h1.3v2.4h-1.3zM624 32.3h1.3v2.4h-1.3zM626 30.3h1.3v2.4h-1.3zM646 30.1h1.3v2.4h-1.3zM650 27.5h1.3v2.4h-1.3zM659 26h1.3v2.4h-1.3zM663 24h1.3v2.4h-1.3zM681 24.5h1.3v2.4h-1.3zM682 24.3h1.3v2.4h-1.3z"/>
<path fill="#320058" d="M411 69.2h1.3v2.4h-1.3zM413 37.2h1.3v2.4h-1.3zM417 71.9h1.3v1h-1.3zM429 37.1h1.3v2.4h-1.3zM430 35.7h1.3v2.4h-1.3zM432 35.4h1.3v2.4h-1.3zM442 66.9h1.3v2.4h-1.3zM454 37.8h1.3v2.4h-1.3zM456 68.8h1.3v2.4h-1.3zM457 69.4h1.3v2.4h-1.3zM461 37.2h1.3v2.4h-1.3zM465 70h1.3v2.4h-1.3zM465 72.1h1.3v0.8h-1.3zM467 67.5h1.3v2.4h-1.3zM468 35.9h1.3v2.4h-1.3zM483 39.1h1.3v2.4h-1.3zM485 68.8h1.3v2.4h-1.3zM501 37.2h1.3v2.4h-1.3zM501 39.3h1.3v2.4h-1.3zM531 37.5h1.3v2.4h-1.3zM534 35.8h1.3v2.4h-1.3zM536 37.6h1.3v2.4h-1.3zM540 33h1.3v2.4h-1.3zM541 37h1.3v2.4h-1.3zM546 33.2h1.3v2.4h-1.3zM551 69.2h1.3v2.4h-1.3zM553 34.8h1.3v2.4h-1.3zM555 32.7h1.3v2.4h-1.3zM562 35h1.3v2.4h-1.3zM573 34.6h1.3v2.4h-1.3zM574 33.9h1.3v2.4h-1.3zM577 34.7h1.3v2.4h-1.3zM609 68.3h1.3v2.4h-1.3zM614 32.3h1.3v2.4h-1.3zM628 30.4h1.3v2.4h-1.3zM655 24.8h1.3v2.4h-1.3zM657 24h1.3v2.4h-1.3zM657 26.1h1.3v2.4h-1.3zM664 28.1h1.3v2.4h-1.3zM670 25.7h1.3v2.4h-1.3zM675 26.3h1.3v2.4h-1.3zM676 26.3h1.3v2.4h-1.3zM681 26.6h1.3v2.4h-1.3z"/>
<path fill="#3a0066" d="M412 67.6h1.3v2.4h-1.3zM413 70.8h1.3v2.1h-1.3zM416 71.6h1.3v1.3h-1.3zM419 72.3h1.3v0.6h-1.3zM422 35.7h1.3v2.4h-1.3zM424 38h1.3v2.4h-1.3zM424 67.4h1.3v2.4h-1.3zM424 71.6h1.3v1.3h-1.3zM436 37.7h1.3v2.4h-1.3zM439 68.7h1.3v2.4h-1.3zM440 69.6h1.3v2.4h-1.3zM440 71.7h1.3v1.2h-1.3zM441 35.4h1.3v2.4h-1.3zM443 38h1.3v2.4h-1.3zM447 37.5h1.3v2.4h-1.3zM454 35.7h1.3v2.4h-1.3zM457 37.9h1.3v2.4h-1.3zM458 72.3h1.3v0.6h-1.3zM466 37.4h1.3v2.4h-1.3zM474 39.2h1.3v2.4h-1.3zM482 70.7h1.3v2.2h-1.3zM488 37.9h1.3v2.4h-1.3zM498 70.8h1.3v2.1h-1.3zM503 37.6h1.3v2.4h-1.3zM517 69.2h1.3v2.4h-1.3zM522 69.8h1.3v2.4h-1.3zM523 70.5h1.3v2.4h-1.3zM524 36.9h1.3v2.4h-1.3zM524 39h1.3v2.4h-1.3zM529 68.9h1.3v2.4h-1.3zM535 36h1.3v2.4h-1.3zM539 67.9h1.3v2.4h-1.3zM540 68.7h1.3v2.4h-1.3zM543 34.6h1.3v2.4h-1.3zM545 35.1h1.3v2.4h-1.3zM547 35.3h1.3v2.4h-1.3zM547 68.9h1.3v2.4h-1.3zM549 33.3h1.3v2.4h-1.3zM549 69h1.3v2.4h-1.3zM555 34.8h1.3v2.4h-1.3zM562 37.1h1.3v2.4h-1.3zM563 34.5h1.3v2.4h-1.3zM576 66.1h1.3v2.4h-1.3zM589 69.2h1.3v2.4h-1.3zM589 71.3h1.3v1.6h-1.3zM607 32.6h1.3v2.4h-1.3zM608 32.7h1.3v2.4h-1.3zM610 72h1.3v0.9h-1.3zM619 32.8h1.3v2.4h-1.3zM623 32.2h1.3v2.4h-1.3zM630 31.4h1.3v2.4h-1.3zM648 31.3h1.3v2.4h-1.3zM666 27.6h1.3v2.4h-1.3zM666 29.7h1.3v2.4h-1.3zM672 27.9h1.3v2.4h-1.3zM680 29.2h1.3v2.4h-1.3zM684 26.9h0.9v2.4h-0.9z"/>
<path fill="#430075" d="M412 69.7h1.3v2.4h-1.3zM413 68.7h1.3v2.4h-1.3zM414 68h1.3v2.4h-1.3zM416 67.4h1.3v2.4h-1.3zM416 69.5h1.3v2.4h-1.3zM417 67.7h1.3v2.4h-1.3zM424 69.5h1.3v2.4h-1.3zM426 38.1h1.3v2.4h-1.3zM439 66.6h1.3v2.4h-1.3zM440 67.5h1.3v2.4h-1.3zM441 66.9h1.3v2.4h-1.3zM443 35.9h1.3v2.4h-1.3zM451 38.1h1.3v2.4h-1.3zM451 71.7h1.3v1.2h-1.3zM453 35.7h1.3v2.4h-1.3zM455 35.9h1.3v2.4h-1.3zM456 66.7h1.3v2.4h-1.3zM457 35.8h1.3v2.4h-1.3zM457 67.3h1.3v2.4h-1.3zM458 68.1h1.3v2.4h-1.3zM458 70.2h1.3v2.4h-1.3zM460 37.8h1.3v2.4h-1.3zM464 37.7h1.3v2.4h-1.3zM467 36h1.3v2.4h-1.3zM483 70.6h1.3v2.3h-1.3zM489 70.6h1.3v2.3h-1.3zM491 38.1h1.3v2.4h-1.3zM493 38.3h1.3v2.4h-1.3zM504 37.3h1.3v2.4h-1.3zM515 36.9h1.3v2.4h-1.3zM516 37.3h1.3v2.4h-1.3zM518 71.7h1.3v1.2h-1.3zM521 71.7h1.3v1.2h-1.3zM523 72.6h1.3v0.3h-1.3zM524 72.6h1.3v0.3h-1.3zM529 71h1.3v1.9h-1.3zM530 71.4h1.3v1.5h-1.3zM531 66.9h1.3v2.4h-1.3zM532 37.9h1.3v2.4h-1.3zM532 67.3h1.3v2.4h-1.3zM532 69.4h1.3v2.4h-1.3zM535 69.6h1.3v2.4h-1.3zM537 34.5h1.3v2.4h-1.3zM539 72.1h1.3v0.8h-1.3zM540 66.6h1.3v2.4h-1.3zM545 66.6h1.3v2.4h-1.3zM545 68.7h1.3v2.4h-1.3zM547 66.8h1.3v2.4h-1.3zM548 70.2h1.3v2.4h-1.3zM550 72.1h1.3v0.8h-1.3zM551 67.1h1.3v2.4h-1.3zM551 71.3h1.3v1.6h-1.3zM561 35.4h1.3v2.4h-1.3zM573 66.1h1.3v2.4h-1.3zM573 68.2h1.3v2.4h-1.3zM574 69.6h1.3v2.4h-1.3zM574 71.7h1.3v1.2h-1.3zM575 69.9h1.3v2.4h-1.3zM575 72h1.3v0.9h-1.3zM576 68.2h1.3v2.4h-1.3zM576 70.3h1.3v2.4h-1.3zM577 70.4h1.3v2.4h-1.3zM581 71.9h1.3v1h-1.3zM588 69.3h1.3v2.4h-1.3zM588 71.4h1.3v1.5h-1.3zM589 67.1h1.3v2.4h-1.3zM592 68.3h1.3v2.4h-1.3zM592 70.4h1.3v2.4h-1.3zM601 33h1.3v2.4h-1.3zM609 72.5h1.3v0.4h-1.3zM626 32.4h1.3v2.4h-1.3zM628 32.5h1.3v2.4h-1.3zM632 33.1h1.3v2.4h-1.3zM633 32.7h1.3v2.4h-1.3zM635 32.9h1.3v2.4h-1.3zM638 33.6h1.3v2.4h-1.3zM645 33h1.3v2.4h-1.3zM651 28.4h1.3v2.4h-1.3zM653 29.2h1.3v2.4h-1.3zM654 27.7h1.3v2.4h-1.3zM655 26.9h1.3v2.4h-1.3zM659 28.1h1.3v2.4h-1.3zM668 30h1.3v2.4h-1.3zM671 29.2h1.3v2.4h-1.3zM678 23.9h1.3v2.4h-1.3zM682 28.5h1.3v2.4h-1.3z"/>
<path fill="#4b0083" d="M411 71.3h1.3v1.6h-1.3zM414 72.2h1.3v0.7h-1.3zM416 35.9h1.3v2.4h-1.3zM417 69.8h1.3v2.4h-1.3zM418 35.1h1.3v2.4h-1.3zM418 66.6h1.3v2.4h-1.3zM418 68.7h1.3v2.4h-1.3zM419 68.1h1.3v2.4h-1.3zM419 70.2h1.3v2.4h-1.3zM432 66.9h1.3v2.4h-1.3zM441 69h1.3v2.4h-1.3zM447 35.4h1.3v2.4h-1.3zM450 68.5h1.3v2.4h-1.3zM451 69.6h1.3v2.4h-1.3zM456 70.9h1.3v2h-1.3zM457 71.5h1.3v1.4h-1.3zM463 38.2h1.3v2.4h-1.3zM466 66.8h1.3v2.4h-1.3zM466 68.9h1.3v2.4h-1.3zM466 71h1.3v1.9h-1.3zM481 71.7h1.3v1.2h-1.3zM490 70.5h1.3v2.4h-1.3zM492 70.5h1.3v2.4h-1.3zM498 68.7h1.3v2.4h-1.3zM500 38.6h1.3v2.4h-1.3zM507 37.5h1.3v2.4h-1.3zM515 70.5h1.3v2.4h-1.3zM521 69.6h1.3v2.4h-1.3zM522 71.9h1.3v1h-1.3zM524 70.5h1.3v2.4h-1.3zM530 69.3h1.3v2.4h-1.3zM531 71.1h1.3v1.8h-1.3zM532 71.5h1.3v1.4h-1.3zM533 68.4h1.3v2.4h-1.3zM539 70h1.3v2.4h-1.3zM540 70.8h1.3v2.1h-1.3zM541 68.5h1.3v2.4h-1.3zM541 70.6h1.3v2.3h-1.3zM545 70.8h1.3v2.1h-1.3zM546 66.8h1.3v2.4h-1.3zM547 71h1.3v1.9h-1.3zM548 68.1h1.3v2.4h-1.3zM548 72.3h1.3v0.6h-1.3zM550 70h1.3v2.4h-1.3zM552 34.6h1.3v2.4h-1.3zM567 35.5h1.3v2.4h-1.3zM575 67.8h1.3v2.4h-1.3zM576 72.4h1.3v0.5h-1.3zM577 68.3h1.3v2.4h-1.3zM581 67.7h1.3v2.4h-1.3zM581 69.8h1.3v2.4h-1.3zM588 67.2h1.3v2.4h-1.3zM593 33.4h1.3v2.4h-1.3zM604 33.3h1.3v2.4h-1.3zM618 33.4h1.3v2.4h-1.3zM627 32.5h1.3v2.4h-1.3zM640 32h1.3v2.4h-1.3zM654 71.8h1.3v1.1h-1.3zM672 30h1.3v2.4h-1.3zM672 63.6h1.3v2.4h-1.3zM673 30.2h1.3v2.4h-1.3zM676 68.3h1.3v2.4h-1.3zM677 65.1h1.3v2.4h-1.3z"/>
<path fill="#4f0091" d="M411 35.6h1.3v2.4h-1.3zM411 67.1h1.3v2.4h-1.3zM412 71.8h1.3v1.1h-1.3zM413 66.6h1.3v2.4h-1.3zM414 70.1h1.3v2.4h-1.3zM415 69.6h1.3v2.4h-1.3zM418 70.8h1.3v2.1h-1.3zM430 69.3h1.3v2.4h-1.3zM435 35.7h1.3v2.4h-1.3zM436 35.6h1.3v2.4h-1.3zM439 70.8h1.3v2.1h-1.3zM452 68.2h1.3v2.4h-1.3zM460 35.7h1.3v2.4h-1.3zM461 68.7h1.3v2.4h-1.3zM461 70.8h1.3v2.1h-1.3zM462 66.2h1.3v2.4h-1.3zM465 67.9h1.3v2.4h-1.3zM481 69.6h1.3v2.4h-1.3zM488 69.4h1.3v2.4h-1.3zM488 71.5h1.3v1.4h-1.3zM490 72.6h1.3v0.3h-1.3zM495 68.3h1.3v2.4h-1.3zM514 70.7h1.3v2.2h-1.3zM516 68.8h1.3v2.4h-1.3zM516 70.9h1.3v2h-1.3zM531 69h1.3v2.4h-1.3zM533 70.5h1.3v2.4h-1.3zM533 72.6h1.3v0.3h-1.3zM535 71.7h1.3v1.2h-1.3zM541 66.4h1.3v2.4h-1.3zM546 35.3h1.3v2.4h-1.3zM546 68.9h1.3v2.4h-1.3zM546 71h1.3v1.9h-1.3zM549 35.4h1.3v2.4h-1.3zM549 66.9h1.3v2.4h-1.3zM573 70.3h1.3v2.4h-1.3zM573 72.4h1.3v0.5h-1.3zM574 67.5h1.3v2.4h-1.3zM577 66.2h1.3v2.4h-1.3zM577 72.5h1.3v0.4h-1.3zM592 72.5h1.3v0.4h-1.3zM603 31.4h1.3v2.4h-1.3zM604 31.2h1.3v2.4h-1.3zM606 34h1.3v2.4h-1.3zM609 70.4h1.3v2.4h-1.3zM610 67.8h1.3v2.4h-1.3zM631 29.9h1.3v2.4h-1.3zM654 63.4h1.3v2.4h-1.3zM655 62.6h1.3v2.4h-1.3zM655 64.7h1.3v2.4h-1.3zM655 66.8h1.3v2.4h-1.3zM660 68.6h1.3v2.4h-1.3zM660 70.7h1.3v2.2h-1.3zM672 67.8h1.3v2.4h-1.3zM677 63h1.3v2.4h-1.3z"/>
<path fill="#4e009e" d="M415 71.7h1.3v1.2h-1.3zM423 36.4h1.3v2.4h-1.3zM429 70.7h1.3v2.2h-1.3zM431 67.5h1.3v2.4h-1.3zM431 69.6h1.3v2.4h-1.3zM431 71.7h1.3v1.2h-1.3zM441 71.1h1.3v1.8h-1.3zM450 66.4h1.3v2.4h-1.3zM451 67.5h1.3v2.4h-1.3zM469 67.2h1.3v2.4h-1.3zM471 67.8h1.3v2.4h-1.3zM480 38.2h1.3v2.4h-1.3zM506 71.6h1.3v1.3h-1.3zM514 68.6h1.3v2.4h-1.3zM517 71.3h1.3v1.6h-1.3zM518 69.6h1.3v2.4h-1.3zM521 38.1h1.3v2.4h-1.3zM527 37.2h1.3v2.4h-1.3zM535 67.5h1.3v2.4h-1.3zM537 36.6h1.3v2.4h-1.3zM542 71.1h1.3v1.8h-1.3zM544 35.9h1.3v2.4h-1.3zM550 67.9h1.3v2.4h-1.3zM556 66.3h1.3v2.4h-1.3zM568 66.2h1.3v2.4h-1.3zM579 36.4h1.3v2.4h-1.3zM580 70h1.3v2.4h-1.3zM610 34.2h1.3v2.4h-1.3zM630 29.3h1.3v2.4h-1.3zM650 69.5h1.3v2.4h-1.3zM652 25.3h1.3v2.4h-1.3zM654 67.6h1.3v2.4h-1.3zM658 24.3h1.3v2.4h-1.3zM659 70.1h1.3v2.4h-1.3zM660 66.5h1.3v2.4h-1.3zM672 65.7h1.3v2.4h-1.3zM676 64.1h1.3v2.4h-1.3zM676 66.2h1.3v2.4h-1.3zM677 67.2h1.3v2.4h-1.3zM677 71.4h1.3v1.5h-1.3z"/>
<path fill="#4c00aa" d="M412 36.1h1.3v2.4h-1.3zM415 67.5h1.3v2.4h-1.3zM417 36.2h1.3v2.4h-1.3zM420 68.3h1.3v2.4h-1.3zM420 70.4h1.3v2.4h-1.3zM420 72.5h1.3v0.4h-1.3zM421 72.2h1.3v0.7h-1.3zM422 69.3h1.3v2.4h-1.3zM428 67.5h1.3v2.4h-1.3zM428 69.6h1.3v2.4h-1.3zM429 66.5h1.3v2.4h-1.3zM430 67.2h1.3v2.4h-1.3zM451 36h1.3v2.4h-1.3zM452 70.3h1.3v2.4h-1.3zM452 72.4h1.3v0.5h-1.3zM459 67.8h1.3v2.4h-1.3zM460 67.2h1.3v2.4h-1.3zM469 71.4h1.3v1.5h-1.3zM472 68.7h1.3v2.4h-1.3zM472 70.8h1.3v2.1h-1.3zM473 68.7h1.3v2.4h-1.3zM473 70.8h1.3v2.1h-1.3zM475 38.2h1.3v2.4h-1.3zM482 68.6h1.3v2.4h-1.3zM483 68.5h1.3v2.4h-1.3zM484 38.1h1.3v2.4h-1.3zM506 38h1.3v2.4h-1.3zM513 38.1h1.3v2.4h-1.3zM513 69.6h1.3v2.4h-1.3zM533 66.3h1.3v2.4h-1.3zM548 66h1.3v2.4h-1.3zM550 65.8h1.3v2.4h-1.3zM552 66.1h1.3v2.4h-1.3zM552 72.4h1.3v0.5h-1.3zM556 70.5h1.3v2.4h-1.3zM559 66.6h1.3v2.4h-1.3zM560 67.7h1.3v2.4h-1.3zM561 71.1h1.3v1.8h-1.3zM563 66h1.3v2.4h-1.3zM564 66.7h1.3v2.4h-1.3zM569 35.6h1.3v2.4h-1.3zM570 66.1h1.3v2.4h-1.3zM570 68.2h1.3v2.4h-1.3zM570 72.4h1.3v0.5h-1.3zM571 66.4h1.3v2.4h-1.3zM571 68.5h1.3v2.4h-1.3zM578 36.4h1.3v2.4h-1.3zM580 67.9h1.3v2.4h-1.3zM585 69.5h1.3v2.4h-1.3zM587 70.2h1.3v2.4h-1.3zM594 35.3h1.3v2.4h-1.3zM596 70.2h1.3v2.4h-1.3zM599 31.4h1.3v2.4h-1.3zM602 34.2h1.3v2.4h-1.3zM610 69.9h1.3v2.4h-1.3zM611 70.5h1.3v2.4h-1.3zM612 71.1h1.3v1.8h-1.3zM615 34.1h1.3v2.4h-1.3zM620 34.1h1.3v2.4h-1.3zM621 71.1h1.3v1.8h-1.3zM622 66.7h1.3v2.4h-1.3zM624 34.4h1.3v2.4h-1.3zM628 66.1h1.3v2.4h-1.3zM629 29.6h1.3v2.4h-1.3zM643 65.5h1.3v2.4h-1.3zM643 69.7h1.3v2.4h-1.3zM647 29.4h1.3v2.4h-1.3zM648 69.1h1.3v2.4h-1.3zM650 65.3h1.3v2.4h-1.3zM650 67.4h1.3v2.4h-1.3zM655 68.9h1.3v2.4h-1.3zM655 71h1.3v1.9h-1.3zM656 24.5h1.3v2.4h-1.3zM656 62.3h1.3v2.4h-1.3zM656 66.5h1.3v2.4h-1.3zM656 68.6h1.3v2.4h-1.3zM656 70.7h1.3v2.2h-1.3zM657 66h1.3v2.4h-1.3zM659 63.8h1.3v2.4h-1.3zM659 68h1.3v2.4h-1.3zM659 72.2h1.3v0.7h-1.3zM676 24.2h1.3v2.4h-1.3zM676 72.5h1.3v0.4h-1.3zM677 69.3h1.3v2.4h-1.3zM679 24.4h1.3v2.4h-1.3z"/>
<path fill="#4b00b6" d="M415 36h1.3v2.4h-1.3zM420 66.2h1.3v2.4h-1.3zM421 36.5h1.3v2.4h-1.3zM421 68h1.3v2.4h-1.3zM421 70.1h1.3v2.4h-1.3zM422 67.2h1.3v2.4h-1.3zM422 71.4h1.3v1.5h-1.3zM423 67.9h1.3v2.4h-1.3zM423 70h1.3v2.4h-1.3zM429 68.6h1.3v2.4h-1.3zM430 71.4h1.3v1.5h-1.3zM432 69h1.3v2.4h-1.3zM432 71.1h1.3v1.8h-1.3zM434 36.1h1.3v2.4h-1.3zM460 69.3h1.3v2.4h-1.3zM460 71.4h1.3v1.5h-1.3zM469 69.3h1.3v2.4h-1.3zM471 69.9h1.3v2.4h-1.3zM471 72h1.3v0.9h-1.3zM474 70.7h1.3v2.2h-1.3zM487 39.1h1.3v2.4h-1.3zM490 68.4h1.3v2.4h-1.3zM492 68.4h1.3v2.4h-1.3zM494 38.4h1.3v2.4h-1.3zM496 38.5h1.3v2.4h-1.3zM499 70.6h1.3v2.3h-1.3zM513 71.7h1.3v1.2h-1.3zM517 37.7h1.3v2.4h-1.3zM518 38.1h1.3v2.4h-1.3zM519 71.7h1.3v1.2h-1.3zM522 38.3h1.3v2.4h-1.3zM524 68.4h1.3v2.4h-1.3zM537 68.1h1.3v2.4h-1.3zM537 70.2h1.3v2.4h-1.3zM537 72.3h1.3v0.6h-1.3zM542 66.9h1.3v2.4h-1.3zM543 36.7h1.3v2.4h-1.3zM552 68.2h1.3v2.4h-1.3zM557 71.6h1.3v1.3h-1.3zM558 66.4h1.3v2.4h-1.3zM558 70.6h1.3v2.3h-1.3zM559 70.8h1.3v2.1h-1.3zM560 36.2h1.3v2.4h-1.3zM560 71.9h1.3v1h-1.3zM562 66.5h1.3v2.4h-1.3zM563 70.2h1.3v2.4h-1.3zM563 72.3h1.3v0.6h-1.3zM565 36.5h1.3v2.4h-1.3zM568 70.4h1.3v2.4h-1.3zM568 72.5h1.3v0.4h-1.3zM569 69.2h1.3v2.4h-1.3zM572 66.3h1.3v2.4h-1.3zM575 36.3h1.3v2.4h-1.3zM575 65.7h1.3v2.4h-1.3zM578 65.8h1.3v2.4h-1.3zM579 65.8h1.3v2.4h-1.3zM579 72.1h1.3v0.8h-1.3zM583 36.6h1.3v2.4h-1.3zM585 67.4h1.3v2.4h-1.3zM585 71.6h1.3v1.3h-1.3zM591 35.6h1.3v2.4h-1.3zM596 72.3h1.3v0.6h-1.3zM597 35.3h1.3v2.4h-1.3zM597 66.8h1.3v2.4h-1.3zM599 71.3h1.3v1.6h-1.3zM600 69.5h1.3v2.4h-1.3zM609 66.2h1.3v2.4h-1.3zM611 68.4h1.3v2.4h-1.3zM617 34.6h1.3v2.4h-1.3zM622 35.2h1.3v2.4h-1.3zM622 70.9h1.3v2h-1.3zM640 29.9h1.3v2.4h-1.3zM643 67.6h1.3v2.4h-1.3zM643 71.8h1.3v1.1h-1.3zM649 29.6h1.3v2.4h-1.3zM649 67.4h1.3v2.4h-1.3zM649 69.5h1.3v2.4h-1.3zM650 71.6h1.3v1.3h-1.3zM654 25.6h1.3v2.4h-1.3zM654 69.7h1.3v2.4h-1.3zM656 64.4h1.3v2.4h-1.3zM657 63.9h1.3v2.4h-1.3zM657 68.1h1.3v2.4h-1.3zM657 70.2h1.3v2.4h-1.3zM657 72.3h1.3v0.6h-1.3zM659 65.9h1.3v2.4h-1.3zM660 62.3h1.3v2.4h-1.3zM660 64.4h1.3v2.4h-1.3zM672 69.9h1.3v2.4h-1.3zM672 72h1.3v0.9h-1.3zM675 24.2h1.3v2.4h-1.3zM676 70.4h1.3v2.4h-1.3zM680 25h1.3v2.4h-1.3zM683 24.1h1.3v2.4h-1.3z"/>
<path fill="#4900c3" d="M419 66h1.3v2.4h-1.3zM421 65.9h1.3v2.4h-1.3zM423 72.1h1.3v0.8h-1.3zM428 71.7h1.3v1.2h-1.3zM449 36.5h1.3v2.4h-1.3zM459 69.9h1.3v2.4h-1.3zM459 72h1.3v0.9h-1.3zM461 66.6h1.3v2.4h-1.3zM462 36.8h1.3v2.4h-1.3zM485 39.4h1.3v2.4h-1.3zM487 68.5h1.3v2.4h-1.3zM487 70.6h1.3v2.3h-1.3zM489 68.5h1.3v2.4h-1.3zM491 71.7h1.3v1.2h-1.3zM495 38.9h1.3v2.4h-1.3zM500 72.2h1.3v0.7h-1.3zM511 68.6h1.3v2.4h-1.3zM511 70.7h1.3v2.2h-1.3zM512 70.4h1.3v2.4h-1.3zM512 72.5h1.3v0.4h-1.3zM520 70.2h1.3v2.4h-1.3zM520 72.3h1.3v0.6h-1.3zM523 68.4h1.3v2.4h-1.3zM536 67h1.3v2.4h-1.3zM536 69.1h1.3v2.4h-1.3zM536 71.2h1.3v1.7h-1.3zM542 69h1.3v2.4h-1.3zM548 36.6h1.3v2.4h-1.3zM552 70.3h1.3v2.4h-1.3zM556 72.6h1.3v0.3h-1.3zM557 67.4h1.3v2.4h-1.3zM558 68.5h1.3v2.4h-1.3zM559 68.7h1.3v2.4h-1.3zM560 69.8h1.3v2.4h-1.3zM561 66.9h1.3v2.4h-1.3zM561 69h1.3v2.4h-1.3zM562 68.6h1.3v2.4h-1.3zM562 70.7h1.3v2.2h-1.3zM563 68.1h1.3v2.4h-1.3zM564 68.8h1.3v2.4h-1.3zM564 70.9h1.3v2h-1.3zM569 67.1h1.3v2.4h-1.3zM571 70.6h1.3v2.3h-1.3zM572 68.4h1.3v2.4h-1.3zM572 70.5h1.3v2.4h-1.3zM572 72.6h1.3v0.3h-1.3zM573 36.7h1.3v2.4h-1.3zM574 36h1.3v2.4h-1.3zM576 36.7h1.3v2.4h-1.3zM578 72.1h1.3v0.8h-1.3zM579 67.9h1.3v2.4h-1.3zM579 70h1.3v2.4h-1.3zM580 65.8h1.3v2.4h-1.3zM580 72.1h1.3v0.8h-1.3zM586 69.7h1.3v2.4h-1.3zM586 71.8h1.3v1.1h-1.3zM587 72.3h1.3v0.6h-1.3zM593 67h1.3v2.4h-1.3zM593 69.1h1.3v2.4h-1.3zM593 71.2h1.3v1.7h-1.3zM597 68.9h1.3v2.4h-1.3zM597 71h1.3v1.9h-1.3zM599 67.1h1.3v2.4h-1.3zM600 67.4h1.3v2.4h-1.3zM606 31.9h1.3v2.4h-1.3zM607 34.7h1.3v2.4h-1.3zM611 34.8h1.3v2.4h-1.3zM612 66.9h1.3v2.4h-1.3zM618 35.5h1.3v2.4h-1.3zM621 66.9h1.3v2.4h-1.3zM628 68.2h1.3v2.4h-1.3zM628 70.3h1.3v2.4h-1.3zM628 72.4h1.3v0.5h-1.3zM634 29.9h1.3v2.4h-1.3zM642 69h1.3v2.4h-1.3zM642 71.1h1.3v1.8h-1.3zM649 65.3h1.3v2.4h-1.3zM649 71.6h1.3v1.3h-1.3zM653 25h1.3v2.4h-1.3zM654 65.5h1.3v2.4h-1.3zM659 23.9h1.3v2.4h-1.3zM664 23.9h1.3v2.4h-1.3zM677 25.2h1.3v2.4h-1.3z"/>
<path fill="#4800d0" d="M423 65.8h1.3v2.4h-1.3zM449 65.9h1.3v2.4h-1.3zM458 66h1.3v2.4h-1.3zM475 69.7h1.3v2.4h-1.3zM475 71.8h1.3v1.1h-1.3zM476 39h1.3v2.4h-1.3zM500 70.1h1.3v2.4h-1.3zM506 69.5h1.3v2.4h-1.3zM507 71.1h1.3v1.8h-1.3zM508 70.3h1.3v2.4h-1.3zM515 68.4h1.3v2.4h-1.3zM519 69.6h1.3v2.4h-1.3zM520 38.7h1.3v2.4h-1.3zM534 71.5h1.3v1.4h-1.3zM538 37.3h1.3v2.4h-1.3zM557 69.5h1.3v2.4h-1.3zM560 65.6h1.3v2.4h-1.3zM568 68.3h1.3v2.4h-1.3zM570 70.3h1.3v2.4h-1.3zM578 67.9h1.3v2.4h-1.3zM578 70h1.3v2.4h-1.3zM587 66h1.3v2.4h-1.3zM592 66.2h1.3v2.4h-1.3zM600 71.6h1.3v1.3h-1.3zM602 32.1h1.3v2.4h-1.3zM611 66.3h1.3v2.4h-1.3zM612 69h1.3v2.4h-1.3zM615 32h1.3v2.4h-1.3zM617 70.3h1.3v2.4h-1.3zM618 69.1h1.3v2.4h-1.3zM621 69h1.3v2.4h-1.3zM628 64h1.3v2.4h-1.3zM632 64.6h1.3v2.4h-1.3zM633 30.6h1.3v2.4h-1.3zM633 72.6h1.3v0.3h-1.3zM642 64.8h1.3v2.4h-1.3zM642 66.9h1.3v2.4h-1.3zM644 68.9h1.3v2.4h-1.3zM646 70h1.3v2.4h-1.3zM648 64.9h1.3v2.4h-1.3zM648 71.2h1.3v1.7h-1.3zM651 26.3h1.3v2.4h-1.3zM661 25.4h1.3v2.4h-1.3zM662 26.1h1.3v2.4h-1.3zM664 26h1.3v2.4h-1.3zM684 24.8h0.9v2.4h-0.9z"/>
<path fill="#4600dc" d="M414 36.5h1.3v2.4h-1.3zM419 36.6h1.3v2.4h-1.3zM427 37.3h1.3v2.4h-1.3zM439 37.2h1.3v2.4h-1.3zM450 37h1.3v2.4h-1.3zM478 39h1.3v2.4h-1.3zM491 69.6h1.3v2.4h-1.3zM497 39.4h1.3v2.4h-1.3zM498 39.3h1.3v2.4h-1.3zM507 69h1.3v2.4h-1.3zM508 72.4h1.3v0.5h-1.3zM509 38.6h1.3v2.4h-1.3zM512 68.3h1.3v2.4h-1.3zM530 37.8h1.3v2.4h-1.3zM539 65.8h1.3v2.4h-1.3zM565 65.9h1.3v2.4h-1.3zM566 65.9h1.3v2.4h-1.3zM570 36.7h1.3v2.4h-1.3zM581 65.6h1.3v2.4h-1.3zM586 67.6h1.3v2.4h-1.3zM588 35.7h1.3v2.4h-1.3zM599 69.2h1.3v2.4h-1.3zM610 32.1h1.3v2.4h-1.3zM613 32.2h1.3v2.4h-1.3zM622 68.8h1.3v2.4h-1.3zM629 65.3h1.3v2.4h-1.3zM629 71.6h1.3v1.3h-1.3zM631 67.7h1.3v2.4h-1.3zM632 31h1.3v2.4h-1.3zM632 70.9h1.3v2h-1.3zM633 64.2h1.3v2.4h-1.3zM644 66.8h1.3v2.4h-1.3zM648 67h1.3v2.4h-1.3zM658 64.2h1.3v2.4h-1.3zM658 66.3h1.3v2.4h-1.3zM658 68.4h1.3v2.4h-1.3zM658 70.5h1.3v2.4h-1.3zM658 72.6h1.3v0.3h-1.3zM665 25.6h1.3v2.4h-1.3zM671 25h1.3v2.4h-1.3zM674 25.2h1.3v2.4h-1.3zM676 62h1.3v2.4h-1.3zM677 27.3h1.3v2.4h-1.3zM678 26h1.3v2.4h-1.3zM679 26.5h1.3v2.4h-1.3zM682 26.4h1.3v2.4h-1.3zM683 66.1h1.3v2.4h-1.3zM683 68.2h1.3v2.4h-1.3zM683 70.3h1.3v2.4h-1.3z"/>
<path fill="#3d01e0" d="M414 65.9h1.3v2.4h-1.3zM432 37.5h1.3v2.4h-1.3zM435 69.3h1.3v2.4h-1.3zM444 37.3h1.3v2.4h-1.3zM444 68.8h1.3v2.4h-1.3zM445 37.6h1.3v2.4h-1.3zM452 66.1h1.3v2.4h-1.3zM474 68.6h1.3v2.4h-1.3zM482 39.2h1.3v2.4h-1.3zM494 67.8h1.3v2.4h-1.3zM499 68.5h1.3v2.4h-1.3zM508 68.2h1.3v2.4h-1.3zM516 39.4h1.3v2.4h-1.3zM526 38.3h1.3v2.4h-1.3zM528 69h1.3v2.4h-1.3zM530 67.2h1.3v2.4h-1.3zM540 37.2h1.3v2.4h-1.3zM544 65.3h1.3v2.4h-1.3zM552 36.7h1.3v2.4h-1.3zM557 65.3h1.3v2.4h-1.3zM569 71.3h1.3v1.6h-1.3zM582 67.1h1.3v2.4h-1.3zM582 71.3h1.3v1.6h-1.3zM583 66h1.3v2.4h-1.3zM583 68.1h1.3v2.4h-1.3zM584 69.5h1.3v2.4h-1.3zM587 36.6h1.3v2.4h-1.3zM587 68.1h1.3v2.4h-1.3zM590 72.2h1.3v0.7h-1.3zM591 69.2h1.3v2.4h-1.3zM595 70.2h1.3v2.4h-1.3zM596 66h1.3v2.4h-1.3zM596 68.1h1.3v2.4h-1.3zM609 32.6h1.3v2.4h-1.3zM617 72.4h1.3v0.5h-1.3zM619 66.4h1.3v2.4h-1.3zM619 70.6h1.3v2.3h-1.3zM627 30.4h1.3v2.4h-1.3zM629 67.4h1.3v2.4h-1.3zM630 65h1.3v2.4h-1.3zM630 69.2h1.3v2.4h-1.3zM631 65.6h1.3v2.4h-1.3zM631 69.8h1.3v2.4h-1.3zM632 68.8h1.3v2.4h-1.3zM633 66.3h1.3v2.4h-1.3zM633 70.5h1.3v2.4h-1.3zM634 69.8h1.3v2.4h-1.3zM643 29.8h1.3v2.4h-1.3zM643 63.4h1.3v2.4h-1.3zM644 64.7h1.3v2.4h-1.3zM645 64.5h1.3v2.4h-1.3zM645 66.6h1.3v2.4h-1.3zM645 70.8h1.3v2.1h-1.3zM646 63.7h1.3v2.4h-1.3zM646 72.1h1.3v0.8h-1.3zM647 67.2h1.3v2.4h-1.3zM647 69.3h1.3v2.4h-1.3zM650 29.6h1.3v2.4h-1.3zM663 26.1h1.3v2.4h-1.3zM665 27.7h1.3v2.4h-1.3zM667 24.9h1.3v2.4h-1.3zM669 25.8h1.3v2.4h-1.3zM674 27.3h1.3v2.4h-1.3zM680 27.1h1.3v2.4h-1.3zM683 64h1.3v2.4h-1.3zM683 72.4h1.3v0.5h-1.3z"/>
<path fill="#3402e5" d="M410 71.7h1.3v1.2h-1.3zM436 71.3h1.3v1.6h-1.3zM444 66.7h1.3v2.4h-1.3zM445 71.2h1.3v1.7h-1.3zM456 37.3h1.3v2.4h-1.3zM465 65.8h1.3v2.4h-1.3zM472 66.6h1.3v2.4h-1.3zM477 39.6h1.3v2.4h-1.3zM499 39.1h1.3v2.4h-1.3zM500 68h1.3v2.4h-1.3zM502 70.2h1.3v2.4h-1.3zM503 39.7h1.3v2.4h-1.3zM508 38.8h1.3v2.4h-1.3zM510 69.4h1.3v2.4h-1.3zM526 67.7h1.3v2.4h-1.3zM534 67.3h1.3v2.4h-1.3zM534 69.4h1.3v2.4h-1.3zM543 66.1h1.3v2.4h-1.3zM556 68.4h1.3v2.4h-1.3zM565 68h1.3v2.4h-1.3zM566 68h1.3v2.4h-1.3zM567 67h1.3v2.4h-1.3zM567 69.1h1.3v2.4h-1.3zM567 71.2h1.3v1.7h-1.3zM568 36.8h1.3v2.4h-1.3zM574 65.4h1.3v2.4h-1.3zM582 69.2h1.3v2.4h-1.3zM584 67.4h1.3v2.4h-1.3zM590 68h1.3v2.4h-1.3zM594 66.8h1.3v2.4h-1.3zM605 69.1h1.3v2.4h-1.3zM610 65.7h1.3v2.4h-1.3zM611 32.7h1.3v2.4h-1.3zM616 67.5h1.3v2.4h-1.3zM616 71.7h1.3v1.2h-1.3zM618 71.2h1.3v1.7h-1.3zM620 67.7h1.3v2.4h-1.3zM620 69.8h1.3v2.4h-1.3zM629 63.2h1.3v2.4h-1.3zM630 67.1h1.3v2.4h-1.3zM630 71.3h1.3v1.6h-1.3zM631 71.9h1.3v1h-1.3zM632 66.7h1.3v2.4h-1.3zM633 68.4h1.3v2.4h-1.3zM634 65.6h1.3v2.4h-1.3zM634 71.9h1.3v1h-1.3zM644 71h1.3v1.9h-1.3zM645 30.9h1.3v2.4h-1.3zM646 65.8h1.3v2.4h-1.3zM647 65.1h1.3v2.4h-1.3zM647 71.4h1.3v1.5h-1.3zM650 63.2h1.3v2.4h-1.3zM666 25.5h1.3v2.4h-1.3zM668 25.8h1.3v2.4h-1.3zM672 25.8h1.3v2.4h-1.3zM675 28.4h1.3v2.4h-1.3zM678 28.1h1.3v2.4h-1.3z"/>
<path fill="#2c04e9" d="M410 67.5h1.3v2.4h-1.3zM417 65.6h1.3v2.4h-1.3zM422 37.8h1.3v2.4h-1.3zM435 67.2h1.3v2.4h-1.3zM436 67.1h1.3v2.4h-1.3zM436 69.2h1.3v2.4h-1.3zM438 38h1.3v2.4h-1.3zM441 37.5h1.3v2.4h-1.3zM446 67.5h1.3v2.4h-1.3zM446 71.7h1.3v1.2h-1.3zM455 38h1.3v2.4h-1.3zM471 65.7h1.3v2.4h-1.3zM473 39.3h1.3v2.4h-1.3zM478 70.5h1.3v2.4h-1.3zM480 69.7h1.3v2.4h-1.3zM480 71.8h1.3v1.1h-1.3zM484 67.5h1.3v2.4h-1.3zM486 40.1h1.3v2.4h-1.3zM497 70.9h1.3v2h-1.3zM501 68.7h1.3v2.4h-1.3zM504 39.4h1.3v2.4h-1.3zM507 39.6h1.3v2.4h-1.3zM514 39.2h1.3v2.4h-1.3zM515 39h1.3v2.4h-1.3zM520 68.1h1.3v2.4h-1.3zM522 67.7h1.3v2.4h-1.3zM523 39h1.3v2.4h-1.3zM534 37.9h1.3v2.4h-1.3zM537 66h1.3v2.4h-1.3zM538 66.7h1.3v2.4h-1.3zM538 68.8h1.3v2.4h-1.3zM542 37.5h1.3v2.4h-1.3zM554 65.2h1.3v2.4h-1.3zM555 66.3h1.3v2.4h-1.3zM556 36.9h1.3v2.4h-1.3zM558 37h1.3v2.4h-1.3zM566 70.1h1.3v2.4h-1.3zM566 72.2h1.3v0.7h-1.3zM571 37h1.3v2.4h-1.3zM572 36.9h1.3v2.4h-1.3zM583 70.2h1.3v2.4h-1.3zM583 72.3h1.3v0.6h-1.3zM590 65.9h1.3v2.4h-1.3zM592 32.6h1.3v2.4h-1.3zM594 68.9h1.3v2.4h-1.3zM594 71h1.3v1.9h-1.3zM595 72.3h1.3v0.6h-1.3zM596 32.4h1.3v2.4h-1.3zM605 67h1.3v2.4h-1.3zM605 71.2h1.3v1.7h-1.3zM616 69.6h1.3v2.4h-1.3zM617 32.5h1.3v2.4h-1.3zM617 66.1h1.3v2.4h-1.3zM619 68.5h1.3v2.4h-1.3zM620 32h1.3v2.4h-1.3zM620 71.9h1.3v1h-1.3zM626 66h1.3v2.4h-1.3zM629 69.5h1.3v2.4h-1.3zM631 63.5h1.3v2.4h-1.3zM634 67.7h1.3v2.4h-1.3zM635 30.8h1.3v2.4h-1.3zM641 63.1h1.3v2.4h-1.3zM646 67.9h1.3v2.4h-1.3zM649 63.2h1.3v2.4h-1.3zM656 26.6h1.3v2.4h-1.3zM657 61.8h1.3v2.4h-1.3zM658 26.4h1.3v2.4h-1.3zM667 27h1.3v2.4h-1.3zM668 27.9h1.3v2.4h-1.3zM669 27.9h1.3v2.4h-1.3zM670 27.8h1.3v2.4h-1.3zM671 27.1h1.3v2.4h-1.3zM673 26h1.3v2.4h-1.3zM676 28.4h1.3v2.4h-1.3zM683 26.2h1.3v2.4h-1.3z"/>
<path fill="#2305ee" d="M410 69.6h1.3v2.4h-1.3zM418 37.2h1.3v2.4h-1.3zM425 65.6h1.3v2.4h-1.3zM430 37.8h1.3v2.4h-1.3zM442 37.5h1.3v2.4h-1.3zM445 67h1.3v2.4h-1.3zM445 69.1h1.3v2.4h-1.3zM446 69.6h1.3v2.4h-1.3zM453 37.8h1.3v2.4h-1.3zM472 39.3h1.3v2.4h-1.3zM478 68.4h1.3v2.4h-1.3zM479 68.2h1.3v2.4h-1.3zM486 67.4h1.3v2.4h-1.3zM488 40h1.3v2.4h-1.3zM493 67.7h1.3v2.4h-1.3zM493 71.9h1.3v1h-1.3zM497 68.8h1.3v2.4h-1.3zM502 72.3h1.3v0.6h-1.3zM504 68.8h1.3v2.4h-1.3zM504 70.9h1.3v2h-1.3zM505 67.7h1.3v2.4h-1.3zM505 69.8h1.3v2.4h-1.3zM509 70.1h1.3v2.4h-1.3zM509 72.2h1.3v0.7h-1.3zM510 40h1.3v2.4h-1.3zM525 69.1h1.3v2.4h-1.3zM527 68.7h1.3v2.4h-1.3zM527 70.8h1.3v2.1h-1.3zM529 66.8h1.3v2.4h-1.3zM538 70.9h1.3v2h-1.3zM553 66.3h1.3v2.4h-1.3zM559 37.2h1.3v2.4h-1.3zM564 37.3h1.3v2.4h-1.3zM565 70.1h1.3v2.4h-1.3zM565 72.2h1.3v0.7h-1.3zM584 71.6h1.3v1.3h-1.3zM589 35.6h1.3v2.4h-1.3zM590 70.1h1.3v2.4h-1.3zM591 67.1h1.3v2.4h-1.3zM591 71.3h1.3v1.6h-1.3zM595 68.1h1.3v2.4h-1.3zM602 65.7h1.3v2.4h-1.3zM614 65.9h1.3v2.4h-1.3zM617 68.2h1.3v2.4h-1.3zM631 32h1.3v2.4h-1.3zM634 63.5h1.3v2.4h-1.3zM636 31.4h1.3v2.4h-1.3zM638 63h1.3v2.4h-1.3zM640 36.2h1.3v2.4h-1.3zM641 35.8h1.3v2.4h-1.3zM644 31.1h1.3v2.4h-1.3zM645 68.7h1.3v2.4h-1.3zM647 63h1.3v2.4h-1.3zM652 27.4h1.3v2.4h-1.3zM652 29.5h1.3v2.4h-1.3zM658 62.1h1.3v2.4h-1.3zM660 26.6h1.3v2.4h-1.3zM661 27.5h1.3v2.4h-1.3zM662 28.2h1.3v2.4h-1.3zM663 28.2h1.3v2.4h-1.3zM673 28.1h1.3v2.4h-1.3z"/>
<path fill="#1a06f2" d="M412 65.5h1.3v2.4h-1.3zM428 65.4h1.3v2.4h-1.3zM435 37.8h1.3v2.4h-1.3zM435 71.4h1.3v1.5h-1.3zM437 38h1.3v2.4h-1.3zM438 65.3h1.3v2.4h-1.3zM444 70.9h1.3v2h-1.3zM468 65.3h1.3v2.4h-1.3zM470 37.6h1.3v2.4h-1.3zM476 68.4h1.3v2.4h-1.3zM476 70.5h1.3v2.4h-1.3zM476 72.6h1.3v0.3h-1.3zM478 72.6h1.3v0.3h-1.3zM479 70.3h1.3v2.4h-1.3zM479 72.4h1.3v0.5h-1.3zM496 70h1.3v2.4h-1.3zM496 72.1h1.3v0.8h-1.3zM501 70.8h1.3v2.1h-1.3zM503 69.1h1.3v2.4h-1.3zM503 71.2h1.3v1.7h-1.3zM505 71.9h1.3v1h-1.3zM521 67.5h1.3v2.4h-1.3zM526 71.9h1.3v1h-1.3zM528 71.1h1.3v1.8h-1.3zM551 65h1.3v2.4h-1.3zM553 36.9h1.3v2.4h-1.3zM555 36.9h1.3v2.4h-1.3zM569 65h1.3v2.4h-1.3zM577 36.8h1.3v2.4h-1.3zM585 65.3h1.3v2.4h-1.3zM586 65.5h1.3v2.4h-1.3zM590 34.4h1.3v2.4h-1.3zM595 32.4h1.3v2.4h-1.3zM615 67.7h1.3v2.4h-1.3zM618 67h1.3v2.4h-1.3zM629 31.7h1.3v2.4h-1.3zM636 33.5h1.3v2.4h-1.3zM636 62.9h1.3v2.4h-1.3zM637 34.5h1.3v2.4h-1.3zM637 36.6h1.3v2.4h-1.3zM637 72.3h1.3v0.6h-1.3zM638 31.5h1.3v2.4h-1.3zM638 35.7h1.3v2.4h-1.3zM639 63.3h1.3v2.4h-1.3zM640 34.1h1.3v2.4h-1.3zM640 63.5h1.3v2.4h-1.3zM644 35.3h1.3v2.4h-1.3zM644 62.6h1.3v2.4h-1.3zM648 62.8h1.3v2.4h-1.3zM654 29.8h1.3v2.4h-1.3zM656 28.7h1.3v2.4h-1.3zM659 61.7h1.3v2.4h-1.3zM671 69.1h1.3v2.4h-1.3zM679 28.6h1.3v2.4h-1.3zM681 28.7h1.3v2.4h-1.3zM682 72.6h1.3v0.3h-1.3z"/>
<path fill="#1108f6" d="M410 38.1h1.3v2.4h-1.3zM422 65.1h1.3v2.4h-1.3zM424 65.3h1.3v2.4h-1.3zM426 65.4h1.3v2.4h-1.3zM428 38.1h1.3v2.4h-1.3zM446 38.1h1.3v2.4h-1.3zM446 65.4h1.3v2.4h-1.3zM448 38h1.3v2.4h-1.3zM459 65.7h1.3v2.4h-1.3zM463 65.5h1.3v2.4h-1.3zM477 69h1.3v2.4h-1.3zM477 71.1h1.3v1.8h-1.3zM480 67.6h1.3v2.4h-1.3zM491 67.5h1.3v2.4h-1.3zM493 69.8h1.3v2.4h-1.3zM496 67.9h1.3v2.4h-1.3zM502 68.1h1.3v2.4h-1.3zM506 67.4h1.3v2.4h-1.3zM509 68h1.3v2.4h-1.3zM510 71.5h1.3v1.4h-1.3zM513 67.5h1.3v2.4h-1.3zM525 67h1.3v2.4h-1.3zM527 39.3h1.3v2.4h-1.3zM542 64.8h1.3v2.4h-1.3zM543 70.3h1.3v2.4h-1.3zM553 72.6h1.3v0.3h-1.3zM554 71.5h1.3v1.4h-1.3zM561 37.5h1.3v2.4h-1.3zM561 64.8h1.3v2.4h-1.3zM567 64.9h1.3v2.4h-1.3zM594 33.2h1.3v2.4h-1.3zM598 33.1h1.3v2.4h-1.3zM598 66.7h1.3v2.4h-1.3zM601 66.6h1.3v2.4h-1.3zM602 69.9h1.3v2.4h-1.3zM602 72h1.3v0.9h-1.3zM607 66.2h1.3v2.4h-1.3zM608 66.3h1.3v2.4h-1.3zM608 68.4h1.3v2.4h-1.3zM613 65.8h1.3v2.4h-1.3zM613 70h1.3v2.4h-1.3zM615 65.6h1.3v2.4h-1.3zM616 65.4h1.3v2.4h-1.3zM625 32.6h1.3v2.4h-1.3zM626 63.9h1.3v2.4h-1.3zM627 70.3h1.3v2.4h-1.3zM632 62.5h1.3v2.4h-1.3zM637 32.4h1.3v2.4h-1.3zM639 33.9h1.3v2.4h-1.3zM639 65.4h1.3v2.4h-1.3zM641 33.7h1.3v2.4h-1.3zM642 31.2h1.3v2.4h-1.3zM642 62.7h1.3v2.4h-1.3zM643 36.1h1.3v2.4h-1.3zM645 62.4h1.3v2.4h-1.3zM646 34.3h1.3v2.4h-1.3zM647 31.5h1.3v2.4h-1.3zM651 30.5h1.3v2.4h-1.3zM653 27.1h1.3v2.4h-1.3zM660 28.7h1.3v2.4h-1.3zM661 69.5h1.3v2.4h-1.3zM664 30.2h1.3v2.4h-1.3zM665 29.8h1.3v2.4h-1.3zM666 63.3h1.3v2.4h-1.3zM666 71.7h1.3v1.2h-1.3zM669 67.8h1.3v2.4h-1.3zM670 29.9h1.3v2.4h-1.3zM682 30.6h1.3v2.4h-1.3zM683 61.9h1.3v2.4h-1.3zM684 29h0.9v2.4h-0.9z"/>
<path fill="#0909fb" d="M410 65.4h1.3v2.4h-1.3zM415 65.4h1.3v2.4h-1.3zM416 38h1.3v2.4h-1.3zM431 38.1h1.3v2.4h-1.3zM433 38.1h1.3v2.4h-1.3zM433 65.4h1.3v2.4h-1.3zM434 65.5h1.3v2.4h-1.3zM437 65.3h1.3v2.4h-1.3zM440 38.1h1.3v2.4h-1.3zM455 65.3h1.3v2.4h-1.3zM481 67.5h1.3v2.4h-1.3zM484 40.2h1.3v2.4h-1.3zM488 67.3h1.3v2.4h-1.3zM491 40.2h1.3v2.4h-1.3zM506 40.1h1.3v2.4h-1.3zM513 40.2h1.3v2.4h-1.3zM517 39.8h1.3v2.4h-1.3zM518 67.5h1.3v2.4h-1.3zM519 67.5h1.3v2.4h-1.3zM525 71.2h1.3v1.7h-1.3zM526 69.8h1.3v2.4h-1.3zM528 66.9h1.3v2.4h-1.3zM535 38.1h1.3v2.4h-1.3zM543 68.2h1.3v2.4h-1.3zM544 69.5h1.3v2.4h-1.3zM545 37.2h1.3v2.4h-1.3zM554 67.3h1.3v2.4h-1.3zM555 70.5h1.3v2.4h-1.3zM559 64.5h1.3v2.4h-1.3zM582 65h1.3v2.4h-1.3zM584 65.3h1.3v2.4h-1.3zM588 65.1h1.3v2.4h-1.3zM595 66h1.3v2.4h-1.3zM598 68.8h1.3v2.4h-1.3zM598 70.9h1.3v2h-1.3zM601 68.7h1.3v2.4h-1.3zM606 71.8h1.3v1.1h-1.3zM612 33.3h1.3v2.4h-1.3zM614 70.1h1.3v2.4h-1.3zM624 65.9h1.3v2.4h-1.3zM624 68h1.3v2.4h-1.3zM625 66.2h1.3v2.4h-1.3zM625 72.5h1.3v0.4h-1.3zM626 68.1h1.3v2.4h-1.3zM626 70.2h1.3v2.4h-1.3zM627 68.2h1.3v2.4h-1.3zM629 33.8h1.3v2.4h-1.3zM630 62.9h1.3v2.4h-1.3zM631 34.1h1.3v2.4h-1.3zM631 36.2h1.3v2.4h-1.3zM631 38.3h1.3v2.4h-1.3zM632 37.3h1.3v2.4h-1.3zM635 35h1.3v2.4h-1.3zM635 62.3h1.3v2.4h-1.3zM636 35.6h1.3v2.4h-1.3zM636 65h1.3v2.4h-1.3zM636 71.3h1.3v1.6h-1.3zM637 63.9h1.3v2.4h-1.3zM637 68.1h1.3v2.4h-1.3zM638 65.1h1.3v2.4h-1.3zM640 65.6h1.3v2.4h-1.3zM641 31.6h1.3v2.4h-1.3zM641 65.2h1.3v2.4h-1.3zM642 35.4h1.3v2.4h-1.3zM645 35.1h1.3v2.4h-1.3zM646 32.2h1.3v2.4h-1.3zM646 36.4h1.3v2.4h-1.3zM648 35.5h1.3v2.4h-1.3zM649 31.7h1.3v2.4h-1.3zM657 28.2h1.3v2.4h-1.3zM658 28.5h1.3v2.4h-1.3zM659 30.2h1.3v2.4h-1.3zM661 29.6h1.3v2.4h-1.3zM662 30.3h1.3v2.4h-1.3zM662 66h1.3v2.4h-1.3zM663 66h1.3v2.4h-1.3zM664 68h1.3v2.4h-1.3zM665 67.6h1.3v2.4h-1.3zM665 71.8h1.3v1.1h-1.3zM667 29.1h1.3v2.4h-1.3zM667 71.1h1.3v1.8h-1.3zM668 65.7h1.3v2.4h-1.3zM668 67.8h1.3v2.4h-1.3zM669 30h1.3v2.4h-1.3zM669 69.9h1.3v2.4h-1.3zM670 69.8h1.3v2.4h-1.3zM671 62.8h1.3v2.4h-1.3zM675 30.5h1.3v2.4h-1.3zM677 29.4h1.3v2.4h-1.3zM678 30.2h1.3v2.4h-1.3zM678 63.8h1.3v2.4h-1.3zM678 72.2h1.3v0.7h-1.3zM679 30.7h1.3v2.4h-1.3zM679 66.4h1.3v2.4h-1.3zM679 68.5h1.3v2.4h-1.3zM679 70.6h1.3v2.3h-1.3zM680 31.3h1.3v2.4h-1.3zM680 69.1h1.3v2.4h-1.3zM681 30.8h1.3v2.4h-1.3zM681 64.4h1.3v2.4h-1.3zM682 66.3h1.3v2.4h-1.3zM683 28.3h1.3v2.4h-1.3z"/>
<path fill="#000aff" d="M411 37.7h1.3v2.4h-1.3zM415 38.1h1.3v2.4h-1.3zM416 65.3h1.3v2.4h-1.3zM430 65.1h1.3v2.4h-1.3zM431 65.4h1.3v2.4h-1.3zM434 38.2h1.3v2.4h-1.3zM440 65.4h1.3v2.4h-1.3zM443 65.3h1.3v2.4h-1.3zM467 65.4h1.3v2.4h-1.3zM468 38h1.3v2.4h-1.3zM525 39.7h1.3v2.4h-1.3zM528 39.6h1.3v2.4h-1.3zM529 39.5h1.3v2.4h-1.3zM547 64.7h1.3v2.4h-1.3zM567 37.6h1.3v2.4h-1.3zM591 33.5h1.3v2.4h-1.3zM597 33.2h1.3v2.4h-1.3zM601 70.8h1.3v2.1h-1.3zM602 67.8h1.3v2.4h-1.3zM603 65h1.3v2.4h-1.3zM604 66.9h1.3v2.4h-1.3zM606 67.6h1.3v2.4h-1.3zM606 69.7h1.3v2.4h-1.3zM607 70.4h1.3v2.4h-1.3zM608 70.5h1.3v2.4h-1.3zM613 67.9h1.3v2.4h-1.3zM613 72.1h1.3v0.8h-1.3zM615 69.8h1.3v2.4h-1.3zM615 71.9h1.3v1h-1.3zM620 65.6h1.3v2.4h-1.3zM622 33.1h1.3v2.4h-1.3zM623 67.9h1.3v2.4h-1.3zM623 70h1.3v2.4h-1.3zM623 72.1h1.3v0.8h-1.3zM624 70.1h1.3v2.4h-1.3zM624 72.2h1.3v0.7h-1.3zM625 68.3h1.3v2.4h-1.3zM627 38.8h1.3v2.4h-1.3zM627 64h1.3v2.4h-1.3zM627 66.1h1.3v2.4h-1.3zM627 72.4h1.3v0.5h-1.3zM628 34.6h1.3v2.4h-1.3zM628 38.8h1.3v2.4h-1.3zM629 38h1.3v2.4h-1.3zM630 37.7h1.3v2.4h-1.3zM633 34.8h1.3v2.4h-1.3zM633 36.9h1.3v2.4h-1.3zM633 62.1h1.3v2.4h-1.3zM635 37.1h1.3v2.4h-1.3zM635 66.5h1.3v2.4h-1.3zM635 68.6h1.3v2.4h-1.3zM635 70.7h1.3v2.2h-1.3zM637 70.2h1.3v2.4h-1.3zM638 67.2h1.3v2.4h-1.3zM638 71.4h1.3v1.5h-1.3zM639 36h1.3v2.4h-1.3zM639 69.6h1.3v2.4h-1.3zM639 71.7h1.3v1.2h-1.3zM640 67.7h1.3v2.4h-1.3zM644 33.2h1.3v2.4h-1.3zM644 39.5h1.3v2.4h-1.3zM645 39.3h1.3v2.4h-1.3zM647 33.6h1.3v2.4h-1.3zM647 39.9h1.3v2.4h-1.3zM648 33.4h1.3v2.4h-1.3zM648 39.7h1.3v2.4h-1.3zM649 35.9h1.3v2.4h-1.3zM655 29h1.3v2.4h-1.3zM656 30.8h1.3v2.4h-1.3zM661 63.2h1.3v2.4h-1.3zM661 65.3h1.3v2.4h-1.3zM662 63.9h1.3v2.4h-1.3zM663 30.3h1.3v2.4h-1.3zM663 68.1h1.3v2.4h-1.3zM663 72.3h1.3v0.6h-1.3zM664 65.9h1.3v2.4h-1.3zM665 63.4h1.3v2.4h-1.3zM665 65.5h1.3v2.4h-1.3zM666 65.4h1.3v2.4h-1.3zM666 67.5h1.3v2.4h-1.3zM667 64.8h1.3v2.4h-1.3zM667 66.9h1.3v2.4h-1.3zM668 63.6h1.3v2.4h-1.3zM668 69.9h1.3v2.4h-1.3zM668 72h1.3v0.9h-1.3zM669 63.6h1.3v2.4h-1.3zM671 64.9h1.3v2.4h-1.3zM671 67h1.3v2.4h-1.3zM671 71.2h1.3v1.7h-1.3zM676 30.5h1.3v2.4h-1.3zM679 62.2h1.3v2.4h-1.3zM680 62.8h1.3v2.4h-1.3zM680 67h1.3v2.4h-1.3zM680 71.2h1.3v1.7h-1.3zM681 66.5h1.3v2.4h-1.3zM681 68.6h1.3v2.4h-1.3zM684 31.1h0.9v2.4h-0.9z"/>
<path fill="#0019ff" d="M412 38.2h1.3v2.4h-1.3zM423 38.5h1.3v2.4h-1.3zM425 38.3h1.3v2.4h-1.3zM435 65.1h1.3v2.4h-1.3zM448 65.3h1.3v2.4h-1.3zM454 65.1h1.3v2.4h-1.3zM457 65.2h1.3v2.4h-1.3zM459 38.4h1.3v2.4h-1.3zM469 37.8h1.3v2.4h-1.3zM475 67.6h1.3v2.4h-1.3zM481 40.2h1.3v2.4h-1.3zM485 66.7h1.3v2.4h-1.3zM493 40.4h1.3v2.4h-1.3zM503 67h1.3v2.4h-1.3zM510 67.3h1.3v2.4h-1.3zM519 40.2h1.3v2.4h-1.3zM527 66.6h1.3v2.4h-1.3zM539 38.5h1.3v2.4h-1.3zM544 71.6h1.3v1.3h-1.3zM547 37.4h1.3v2.4h-1.3zM549 64.8h1.3v2.4h-1.3zM553 70.5h1.3v2.4h-1.3zM558 64.3h1.3v2.4h-1.3zM564 64.6h1.3v2.4h-1.3zM569 37.7h1.3v2.4h-1.3zM600 65.3h1.3v2.4h-1.3zM603 33.5h1.3v2.4h-1.3zM603 69.2h1.3v2.4h-1.3zM603 71.3h1.3v1.6h-1.3zM604 69h1.3v2.4h-1.3zM604 71.1h1.3v1.8h-1.3zM605 33.4h1.3v2.4h-1.3zM606 65.5h1.3v2.4h-1.3zM607 68.3h1.3v2.4h-1.3zM607 72.5h1.3v0.4h-1.3zM623 65.8h1.3v2.4h-1.3zM626 36.6h1.3v2.4h-1.3zM626 72.3h1.3v0.6h-1.3zM627 36.7h1.3v2.4h-1.3zM628 36.7h1.3v2.4h-1.3zM628 61.9h1.3v2.4h-1.3zM629 35.9h1.3v2.4h-1.3zM630 33.5h1.3v2.4h-1.3zM630 35.6h1.3v2.4h-1.3zM632 35.2h1.3v2.4h-1.3zM634 32h1.3v2.4h-1.3zM634 34.1h1.3v2.4h-1.3zM635 64.4h1.3v2.4h-1.3zM636 37.7h1.3v2.4h-1.3zM636 67.1h1.3v2.4h-1.3zM637 61.8h1.3v2.4h-1.3zM637 66h1.3v2.4h-1.3zM638 37.8h1.3v2.4h-1.3zM639 67.5h1.3v2.4h-1.3zM640 69.8h1.3v2.4h-1.3zM641 37.9h1.3v2.4h-1.3zM641 67.3h1.3v2.4h-1.3zM641 71.5h1.3v1.4h-1.3zM647 35.7h1.3v2.4h-1.3zM649 33.8h1.3v2.4h-1.3zM650 31.7h1.3v2.4h-1.3zM652 31.6h1.3v2.4h-1.3zM661 67.4h1.3v2.4h-1.3zM662 68.1h1.3v2.4h-1.3zM662 70.2h1.3v2.4h-1.3zM662 72.3h1.3v0.6h-1.3zM663 61.8h1.3v2.4h-1.3zM663 70.2h1.3v2.4h-1.3zM664 61.7h1.3v2.4h-1.3zM664 72.2h1.3v0.7h-1.3zM665 69.7h1.3v2.4h-1.3zM666 69.6h1.3v2.4h-1.3zM667 62.7h1.3v2.4h-1.3zM667 69h1.3v2.4h-1.3zM669 65.7h1.3v2.4h-1.3zM670 63.5h1.3v2.4h-1.3zM670 65.6h1.3v2.4h-1.3zM672 61.5h1.3v2.4h-1.3zM674 29.4h1.3v2.4h-1.3zM678 65.9h1.3v2.4h-1.3zM678 70.1h1.3v2.4h-1.3zM679 64.3h1.3v2.4h-1.3zM680 64.9h1.3v2.4h-1.3zM681 62.3h1.3v2.4h-1.3zM681 70.7h1.3v2.2h-1.3zM682 62.1h1.3v2.4h-1.3zM682 70.5h1.3v2.4h-1.3z"/>
<path fill="#0028ff" d="M436 65h1.3v2.4h-1.3zM451 65.4h1.3v2.4h-1.3zM464 65h1.3v2.4h-1.3zM467 38.1h1.3v2.4h-1.3zM469 65.1h1.3v2.4h-1.3zM480 40.3h1.3v2.4h-1.3zM505 40.4h1.3v2.4h-1.3zM507 66.9h1.3v2.4h-1.3zM517 67.1h1.3v2.4h-1.3zM518 40.2h1.3v2.4h-1.3zM533 39h1.3v2.4h-1.3zM543 72.4h1.3v0.5h-1.3zM544 67.4h1.3v2.4h-1.3zM545 64.5h1.3v2.4h-1.3zM546 37.4h1.3v2.4h-1.3zM546 64.7h1.3v2.4h-1.3zM551 37.7h1.3v2.4h-1.3zM554 69.4h1.3v2.4h-1.3zM555 68.4h1.3v2.4h-1.3zM556 64.2h1.3v2.4h-1.3zM571 64.3h1.3v2.4h-1.3zM572 64.2h1.3v2.4h-1.3zM582 37.7h1.3v2.4h-1.3zM603 67.1h1.3v2.4h-1.3zM614 68h1.3v2.4h-1.3zM614 72.2h1.3v0.7h-1.3zM625 70.4h1.3v2.4h-1.3zM626 34.5h1.3v2.4h-1.3zM626 38.7h1.3v2.4h-1.3zM626 61.8h1.3v2.4h-1.3zM627 34.6h1.3v2.4h-1.3zM627 61.9h1.3v2.4h-1.3zM631 61.4h1.3v2.4h-1.3zM632 39.4h1.3v2.4h-1.3zM633 39h1.3v2.4h-1.3zM634 36.2h1.3v2.4h-1.3zM636 69.2h1.3v2.4h-1.3zM637 38.7h1.3v2.4h-1.3zM638 69.3h1.3v2.4h-1.3zM639 31.8h1.3v2.4h-1.3zM641 40h1.3v2.4h-1.3zM641 69.4h1.3v2.4h-1.3zM642 33.3h1.3v2.4h-1.3zM643 31.9h1.3v2.4h-1.3zM643 34h1.3v2.4h-1.3zM646 40.6h1.3v2.4h-1.3zM646 61.6h1.3v2.4h-1.3zM657 30.3h1.3v2.4h-1.3zM662 61.8h1.3v2.4h-1.3zM663 63.9h1.3v2.4h-1.3zM664 63.8h1.3v2.4h-1.3zM664 70.1h1.3v2.4h-1.3zM669 72h1.3v0.9h-1.3zM670 71.9h1.3v1h-1.3zM674 31.5h1.3v2.4h-1.3zM677 31.5h1.3v2.4h-1.3zM678 68h1.3v2.4h-1.3zM682 64.2h1.3v2.4h-1.3zM682 68.4h1.3v2.4h-1.3z"/>
<path fill="#0037ff" d="M411 65h1.3v2.4h-1.3zM417 38.3h1.3v2.4h-1.3zM420 38.9h1.3v2.4h-1.3zM427 64.6h1.3v2.4h-1.3zM432 64.8h1.3v2.4h-1.3zM445 64.9h1.3v2.4h-1.3zM449 38.6h1.3v2.4h-1.3zM460 65.1h1.3v2.4h-1.3zM470 64.9h1.3v2.4h-1.3zM471 38.4h1.3v2.4h-1.3zM475 40.3h1.3v2.4h-1.3zM500 40.7h1.3v2.4h-1.3zM544 38h1.3v2.4h-1.3zM549 37.5h1.3v2.4h-1.3zM553 68.4h1.3v2.4h-1.3zM562 64.4h1.3v2.4h-1.3zM589 65h1.3v2.4h-1.3zM612 64.8h1.3v2.4h-1.3zM621 33.3h1.3v2.4h-1.3zM634 38.3h1.3v2.4h-1.3zM635 39.2h1.3v2.4h-1.3zM640 38.3h1.3v2.4h-1.3zM640 61.4h1.3v2.4h-1.3zM640 71.9h1.3v1h-1.3zM649 40.1h1.3v2.4h-1.3zM653 31.3h1.3v2.4h-1.3zM654 31.9h1.3v2.4h-1.3zM654 61.3h1.3v2.4h-1.3zM658 30.6h1.3v2.4h-1.3zM661 71.6h1.3v1.3h-1.3zM665 61.3h1.3v2.4h-1.3zM669 61.5h1.3v2.4h-1.3zM670 67.7h1.3v2.4h-1.3zM683 30.4h1.3v2.4h-1.3z"/>
<path fill="#0046ff" d="M421 38.6h1.3v2.4h-1.3zM452 38.8h1.3v2.4h-1.3zM453 65.1h1.3v2.4h-1.3zM458 38.7h1.3v2.4h-1.3zM465 38.5h1.3v2.4h-1.3zM477 66.9h1.3v2.4h-1.3zM494 40.5h1.3v2.4h-1.3zM504 66.7h1.3v2.4h-1.3zM516 66.7h1.3v2.4h-1.3zM521 40.2h1.3v2.4h-1.3zM524 66.3h1.3v2.4h-1.3zM526 40.4h1.3v2.4h-1.3zM530 39.9h1.3v2.4h-1.3zM535 65.4h1.3v2.4h-1.3zM537 38.7h1.3v2.4h-1.3zM553 64.2h1.3v2.4h-1.3zM555 64.2h1.3v2.4h-1.3zM570 64h1.3v2.4h-1.3zM573 64h1.3v2.4h-1.3zM576 64h1.3v2.4h-1.3zM584 38h1.3v2.4h-1.3zM585 38h1.3v2.4h-1.3zM604 64.8h1.3v2.4h-1.3zM605 64.9h1.3v2.4h-1.3zM629 40.1h1.3v2.4h-1.3zM630 39.8h1.3v2.4h-1.3zM636 39.8h1.3v2.4h-1.3zM639 38.1h1.3v2.4h-1.3zM640 40.4h1.3v2.4h-1.3zM655 31.1h1.3v2.4h-1.3zM660 30.8h1.3v2.4h-1.3zM665 31.9h1.3v2.4h-1.3zM671 31.3h1.3v2.4h-1.3zM678 32.3h1.3v2.4h-1.3zM678 61.7h1.3v2.4h-1.3z"/>
<path fill="#0055ff" d="M414 38.6h1.3v2.4h-1.3zM419 38.7h1.3v2.4h-1.3zM441 64.8h1.3v2.4h-1.3zM461 64.5h1.3v2.4h-1.3zM462 38.9h1.3v2.4h-1.3zM466 64.7h1.3v2.4h-1.3zM479 40.9h1.3v2.4h-1.3zM487 66.4h1.3v2.4h-1.3zM496 40.6h1.3v2.4h-1.3zM497 66.7h1.3v2.4h-1.3zM498 66.6h1.3v2.4h-1.3zM502 40.8h1.3v2.4h-1.3zM509 40.7h1.3v2.4h-1.3zM522 40.4h1.3v2.4h-1.3zM523 66.3h1.3v2.4h-1.3zM531 39.6h1.3v2.4h-1.3zM534 65.2h1.3v2.4h-1.3zM548 63.9h1.3v2.4h-1.3zM554 37.9h1.3v2.4h-1.3zM590 36.5h1.3v2.4h-1.3zM599 33.5h1.3v2.4h-1.3zM616 33.9h1.3v2.4h-1.3zM618 64.9h1.3v2.4h-1.3zM621 64.8h1.3v2.4h-1.3zM622 64.6h1.3v2.4h-1.3zM631 40.4h1.3v2.4h-1.3zM633 41.1h1.3v2.4h-1.3zM634 61.4h1.3v2.4h-1.3zM638 39.9h1.3v2.4h-1.3zM641 61h1.3v2.4h-1.3zM642 39.6h1.3v2.4h-1.3zM644 37.4h1.3v2.4h-1.3zM647 37.8h1.3v2.4h-1.3zM650 33.8h1.3v2.4h-1.3zM657 32.4h1.3v2.4h-1.3zM666 31.8h1.3v2.4h-1.3zM666 61.2h1.3v2.4h-1.3zM668 61.5h1.3v2.4h-1.3zM670 61.4h1.3v2.4h-1.3zM681 32.9h1.3v2.4h-1.3z"/>
<path fill="#0064ff" d="M418 64.5h1.3v2.4h-1.3zM429 64.4h1.3v2.4h-1.3zM442 64.8h1.3v2.4h-1.3zM447 64.8h1.3v2.4h-1.3zM478 41.1h1.3v2.4h-1.3zM492 66.3h1.3v2.4h-1.3zM495 41h1.3v2.4h-1.3zM501 66.6h1.3v2.4h-1.3zM536 64.9h1.3v2.4h-1.3zM543 64h1.3v2.4h-1.3zM552 64h1.3v2.4h-1.3zM557 38h1.3v2.4h-1.3zM568 64.1h1.3v2.4h-1.3zM577 64.1h1.3v2.4h-1.3zM578 63.7h1.3v2.4h-1.3zM588 37.8h1.3v2.4h-1.3zM599 65h1.3v2.4h-1.3zM601 64.5h1.3v2.4h-1.3zM629 61.1h1.3v2.4h-1.3zM630 60.8h1.3v2.4h-1.3zM634 40.4h1.3v2.4h-1.3zM639 40.2h1.3v2.4h-1.3zM639 61.2h1.3v2.4h-1.3zM642 37.5h1.3v2.4h-1.3zM643 40.3h1.3v2.4h-1.3zM643 61.3h1.3v2.4h-1.3zM645 37.2h1.3v2.4h-1.3zM646 38.5h1.3v2.4h-1.3zM647 60.9h1.3v2.4h-1.3zM648 37.6h1.3v2.4h-1.3zM651 32.6h1.3v2.4h-1.3zM656 32.9h1.3v2.4h-1.3zM661 31.7h1.3v2.4h-1.3zM661 61.1h1.3v2.4h-1.3zM667 31.2h1.3v2.4h-1.3zM668 32.1h1.3v2.4h-1.3zM669 32.1h1.3v2.4h-1.3zM670 32h1.3v2.4h-1.3zM672 32.1h1.3v2.4h-1.3zM673 70.1h1.3v2.4h-1.3zM675 32.6h1.3v2.4h-1.3zM676 32.6h1.3v2.4h-1.3zM679 32.8h1.3v2.4h-1.3z"/>
<path fill="#0073ff" d="M413 64.5h1.3v2.4h-1.3zM439 64.5h1.3v2.4h-1.3zM444 64.6h1.3v2.4h-1.3zM456 64.6h1.3v2.4h-1.3zM461 39.3h1.3v2.4h-1.3zM489 66.4h1.3v2.4h-1.3zM490 66.3h1.3v2.4h-1.3zM508 40.9h1.3v2.4h-1.3zM511 66.5h1.3v2.4h-1.3zM532 40h1.3v2.4h-1.3zM534 40h1.3v2.4h-1.3zM541 64.3h1.3v2.4h-1.3zM560 38.3h1.3v2.4h-1.3zM563 63.9h1.3v2.4h-1.3zM566 63.8h1.3v2.4h-1.3zM574 38.1h1.3v2.4h-1.3zM579 63.7h1.3v2.4h-1.3zM593 64.9h1.3v2.4h-1.3zM597 64.7h1.3v2.4h-1.3zM600 33.8h1.3v2.4h-1.3zM609 64.1h1.3v2.4h-1.3zM643 38.2h1.3v2.4h-1.3zM649 38h1.3v2.4h-1.3zM649 61.1h1.3v2.4h-1.3zM662 32.4h1.3v2.4h-1.3zM664 32.3h1.3v2.4h-1.3zM673 32.3h1.3v2.4h-1.3zM673 61.7h1.3v2.4h-1.3zM673 65.9h1.3v2.4h-1.3zM675 62h1.3v2.4h-1.3zM675 70.4h1.3v2.4h-1.3zM675 72.5h1.3v0.4h-1.3zM677 33.6h1.3v2.4h-1.3zM680 33.4h1.3v2.4h-1.3zM682 32.7h1.3v2.4h-1.3zM683 32.5h1.3v2.4h-1.3z"/>
<path fill="#0082ff" d="M420 64.1h1.3v2.4h-1.3zM429 39.2h1.3v2.4h-1.3zM482 66.5h1.3v2.4h-1.3zM483 66.4h1.3v2.4h-1.3zM492 41.1h1.3v2.4h-1.3zM497 41.5h1.3v2.4h-1.3zM498 41.4h1.3v2.4h-1.3zM512 41h1.3v2.4h-1.3zM520 40.8h1.3v2.4h-1.3zM526 65.6h1.3v2.4h-1.3zM530 65.1h1.3v2.4h-1.3zM532 65.2h1.3v2.4h-1.3zM538 64.6h1.3v2.4h-1.3zM540 64.5h1.3v2.4h-1.3zM543 38.8h1.3v2.4h-1.3zM550 63.7h1.3v2.4h-1.3zM565 63.8h1.3v2.4h-1.3zM566 38.6h1.3v2.4h-1.3zM575 38.4h1.3v2.4h-1.3zM579 38.5h1.3v2.4h-1.3zM581 38.3h1.3v2.4h-1.3zM583 63.9h1.3v2.4h-1.3zM586 38.2h1.3v2.4h-1.3zM589 37.7h1.3v2.4h-1.3zM591 65h1.3v2.4h-1.3zM592 64.1h1.3v2.4h-1.3zM598 64.6h1.3v2.4h-1.3zM611 64.2h1.3v2.4h-1.3zM613 34.3h1.3v2.4h-1.3zM619 64.3h1.3v2.4h-1.3zM632 60.4h1.3v2.4h-1.3zM636 60.8h1.3v2.4h-1.3zM637 59.7h1.3v2.4h-1.3zM638 60.9h1.3v2.4h-1.3zM646 59.5h1.3v2.4h-1.3zM648 60.7h1.3v2.4h-1.3zM650 35.9h1.3v2.4h-1.3zM650 61.1h1.3v2.4h-1.3zM658 32.7h1.3v2.4h-1.3zM659 32.3h1.3v2.4h-1.3zM660 32.9h1.3v2.4h-1.3zM663 32.4h1.3v2.4h-1.3zM665 34h1.3v2.4h-1.3zM667 33.3h1.3v2.4h-1.3zM668 34.2h1.3v2.4h-1.3zM674 63h1.3v2.4h-1.3zM674 67.2h1.3v2.4h-1.3zM674 71.4h1.3v1.5h-1.3zM675 64.1h1.3v2.4h-1.3zM675 66.2h1.3v2.4h-1.3zM677 60.9h1.3v2.4h-1.3zM684 62.6h0.9v2.4h-0.9zM684 66.8h0.9v2.4h-0.9zM684 68.9h0.9v2.4h-0.9z"/>
<path fill="#0092ff" d="M427 39.4h1.3v2.4h-1.3zM450 39.1h1.3v2.4h-1.3zM462 64.1h1.3v2.4h-1.3zM478 66.3h1.3v2.4h-1.3zM479 66.1h1.3v2.4h-1.3zM485 41.5h1.3v2.4h-1.3zM490 41.1h1.3v2.4h-1.3zM499 41.2h1.3v2.4h-1.3zM512 66.2h1.3v2.4h-1.3zM514 66.5h1.3v2.4h-1.3zM515 41.1h1.3v2.4h-1.3zM541 39.1h1.3v2.4h-1.3zM570 38.8h1.3v2.4h-1.3zM578 38.5h1.3v2.4h-1.3zM580 38.5h1.3v2.4h-1.3zM580 63.7h1.3v2.4h-1.3zM587 63.9h1.3v2.4h-1.3zM594 64.7h1.3v2.4h-1.3zM606 63.4h1.3v2.4h-1.3zM624 63.8h1.3v2.4h-1.3zM626 40.8h1.3v2.4h-1.3zM632 41.5h1.3v2.4h-1.3zM635 60.2h1.3v2.4h-1.3zM637 40.8h1.3v2.4h-1.3zM644 60.5h1.3v2.4h-1.3zM652 33.7h1.3v2.4h-1.3zM664 34.4h1.3v2.4h-1.3zM666 33.9h1.3v2.4h-1.3zM671 33.4h1.3v2.4h-1.3zM673 63.8h1.3v2.4h-1.3zM673 68h1.3v2.4h-1.3zM673 72.2h1.3v0.7h-1.3zM674 69.3h1.3v2.4h-1.3zM684 33.2h0.9v2.4h-0.9zM684 64.7h0.9v2.4h-0.9z"/>
<path fill="#00a1ff" d="M413 39.3h1.3v2.4h-1.3zM445 39.7h1.3v2.4h-1.3zM473 66.6h1.3v2.4h-1.3zM476 41.1h1.3v2.4h-1.3zM482 41.3h1.3v2.4h-1.3zM483 41.2h1.3v2.4h-1.3zM499 66.4h1.3v2.4h-1.3zM511 41.3h1.3v2.4h-1.3zM514 41.3h1.3v2.4h-1.3zM544 63.2h1.3v2.4h-1.3zM550 38.5h1.3v2.4h-1.3zM557 63.2h1.3v2.4h-1.3zM560 63.5h1.3v2.4h-1.3zM563 38.7h1.3v2.4h-1.3zM565 38.6h1.3v2.4h-1.3zM575 63.6h1.3v2.4h-1.3zM583 38.7h1.3v2.4h-1.3zM590 63.8h1.3v2.4h-1.3zM596 63.9h1.3v2.4h-1.3zM609 34.7h1.3v2.4h-1.3zM610 63.6h1.3v2.4h-1.3zM614 34.4h1.3v2.4h-1.3zM628 40.9h1.3v2.4h-1.3zM635 41.3h1.3v2.4h-1.3zM636 41.9h1.3v2.4h-1.3zM640 59.3h1.3v2.4h-1.3zM641 58.9h1.3v2.4h-1.3zM642 60.6h1.3v2.4h-1.3zM645 60.3h1.3v2.4h-1.3zM652 61h1.3v2.4h-1.3zM653 33.4h1.3v2.4h-1.3zM654 34h1.3v2.4h-1.3zM655 33.2h1.3v2.4h-1.3zM669 34.2h1.3v2.4h-1.3zM674 33.6h1.3v2.4h-1.3zM674 65.1h1.3v2.4h-1.3zM675 68.3h1.3v2.4h-1.3zM684 71h0.9v1.9h-0.9z"/>
<path fill="#00b1ff" d="M419 63.9h1.3v2.4h-1.3zM421 63.8h1.3v2.4h-1.3zM423 63.7h1.3v2.4h-1.3zM428 63.3h1.3v2.4h-1.3zM441 39.6h1.3v2.4h-1.3zM442 39.6h1.3v2.4h-1.3zM443 40.1h1.3v2.4h-1.3zM444 39.4h1.3v2.4h-1.3zM450 64.3h1.3v2.4h-1.3zM460 39.9h1.3v2.4h-1.3zM464 39.8h1.3v2.4h-1.3zM468 40.1h1.3v2.4h-1.3zM476 66.3h1.3v2.4h-1.3zM489 41.2h1.3v2.4h-1.3zM507 41.7h1.3v2.4h-1.3zM515 66.3h1.3v2.4h-1.3zM516 41.5h1.3v2.4h-1.3zM523 41.1h1.3v2.4h-1.3zM524 41.1h1.3v2.4h-1.3zM538 39.4h1.3v2.4h-1.3zM540 39.3h1.3v2.4h-1.3zM558 39.1h1.3v2.4h-1.3zM564 39.4h1.3v2.4h-1.3zM571 39.1h1.3v2.4h-1.3zM572 39h1.3v2.4h-1.3zM576 38.8h1.3v2.4h-1.3zM596 34.5h1.3v2.4h-1.3zM608 64.2h1.3v2.4h-1.3zM614 63.8h1.3v2.4h-1.3zM617 64h1.3v2.4h-1.3zM627 40.9h1.3v2.4h-1.3zM627 59.8h1.3v2.4h-1.3zM630 41.9h1.3v2.4h-1.3zM641 42.1h1.3v2.4h-1.3zM656 60.2h1.3v2.4h-1.3zM660 60.2h1.3v2.4h-1.3zM662 34.5h1.3v2.4h-1.3zM667 60.6h1.3v2.4h-1.3zM670 34.1h1.3v2.4h-1.3zM671 60.7h1.3v2.4h-1.3zM672 34.2h1.3v2.4h-1.3zM678 34.4h1.3v2.4h-1.3zM680 60.7h1.3v2.4h-1.3zM681 60.2h1.3v2.4h-1.3z"/>
<path fill="#00c0ff" d="M428 40.2h1.3v2.4h-1.3zM432 39.6h1.3v2.4h-1.3zM435 39.9h1.3v2.4h-1.3zM439 39.3h1.3v2.4h-1.3zM446 40.2h1.3v2.4h-1.3zM455 40.1h1.3v2.4h-1.3zM456 39.4h1.3v2.4h-1.3zM457 40h1.3v2.4h-1.3zM466 39.5h1.3v2.4h-1.3zM469 39.9h1.3v2.4h-1.3zM470 39.7h1.3v2.4h-1.3zM474 66.5h1.3v2.4h-1.3zM477 41.7h1.3v2.4h-1.3zM479 43h1.3v2.4h-1.3zM485 43.6h1.3v2.4h-1.3zM487 41.2h1.3v2.4h-1.3zM498 43.5h1.3v2.4h-1.3zM504 41.5h1.3v2.4h-1.3zM531 64.8h1.3v2.4h-1.3zM533 64.2h1.3v2.4h-1.3zM536 39.7h1.3v2.4h-1.3zM542 39.6h1.3v2.4h-1.3zM548 38.7h1.3v2.4h-1.3zM556 39h1.3v2.4h-1.3zM559 39.3h1.3v2.4h-1.3zM568 38.9h1.3v2.4h-1.3zM573 38.8h1.3v2.4h-1.3zM576 40.9h1.3v2.4h-1.3zM581 63.5h1.3v2.4h-1.3zM592 34.7h1.3v2.4h-1.3zM602 63.6h1.3v2.4h-1.3zM603 62.9h1.3v2.4h-1.3zM605 62.8h1.3v2.4h-1.3zM607 64.1h1.3v2.4h-1.3zM613 63.7h1.3v2.4h-1.3zM623 63.7h1.3v2.4h-1.3zM625 64.1h1.3v2.4h-1.3zM628 59.8h1.3v2.4h-1.3zM629 42.2h1.3v2.4h-1.3zM631 42.5h1.3v2.4h-1.3zM631 59.3h1.3v2.4h-1.3zM633 60h1.3v2.4h-1.3zM634 42.5h1.3v2.4h-1.3zM638 58.8h1.3v2.4h-1.3zM639 59.1h1.3v2.4h-1.3zM644 41.6h1.3v2.4h-1.3zM645 41.4h1.3v2.4h-1.3zM647 58.8h1.3v2.4h-1.3zM651 34.7h1.3v2.4h-1.3zM651 62h1.3v2.4h-1.3zM653 60.7h1.3v2.4h-1.3zM661 33.8h1.3v2.4h-1.3zM663 34.5h1.3v2.4h-1.3zM664 59.6h1.3v2.4h-1.3zM669 59.4h1.3v2.4h-1.3zM674 60.9h1.3v2.4h-1.3zM675 34.7h1.3v2.4h-1.3z"/>
<path fill="#00d0ff" d="M410 40.2h1.3v2.4h-1.3zM417 63.5h1.3v2.4h-1.3zM418 39.3h1.3v2.4h-1.3zM422 44.1h1.3v2.4h-1.3zM426 63.3h1.3v2.4h-1.3zM430 39.9h1.3v2.4h-1.3zM436 39.8h1.3v2.4h-1.3zM437 40.1h1.3v2.4h-1.3zM438 40.1h1.3v2.4h-1.3zM445 41.8h1.3v2.4h-1.3zM446 42.3h1.3v2.4h-1.3zM454 39.9h1.3v2.4h-1.3zM459 40.5h1.3v2.4h-1.3zM463 40.3h1.3v2.4h-1.3zM465 63.7h1.3v2.4h-1.3zM473 41.4h1.3v2.4h-1.3zM474 41.3h1.3v2.4h-1.3zM475 65.5h1.3v2.4h-1.3zM480 42.4h1.3v2.4h-1.3zM486 42.2h1.3v2.4h-1.3zM493 42.5h1.3v2.4h-1.3zM493 65.6h1.3v2.4h-1.3zM494 42.6h1.3v2.4h-1.3zM495 43.1h1.3v2.4h-1.3zM495 66.2h1.3v2.4h-1.3zM500 44.9h1.3v2.4h-1.3zM511 45.5h1.3v2.4h-1.3zM517 41.9h1.3v2.4h-1.3zM522 65.6h1.3v2.4h-1.3zM529 64.7h1.3v2.4h-1.3zM535 40.2h1.3v2.4h-1.3zM539 40.6h1.3v2.4h-1.3zM539 63.7h1.3v2.4h-1.3zM541 41.2h1.3v2.4h-1.3zM551 62.9h1.3v2.4h-1.3zM554 63.1h1.3v2.4h-1.3zM558 45.4h1.3v2.4h-1.3zM562 39.2h1.3v2.4h-1.3zM567 62.8h1.3v2.4h-1.3zM577 38.9h1.3v2.4h-1.3zM587 38.7h1.3v2.4h-1.3zM590 38.6h1.3v2.4h-1.3zM593 35.5h1.3v2.4h-1.3zM595 63.9h1.3v2.4h-1.3zM598 35.2h1.3v2.4h-1.3zM602 38.4h1.3v2.4h-1.3zM603 37.7h1.3v2.4h-1.3zM604 62.7h1.3v2.4h-1.3zM609 38.9h1.3v2.4h-1.3zM616 63.3h1.3v2.4h-1.3zM622 37.3h1.3v2.4h-1.3zM622 62.5h1.3v2.4h-1.3zM626 42.9h1.3v2.4h-1.3zM626 59.7h1.3v2.4h-1.3zM634 59.3h1.3v2.4h-1.3zM637 42.9h1.3v2.4h-1.3zM642 41.7h1.3v2.4h-1.3zM643 59.2h1.3v2.4h-1.3zM647 42h1.3v2.4h-1.3zM651 59.9h1.3v2.4h-1.3zM668 59.4h1.3v2.4h-1.3zM673 34.4h1.3v2.4h-1.3zM679 60.1h1.3v2.4h-1.3zM682 60h1.3v2.4h-1.3z"/>
<path fill="#00e0ff" d="M412 40.3h1.3v2.4h-1.3zM422 63h1.3v2.4h-1.3zM426 40.2h1.3v2.4h-1.3zM427 43.6h1.3v2.4h-1.3zM428 44.4h1.3v2.4h-1.3zM429 43.4h1.3v2.4h-1.3zM430 63h1.3v2.4h-1.3zM431 63.3h1.3v2.4h-1.3zM432 43.8h1.3v2.4h-1.3zM433 63.3h1.3v2.4h-1.3zM437 42.2h1.3v2.4h-1.3zM438 42.2h1.3v2.4h-1.3zM440 40.2h1.3v2.4h-1.3zM440 63.3h1.3v2.4h-1.3zM444 41.5h1.3v2.4h-1.3zM447 39.6h1.3v2.4h-1.3zM451 40.2h1.3v2.4h-1.3zM455 42.2h1.3v2.4h-1.3zM458 40.8h1.3v2.4h-1.3zM458 63.9h1.3v2.4h-1.3zM462 41h1.3v2.4h-1.3zM463 42.4h1.3v2.4h-1.3zM463 63.4h1.3v2.4h-1.3zM472 41.4h1.3v2.4h-1.3zM477 43.8h1.3v2.4h-1.3zM484 42.3h1.3v2.4h-1.3zM485 45.7h1.3v2.4h-1.3zM496 42.7h1.3v2.4h-1.3zM497 43.6h1.3v2.4h-1.3zM499 43.3h1.3v2.4h-1.3zM500 65.9h1.3v2.4h-1.3zM503 41.8h1.3v2.4h-1.3zM503 46h1.3v2.4h-1.3zM504 45.7h1.3v2.4h-1.3zM506 42.2h1.3v2.4h-1.3zM508 66.1h1.3v2.4h-1.3zM513 42.3h1.3v2.4h-1.3zM519 42.3h1.3v2.4h-1.3zM520 66h1.3v2.4h-1.3zM521 42.3h1.3v2.4h-1.3zM521 65.4h1.3v2.4h-1.3zM525 64.9h1.3v2.4h-1.3zM528 64.8h1.3v2.4h-1.3zM529 41.6h1.3v2.4h-1.3zM533 41.1h1.3v2.4h-1.3zM537 63.9h1.3v2.4h-1.3zM547 39.5h1.3v2.4h-1.3zM547 41.6h1.3v2.4h-1.3zM552 38.8h1.3v2.4h-1.3zM553 39h1.3v2.4h-1.3zM555 39h1.3v2.4h-1.3zM556 41.1h1.3v2.4h-1.3zM558 41.2h1.3v2.4h-1.3zM559 41.4h1.3v2.4h-1.3zM559 45.6h1.3v2.4h-1.3zM559 62.4h1.3v2.4h-1.3zM561 39.6h1.3v2.4h-1.3zM569 62.9h1.3v2.4h-1.3zM574 63.3h1.3v2.4h-1.3zM578 42.7h1.3v2.4h-1.3zM582 39.8h1.3v2.4h-1.3zM582 41.9h1.3v2.4h-1.3zM583 42.9h1.3v2.4h-1.3zM584 63.2h1.3v2.4h-1.3zM585 63.2h1.3v2.4h-1.3zM586 63.4h1.3v2.4h-1.3zM595 34.5h1.3v2.4h-1.3zM596 36.6h1.3v2.4h-1.3zM608 39h1.3v2.4h-1.3zM609 41h1.3v2.4h-1.3zM610 38.4h1.3v2.4h-1.3zM610 40.5h1.3v2.4h-1.3zM612 35.4h1.3v2.4h-1.3zM618 37.6h1.3v2.4h-1.3zM618 62.8h1.3v2.4h-1.3zM619 34.9h1.3v2.4h-1.3zM620 63.5h1.3v2.4h-1.3zM624 36.5h1.3v2.4h-1.3zM624 38.6h1.3v2.4h-1.3zM625 34.7h1.3v2.4h-1.3zM627 43h1.3v2.4h-1.3zM629 59h1.3v2.4h-1.3zM632 58.3h1.3v2.4h-1.3zM636 58.7h1.3v2.4h-1.3zM638 42h1.3v2.4h-1.3zM641 44.2h1.3v2.4h-1.3zM644 58.4h1.3v2.4h-1.3zM646 42.7h1.3v2.4h-1.3zM648 41.8h1.3v2.4h-1.3zM648 58.6h1.3v2.4h-1.3zM649 59h1.3v2.4h-1.3zM650 38h1.3v2.4h-1.3zM653 62.8h1.3v2.4h-1.3zM655 60.5h1.3v2.4h-1.3zM657 59.7h1.3v2.4h-1.3zM658 60h1.3v2.4h-1.3zM659 34.4h1.3v2.4h-1.3zM659 59.6h1.3v2.4h-1.3zM663 59.7h1.3v2.4h-1.3zM665 59.2h1.3v2.4h-1.3zM670 59.3h1.3v2.4h-1.3zM675 59.9h1.3v2.4h-1.3zM676 34.7h1.3v2.4h-1.3zM676 59.9h1.3v2.4h-1.3zM684 60.5h0.9v2.4h-0.9z"/>
<path fill="#00efff" d="M410 63.3h1.3v2.4h-1.3zM414 63.8h1.3v2.4h-1.3zM416 40.1h1.3v2.4h-1.3zM421 44.9h1.3v2.4h-1.3zM422 39.9h1.3v2.4h-1.3zM423 44.8h1.3v2.4h-1.3zM424 44.3h1.3v2.4h-1.3zM424 63.2h1.3v2.4h-1.3zM425 63.5h1.3v2.4h-1.3zM427 62.5h1.3v2.4h-1.3zM430 44.1h1.3v2.4h-1.3zM431 40.2h1.3v2.4h-1.3zM431 44.4h1.3v2.4h-1.3zM432 41.7h1.3v2.4h-1.3zM432 62.7h1.3v2.4h-1.3zM433 40.2h1.3v2.4h-1.3zM434 63.4h1.3v2.4h-1.3zM439 41.4h1.3v2.4h-1.3zM442 41.7h1.3v2.4h-1.3zM443 42.2h1.3v2.4h-1.3zM446 44.4h1.3v2.4h-1.3zM448 40.1h1.3v2.4h-1.3zM448 42.2h1.3v2.4h-1.3zM452 64h1.3v2.4h-1.3zM453 39.9h1.3v2.4h-1.3zM457 44.2h1.3v2.4h-1.3zM458 42.9h1.3v2.4h-1.3zM459 63.6h1.3v2.4h-1.3zM461 45.6h1.3v2.4h-1.3zM462 43.1h1.3v2.4h-1.3zM464 41.9h1.3v2.4h-1.3zM464 44h1.3v2.4h-1.3zM465 44.8h1.3v2.4h-1.3zM467 40.2h1.3v2.4h-1.3zM468 63.2h1.3v2.4h-1.3zM471 40.5h1.3v2.4h-1.3zM471 63.6h1.3v2.4h-1.3zM473 43.5h1.3v2.4h-1.3zM477 64.8h1.3v2.4h-1.3zM478 43.2h1.3v2.4h-1.3zM480 65.5h1.3v2.4h-1.3zM481 42.3h1.3v2.4h-1.3zM486 44.3h1.3v2.4h-1.3zM486 46.4h1.3v2.4h-1.3zM487 45.4h1.3v2.4h-1.3zM490 45.3h1.3v2.4h-1.3zM490 47.4h1.3v2.4h-1.3zM491 42.3h1.3v2.4h-1.3zM492 43.2h1.3v2.4h-1.3zM492 47.4h1.3v2.4h-1.3zM493 44.6h1.3v2.4h-1.3zM495 45.2h1.3v2.4h-1.3zM498 45.6h1.3v2.4h-1.3zM500 42.8h1.3v2.4h-1.3zM500 47h1.3v2.4h-1.3zM501 41.4h1.3v2.4h-1.3zM501 43.5h1.3v2.4h-1.3zM502 66h1.3v2.4h-1.3zM505 42.5h1.3v2.4h-1.3zM505 46.7h1.3v2.4h-1.3zM505 65.6h1.3v2.4h-1.3zM508 43h1.3v2.4h-1.3zM509 42.8h1.3v2.4h-1.3zM510 42.1h1.3v2.4h-1.3zM510 46.3h1.3v2.4h-1.3zM512 45.2h1.3v2.4h-1.3zM516 45.7h1.3v2.4h-1.3zM518 42.3h1.3v2.4h-1.3zM527 41.4h1.3v2.4h-1.3zM536 41.8h1.3v2.4h-1.3zM538 41.5h1.3v2.4h-1.3zM542 41.7h1.3v2.4h-1.3zM543 40.9h1.3v2.4h-1.3zM544 42.2h1.3v2.4h-1.3zM546 62.6h1.3v2.4h-1.3zM547 62.6h1.3v2.4h-1.3zM548 42.9h1.3v2.4h-1.3zM548 45h1.3v2.4h-1.3zM556 45.3h1.3v2.4h-1.3zM558 62.2h1.3v2.4h-1.3zM560 40.4h1.3v2.4h-1.3zM561 62.7h1.3v2.4h-1.3zM564 43.6h1.3v2.4h-1.3zM566 40.7h1.3v2.4h-1.3zM567 39.7h1.3v2.4h-1.3zM570 40.9h1.3v2.4h-1.3zM575 40.5h1.3v2.4h-1.3zM576 43h1.3v2.4h-1.3zM577 41h1.3v2.4h-1.3zM578 44.8h1.3v2.4h-1.3zM579 42.7h1.3v2.4h-1.3zM584 42.2h1.3v2.4h-1.3zM585 42.2h1.3v2.4h-1.3zM589 39.8h1.3v2.4h-1.3zM592 36.8h1.3v2.4h-1.3zM593 37.6h1.3v2.4h-1.3zM594 37.4h1.3v2.4h-1.3zM594 62.6h1.3v2.4h-1.3zM595 36.6h1.3v2.4h-1.3zM596 38.7h1.3v2.4h-1.3zM600 63.2h1.3v2.4h-1.3zM601 39.3h1.3v2.4h-1.3zM602 40.5h1.3v2.4h-1.3zM603 35.6h1.3v2.4h-1.3zM603 39.8h1.3v2.4h-1.3zM605 35.5h1.3v2.4h-1.3zM607 38.9h1.3v2.4h-1.3zM608 36.9h1.3v2.4h-1.3zM610 36.3h1.3v2.4h-1.3zM611 36.9h1.3v2.4h-1.3zM611 39h1.3v2.4h-1.3zM612 37.5h1.3v2.4h-1.3zM612 62.7h1.3v2.4h-1.3zM613 36.4h1.3v2.4h-1.3zM614 38.6h1.3v2.4h-1.3zM614 40.7h1.3v2.4h-1.3zM616 38.1h1.3v2.4h-1.3zM621 35.4h1.3v2.4h-1.3zM621 37.5h1.3v2.4h-1.3zM623 34.3h1.3v2.4h-1.3zM624 42.8h1.3v2.4h-1.3zM625 41h1.3v2.4h-1.3zM628 43h1.3v2.4h-1.3zM640 42.5h1.3v2.4h-1.3zM642 58.5h1.3v2.4h-1.3zM643 42.4h1.3v2.4h-1.3zM644 43.7h1.3v2.4h-1.3zM650 40.1h1.3v2.4h-1.3zM651 68.3h1.3v2.4h-1.3zM651 70.4h1.3v2.4h-1.3zM654 59.2h1.3v2.4h-1.3zM656 35h1.3v2.4h-1.3zM657 34.5h1.3v2.4h-1.3zM662 59.7h1.3v2.4h-1.3zM666 59.1h1.3v2.4h-1.3zM681 35h1.3v2.4h-1.3zM682 34.8h1.3v2.4h-1.3z"/>
<path fill="#00ffff" d="M410 42.3h1.3v2.4h-1.3zM410 44.4h1.3v2.4h-1.3zM411 39.8h1.3v2.4h-1.3zM412 42.4h1.3v2.4h-1.3zM412 63.4h1.3v2.4h-1.3zM413 41.4h1.3v2.4h-1.3zM413 45.6h1.3v2.4h-1.3zM415 40.2h1.3v2.4h-1.3zM416 63.2h1.3v2.4h-1.3zM417 40.4h1.3v2.4h-1.3zM420 41h1.3v2.4h-1.3zM420 43.1h1.3v2.4h-1.3zM422 42h1.3v2.4h-1.3zM422 46.2h1.3v2.4h-1.3zM423 42.7h1.3v2.4h-1.3zM424 40.1h1.3v2.4h-1.3zM425 40.4h1.3v2.4h-1.3zM427 45.7h1.3v2.4h-1.3zM428 42.3h1.3v2.4h-1.3zM429 41.3h1.3v2.4h-1.3zM433 44.4h1.3v2.4h-1.3zM434 40.3h1.3v2.4h-1.3zM435 63h1.3v2.4h-1.3zM436 41.9h1.3v2.4h-1.3zM436 44h1.3v2.4h-1.3zM437 44.3h1.3v2.4h-1.3zM438 63.2h1.3v2.4h-1.3zM440 42.3h1.3v2.4h-1.3zM441 41.7h1.3v2.4h-1.3zM443 63.2h1.3v2.4h-1.3zM447 41.7h1.3v2.4h-1.3zM447 43.8h1.3v2.4h-1.3zM448 44.3h1.3v2.4h-1.3zM449 40.7h1.3v2.4h-1.3zM454 42h1.3v2.4h-1.3zM454 44.1h1.3v2.4h-1.3zM455 44.3h1.3v2.4h-1.3zM457 42.1h1.3v2.4h-1.3zM458 45h1.3v2.4h-1.3zM461 41.4h1.3v2.4h-1.3zM461 43.5h1.3v2.4h-1.3zM463 44.5h1.3v2.4h-1.3zM464 62.9h1.3v2.4h-1.3zM465 40.6h1.3v2.4h-1.3zM466 43.7h1.3v2.4h-1.3zM468 42.2h1.3v2.4h-1.3zM468 44.3h1.3v2.4h-1.3zM468 46.4h1.3v2.4h-1.3zM472 43.5h1.3v2.4h-1.3zM474 43.4h1.3v2.4h-1.3zM475 44.5h1.3v2.4h-1.3zM476 43.2h1.3v2.4h-1.3zM477 45.9h1.3v2.4h-1.3zM479 45.1h1.3v2.4h-1.3zM480 46.6h1.3v2.4h-1.3zM484 44.4h1.3v2.4h-1.3zM489 45.4h1.3v2.4h-1.3zM490 43.2h1.3v2.4h-1.3zM492 45.3h1.3v2.4h-1.3zM494 44.7h1.3v2.4h-1.3zM497 45.7h1.3v2.4h-1.3zM501 45.6h1.3v2.4h-1.3zM503 43.9h1.3v2.4h-1.3zM504 43.6h1.3v2.4h-1.3zM505 44.6h1.3v2.4h-1.3zM506 44.3h1.3v2.4h-1.3zM507 43.8h1.3v2.4h-1.3zM507 45.9h1.3v2.4h-1.3zM509 65.9h1.3v2.4h-1.3zM511 43.4h1.3v2.4h-1.3zM513 65.4h1.3v2.4h-1.3zM516 43.6h1.3v2.4h-1.3zM520 42.9h1.3v2.4h-1.3zM522 42.5h1.3v2.4h-1.3zM525 41.8h1.3v2.4h-1.3zM526 42.5h1.3v2.4h-1.3zM527 64.5h1.3v2.4h-1.3zM528 41.7h1.3v2.4h-1.3zM534 42.1h1.3v2.4h-1.3zM537 42.9h1.3v2.4h-1.3zM539 42.7h1.3v2.4h-1.3zM541 43.3h1.3v2.4h-1.3zM542 43.8h1.3v2.4h-1.3zM542 62.7h1.3v2.4h-1.3zM543 43h1.3v2.4h-1.3zM544 40.1h1.3v2.4h-1.3zM545 39.3h1.3v2.4h-1.3zM545 41.4h1.3v2.4h-1.3zM545 62.4h1.3v2.4h-1.3zM546 39.5h1.3v2.4h-1.3zM549 62.7h1.3v2.4h-1.3zM555 41.1h1.3v2.4h-1.3zM556 43.2h1.3v2.4h-1.3zM557 40.1h1.3v2.4h-1.3zM557 42.2h1.3v2.4h-1.3zM558 43.3h1.3v2.4h-1.3zM559 43.5h1.3v2.4h-1.3zM563 40.8h1.3v2.4h-1.3zM564 45.7h1.3v2.4h-1.3zM564 62.5h1.3v2.4h-1.3zM565 40.7h1.3v2.4h-1.3zM567 43.9h1.3v2.4h-1.3zM569 39.8h1.3v2.4h-1.3zM571 62.2h1.3v2.4h-1.3zM572 43.2h1.3v2.4h-1.3zM573 40.9h1.3v2.4h-1.3zM573 45.1h1.3v2.4h-1.3zM574 40.2h1.3v2.4h-1.3zM576 45.1h1.3v2.4h-1.3zM578 40.6h1.3v2.4h-1.3zM579 40.6h1.3v2.4h-1.3zM580 40.6h1.3v2.4h-1.3zM580 42.7h1.3v2.4h-1.3zM581 40.4h1.3v2.4h-1.3zM581 42.5h1.3v2.4h-1.3zM582 44h1.3v2.4h-1.3zM582 62.9h1.3v2.4h-1.3zM583 61.8h1.3v2.4h-1.3zM586 40.3h1.3v2.4h-1.3zM586 42.4h1.3v2.4h-1.3zM588 39.9h1.3v2.4h-1.3zM588 63h1.3v2.4h-1.3zM589 41.9h1.3v2.4h-1.3zM589 62.9h1.3v2.4h-1.3zM590 40.7h1.3v2.4h-1.3zM590 42.8h1.3v2.4h-1.3zM591 37.7h1.3v2.4h-1.3zM591 62.9h1.3v2.4h-1.3zM593 62.8h1.3v2.4h-1.3zM594 39.5h1.3v2.4h-1.3zM594 41.6h1.3v2.4h-1.3zM594 43.7h1.3v2.4h-1.3zM596 40.8h1.3v2.4h-1.3zM597 43.7h1.3v2.4h-1.3zM598 37.3h1.3v2.4h-1.3zM598 43.6h1.3v2.4h-1.3zM599 35.6h1.3v2.4h-1.3zM599 62.9h1.3v2.4h-1.3zM601 37.2h1.3v2.4h-1.3zM601 43.5h1.3v2.4h-1.3zM601 62.4h1.3v2.4h-1.3zM604 35.4h1.3v2.4h-1.3zM605 37.6h1.3v2.4h-1.3zM605 39.7h1.3v2.4h-1.3zM606 38.2h1.3v2.4h-1.3zM606 40.3h1.3v2.4h-1.3zM607 36.8h1.3v2.4h-1.3zM607 62h1.3v2.4h-1.3zM609 36.8h1.3v2.4h-1.3zM609 43.1h1.3v2.4h-1.3zM612 39.6h1.3v2.4h-1.3zM613 38.5h1.3v2.4h-1.3zM613 40.6h1.3v2.4h-1.3zM614 36.5h1.3v2.4h-1.3zM615 63.5h1.3v2.4h-1.3zM616 36h1.3v2.4h-1.3zM616 40.2h1.3v2.4h-1.3zM619 37h1.3v2.4h-1.3zM621 62.7h1.3v2.4h-1.3zM622 39.4h1.3v2.4h-1.3zM623 36.4h1.3v2.4h-1.3zM625 36.8h1.3v2.4h-1.3zM630 58.7h1.3v2.4h-1.3zM632 43.6h1.3v2.4h-1.3zM633 43.2h1.3v2.4h-1.3zM633 57.9h1.3v2.4h-1.3zM635 43.4h1.3v2.4h-1.3zM635 58.1h1.3v2.4h-1.3zM642 43.8h1.3v2.4h-1.3zM645 43.5h1.3v2.4h-1.3zM645 58.2h1.3v2.4h-1.3zM646 57.4h1.3v2.4h-1.3zM649 42.2h1.3v2.4h-1.3zM650 59h1.3v2.4h-1.3zM651 66.2h1.3v2.4h-1.3zM652 58.9h1.3v2.4h-1.3zM652 63.1h1.3v2.4h-1.3zM652 65.2h1.3v2.4h-1.3zM652 67.3h1.3v2.4h-1.3zM652 69.4h1.3v2.4h-1.3zM652 71.5h1.3v1.4h-1.3zM653 67h1.3v2.4h-1.3zM653 71.2h1.3v1.7h-1.3zM658 34.8h1.3v2.4h-1.3zM673 59.6h1.3v2.4h-1.3zM678 59.6h1.3v2.4h-1.3zM679 34.9h1.3v2.4h-1.3zM683 34.6h1.3v2.4h-1.3z"/>
<path fill="#00fcef" d="M414 40.7h1.3v2.4h-1.3zM415 63.3h1.3v2.4h-1.3zM416 44.3h1.3v2.4h-1.3zM416 46.4h1.3v2.4h-1.3zM418 43.5h1.3v2.4h-1.3zM418 45.6h1.3v2.4h-1.3zM419 40.8h1.3v2.4h-1.3zM419 45h1.3v2.4h-1.3zM420 45.2h1.3v2.4h-1.3zM425 44.6h1.3v2.4h-1.3zM426 44.4h1.3v2.4h-1.3zM427 41.5h1.3v2.4h-1.3zM429 62.3h1.3v2.4h-1.3zM430 42h1.3v2.4h-1.3zM432 45.9h1.3v2.4h-1.3zM435 42h1.3v2.4h-1.3zM436 62.9h1.3v2.4h-1.3zM437 63.2h1.3v2.4h-1.3zM438 44.3h1.3v2.4h-1.3zM449 42.8h1.3v2.4h-1.3zM449 44.9h1.3v2.4h-1.3zM449 63.8h1.3v2.4h-1.3zM450 41.2h1.3v2.4h-1.3zM450 43.3h1.3v2.4h-1.3zM451 44.4h1.3v2.4h-1.3zM452 40.9h1.3v2.4h-1.3zM453 44.1h1.3v2.4h-1.3zM454 46.2h1.3v2.4h-1.3zM459 42.6h1.3v2.4h-1.3zM459 44.7h1.3v2.4h-1.3zM460 42h1.3v2.4h-1.3zM460 44.1h1.3v2.4h-1.3zM462 45.2h1.3v2.4h-1.3zM467 63.3h1.3v2.4h-1.3zM470 43.9h1.3v2.4h-1.3zM471 44.7h1.3v2.4h-1.3zM472 45.6h1.3v2.4h-1.3zM473 45.6h1.3v2.4h-1.3zM475 42.4h1.3v2.4h-1.3zM476 45.3h1.3v2.4h-1.3zM478 45.3h1.3v2.4h-1.3zM481 46.5h1.3v2.4h-1.3zM482 45.5h1.3v2.4h-1.3zM483 45.4h1.3v2.4h-1.3zM484 65.4h1.3v2.4h-1.3zM487 43.3h1.3v2.4h-1.3zM488 46.3h1.3v2.4h-1.3zM491 46.5h1.3v2.4h-1.3zM491 65.4h1.3v2.4h-1.3zM493 46.7h1.3v2.4h-1.3zM494 46.8h1.3v2.4h-1.3zM494 65.7h1.3v2.4h-1.3zM496 44.8h1.3v2.4h-1.3zM497 47.8h1.3v2.4h-1.3zM498 47.7h1.3v2.4h-1.3zM502 45h1.3v2.4h-1.3zM502 47.1h1.3v2.4h-1.3zM506 46.4h1.3v2.4h-1.3zM506 65.3h1.3v2.4h-1.3zM508 47.2h1.3v2.4h-1.3zM509 44.9h1.3v2.4h-1.3zM509 47h1.3v2.4h-1.3zM512 43.1h1.3v2.4h-1.3zM513 44.4h1.3v2.4h-1.3zM513 46.5h1.3v2.4h-1.3zM518 44.4h1.3v2.4h-1.3zM526 44.6h1.3v2.4h-1.3zM527 43.5h1.3v2.4h-1.3zM528 43.8h1.3v2.4h-1.3zM530 42h1.3v2.4h-1.3zM530 44.1h1.3v2.4h-1.3zM530 46.2h1.3v2.4h-1.3zM533 43.2h1.3v2.4h-1.3zM535 42.3h1.3v2.4h-1.3zM537 40.8h1.3v2.4h-1.3zM540 41.4h1.3v2.4h-1.3zM546 41.6h1.3v2.4h-1.3zM547 45.8h1.3v2.4h-1.3zM548 40.8h1.3v2.4h-1.3zM549 39.6h1.3v2.4h-1.3zM549 41.7h1.3v2.4h-1.3zM550 40.6h1.3v2.4h-1.3zM550 42.7h1.3v2.4h-1.3zM550 44.8h1.3v2.4h-1.3zM551 39.8h1.3v2.4h-1.3zM551 41.9h1.3v2.4h-1.3zM551 44h1.3v2.4h-1.3zM552 43h1.3v2.4h-1.3zM553 41.1h1.3v2.4h-1.3zM554 40h1.3v2.4h-1.3zM554 42.1h1.3v2.4h-1.3zM556 62.1h1.3v2.4h-1.3zM562 45.5h1.3v2.4h-1.3zM564 41.5h1.3v2.4h-1.3zM565 44.9h1.3v2.4h-1.3zM566 44.9h1.3v2.4h-1.3zM571 41.2h1.3v2.4h-1.3zM571 43.3h1.3v2.4h-1.3zM572 62.1h1.3v2.4h-1.3zM575 42.6h1.3v2.4h-1.3zM575 44.7h1.3v2.4h-1.3zM579 44.8h1.3v2.4h-1.3zM583 40.8h1.3v2.4h-1.3zM583 45h1.3v2.4h-1.3zM585 40.1h1.3v2.4h-1.3zM587 40.8h1.3v2.4h-1.3zM587 61.8h1.3v2.4h-1.3zM592 38.9h1.3v2.4h-1.3zM592 41h1.3v2.4h-1.3zM593 39.7h1.3v2.4h-1.3zM593 41.8h1.3v2.4h-1.3zM595 38.7h1.3v2.4h-1.3zM596 42.9h1.3v2.4h-1.3zM597 37.4h1.3v2.4h-1.3zM597 39.5h1.3v2.4h-1.3zM600 35.9h1.3v2.4h-1.3zM600 40.1h1.3v2.4h-1.3zM601 35.1h1.3v2.4h-1.3zM603 41.9h1.3v2.4h-1.3zM603 44h1.3v2.4h-1.3zM604 37.5h1.3v2.4h-1.3zM604 39.6h1.3v2.4h-1.3zM606 42.4h1.3v2.4h-1.3zM608 34.8h1.3v2.4h-1.3zM608 62.1h1.3v2.4h-1.3zM610 42.6h1.3v2.4h-1.3zM611 62.1h1.3v2.4h-1.3zM615 36.2h1.3v2.4h-1.3zM615 38.3h1.3v2.4h-1.3zM615 40.4h1.3v2.4h-1.3zM618 39.7h1.3v2.4h-1.3zM618 43.9h1.3v2.4h-1.3zM619 43.3h1.3v2.4h-1.3zM620 38.3h1.3v2.4h-1.3zM622 41.5h1.3v2.4h-1.3zM622 43.6h1.3v2.4h-1.3zM623 38.5h1.3v2.4h-1.3zM625 43.1h1.3v2.4h-1.3zM637 57.6h1.3v2.4h-1.3zM639 42.3h1.3v2.4h-1.3zM651 64.1h1.3v2.4h-1.3zM651 72.5h1.3v0.4h-1.3zM653 64.9h1.3v2.4h-1.3zM660 35h1.3v2.4h-1.3zM672 59.4h1.3v2.4h-1.3zM680 35.5h1.3v2.4h-1.3zM684 35.3h0.9v2.4h-0.9z"/>
<path fill="#00f9de" d="M410 46.5h1.3v2.4h-1.3zM411 46.1h1.3v2.4h-1.3zM416 42.2h1.3v2.4h-1.3zM417 42.5h1.3v2.4h-1.3zM417 44.6h1.3v2.4h-1.3zM419 42.9h1.3v2.4h-1.3zM419 61.8h1.3v2.4h-1.3zM421 40.7h1.3v2.4h-1.3zM421 42.8h1.3v2.4h-1.3zM423 40.6h1.3v2.4h-1.3zM424 42.2h1.3v2.4h-1.3zM424 46.4h1.3v2.4h-1.3zM425 46.7h1.3v2.4h-1.3zM426 42.3h1.3v2.4h-1.3zM426 46.5h1.3v2.4h-1.3zM428 46.5h1.3v2.4h-1.3zM429 45.5h1.3v2.4h-1.3zM430 46.2h1.3v2.4h-1.3zM431 42.3h1.3v2.4h-1.3zM433 42.3h1.3v2.4h-1.3zM435 44.1h1.3v2.4h-1.3zM438 46.4h1.3v2.4h-1.3zM439 43.5h1.3v2.4h-1.3zM439 45.6h1.3v2.4h-1.3zM440 44.4h1.3v2.4h-1.3zM441 43.8h1.3v2.4h-1.3zM441 62.7h1.3v2.4h-1.3zM442 43.8h1.3v2.4h-1.3zM442 62.7h1.3v2.4h-1.3zM443 44.3h1.3v2.4h-1.3zM445 43.9h1.3v2.4h-1.3zM446 63.3h1.3v2.4h-1.3zM451 42.3h1.3v2.4h-1.3zM452 45.1h1.3v2.4h-1.3zM453 42h1.3v2.4h-1.3zM453 46.2h1.3v2.4h-1.3zM455 46.4h1.3v2.4h-1.3zM456 43.6h1.3v2.4h-1.3zM460 46.2h1.3v2.4h-1.3zM466 41.6h1.3v2.4h-1.3zM466 45.8h1.3v2.4h-1.3zM467 44.4h1.3v2.4h-1.3zM476 47.4h1.3v2.4h-1.3zM478 47.4h1.3v2.4h-1.3zM479 47.2h1.3v2.4h-1.3zM480 44.5h1.3v2.4h-1.3zM481 44.4h1.3v2.4h-1.3zM481 65.4h1.3v2.4h-1.3zM482 43.4h1.3v2.4h-1.3zM483 43.3h1.3v2.4h-1.3zM484 46.5h1.3v2.4h-1.3zM486 65.3h1.3v2.4h-1.3zM488 42.1h1.3v2.4h-1.3zM489 43.3h1.3v2.4h-1.3zM491 44.4h1.3v2.4h-1.3zM493 48.8h1.3v2.4h-1.3zM496 65.8h1.3v2.4h-1.3zM499 45.4h1.3v2.4h-1.3zM507 48h1.3v2.4h-1.3zM508 45.1h1.3v2.4h-1.3zM508 64h1.3v2.4h-1.3zM510 44.2h1.3v2.4h-1.3zM514 45.5h1.3v2.4h-1.3zM515 45.3h1.3v2.4h-1.3zM517 44h1.3v2.4h-1.3zM519 44.4h1.3v2.4h-1.3zM519 46.5h1.3v2.4h-1.3zM519 65.4h1.3v2.4h-1.3zM520 45h1.3v2.4h-1.3zM520 47.1h1.3v2.4h-1.3zM521 44.4h1.3v2.4h-1.3zM521 46.5h1.3v2.4h-1.3zM524 43.2h1.3v2.4h-1.3zM525 43.9h1.3v2.4h-1.3zM525 46h1.3v2.4h-1.3zM526 63.5h1.3v2.4h-1.3zM527 45.6h1.3v2.4h-1.3zM529 43.7h1.3v2.4h-1.3zM529 45.8h1.3v2.4h-1.3zM531 41.7h1.3v2.4h-1.3zM531 43.8h1.3v2.4h-1.3zM533 45.3h1.3v2.4h-1.3zM535 63.3h1.3v2.4h-1.3zM539 44.8h1.3v2.4h-1.3zM541 45.4h1.3v2.4h-1.3zM544 44.3h1.3v2.4h-1.3zM545 45.6h1.3v2.4h-1.3zM547 43.7h1.3v2.4h-1.3zM548 61.8h1.3v2.4h-1.3zM552 40.9h1.3v2.4h-1.3zM553 62.1h1.3v2.4h-1.3zM555 45.3h1.3v2.4h-1.3zM555 62.1h1.3v2.4h-1.3zM557 44.3h1.3v2.4h-1.3zM560 42.5h1.3v2.4h-1.3zM561 41.7h1.3v2.4h-1.3zM561 43.8h1.3v2.4h-1.3zM561 45.9h1.3v2.4h-1.3zM562 43.4h1.3v2.4h-1.3zM562 62.3h1.3v2.4h-1.3zM563 45h1.3v2.4h-1.3zM568 43.1h1.3v2.4h-1.3zM568 62h1.3v2.4h-1.3zM570 43h1.3v2.4h-1.3zM571 45.4h1.3v2.4h-1.3zM572 41.1h1.3v2.4h-1.3zM573 43h1.3v2.4h-1.3zM576 61.9h1.3v2.4h-1.3zM577 43.1h1.3v2.4h-1.3zM580 44.8h1.3v2.4h-1.3zM580 61.6h1.3v2.4h-1.3zM581 44.6h1.3v2.4h-1.3zM584 40.1h1.3v2.4h-1.3zM584 44.3h1.3v2.4h-1.3zM585 44.3h1.3v2.4h-1.3zM585 46.4h1.3v2.4h-1.3zM587 42.9h1.3v2.4h-1.3zM588 42h1.3v2.4h-1.3zM589 44h1.3v2.4h-1.3zM590 61.7h1.3v2.4h-1.3zM591 39.8h1.3v2.4h-1.3zM591 41.9h1.3v2.4h-1.3zM592 43.1h1.3v2.4h-1.3zM592 62h1.3v2.4h-1.3zM596 45h1.3v2.4h-1.3zM596 61.8h1.3v2.4h-1.3zM597 41.6h1.3v2.4h-1.3zM597 62.6h1.3v2.4h-1.3zM598 39.4h1.3v2.4h-1.3zM599 37.7h1.3v2.4h-1.3zM600 38h1.3v2.4h-1.3zM602 36.3h1.3v2.4h-1.3zM602 44.7h1.3v2.4h-1.3zM606 36.1h1.3v2.4h-1.3zM607 41h1.3v2.4h-1.3zM607 43.1h1.3v2.4h-1.3zM608 41.1h1.3v2.4h-1.3zM611 43.2h1.3v2.4h-1.3zM612 41.7h1.3v2.4h-1.3zM614 42.8h1.3v2.4h-1.3zM616 42.3h1.3v2.4h-1.3zM616 44.4h1.3v2.4h-1.3zM617 38.8h1.3v2.4h-1.3zM619 62.2h1.3v2.4h-1.3zM620 36.2h1.3v2.4h-1.3zM624 40.7h1.3v2.4h-1.3zM625 38.9h1.3v2.4h-1.3zM628 57.7h1.3v2.4h-1.3zM629 44.3h1.3v2.4h-1.3zM636 44h1.3v2.4h-1.3zM638 44.1h1.3v2.4h-1.3zM640 44.6h1.3v2.4h-1.3zM647 44.1h1.3v2.4h-1.3zM653 69.1h1.3v2.4h-1.3zM654 36.1h1.3v2.4h-1.3zM656 58.1h1.3v2.4h-1.3zM661 59h1.3v2.4h-1.3zM667 58.5h1.3v2.4h-1.3zM674 58.8h1.3v2.4h-1.3zM680 58.6h1.3v2.4h-1.3zM683 59.8h1.3v2.4h-1.3z"/>
<path fill="#00f6ce" d="M411 41.9h1.3v2.4h-1.3zM411 44h1.3v2.4h-1.3zM412 44.5h1.3v2.4h-1.3zM412 46.6h1.3v2.4h-1.3zM413 43.5h1.3v2.4h-1.3zM414 42.8h1.3v2.4h-1.3zM415 44.4h1.3v2.4h-1.3zM415 46.5h1.3v2.4h-1.3zM417 46.7h1.3v2.4h-1.3zM417 61.4h1.3v2.4h-1.3zM418 41.4h1.3v2.4h-1.3zM420 62h1.3v2.4h-1.3zM425 42.5h1.3v2.4h-1.3zM434 42.4h1.3v2.4h-1.3zM434 44.5h1.3v2.4h-1.3zM435 46.2h1.3v2.4h-1.3zM439 62.4h1.3v2.4h-1.3zM444 43.6h1.3v2.4h-1.3zM445 46h1.3v2.4h-1.3zM448 63.2h1.3v2.4h-1.3zM452 43h1.3v2.4h-1.3zM455 63.2h1.3v2.4h-1.3zM456 41.5h1.3v2.4h-1.3zM457 46.3h1.3v2.4h-1.3zM457 63.1h1.3v2.4h-1.3zM462 62h1.3v2.4h-1.3zM466 62.6h1.3v2.4h-1.3zM467 46.5h1.3v2.4h-1.3zM469 44.1h1.3v2.4h-1.3zM469 63h1.3v2.4h-1.3zM470 41.8h1.3v2.4h-1.3zM470 46h1.3v2.4h-1.3zM470 62.8h1.3v2.4h-1.3zM472 64.5h1.3v2.4h-1.3zM473 64.5h1.3v2.4h-1.3zM474 45.5h1.3v2.4h-1.3zM475 46.6h1.3v2.4h-1.3zM476 64.2h1.3v2.4h-1.3zM477 48h1.3v2.4h-1.3zM478 64.2h1.3v2.4h-1.3zM482 47.6h1.3v2.4h-1.3zM485 47.8h1.3v2.4h-1.3zM485 64.6h1.3v2.4h-1.3zM488 44.2h1.3v2.4h-1.3zM489 47.5h1.3v2.4h-1.3zM492 64.2h1.3v2.4h-1.3zM495 47.3h1.3v2.4h-1.3zM502 42.9h1.3v2.4h-1.3zM503 48.1h1.3v2.4h-1.3zM503 64.9h1.3v2.4h-1.3zM504 47.8h1.3v2.4h-1.3zM509 63.8h1.3v2.4h-1.3zM512 47.3h1.3v2.4h-1.3zM514 43.4h1.3v2.4h-1.3zM515 43.2h1.3v2.4h-1.3zM516 47.8h1.3v2.4h-1.3zM517 46.1h1.3v2.4h-1.3zM518 46.5h1.3v2.4h-1.3zM518 65.4h1.3v2.4h-1.3zM522 44.6h1.3v2.4h-1.3zM523 43.2h1.3v2.4h-1.3zM523 45.3h1.3v2.4h-1.3zM526 46.7h1.3v2.4h-1.3zM530 63h1.3v2.4h-1.3zM531 45.9h1.3v2.4h-1.3zM532 42.1h1.3v2.4h-1.3zM534 46.3h1.3v2.4h-1.3zM534 63.1h1.3v2.4h-1.3zM538 43.6h1.3v2.4h-1.3zM540 43.5h1.3v2.4h-1.3zM541 62.2h1.3v2.4h-1.3zM542 45.9h1.3v2.4h-1.3zM543 45.1h1.3v2.4h-1.3zM544 46.4h1.3v2.4h-1.3zM545 43.5h1.3v2.4h-1.3zM546 45.8h1.3v2.4h-1.3zM549 43.8h1.3v2.4h-1.3zM552 45.1h1.3v2.4h-1.3zM552 61.9h1.3v2.4h-1.3zM553 45.3h1.3v2.4h-1.3zM555 43.2h1.3v2.4h-1.3zM557 46.4h1.3v2.4h-1.3zM560 44.6h1.3v2.4h-1.3zM563 42.9h1.3v2.4h-1.3zM565 42.8h1.3v2.4h-1.3zM566 42.8h1.3v2.4h-1.3zM567 41.8h1.3v2.4h-1.3zM568 41h1.3v2.4h-1.3zM569 41.9h1.3v2.4h-1.3zM570 45.1h1.3v2.4h-1.3zM570 61.9h1.3v2.4h-1.3zM572 45.3h1.3v2.4h-1.3zM573 61.9h1.3v2.4h-1.3zM574 44.4h1.3v2.4h-1.3zM578 61.6h1.3v2.4h-1.3zM579 61.6h1.3v2.4h-1.3zM581 61.4h1.3v2.4h-1.3zM584 46.4h1.3v2.4h-1.3zM586 46.6h1.3v2.4h-1.3zM587 45h1.3v2.4h-1.3zM588 44.1h1.3v2.4h-1.3zM588 46.2h1.3v2.4h-1.3zM593 43.9h1.3v2.4h-1.3zM595 40.8h1.3v2.4h-1.3zM595 42.9h1.3v2.4h-1.3zM598 41.5h1.3v2.4h-1.3zM598 62.5h1.3v2.4h-1.3zM599 39.8h1.3v2.4h-1.3zM599 44h1.3v2.4h-1.3zM600 44.3h1.3v2.4h-1.3zM604 41.7h1.3v2.4h-1.3zM604 43.8h1.3v2.4h-1.3zM605 41.8h1.3v2.4h-1.3zM605 43.9h1.3v2.4h-1.3zM609 62h1.3v2.4h-1.3zM611 41.1h1.3v2.4h-1.3zM613 42.7h1.3v2.4h-1.3zM618 41.8h1.3v2.4h-1.3zM619 39.1h1.3v2.4h-1.3zM621 39.6h1.3v2.4h-1.3zM623 40.6h1.3v2.4h-1.3zM623 42.7h1.3v2.4h-1.3zM624 61.7h1.3v2.4h-1.3zM625 62h1.3v2.4h-1.3zM626 45h1.3v2.4h-1.3zM626 57.6h1.3v2.4h-1.3zM627 57.7h1.3v2.4h-1.3zM630 44h1.3v2.4h-1.3zM631 44.6h1.3v2.4h-1.3zM643 44.5h1.3v2.4h-1.3zM646 44.8h1.3v2.4h-1.3zM648 43.9h1.3v2.4h-1.3zM652 35.8h1.3v2.4h-1.3zM659 36.5h1.3v2.4h-1.3zM665 36.1h1.3v2.4h-1.3zM666 36h1.3v2.4h-1.3zM667 35.4h1.3v2.4h-1.3zM668 36.3h1.3v2.4h-1.3zM669 36.3h1.3v2.4h-1.3zM671 35.5h1.3v2.4h-1.3zM671 58.6h1.3v2.4h-1.3zM677 58.8h1.3v2.4h-1.3zM681 37.1h1.3v2.4h-1.3z"/>
<path fill="#00f2bd" d="M414 44.9h1.3v2.4h-1.3zM414 47h1.3v2.4h-1.3zM414 61.7h1.3v2.4h-1.3zM415 42.3h1.3v2.4h-1.3zM416 61.1h1.3v2.4h-1.3zM418 62.4h1.3v2.4h-1.3zM421 47h1.3v2.4h-1.3zM431 46.5h1.3v2.4h-1.3zM436 46.1h1.3v2.4h-1.3zM440 46.5h1.3v2.4h-1.3zM441 45.9h1.3v2.4h-1.3zM443 46.4h1.3v2.4h-1.3zM445 62.8h1.3v2.4h-1.3zM450 45.4h1.3v2.4h-1.3zM453 63h1.3v2.4h-1.3zM456 45.7h1.3v2.4h-1.3zM458 61.8h1.3v2.4h-1.3zM459 61.5h1.3v2.4h-1.3zM460 63h1.3v2.4h-1.3zM461 62.4h1.3v2.4h-1.3zM462 47.3h1.3v2.4h-1.3zM464 46.1h1.3v2.4h-1.3zM465 42.7h1.3v2.4h-1.3zM467 42.3h1.3v2.4h-1.3zM469 42h1.3v2.4h-1.3zM469 46.2h1.3v2.4h-1.3zM471 42.6h1.3v2.4h-1.3zM473 47.7h1.3v2.4h-1.3zM474 47.6h1.3v2.4h-1.3zM474 64.4h1.3v2.4h-1.3zM488 65.2h1.3v2.4h-1.3zM492 49.5h1.3v2.4h-1.3zM494 48.9h1.3v2.4h-1.3zM495 49.4h1.3v2.4h-1.3zM496 46.9h1.3v2.4h-1.3zM496 49h1.3v2.4h-1.3zM498 64.5h1.3v2.4h-1.3zM499 47.5h1.3v2.4h-1.3zM504 64.6h1.3v2.4h-1.3zM506 48.5h1.3v2.4h-1.3zM510 65.2h1.3v2.4h-1.3zM511 47.6h1.3v2.4h-1.3zM514 47.6h1.3v2.4h-1.3zM517 65h1.3v2.4h-1.3zM520 63.9h1.3v2.4h-1.3zM522 46.7h1.3v2.4h-1.3zM523 64.2h1.3v2.4h-1.3zM524 45.3h1.3v2.4h-1.3zM524 64.2h1.3v2.4h-1.3zM528 45.9h1.3v2.4h-1.3zM529 47.9h1.3v2.4h-1.3zM532 44.2h1.3v2.4h-1.3zM532 63.1h1.3v2.4h-1.3zM533 47.4h1.3v2.4h-1.3zM534 44.2h1.3v2.4h-1.3zM536 43.9h1.3v2.4h-1.3zM536 46h1.3v2.4h-1.3zM536 62.8h1.3v2.4h-1.3zM538 45.7h1.3v2.4h-1.3zM543 61.9h1.3v2.4h-1.3zM546 43.7h1.3v2.4h-1.3zM549 45.9h1.3v2.4h-1.3zM554 44.2h1.3v2.4h-1.3zM554 46.3h1.3v2.4h-1.3zM560 46.7h1.3v2.4h-1.3zM562 41.3h1.3v2.4h-1.3zM566 61.7h1.3v2.4h-1.3zM567 46h1.3v2.4h-1.3zM568 45.2h1.3v2.4h-1.3zM574 42.3h1.3v2.4h-1.3zM577 62h1.3v2.4h-1.3zM582 46.1h1.3v2.4h-1.3zM582 60.8h1.3v2.4h-1.3zM586 44.5h1.3v2.4h-1.3zM587 47.1h1.3v2.4h-1.3zM590 44.9h1.3v2.4h-1.3zM591 44h1.3v2.4h-1.3zM592 45.2h1.3v2.4h-1.3zM602 42.6h1.3v2.4h-1.3zM610 61.5h1.3v2.4h-1.3zM612 43.8h1.3v2.4h-1.3zM615 42.5h1.3v2.4h-1.3zM617 36.7h1.3v2.4h-1.3zM617 40.9h1.3v2.4h-1.3zM617 61.9h1.3v2.4h-1.3zM619 41.2h1.3v2.4h-1.3zM621 43.8h1.3v2.4h-1.3zM627 45.1h1.3v2.4h-1.3zM633 45.3h1.3v2.4h-1.3zM639 44.4h1.3v2.4h-1.3zM651 36.8h1.3v2.4h-1.3zM651 57.8h1.3v2.4h-1.3zM653 35.5h1.3v2.4h-1.3zM653 58.6h1.3v2.4h-1.3zM655 35.3h1.3v2.4h-1.3zM658 36.9h1.3v2.4h-1.3zM670 36.2h1.3v2.4h-1.3zM677 35.7h1.3v2.4h-1.3zM678 36.5h1.3v2.4h-1.3zM681 58.1h1.3v2.4h-1.3zM682 36.9h1.3v2.4h-1.3z"/>
<path fill="#00efad" d="M411 62.9h1.3v2.4h-1.3zM415 61.2h1.3v2.4h-1.3zM420 47.3h1.3v2.4h-1.3zM423 46.9h1.3v2.4h-1.3zM433 46.5h1.3v2.4h-1.3zM434 46.6h1.3v2.4h-1.3zM437 46.4h1.3v2.4h-1.3zM444 45.7h1.3v2.4h-1.3zM444 62.5h1.3v2.4h-1.3zM446 46.5h1.3v2.4h-1.3zM447 45.9h1.3v2.4h-1.3zM451 63.3h1.3v2.4h-1.3zM452 61.9h1.3v2.4h-1.3zM454 63h1.3v2.4h-1.3zM459 46.8h1.3v2.4h-1.3zM461 47.7h1.3v2.4h-1.3zM465 46.9h1.3v2.4h-1.3zM471 46.8h1.3v2.4h-1.3zM472 47.7h1.3v2.4h-1.3zM479 49.3h1.3v2.4h-1.3zM480 48.7h1.3v2.4h-1.3zM481 48.6h1.3v2.4h-1.3zM483 47.5h1.3v2.4h-1.3zM487 47.5h1.3v2.4h-1.3zM487 49.6h1.3v2.4h-1.3zM490 64.2h1.3v2.4h-1.3zM491 48.6h1.3v2.4h-1.3zM500 63.8h1.3v2.4h-1.3zM501 47.7h1.3v2.4h-1.3zM505 48.8h1.3v2.4h-1.3zM507 64.8h1.3v2.4h-1.3zM512 49.4h1.3v2.4h-1.3zM513 48.6h1.3v2.4h-1.3zM516 49.9h1.3v2.4h-1.3zM516 64.6h1.3v2.4h-1.3zM518 63.3h1.3v2.4h-1.3zM524 47.4h1.3v2.4h-1.3zM532 46.3h1.3v2.4h-1.3zM533 62.1h1.3v2.4h-1.3zM535 44.4h1.3v2.4h-1.3zM538 47.8h1.3v2.4h-1.3zM540 45.6h1.3v2.4h-1.3zM550 46.9h1.3v2.4h-1.3zM550 61.6h1.3v2.4h-1.3zM551 46.1h1.3v2.4h-1.3zM553 43.2h1.3v2.4h-1.3zM563 47.1h1.3v2.4h-1.3zM565 61.7h1.3v2.4h-1.3zM566 47h1.3v2.4h-1.3zM568 47.3h1.3v2.4h-1.3zM569 44h1.3v2.4h-1.3zM577 45.2h1.3v2.4h-1.3zM581 46.7h1.3v2.4h-1.3zM584 61.1h1.3v2.4h-1.3zM589 46.1h1.3v2.4h-1.3zM599 41.9h1.3v2.4h-1.3zM600 42.2h1.3v2.4h-1.3zM601 41.4h1.3v2.4h-1.3zM606 44.5h1.3v2.4h-1.3zM608 43.2h1.3v2.4h-1.3zM609 45.2h1.3v2.4h-1.3zM610 44.7h1.3v2.4h-1.3zM614 44.9h1.3v2.4h-1.3zM614 61.7h1.3v2.4h-1.3zM615 44.6h1.3v2.4h-1.3zM620 40.4h1.3v2.4h-1.3zM621 41.7h1.3v2.4h-1.3zM624 44.9h1.3v2.4h-1.3zM631 57.2h1.3v2.4h-1.3zM632 45.7h1.3v2.4h-1.3zM634 44.6h1.3v2.4h-1.3zM634 57.2h1.3v2.4h-1.3zM637 45h1.3v2.4h-1.3zM640 57.2h1.3v2.4h-1.3zM649 44.3h1.3v2.4h-1.3zM656 37.1h1.3v2.4h-1.3zM657 36.6h1.3v2.4h-1.3zM660 58.1h1.3v2.4h-1.3zM661 35.9h1.3v2.4h-1.3zM664 36.5h1.3v2.4h-1.3zM674 35.7h1.3v2.4h-1.3zM675 57.8h1.3v2.4h-1.3zM679 37h1.3v2.4h-1.3zM679 58h1.3v2.4h-1.3zM680 37.6h1.3v2.4h-1.3z"/>
<path fill="#00ec9d" d="M410 61.2h1.3v2.4h-1.3zM412 61.3h1.3v2.4h-1.3zM413 47.7h1.3v2.4h-1.3zM413 62.4h1.3v2.4h-1.3zM421 61.7h1.3v2.4h-1.3zM423 61.6h1.3v2.4h-1.3zM429 47.6h1.3v2.4h-1.3zM432 48h1.3v2.4h-1.3zM440 61.2h1.3v2.4h-1.3zM442 45.9h1.3v2.4h-1.3zM448 46.4h1.3v2.4h-1.3zM451 46.5h1.3v2.4h-1.3zM452 47.2h1.3v2.4h-1.3zM458 47.1h1.3v2.4h-1.3zM459 48.9h1.3v2.4h-1.3zM460 48.3h1.3v2.4h-1.3zM463 61.3h1.3v2.4h-1.3zM464 60.8h1.3v2.4h-1.3zM465 61.6h1.3v2.4h-1.3zM468 61.1h1.3v2.4h-1.3zM476 49.5h1.3v2.4h-1.3zM478 49.5h1.3v2.4h-1.3zM479 64h1.3v2.4h-1.3zM484 48.6h1.3v2.4h-1.3zM485 49.9h1.3v2.4h-1.3zM486 48.5h1.3v2.4h-1.3zM489 64.3h1.3v2.4h-1.3zM490 49.5h1.3v2.4h-1.3zM497 64.6h1.3v2.4h-1.3zM505 63.5h1.3v2.4h-1.3zM510 48.4h1.3v2.4h-1.3zM511 49.7h1.3v2.4h-1.3zM513 63.3h1.3v2.4h-1.3zM515 47.4h1.3v2.4h-1.3zM517 48.2h1.3v2.4h-1.3zM518 48.6h1.3v2.4h-1.3zM519 48.6h1.3v2.4h-1.3zM519 63.3h1.3v2.4h-1.3zM521 63.3h1.3v2.4h-1.3zM523 47.4h1.3v2.4h-1.3zM525 62.8h1.3v2.4h-1.3zM528 62.7h1.3v2.4h-1.3zM529 62.6h1.3v2.4h-1.3zM530 48.3h1.3v2.4h-1.3zM531 48h1.3v2.4h-1.3zM531 62.7h1.3v2.4h-1.3zM534 48.4h1.3v2.4h-1.3zM536 48.1h1.3v2.4h-1.3zM537 45h1.3v2.4h-1.3zM538 62.5h1.3v2.4h-1.3zM539 46.9h1.3v2.4h-1.3zM539 61.6h1.3v2.4h-1.3zM540 62.4h1.3v2.4h-1.3zM543 47.2h1.3v2.4h-1.3zM548 47.1h1.3v2.4h-1.3zM554 61h1.3v2.4h-1.3zM557 61.1h1.3v2.4h-1.3zM564 47.8h1.3v2.4h-1.3zM565 47h1.3v2.4h-1.3zM567 60.7h1.3v2.4h-1.3zM569 46.1h1.3v2.4h-1.3zM575 46.8h1.3v2.4h-1.3zM575 61.5h1.3v2.4h-1.3zM579 46.9h1.3v2.4h-1.3zM580 46.9h1.3v2.4h-1.3zM585 61.1h1.3v2.4h-1.3zM586 61.3h1.3v2.4h-1.3zM588 60.9h1.3v2.4h-1.3zM589 60.8h1.3v2.4h-1.3zM595 45h1.3v2.4h-1.3zM595 61.8h1.3v2.4h-1.3zM602 61.5h1.3v2.4h-1.3zM617 43h1.3v2.4h-1.3zM617 45.1h1.3v2.4h-1.3zM620 42.5h1.3v2.4h-1.3zM620 44.6h1.3v2.4h-1.3zM620 61.4h1.3v2.4h-1.3zM623 61.6h1.3v2.4h-1.3zM628 45.1h1.3v2.4h-1.3zM629 56.9h1.3v2.4h-1.3zM635 45.5h1.3v2.4h-1.3zM647 56.7h1.3v2.4h-1.3zM649 56.9h1.3v2.4h-1.3zM650 56.9h1.3v2.4h-1.3zM652 37.9h1.3v2.4h-1.3zM655 58.4h1.3v2.4h-1.3zM658 57.9h1.3v2.4h-1.3zM660 37.1h1.3v2.4h-1.3zM672 36.3h1.3v2.4h-1.3zM673 36.5h1.3v2.4h-1.3zM675 36.8h1.3v2.4h-1.3zM677 37.8h1.3v2.4h-1.3zM678 57.5h1.3v2.4h-1.3zM684 37.4h0.9v2.4h-0.9z"/>
<path fill="#00eb89" d="M418 47.7h1.3v2.4h-1.3zM419 47.1h1.3v2.4h-1.3zM427 47.8h1.3v2.4h-1.3zM430 48.3h1.3v2.4h-1.3zM438 61.1h1.3v2.4h-1.3zM446 61.2h1.3v2.4h-1.3zM447 62.7h1.3v2.4h-1.3zM449 47h1.3v2.4h-1.3zM455 48.5h1.3v2.4h-1.3zM457 48.4h1.3v2.4h-1.3zM458 49.2h1.3v2.4h-1.3zM463 46.6h1.3v2.4h-1.3zM472 49.8h1.3v2.4h-1.3zM473 49.8h1.3v2.4h-1.3zM474 49.7h1.3v2.4h-1.3zM475 48.7h1.3v2.4h-1.3zM475 63.4h1.3v2.4h-1.3zM482 49.7h1.3v2.4h-1.3zM482 64.4h1.3v2.4h-1.3zM483 64.3h1.3v2.4h-1.3zM487 64.3h1.3v2.4h-1.3zM488 48.4h1.3v2.4h-1.3zM497 49.9h1.3v2.4h-1.3zM498 49.8h1.3v2.4h-1.3zM499 64.3h1.3v2.4h-1.3zM500 49.1h1.3v2.4h-1.3zM501 49.8h1.3v2.4h-1.3zM501 64.5h1.3v2.4h-1.3zM504 49.9h1.3v2.4h-1.3zM508 49.3h1.3v2.4h-1.3zM509 49.1h1.3v2.4h-1.3zM511 64.4h1.3v2.4h-1.3zM512 64.1h1.3v2.4h-1.3zM514 64.4h1.3v2.4h-1.3zM516 62.5h1.3v2.4h-1.3zM517 62.9h1.3v2.4h-1.3zM525 48.1h1.3v2.4h-1.3zM527 47.7h1.3v2.4h-1.3zM528 48h1.3v2.4h-1.3zM533 49.5h1.3v2.4h-1.3zM535 46.5h1.3v2.4h-1.3zM537 47.1h1.3v2.4h-1.3zM542 48h1.3v2.4h-1.3zM551 60.8h1.3v2.4h-1.3zM556 47.4h1.3v2.4h-1.3zM560 61.4h1.3v2.4h-1.3zM563 61.8h1.3v2.4h-1.3zM567 48.1h1.3v2.4h-1.3zM570 47.2h1.3v2.4h-1.3zM571 47.5h1.3v2.4h-1.3zM573 47.2h1.3v2.4h-1.3zM576 47.2h1.3v2.4h-1.3zM578 46.9h1.3v2.4h-1.3zM583 47.1h1.3v2.4h-1.3zM606 61.3h1.3v2.4h-1.3zM607 45.2h1.3v2.4h-1.3zM613 61.6h1.3v2.4h-1.3zM615 61.4h1.3v2.4h-1.3zM626 55.5h1.3v2.4h-1.3zM636 46.1h1.3v2.4h-1.3zM637 55.5h1.3v2.4h-1.3zM638 56.7h1.3v2.4h-1.3zM643 57.1h1.3v2.4h-1.3zM650 42.2h1.3v2.4h-1.3zM656 41.3h1.3v2.4h-1.3zM659 38.6h1.3v2.4h-1.3zM661 38h1.3v2.4h-1.3zM662 36.6h1.3v2.4h-1.3zM663 36.6h1.3v2.4h-1.3zM663 38.7h1.3v2.4h-1.3zM664 38.6h1.3v2.4h-1.3zM665 38.2h1.3v2.4h-1.3zM666 38.1h1.3v2.4h-1.3zM667 37.5h1.3v2.4h-1.3zM676 36.8h1.3v2.4h-1.3zM676 57.8h1.3v2.4h-1.3zM678 38.6h1.3v2.4h-1.3zM682 57.9h1.3v2.4h-1.3zM683 36.7h1.3v2.4h-1.3z"/>
<path fill="#00ea73" d="M418 60.3h1.3v2.4h-1.3zM422 48.3h1.3v2.4h-1.3zM422 60.9h1.3v2.4h-1.3zM426 61.2h1.3v2.4h-1.3zM428 61.2h1.3v2.4h-1.3zM443 61.1h1.3v2.4h-1.3zM445 60.7h1.3v2.4h-1.3zM448 61.1h1.3v2.4h-1.3zM449 61.7h1.3v2.4h-1.3zM450 47.5h1.3v2.4h-1.3zM451 61.2h1.3v2.4h-1.3zM454 48.3h1.3v2.4h-1.3zM454 60.9h1.3v2.4h-1.3zM455 61.1h1.3v2.4h-1.3zM456 47.8h1.3v2.4h-1.3zM457 61h1.3v2.4h-1.3zM460 60.9h1.3v2.4h-1.3zM461 60.3h1.3v2.4h-1.3zM464 48.2h1.3v2.4h-1.3zM466 47.9h1.3v2.4h-1.3zM467 61.2h1.3v2.4h-1.3zM468 48.5h1.3v2.4h-1.3zM471 61.5h1.3v2.4h-1.3zM477 50.1h1.3v2.4h-1.3zM484 63.3h1.3v2.4h-1.3zM490 51.6h1.3v2.4h-1.3zM493 50.9h1.3v2.4h-1.3zM493 63.5h1.3v2.4h-1.3zM503 50.2h1.3v2.4h-1.3zM506 63.2h1.3v2.4h-1.3zM507 62.7h1.3v2.4h-1.3zM510 63.1h1.3v2.4h-1.3zM513 50.7h1.3v2.4h-1.3zM515 49.5h1.3v2.4h-1.3zM515 64.2h1.3v2.4h-1.3zM521 48.6h1.3v2.4h-1.3zM522 48.8h1.3v2.4h-1.3zM522 63.5h1.3v2.4h-1.3zM524 49.5h1.3v2.4h-1.3zM527 62.4h1.3v2.4h-1.3zM532 48.4h1.3v2.4h-1.3zM535 48.6h1.3v2.4h-1.3zM539 49h1.3v2.4h-1.3zM540 47.7h1.3v2.4h-1.3zM541 47.5h1.3v2.4h-1.3zM544 48.5h1.3v2.4h-1.3zM544 61.1h1.3v2.4h-1.3zM547 60.5h1.3v2.4h-1.3zM552 47.2h1.3v2.4h-1.3zM556 60h1.3v2.4h-1.3zM566 49.1h1.3v2.4h-1.3zM572 47.4h1.3v2.4h-1.3zM576 59.8h1.3v2.4h-1.3zM590 47h1.3v2.4h-1.3zM601 45.6h1.3v2.4h-1.3zM603 46.1h1.3v2.4h-1.3zM613 44.8h1.3v2.4h-1.3zM616 61.2h1.3v2.4h-1.3zM623 44.8h1.3v2.4h-1.3zM628 55.6h1.3v2.4h-1.3zM631 55.1h1.3v2.4h-1.3zM636 56.6h1.3v2.4h-1.3zM639 57h1.3v2.4h-1.3zM641 56.8h1.3v2.4h-1.3zM644 45.8h1.3v2.4h-1.3zM648 56.5h1.3v2.4h-1.3zM652 40h1.3v2.4h-1.3zM652 56.8h1.3v2.4h-1.3zM653 37.6h1.3v2.4h-1.3zM654 38.2h1.3v2.4h-1.3zM657 38.7h1.3v2.4h-1.3zM657 57.6h1.3v2.4h-1.3zM658 41.1h1.3v2.4h-1.3zM660 41.3h1.3v2.4h-1.3zM662 38.7h1.3v2.4h-1.3zM664 57.5h1.3v2.4h-1.3zM665 42.4h1.3v2.4h-1.3zM665 57.1h1.3v2.4h-1.3zM668 38.4h1.3v2.4h-1.3zM677 39.9h1.3v2.4h-1.3zM679 39.1h1.3v2.4h-1.3zM680 56.5h1.3v2.4h-1.3zM681 41.3h1.3v2.4h-1.3zM684 58.4h0.9v2.4h-0.9z"/>
<path fill="#00e95d" d="M410 48.6h1.3v2.4h-1.3zM411 60.8h1.3v2.4h-1.3zM412 48.7h1.3v2.4h-1.3zM413 60.3h1.3v2.4h-1.3zM419 49.2h1.3v2.4h-1.3zM420 49.4h1.3v2.4h-1.3zM424 61.1h1.3v2.4h-1.3zM425 61.4h1.3v2.4h-1.3zM428 48.6h1.3v2.4h-1.3zM430 60.9h1.3v2.4h-1.3zM431 48.6h1.3v2.4h-1.3zM433 61.2h1.3v2.4h-1.3zM436 48.2h1.3v2.4h-1.3zM437 61.1h1.3v2.4h-1.3zM439 60.3h1.3v2.4h-1.3zM441 60.6h1.3v2.4h-1.3zM443 48.5h1.3v2.4h-1.3zM445 48.1h1.3v2.4h-1.3zM453 48.3h1.3v2.4h-1.3zM453 60.9h1.3v2.4h-1.3zM456 62.5h1.3v2.4h-1.3zM463 48.7h1.3v2.4h-1.3zM466 60.5h1.3v2.4h-1.3zM470 48.1h1.3v2.4h-1.3zM475 50.8h1.3v2.4h-1.3zM483 49.6h1.3v2.4h-1.3zM484 50.7h1.3v2.4h-1.3zM485 52h1.3v2.4h-1.3zM485 62.5h1.3v2.4h-1.3zM486 50.6h1.3v2.4h-1.3zM486 63.2h1.3v2.4h-1.3zM489 49.6h1.3v2.4h-1.3zM492 51.6h1.3v2.4h-1.3zM494 51h1.3v2.4h-1.3zM495 64.1h1.3v2.4h-1.3zM499 49.6h1.3v2.4h-1.3zM500 51.2h1.3v2.4h-1.3zM502 49.2h1.3v2.4h-1.3zM502 63.9h1.3v2.4h-1.3zM503 62.8h1.3v2.4h-1.3zM507 50.1h1.3v2.4h-1.3zM511 62.3h1.3v2.4h-1.3zM514 49.7h1.3v2.4h-1.3zM517 50.3h1.3v2.4h-1.3zM523 49.5h1.3v2.4h-1.3zM526 48.8h1.3v2.4h-1.3zM529 50h1.3v2.4h-1.3zM537 61.8h1.3v2.4h-1.3zM542 60.6h1.3v2.4h-1.3zM543 49.3h1.3v2.4h-1.3zM545 47.7h1.3v2.4h-1.3zM547 47.9h1.3v2.4h-1.3zM553 47.4h1.3v2.4h-1.3zM556 49.5h1.3v2.4h-1.3zM559 47.7h1.3v2.4h-1.3zM561 48h1.3v2.4h-1.3zM562 47.6h1.3v2.4h-1.3zM564 60.4h1.3v2.4h-1.3zM568 59.9h1.3v2.4h-1.3zM569 48.2h1.3v2.4h-1.3zM569 60.8h1.3v2.4h-1.3zM574 46.5h1.3v2.4h-1.3zM574 61.2h1.3v2.4h-1.3zM578 59.5h1.3v2.4h-1.3zM597 60.5h1.3v2.4h-1.3zM598 45.7h1.3v2.4h-1.3zM603 60.8h1.3v2.4h-1.3zM608 45.3h1.3v2.4h-1.3zM616 46.5h1.3v2.4h-1.3zM618 60.7h1.3v2.4h-1.3zM621 60.6h1.3v2.4h-1.3zM622 45.7h1.3v2.4h-1.3zM627 55.6h1.3v2.4h-1.3zM629 46.4h1.3v2.4h-1.3zM630 56.6h1.3v2.4h-1.3zM631 46.7h1.3v2.4h-1.3zM632 56.2h1.3v2.4h-1.3zM635 56h1.3v2.4h-1.3zM638 46.2h1.3v2.4h-1.3zM640 55.1h1.3v2.4h-1.3zM641 46.3h1.3v2.4h-1.3zM650 44.3h1.3v2.4h-1.3zM651 41h1.3v2.4h-1.3zM654 57.1h1.3v2.4h-1.3zM657 42.9h1.3v2.4h-1.3zM659 42.8h1.3v2.4h-1.3zM659 57.5h1.3v2.4h-1.3zM663 57.6h1.3v2.4h-1.3zM666 42.3h1.3v2.4h-1.3zM668 57.3h1.3v2.4h-1.3zM669 38.4h1.3v2.4h-1.3zM669 57.3h1.3v2.4h-1.3zM670 38.3h1.3v2.4h-1.3zM671 37.6h1.3v2.4h-1.3zM674 37.8h1.3v2.4h-1.3zM675 38.9h1.3v2.4h-1.3zM675 41h1.3v2.4h-1.3zM676 38.9h1.3v2.4h-1.3zM676 41h1.3v2.4h-1.3zM680 39.7h1.3v2.4h-1.3zM681 39.2h1.3v2.4h-1.3zM682 39h1.3v2.4h-1.3z"/>
<path fill="#00e847" d="M414 49.1h1.3v2.4h-1.3zM420 59.9h1.3v2.4h-1.3zM427 60.4h1.3v2.4h-1.3zM429 49.7h1.3v2.4h-1.3zM431 61.2h1.3v2.4h-1.3zM432 60.6h1.3v2.4h-1.3zM433 48.6h1.3v2.4h-1.3zM442 48h1.3v2.4h-1.3zM442 60.6h1.3v2.4h-1.3zM444 47.8h1.3v2.4h-1.3zM450 62.2h1.3v2.4h-1.3zM451 48.6h1.3v2.4h-1.3zM462 59.9h1.3v2.4h-1.3zM469 48.3h1.3v2.4h-1.3zM469 60.9h1.3v2.4h-1.3zM470 60.7h1.3v2.4h-1.3zM472 51.9h1.3v2.4h-1.3zM477 62.7h1.3v2.4h-1.3zM479 61.9h1.3v2.4h-1.3zM480 63.4h1.3v2.4h-1.3zM487 51.7h1.3v2.4h-1.3zM488 50.5h1.3v2.4h-1.3zM491 50.7h1.3v2.4h-1.3zM494 63.6h1.3v2.4h-1.3zM495 51.5h1.3v2.4h-1.3zM497 52h1.3v2.4h-1.3zM498 51.9h1.3v2.4h-1.3zM505 50.9h1.3v2.4h-1.3zM506 50.6h1.3v2.4h-1.3zM510 50.5h1.3v2.4h-1.3zM520 49.2h1.3v2.4h-1.3zM521 50.7h1.3v2.4h-1.3zM525 50.2h1.3v2.4h-1.3zM527 49.8h1.3v2.4h-1.3zM530 50.4h1.3v2.4h-1.3zM531 50.1h1.3v2.4h-1.3zM545 60.3h1.3v2.4h-1.3zM546 47.9h1.3v2.4h-1.3zM548 59.7h1.3v2.4h-1.3zM549 60.6h1.3v2.4h-1.3zM554 48.4h1.3v2.4h-1.3zM558 47.5h1.3v2.4h-1.3zM559 60.3h1.3v2.4h-1.3zM565 49.1h1.3v2.4h-1.3zM570 59.8h1.3v2.4h-1.3zM571 60.1h1.3v2.4h-1.3zM572 60h1.3v2.4h-1.3zM573 59.8h1.3v2.4h-1.3zM579 59.5h1.3v2.4h-1.3zM580 59.5h1.3v2.4h-1.3zM582 48.2h1.3v2.4h-1.3zM584 48.5h1.3v2.4h-1.3zM585 48.5h1.3v2.4h-1.3zM591 46.1h1.3v2.4h-1.3zM591 60.8h1.3v2.4h-1.3zM593 60.7h1.3v2.4h-1.3zM594 45.8h1.3v2.4h-1.3zM597 45.8h1.3v2.4h-1.3zM600 61.1h1.3v2.4h-1.3zM602 46.8h1.3v2.4h-1.3zM605 46h1.3v2.4h-1.3zM606 46.6h1.3v2.4h-1.3zM611 45.3h1.3v2.4h-1.3zM612 45.9h1.3v2.4h-1.3zM619 45.4h1.3v2.4h-1.3zM622 60.4h1.3v2.4h-1.3zM625 45.2h1.3v2.4h-1.3zM629 54.8h1.3v2.4h-1.3zM633 55.8h1.3v2.4h-1.3zM641 54.7h1.3v2.4h-1.3zM644 56.3h1.3v2.4h-1.3zM645 45.6h1.3v2.4h-1.3zM645 56.1h1.3v2.4h-1.3zM648 46h1.3v2.4h-1.3zM651 38.9h1.3v2.4h-1.3zM655 37.4h1.3v2.4h-1.3zM656 39.2h1.3v2.4h-1.3zM661 42.2h1.3v2.4h-1.3zM662 57.6h1.3v2.4h-1.3zM666 57h1.3v2.4h-1.3zM669 42.6h1.3v2.4h-1.3zM671 41.8h1.3v2.4h-1.3zM673 57.5h1.3v2.4h-1.3zM674 39.9h1.3v2.4h-1.3zM675 43.1h1.3v2.4h-1.3zM677 42h1.3v2.4h-1.3zM677 56.7h1.3v2.4h-1.3zM678 40.7h1.3v2.4h-1.3zM679 55.9h1.3v2.4h-1.3zM680 41.8h1.3v2.4h-1.3zM682 41.1h1.3v2.4h-1.3zM683 57.7h1.3v2.4h-1.3z"/>
<path fill="#00e731" d="M411 48.2h1.3v2.4h-1.3zM416 48.5h1.3v2.4h-1.3zM417 48.8h1.3v2.4h-1.3zM421 49.1h1.3v2.4h-1.3zM423 49h1.3v2.4h-1.3zM424 48.5h1.3v2.4h-1.3zM426 48.6h1.3v2.4h-1.3zM427 49.9h1.3v2.4h-1.3zM432 50.1h1.3v2.4h-1.3zM435 48.3h1.3v2.4h-1.3zM435 60.9h1.3v2.4h-1.3zM436 60.8h1.3v2.4h-1.3zM439 47.7h1.3v2.4h-1.3zM441 48h1.3v2.4h-1.3zM445 50.2h1.3v2.4h-1.3zM446 48.6h1.3v2.4h-1.3zM447 48h1.3v2.4h-1.3zM447 60.6h1.3v2.4h-1.3zM452 49.3h1.3v2.4h-1.3zM465 49h1.3v2.4h-1.3zM467 48.6h1.3v2.4h-1.3zM472 62.4h1.3v2.4h-1.3zM473 51.9h1.3v2.4h-1.3zM473 62.4h1.3v2.4h-1.3zM474 51.8h1.3v2.4h-1.3zM476 51.6h1.3v2.4h-1.3zM478 51.6h1.3v2.4h-1.3zM479 51.4h1.3v2.4h-1.3zM480 50.8h1.3v2.4h-1.3zM481 50.7h1.3v2.4h-1.3zM481 63.3h1.3v2.4h-1.3zM482 51.8h1.3v2.4h-1.3zM489 51.7h1.3v2.4h-1.3zM491 63.3h1.3v2.4h-1.3zM512 51.5h1.3v2.4h-1.3zM512 62h1.3v2.4h-1.3zM514 62.3h1.3v2.4h-1.3zM516 52h1.3v2.4h-1.3zM519 50.7h1.3v2.4h-1.3zM524 62.1h1.3v2.4h-1.3zM528 50.1h1.3v2.4h-1.3zM537 49.2h1.3v2.4h-1.3zM541 60.1h1.3v2.4h-1.3zM543 59.8h1.3v2.4h-1.3zM546 60.5h1.3v2.4h-1.3zM548 49.2h1.3v2.4h-1.3zM551 48.2h1.3v2.4h-1.3zM552 59.8h1.3v2.4h-1.3zM553 60h1.3v2.4h-1.3zM555 47.4h1.3v2.4h-1.3zM555 60h1.3v2.4h-1.3zM558 60.1h1.3v2.4h-1.3zM561 60.6h1.3v2.4h-1.3zM563 49.2h1.3v2.4h-1.3zM566 59.6h1.3v2.4h-1.3zM570 49.3h1.3v2.4h-1.3zM578 49h1.3v2.4h-1.3zM579 49h1.3v2.4h-1.3zM580 49h1.3v2.4h-1.3zM581 48.8h1.3v2.4h-1.3zM583 49.2h1.3v2.4h-1.3zM593 46h1.3v2.4h-1.3zM594 60.5h1.3v2.4h-1.3zM599 60.8h1.3v2.4h-1.3zM604 45.9h1.3v2.4h-1.3zM604 60.6h1.3v2.4h-1.3zM612 60.6h1.3v2.4h-1.3zM618 46h1.3v2.4h-1.3zM621 45.9h1.3v2.4h-1.3zM624 47h1.3v2.4h-1.3zM630 46.1h1.3v2.4h-1.3zM634 46.7h1.3v2.4h-1.3zM637 47.1h1.3v2.4h-1.3zM639 46.5h1.3v2.4h-1.3zM639 54.9h1.3v2.4h-1.3zM640 46.7h1.3v2.4h-1.3zM642 45.9h1.3v2.4h-1.3zM646 55.3h1.3v2.4h-1.3zM651 55.7h1.3v2.4h-1.3zM653 56.5h1.3v2.4h-1.3zM654 42.4h1.3v2.4h-1.3zM656 56h1.3v2.4h-1.3zM662 42.9h1.3v2.4h-1.3zM664 42.8h1.3v2.4h-1.3zM667 41.7h1.3v2.4h-1.3zM668 42.6h1.3v2.4h-1.3zM670 57.2h1.3v2.4h-1.3zM672 38.4h1.3v2.4h-1.3zM672 42.6h1.3v2.4h-1.3zM672 57.3h1.3v2.4h-1.3zM674 42h1.3v2.4h-1.3zM674 56.7h1.3v2.4h-1.3zM676 43.1h1.3v2.4h-1.3zM679 41.2h1.3v2.4h-1.3zM681 56h1.3v2.4h-1.3zM683 38.8h1.3v2.4h-1.3zM684 39.5h0.9v2.4h-0.9zM684 56.3h0.9v2.4h-0.9z"/>
<path fill="#00e71c" d="M413 49.8h1.3v2.4h-1.3zM415 48.6h1.3v2.4h-1.3zM423 59.5h1.3v2.4h-1.3zM434 48.7h1.3v2.4h-1.3zM434 61.3h1.3v2.4h-1.3zM437 48.5h1.3v2.4h-1.3zM448 48.5h1.3v2.4h-1.3zM449 49.1h1.3v2.4h-1.3zM461 49.8h1.3v2.4h-1.3zM471 48.9h1.3v2.4h-1.3zM474 62.3h1.3v2.4h-1.3zM488 63.1h1.3v2.4h-1.3zM496 51.1h1.3v2.4h-1.3zM496 63.7h1.3v2.4h-1.3zM499 51.7h1.3v2.4h-1.3zM500 61.7h1.3v2.4h-1.3zM501 51.9h1.3v2.4h-1.3zM502 51.3h1.3v2.4h-1.3zM504 62.5h1.3v2.4h-1.3zM509 51.2h1.3v2.4h-1.3zM515 62.1h1.3v2.4h-1.3zM518 50.7h1.3v2.4h-1.3zM520 51.3h1.3v2.4h-1.3zM523 62.1h1.3v2.4h-1.3zM526 50.9h1.3v2.4h-1.3zM526 61.4h1.3v2.4h-1.3zM536 50.2h1.3v2.4h-1.3zM538 49.9h1.3v2.4h-1.3zM549 48h1.3v2.4h-1.3zM550 49h1.3v2.4h-1.3zM553 49.5h1.3v2.4h-1.3zM558 49.6h1.3v2.4h-1.3zM559 49.8h1.3v2.4h-1.3zM560 48.8h1.3v2.4h-1.3zM560 59.3h1.3v2.4h-1.3zM563 59.7h1.3v2.4h-1.3zM565 59.6h1.3v2.4h-1.3zM572 49.5h1.3v2.4h-1.3zM577 47.3h1.3v2.4h-1.3zM577 49.4h1.3v2.4h-1.3zM577 59.9h1.3v2.4h-1.3zM592 47.3h1.3v2.4h-1.3zM596 47.1h1.3v2.4h-1.3zM598 60.4h1.3v2.4h-1.3zM599 46.1h1.3v2.4h-1.3zM601 47.7h1.3v2.4h-1.3zM605 60.7h1.3v2.4h-1.3zM609 59.9h1.3v2.4h-1.3zM615 46.7h1.3v2.4h-1.3zM630 54.5h1.3v2.4h-1.3zM632 54.1h1.3v2.4h-1.3zM633 47.4h1.3v2.4h-1.3zM636 54.5h1.3v2.4h-1.3zM638 54.6h1.3v2.4h-1.3zM642 56.4h1.3v2.4h-1.3zM647 46.2h1.3v2.4h-1.3zM649 46.4h1.3v2.4h-1.3zM652 42.1h1.3v2.4h-1.3zM652 54.7h1.3v2.4h-1.3zM653 39.7h1.3v2.4h-1.3zM653 41.8h1.3v2.4h-1.3zM655 41.6h1.3v2.4h-1.3zM656 43.4h1.3v2.4h-1.3zM658 39h1.3v2.4h-1.3zM667 56.4h1.3v2.4h-1.3zM669 40.5h1.3v2.4h-1.3zM669 55.2h1.3v2.4h-1.3zM670 42.5h1.3v2.4h-1.3zM673 38.6h1.3v2.4h-1.3zM673 42.8h1.3v2.4h-1.3zM673 55.4h1.3v2.4h-1.3zM675 55.7h1.3v2.4h-1.3zM676 55.7h1.3v2.4h-1.3zM678 42.8h1.3v2.4h-1.3z"/>
<path fill="#04e60a" d="M414 59.6h1.3v2.4h-1.3zM418 49.8h1.3v2.4h-1.3zM421 59.6h1.3v2.4h-1.3zM425 48.8h1.3v2.4h-1.3zM429 60.2h1.3v2.4h-1.3zM430 50.4h1.3v2.4h-1.3zM438 48.5h1.3v2.4h-1.3zM440 48.6h1.3v2.4h-1.3zM444 60.4h1.3v2.4h-1.3zM450 49.6h1.3v2.4h-1.3zM450 60.1h1.3v2.4h-1.3zM456 49.9h1.3v2.4h-1.3zM462 49.4h1.3v2.4h-1.3zM477 52.2h1.3v2.4h-1.3zM483 51.7h1.3v2.4h-1.3zM483 62.2h1.3v2.4h-1.3zM487 62.2h1.3v2.4h-1.3zM490 62.1h1.3v2.4h-1.3zM492 62.1h1.3v2.4h-1.3zM495 62h1.3v2.4h-1.3zM498 62.4h1.3v2.4h-1.3zM501 62.4h1.3v2.4h-1.3zM502 61.8h1.3v2.4h-1.3zM504 52h1.3v2.4h-1.3zM505 61.4h1.3v2.4h-1.3zM508 61.9h1.3v2.4h-1.3zM511 51.8h1.3v2.4h-1.3zM515 51.6h1.3v2.4h-1.3zM522 50.9h1.3v2.4h-1.3zM534 61h1.3v2.4h-1.3zM535 61.2h1.3v2.4h-1.3zM536 60.7h1.3v2.4h-1.3zM540 49.8h1.3v2.4h-1.3zM540 60.3h1.3v2.4h-1.3zM541 49.6h1.3v2.4h-1.3zM552 49.3h1.3v2.4h-1.3zM555 49.5h1.3v2.4h-1.3zM557 48.5h1.3v2.4h-1.3zM562 49.7h1.3v2.4h-1.3zM562 60.2h1.3v2.4h-1.3zM568 49.4h1.3v2.4h-1.3zM571 49.6h1.3v2.4h-1.3zM573 49.3h1.3v2.4h-1.3zM575 59.4h1.3v2.4h-1.3zM586 48.7h1.3v2.4h-1.3zM600 46.4h1.3v2.4h-1.3zM601 60.3h1.3v2.4h-1.3zM609 47.3h1.3v2.4h-1.3zM610 46.8h1.3v2.4h-1.3zM611 47.4h1.3v2.4h-1.3zM613 46.9h1.3v2.4h-1.3zM619 47.5h1.3v2.4h-1.3zM619 60.1h1.3v2.4h-1.3zM622 47.8h1.3v2.4h-1.3zM632 47.8h1.3v2.4h-1.3zM634 55.1h1.3v2.4h-1.3zM643 46.6h1.3v2.4h-1.3zM643 55h1.3v2.4h-1.3zM644 47.9h1.3v2.4h-1.3zM650 54.8h1.3v2.4h-1.3zM654 40.3h1.3v2.4h-1.3zM658 55.8h1.3v2.4h-1.3zM660 39.2h1.3v2.4h-1.3zM661 56.9h1.3v2.4h-1.3zM663 42.9h1.3v2.4h-1.3zM664 40.7h1.3v2.4h-1.3zM664 55.4h1.3v2.4h-1.3zM666 40.2h1.3v2.4h-1.3zM670 40.4h1.3v2.4h-1.3zM670 55.1h1.3v2.4h-1.3zM671 39.7h1.3v2.4h-1.3zM671 56.5h1.3v2.4h-1.3zM672 55.2h1.3v2.4h-1.3zM673 40.7h1.3v2.4h-1.3zM678 55.4h1.3v2.4h-1.3zM682 55.8h1.3v2.4h-1.3zM684 41.6h0.9v2.4h-0.9z"/>
<path fill="#19e708" d="M419 59.7h1.3v2.4h-1.3zM435 50.4h1.3v2.4h-1.3zM444 49.9h1.3v2.4h-1.3zM447 50.1h1.3v2.4h-1.3zM454 50.4h1.3v2.4h-1.3zM455 50.6h1.3v2.4h-1.3zM456 60.4h1.3v2.4h-1.3zM466 50h1.3v2.4h-1.3zM476 62.1h1.3v2.4h-1.3zM478 62.1h1.3v2.4h-1.3zM497 62.5h1.3v2.4h-1.3zM499 62.2h1.3v2.4h-1.3zM503 52.3h1.3v2.4h-1.3zM507 52.2h1.3v2.4h-1.3zM509 61.7h1.3v2.4h-1.3zM514 51.8h1.3v2.4h-1.3zM532 50.5h1.3v2.4h-1.3zM534 50.5h1.3v2.4h-1.3zM538 60.4h1.3v2.4h-1.3zM544 59h1.3v2.4h-1.3zM550 59.5h1.3v2.4h-1.3zM561 50.1h1.3v2.4h-1.3zM564 49.9h1.3v2.4h-1.3zM576 49.3h1.3v2.4h-1.3zM587 49.2h1.3v2.4h-1.3zM587 59.7h1.3v2.4h-1.3zM595 47.1h1.3v2.4h-1.3zM608 47.4h1.3v2.4h-1.3zM611 60h1.3v2.4h-1.3zM614 47h1.3v2.4h-1.3zM617 47.2h1.3v2.4h-1.3zM620 46.7h1.3v2.4h-1.3zM625 47.3h1.3v2.4h-1.3zM625 59.9h1.3v2.4h-1.3zM628 47.2h1.3v2.4h-1.3zM635 47.6h1.3v2.4h-1.3zM638 48.3h1.3v2.4h-1.3zM644 54.2h1.3v2.4h-1.3zM646 46.9h1.3v2.4h-1.3zM647 54.6h1.3v2.4h-1.3zM648 54.4h1.3v2.4h-1.3zM649 54.8h1.3v2.4h-1.3zM651 53.6h1.3v2.4h-1.3zM652 44.2h1.3v2.4h-1.3zM654 55h1.3v2.4h-1.3zM655 56.3h1.3v2.4h-1.3zM658 43.2h1.3v2.4h-1.3zM660 56h1.3v2.4h-1.3zM662 40.8h1.3v2.4h-1.3zM665 40.3h1.3v2.4h-1.3zM665 55h1.3v2.4h-1.3zM666 54.9h1.3v2.4h-1.3zM667 39.6h1.3v2.4h-1.3zM668 40.5h1.3v2.4h-1.3zM668 55.2h1.3v2.4h-1.3zM671 54.4h1.3v2.4h-1.3zM672 40.5h1.3v2.4h-1.3zM674 54.6h1.3v2.4h-1.3zM677 54.6h1.3v2.4h-1.3zM680 54.4h1.3v2.4h-1.3z"/>
<path fill="#2ee807" d="M412 59.2h1.3v2.4h-1.3zM428 50.7h1.3v2.4h-1.3zM436 50.3h1.3v2.4h-1.3zM441 50.1h1.3v2.4h-1.3zM452 59.8h1.3v2.4h-1.3zM453 50.4h1.3v2.4h-1.3zM470 50.2h1.3v2.4h-1.3zM482 62.3h1.3v2.4h-1.3zM489 62.2h1.3v2.4h-1.3zM508 51.4h1.3v2.4h-1.3zM523 51.6h1.3v2.4h-1.3zM545 49.8h1.3v2.4h-1.3zM554 58.9h1.3v2.4h-1.3zM574 48.6h1.3v2.4h-1.3zM575 48.9h1.3v2.4h-1.3zM583 59.7h1.3v2.4h-1.3zM588 48.3h1.3v2.4h-1.3zM590 59.6h1.3v2.4h-1.3zM592 59.9h1.3v2.4h-1.3zM596 59.7h1.3v2.4h-1.3zM598 47.8h1.3v2.4h-1.3zM602 59.4h1.3v2.4h-1.3zM607 47.3h1.3v2.4h-1.3zM607 59.9h1.3v2.4h-1.3zM614 59.6h1.3v2.4h-1.3zM617 59.8h1.3v2.4h-1.3zM623 46.9h1.3v2.4h-1.3zM626 47.1h1.3v2.4h-1.3zM630 48.2h1.3v2.4h-1.3zM633 53.7h1.3v2.4h-1.3zM636 48.2h1.3v2.4h-1.3zM641 48.4h1.3v2.4h-1.3zM642 54.3h1.3v2.4h-1.3zM645 47.7h1.3v2.4h-1.3zM646 53.2h1.3v2.4h-1.3zM648 48.1h1.3v2.4h-1.3zM650 46.4h1.3v2.4h-1.3zM651 43.1h1.3v2.4h-1.3zM657 40.8h1.3v2.4h-1.3zM659 40.7h1.3v2.4h-1.3zM659 53.3h1.3v2.4h-1.3zM660 43.4h1.3v2.4h-1.3zM661 40.1h1.3v2.4h-1.3zM662 55.5h1.3v2.4h-1.3zM663 40.8h1.3v2.4h-1.3zM663 55.5h1.3v2.4h-1.3zM665 44.5h1.3v2.4h-1.3zM683 40.9h1.3v2.4h-1.3zM683 43h1.3v2.4h-1.3zM683 55.6h1.3v2.4h-1.3z"/>
<path fill="#43e806" d="M422 50.4h1.3v2.4h-1.3zM422 58.8h1.3v2.4h-1.3zM431 50.7h1.3v2.4h-1.3zM439 49.8h1.3v2.4h-1.3zM442 50.1h1.3v2.4h-1.3zM446 50.7h1.3v2.4h-1.3zM448 50.6h1.3v2.4h-1.3zM458 59.7h1.3v2.4h-1.3zM460 50.4h1.3v2.4h-1.3zM465 59.5h1.3v2.4h-1.3zM468 50.6h1.3v2.4h-1.3zM469 50.4h1.3v2.4h-1.3zM480 61.3h1.3v2.4h-1.3zM491 52.8h1.3v2.4h-1.3zM517 52.4h1.3v2.4h-1.3zM524 51.6h1.3v2.4h-1.3zM530 60.9h1.3v2.4h-1.3zM539 59.5h1.3v2.4h-1.3zM542 50.1h1.3v2.4h-1.3zM557 59h1.3v2.4h-1.3zM574 59.1h1.3v2.4h-1.3zM581 59.3h1.3v2.4h-1.3zM597 47.9h1.3v2.4h-1.3zM603 48.2h1.3v2.4h-1.3zM604 48h1.3v2.4h-1.3zM605 48.1h1.3v2.4h-1.3zM610 59.4h1.3v2.4h-1.3zM612 48h1.3v2.4h-1.3zM626 53.4h1.3v2.4h-1.3zM627 47.2h1.3v2.4h-1.3zM635 53.9h1.3v2.4h-1.3zM637 49.2h1.3v2.4h-1.3zM637 53.4h1.3v2.4h-1.3zM642 48h1.3v2.4h-1.3zM643 48.7h1.3v2.4h-1.3zM645 54h1.3v2.4h-1.3zM646 49h1.3v2.4h-1.3zM651 45.2h1.3v2.4h-1.3zM653 54.4h1.3v2.4h-1.3zM655 39.5h1.3v2.4h-1.3zM662 53.4h1.3v2.4h-1.3zM671 43.9h1.3v2.4h-1.3zM677 44.1h1.3v2.4h-1.3zM681 53.9h1.3v2.4h-1.3z"/>
<path fill="#58e904" d="M416 50.6h1.3v2.4h-1.3zM424 50.6h1.3v2.4h-1.3zM424 59h1.3v2.4h-1.3zM425 59.3h1.3v2.4h-1.3zM426 59.1h1.3v2.4h-1.3zM449 59.6h1.3v2.4h-1.3zM457 50.5h1.3v2.4h-1.3zM459 59.4h1.3v2.4h-1.3zM464 50.3h1.3v2.4h-1.3zM471 59.4h1.3v2.4h-1.3zM486 52.7h1.3v2.4h-1.3zM488 52.6h1.3v2.4h-1.3zM493 61.4h1.3v2.4h-1.3zM494 61.5h1.3v2.4h-1.3zM506 52.7h1.3v2.4h-1.3zM506 61.1h1.3v2.4h-1.3zM510 52.6h1.3v2.4h-1.3zM513 61.2h1.3v2.4h-1.3zM520 61.8h1.3v2.4h-1.3zM532 61h1.3v2.4h-1.3zM537 59.7h1.3v2.4h-1.3zM547 50h1.3v2.4h-1.3zM567 50.2h1.3v2.4h-1.3zM567 58.6h1.3v2.4h-1.3zM569 58.7h1.3v2.4h-1.3zM589 48.2h1.3v2.4h-1.3zM594 47.9h1.3v2.4h-1.3zM608 60h1.3v2.4h-1.3zM613 59.5h1.3v2.4h-1.3zM615 59.3h1.3v2.4h-1.3zM616 59.1h1.3v2.4h-1.3zM618 48.1h1.3v2.4h-1.3zM621 48h1.3v2.4h-1.3zM624 59.6h1.3v2.4h-1.3zM627 53.5h1.3v2.4h-1.3zM629 48.5h1.3v2.4h-1.3zM631 48.8h1.3v2.4h-1.3zM631 50.9h1.3v2.4h-1.3zM631 53h1.3v2.4h-1.3zM633 49.5h1.3v2.4h-1.3zM640 48.8h1.3v2.4h-1.3zM640 53h1.3v2.4h-1.3zM641 52.6h1.3v2.4h-1.3zM647 48.3h1.3v2.4h-1.3zM647 52.5h1.3v2.4h-1.3zM653 43.9h1.3v2.4h-1.3zM654 44.5h1.3v2.4h-1.3zM657 55.5h1.3v2.4h-1.3zM659 55.4h1.3v2.4h-1.3zM664 44.9h1.3v2.4h-1.3zM669 44.7h1.3v2.4h-1.3zM670 44.6h1.3v2.4h-1.3zM675 53.6h1.3v2.4h-1.3zM676 53.6h1.3v2.4h-1.3zM679 53.8h1.3v2.4h-1.3zM680 48.1h1.3v2.4h-1.3zM681 43.4h1.3v2.4h-1.3zM681 45.5h1.3v2.4h-1.3zM682 43.2h1.3v2.4h-1.3zM682 53.7h1.3v2.4h-1.3zM684 54.2h0.9v2.4h-0.9z"/>
<path fill="#6cea03" d="M410 50.7h1.3v2.4h-1.3zM410 59.1h1.3v2.4h-1.3zM415 59.1h1.3v2.4h-1.3zM417 59.3h1.3v2.4h-1.3zM426 50.7h1.3v2.4h-1.3zM428 59.1h1.3v2.4h-1.3zM433 50.7h1.3v2.4h-1.3zM437 50.6h1.3v2.4h-1.3zM443 50.6h1.3v2.4h-1.3zM443 59h1.3v2.4h-1.3zM463 59.2h1.3v2.4h-1.3zM468 59h1.3v2.4h-1.3zM475 61.3h1.3v2.4h-1.3zM484 52.8h1.3v2.4h-1.3zM491 61.2h1.3v2.4h-1.3zM493 53h1.3v2.4h-1.3zM496 61.6h1.3v2.4h-1.3zM513 52.8h1.3v2.4h-1.3zM521 52.8h1.3v2.4h-1.3zM535 50.7h1.3v2.4h-1.3zM549 50.1h1.3v2.4h-1.3zM551 50.3h1.3v2.4h-1.3zM561 58.5h1.3v2.4h-1.3zM582 50.3h1.3v2.4h-1.3zM585 59h1.3v2.4h-1.3zM586 59.2h1.3v2.4h-1.3zM599 48.2h1.3v2.4h-1.3zM606 59.2h1.3v2.4h-1.3zM620 59.3h1.3v2.4h-1.3zM628 53.5h1.3v2.4h-1.3zM629 50.6h1.3v2.4h-1.3zM632 49.9h1.3v2.4h-1.3zM636 50.3h1.3v2.4h-1.3zM639 48.6h1.3v2.4h-1.3zM640 50.9h1.3v2.4h-1.3zM641 50.5h1.3v2.4h-1.3zM643 52.9h1.3v2.4h-1.3zM644 52.1h1.3v2.4h-1.3zM645 51.9h1.3v2.4h-1.3zM648 52.3h1.3v2.4h-1.3zM649 48.5h1.3v2.4h-1.3zM652 46.3h1.3v2.4h-1.3zM652 48.4h1.3v2.4h-1.3zM656 47.6h1.3v2.4h-1.3zM656 53.9h1.3v2.4h-1.3zM657 45h1.3v2.4h-1.3zM657 53.4h1.3v2.4h-1.3zM658 51.6h1.3v2.4h-1.3zM659 44.9h1.3v2.4h-1.3zM661 44.3h1.3v2.4h-1.3zM663 45h1.3v2.4h-1.3zM663 53.4h1.3v2.4h-1.3zM664 51.2h1.3v2.4h-1.3zM664 53.3h1.3v2.4h-1.3zM666 44.4h1.3v2.4h-1.3zM667 43.8h1.3v2.4h-1.3zM667 54.3h1.3v2.4h-1.3zM668 44.7h1.3v2.4h-1.3zM672 44.7h1.3v2.4h-1.3zM677 50.4h1.3v2.4h-1.3zM678 53.3h1.3v2.4h-1.3zM679 47.5h1.3v2.4h-1.3zM680 43.9h1.3v2.4h-1.3zM682 45.3h1.3v2.4h-1.3zM684 43.7h0.9v2.4h-0.9z"/>
<path fill="#81ea01" d="M411 50.3h1.3v2.4h-1.3zM412 50.8h1.3v2.4h-1.3zM415 50.7h1.3v2.4h-1.3zM416 59h1.3v2.4h-1.3zM417 50.9h1.3v2.4h-1.3zM438 50.6h1.3v2.4h-1.3zM446 59.1h1.3v2.4h-1.3zM455 59h1.3v2.4h-1.3zM467 50.7h1.3v2.4h-1.3zM475 52.9h1.3v2.4h-1.3zM480 52.9h1.3v2.4h-1.3zM481 61.2h1.3v2.4h-1.3zM486 61.1h1.3v2.4h-1.3zM505 53h1.3v2.4h-1.3zM510 61h1.3v2.4h-1.3zM518 52.8h1.3v2.4h-1.3zM519 52.8h1.3v2.4h-1.3zM521 61.2h1.3v2.4h-1.3zM527 51.9h1.3v2.4h-1.3zM528 60.6h1.3v2.4h-1.3zM529 52.1h1.3v2.4h-1.3zM529 60.5h1.3v2.4h-1.3zM533 60h1.3v2.4h-1.3zM537 51.3h1.3v2.4h-1.3zM539 51.1h1.3v2.4h-1.3zM542 58.5h1.3v2.4h-1.3zM559 58.2h1.3v2.4h-1.3zM588 58.8h1.3v2.4h-1.3zM595 59.7h1.3v2.4h-1.3zM603 58.7h1.3v2.4h-1.3zM623 59.5h1.3v2.4h-1.3zM626 51.3h1.3v2.4h-1.3zM627 51.4h1.3v2.4h-1.3zM628 51.4h1.3v2.4h-1.3zM629 52.7h1.3v2.4h-1.3zM634 48.8h1.3v2.4h-1.3zM635 49.7h1.3v2.4h-1.3zM637 51.3h1.3v2.4h-1.3zM638 50.4h1.3v2.4h-1.3zM644 50h1.3v2.4h-1.3zM647 50.4h1.3v2.4h-1.3zM650 48.5h1.3v2.4h-1.3zM652 52.6h1.3v2.4h-1.3zM654 46.6h1.3v2.4h-1.3zM654 50.8h1.3v2.4h-1.3zM654 52.9h1.3v2.4h-1.3zM656 45.5h1.3v2.4h-1.3zM659 51.2h1.3v2.4h-1.3zM660 51.8h1.3v2.4h-1.3zM661 52.7h1.3v2.4h-1.3zM661 54.8h1.3v2.4h-1.3zM662 47.1h1.3v2.4h-1.3zM664 49.1h1.3v2.4h-1.3zM665 48.7h1.3v2.4h-1.3zM665 50.8h1.3v2.4h-1.3zM666 48.6h1.3v2.4h-1.3zM668 46.8h1.3v2.4h-1.3zM673 47h1.3v2.4h-1.3zM674 44.1h1.3v2.4h-1.3zM676 51.5h1.3v2.4h-1.3zM677 48.3h1.3v2.4h-1.3zM678 47h1.3v2.4h-1.3zM678 49.1h1.3v2.4h-1.3zM678 51.2h1.3v2.4h-1.3zM679 43.3h1.3v2.4h-1.3zM679 45.4h1.3v2.4h-1.3zM680 46h1.3v2.4h-1.3zM681 47.6h1.3v2.4h-1.3zM684 45.8h0.9v2.4h-0.9z"/>
<path fill="#96eb00" d="M423 51.1h1.3v2.4h-1.3zM425 50.9h1.3v2.4h-1.3zM430 58.8h1.3v2.4h-1.3zM434 50.8h1.3v2.4h-1.3zM440 50.7h1.3v2.4h-1.3zM451 50.7h1.3v2.4h-1.3zM457 58.9h1.3v2.4h-1.3zM459 51h1.3v2.4h-1.3zM467 59.1h1.3v2.4h-1.3zM471 51h1.3v2.4h-1.3zM481 52.8h1.3v2.4h-1.3zM494 53.1h1.3v2.4h-1.3zM500 53.3h1.3v2.4h-1.3zM522 61.4h1.3v2.4h-1.3zM525 60.7h1.3v2.4h-1.3zM527 60.3h1.3v2.4h-1.3zM528 52.2h1.3v2.4h-1.3zM530 52.5h1.3v2.4h-1.3zM531 60.6h1.3v2.4h-1.3zM544 50.6h1.3v2.4h-1.3zM546 50h1.3v2.4h-1.3zM547 58.4h1.3v2.4h-1.3zM551 58.7h1.3v2.4h-1.3zM571 58h1.3v2.4h-1.3zM582 58.7h1.3v2.4h-1.3zM584 59h1.3v2.4h-1.3zM589 58.7h1.3v2.4h-1.3zM600 48.5h1.3v2.4h-1.3zM618 56.5h1.3v2.4h-1.3zM619 55.9h1.3v2.4h-1.3zM620 57.2h1.3v2.4h-1.3zM626 49.2h1.3v2.4h-1.3zM627 49.3h1.3v2.4h-1.3zM630 50.3h1.3v2.4h-1.3zM630 52.4h1.3v2.4h-1.3zM632 52h1.3v2.4h-1.3zM633 51.6h1.3v2.4h-1.3zM634 50.9h1.3v2.4h-1.3zM639 50.7h1.3v2.4h-1.3zM642 52.2h1.3v2.4h-1.3zM646 51.1h1.3v2.4h-1.3zM648 50.2h1.3v2.4h-1.3zM649 52.7h1.3v2.4h-1.3zM650 50.6h1.3v2.4h-1.3zM650 52.7h1.3v2.4h-1.3zM651 47.3h1.3v2.4h-1.3zM651 49.4h1.3v2.4h-1.3zM651 51.5h1.3v2.4h-1.3zM652 50.5h1.3v2.4h-1.3zM653 46h1.3v2.4h-1.3zM654 48.7h1.3v2.4h-1.3zM655 43.7h1.3v2.4h-1.3zM659 49.1h1.3v2.4h-1.3zM660 49.7h1.3v2.4h-1.3zM662 45h1.3v2.4h-1.3zM663 51.3h1.3v2.4h-1.3zM665 46.6h1.3v2.4h-1.3zM665 52.9h1.3v2.4h-1.3zM666 46.5h1.3v2.4h-1.3zM668 48.9h1.3v2.4h-1.3zM668 51h1.3v2.4h-1.3zM669 46.8h1.3v2.4h-1.3zM670 46.7h1.3v2.4h-1.3zM671 46h1.3v2.4h-1.3zM672 46.8h1.3v2.4h-1.3zM673 44.9h1.3v2.4h-1.3zM673 51.2h1.3v2.4h-1.3zM674 48.3h1.3v2.4h-1.3zM675 45.2h1.3v2.4h-1.3zM675 47.3h1.3v2.4h-1.3zM675 51.5h1.3v2.4h-1.3zM676 45.2h1.3v2.4h-1.3zM676 47.3h1.3v2.4h-1.3zM677 46.2h1.3v2.4h-1.3zM677 52.5h1.3v2.4h-1.3zM680 50.2h1.3v2.4h-1.3zM681 49.7h1.3v2.4h-1.3zM682 47.4h1.3v2.4h-1.3zM682 49.5h1.3v2.4h-1.3zM684 47.9h0.9v2.4h-0.9z"/>
<path fill="#a9ef00" d="M413 58.2h1.3v2.4h-1.3zM448 59h1.3v2.4h-1.3zM449 51.2h1.3v2.4h-1.3zM451 59.1h1.3v2.4h-1.3zM454 58.8h1.3v2.4h-1.3zM488 61h1.3v2.4h-1.3zM490 53.7h1.3v2.4h-1.3zM502 53.4h1.3v2.4h-1.3zM503 60.7h1.3v2.4h-1.3zM509 53.3h1.3v2.4h-1.3zM522 53h1.3v2.4h-1.3zM525 52.3h1.3v2.4h-1.3zM531 52.2h1.3v2.4h-1.3zM533 51.6h1.3v2.4h-1.3zM534 58.9h1.3v2.4h-1.3zM554 50.5h1.3v2.4h-1.3zM557 50.6h1.3v2.4h-1.3zM560 50.9h1.3v2.4h-1.3zM564 58.3h1.3v2.4h-1.3zM590 57.5h1.3v2.4h-1.3zM594 50h1.3v2.4h-1.3zM602 48.9h1.3v2.4h-1.3zM603 50.3h1.3v2.4h-1.3zM605 50.2h1.3v2.4h-1.3zM616 48.6h1.3v2.4h-1.3zM616 57h1.3v2.4h-1.3zM617 57.7h1.3v2.4h-1.3zM621 56.4h1.3v2.4h-1.3zM622 56.2h1.3v2.4h-1.3zM622 58.3h1.3v2.4h-1.3zM624 49.1h1.3v2.4h-1.3zM624 55.4h1.3v2.4h-1.3zM624 57.5h1.3v2.4h-1.3zM628 49.3h1.3v2.4h-1.3zM636 52.4h1.3v2.4h-1.3zM638 52.5h1.3v2.4h-1.3zM643 50.8h1.3v2.4h-1.3zM645 49.8h1.3v2.4h-1.3zM653 48.1h1.3v2.4h-1.3zM653 50.2h1.3v2.4h-1.3zM653 52.3h1.3v2.4h-1.3zM655 54.2h1.3v2.4h-1.3zM656 51.8h1.3v2.4h-1.3zM657 47.1h1.3v2.4h-1.3zM658 47.4h1.3v2.4h-1.3zM660 47.6h1.3v2.4h-1.3zM661 50.6h1.3v2.4h-1.3zM662 49.2h1.3v2.4h-1.3zM662 51.3h1.3v2.4h-1.3zM663 47.1h1.3v2.4h-1.3zM663 49.2h1.3v2.4h-1.3zM664 47h1.3v2.4h-1.3zM666 50.7h1.3v2.4h-1.3zM667 45.9h1.3v2.4h-1.3zM668 53.1h1.3v2.4h-1.3zM669 48.9h1.3v2.4h-1.3zM669 53.1h1.3v2.4h-1.3zM670 48.8h1.3v2.4h-1.3zM672 51h1.3v2.4h-1.3zM672 53.1h1.3v2.4h-1.3zM673 53.3h1.3v2.4h-1.3zM674 46.2h1.3v2.4h-1.3zM674 50.4h1.3v2.4h-1.3zM675 49.4h1.3v2.4h-1.3zM676 49.4h1.3v2.4h-1.3zM678 44.9h1.3v2.4h-1.3zM679 49.6h1.3v2.4h-1.3zM679 51.7h1.3v2.4h-1.3zM680 52.3h1.3v2.4h-1.3zM683 47.2h1.3v2.4h-1.3zM684 50h0.9v2.4h-0.9z"/>
<path fill="#bcf200" d="M414 51.2h1.3v2.4h-1.3zM431 59.1h1.3v2.4h-1.3zM440 59.1h1.3v2.4h-1.3zM453 58.8h1.3v2.4h-1.3zM458 51.3h1.3v2.4h-1.3zM460 58.8h1.3v2.4h-1.3zM463 50.8h1.3v2.4h-1.3zM469 58.8h1.3v2.4h-1.3zM477 60.6h1.3v2.4h-1.3zM479 53.5h1.3v2.4h-1.3zM484 61.2h1.3v2.4h-1.3zM492 53.7h1.3v2.4h-1.3zM495 53.6h1.3v2.4h-1.3zM496 53.2h1.3v2.4h-1.3zM520 53.4h1.3v2.4h-1.3zM530 58.8h1.3v2.4h-1.3zM532 58.9h1.3v2.4h-1.3zM535 59.1h1.3v2.4h-1.3zM536 52.3h1.3v2.4h-1.3zM541 51.7h1.3v2.4h-1.3zM546 58.4h1.3v2.4h-1.3zM549 58.5h1.3v2.4h-1.3zM550 51.1h1.3v2.4h-1.3zM556 57.9h1.3v2.4h-1.3zM569 50.3h1.3v2.4h-1.3zM572 57.9h1.3v2.4h-1.3zM575 51h1.3v2.4h-1.3zM579 51.1h1.3v2.4h-1.3zM584 50.6h1.3v2.4h-1.3zM590 49.1h1.3v2.4h-1.3zM596 51.3h1.3v2.4h-1.3zM600 59h1.3v2.4h-1.3zM601 49.8h1.3v2.4h-1.3zM604 50.1h1.3v2.4h-1.3zM605 58.6h1.3v2.4h-1.3zM606 48.7h1.3v2.4h-1.3zM607 49.4h1.3v2.4h-1.3zM609 57.8h1.3v2.4h-1.3zM610 48.9h1.3v2.4h-1.3zM612 58.5h1.3v2.4h-1.3zM613 57.4h1.3v2.4h-1.3zM614 49.1h1.3v2.4h-1.3zM614 57.5h1.3v2.4h-1.3zM615 57.2h1.3v2.4h-1.3zM620 48.8h1.3v2.4h-1.3zM634 53h1.3v2.4h-1.3zM635 51.8h1.3v2.4h-1.3zM639 52.8h1.3v2.4h-1.3zM642 50.1h1.3v2.4h-1.3zM649 50.6h1.3v2.4h-1.3zM656 49.7h1.3v2.4h-1.3zM657 49.2h1.3v2.4h-1.3zM658 45.3h1.3v2.4h-1.3zM658 49.5h1.3v2.4h-1.3zM658 53.7h1.3v2.4h-1.3zM659 47h1.3v2.4h-1.3zM661 46.4h1.3v2.4h-1.3zM661 48.5h1.3v2.4h-1.3zM666 52.8h1.3v2.4h-1.3zM667 48h1.3v2.4h-1.3zM667 50.1h1.3v2.4h-1.3zM670 53h1.3v2.4h-1.3zM671 48.1h1.3v2.4h-1.3zM672 48.9h1.3v2.4h-1.3zM673 49.1h1.3v2.4h-1.3zM674 52.5h1.3v2.4h-1.3zM681 51.8h1.3v2.4h-1.3z"/>
<path fill="#cef600" d="M411 58.7h1.3v2.4h-1.3zM420 57.8h1.3v2.4h-1.3zM427 58.3h1.3v2.4h-1.3zM433 59.1h1.3v2.4h-1.3zM434 59.2h1.3v2.4h-1.3zM445 58.6h1.3v2.4h-1.3zM461 58.2h1.3v2.4h-1.3zM464 58.7h1.3v2.4h-1.3zM465 51.1h1.3v2.4h-1.3zM470 58.6h1.3v2.4h-1.3zM485 60.4h1.3v2.4h-1.3zM487 53.8h1.3v2.4h-1.3zM498 54h1.3v2.4h-1.3zM500 59.6h1.3v2.4h-1.3zM501 60.3h1.3v2.4h-1.3zM504 60.4h1.3v2.4h-1.3zM507 60.6h1.3v2.4h-1.3zM516 60.4h1.3v2.4h-1.3zM518 61.2h1.3v2.4h-1.3zM519 61.2h1.3v2.4h-1.3zM526 53h1.3v2.4h-1.3zM536 58.6h1.3v2.4h-1.3zM538 52h1.3v2.4h-1.3zM538 58.3h1.3v2.4h-1.3zM543 51.4h1.3v2.4h-1.3zM545 58.2h1.3v2.4h-1.3zM558 58h1.3v2.4h-1.3zM562 58.1h1.3v2.4h-1.3zM568 57.8h1.3v2.4h-1.3zM574 50.7h1.3v2.4h-1.3zM576 57.7h1.3v2.4h-1.3zM578 51.1h1.3v2.4h-1.3zM580 51.1h1.3v2.4h-1.3zM585 50.6h1.3v2.4h-1.3zM589 50.3h1.3v2.4h-1.3zM590 51.2h1.3v2.4h-1.3zM591 48.2h1.3v2.4h-1.3zM591 50.3h1.3v2.4h-1.3zM592 57.8h1.3v2.4h-1.3zM593 48.1h1.3v2.4h-1.3zM593 50.2h1.3v2.4h-1.3zM594 54.2h1.3v2.4h-1.3zM596 57.6h1.3v2.4h-1.3zM599 58.7h1.3v2.4h-1.3zM602 51h1.3v2.4h-1.3zM602 57.3h1.3v2.4h-1.3zM603 56.6h1.3v2.4h-1.3zM604 58.5h1.3v2.4h-1.3zM606 50.8h1.3v2.4h-1.3zM607 57.8h1.3v2.4h-1.3zM609 49.4h1.3v2.4h-1.3zM610 55.2h1.3v2.4h-1.3zM610 57.3h1.3v2.4h-1.3zM613 49h1.3v2.4h-1.3zM618 58.6h1.3v2.4h-1.3zM619 49.6h1.3v2.4h-1.3zM619 58h1.3v2.4h-1.3zM621 58.5h1.3v2.4h-1.3zM622 49.9h1.3v2.4h-1.3zM622 54.1h1.3v2.4h-1.3zM623 49h1.3v2.4h-1.3zM623 57.4h1.3v2.4h-1.3zM625 53.6h1.3v2.4h-1.3zM655 47.9h1.3v2.4h-1.3zM655 50h1.3v2.4h-1.3zM657 51.3h1.3v2.4h-1.3zM660 45.5h1.3v2.4h-1.3zM660 53.9h1.3v2.4h-1.3zM669 51h1.3v2.4h-1.3zM671 52.3h1.3v2.4h-1.3zM682 51.6h1.3v2.4h-1.3zM683 49.3h1.3v2.4h-1.3zM683 51.4h1.3v2.4h-1.3zM683 53.5h1.3v2.4h-1.3z"/>
<path fill="#e1f900" d="M418 58.2h1.3v2.4h-1.3zM419 51.3h1.3v2.4h-1.3zM420 51.5h1.3v2.4h-1.3zM421 51.2h1.3v2.4h-1.3zM429 51.8h1.3v2.4h-1.3zM429 58.1h1.3v2.4h-1.3zM432 58.5h1.3v2.4h-1.3zM435 58.8h1.3v2.4h-1.3zM437 59h1.3v2.4h-1.3zM438 59h1.3v2.4h-1.3zM444 52h1.3v2.4h-1.3zM447 58.5h1.3v2.4h-1.3zM452 51.4h1.3v2.4h-1.3zM458 57.6h1.3v2.4h-1.3zM462 51.5h1.3v2.4h-1.3zM466 58.4h1.3v2.4h-1.3zM485 54.1h1.3v2.4h-1.3zM489 53.8h1.3v2.4h-1.3zM490 60h1.3v2.4h-1.3zM492 60h1.3v2.4h-1.3zM495 59.9h1.3v2.4h-1.3zM497 54.1h1.3v2.4h-1.3zM498 60.3h1.3v2.4h-1.3zM508 53.5h1.3v2.4h-1.3zM511 60.2h1.3v2.4h-1.3zM512 53.6h1.3v2.4h-1.3zM514 60.2h1.3v2.4h-1.3zM526 59.3h1.3v2.4h-1.3zM531 58.5h1.3v2.4h-1.3zM533 57.9h1.3v2.4h-1.3zM534 52.6h1.3v2.4h-1.3zM548 51.3h1.3v2.4h-1.3zM548 57.6h1.3v2.4h-1.3zM552 51.4h1.3v2.4h-1.3zM553 57.9h1.3v2.4h-1.3zM563 51.3h1.3v2.4h-1.3zM576 51.4h1.3v2.4h-1.3zM577 57.8h1.3v2.4h-1.3zM581 50.9h1.3v2.4h-1.3zM592 51.5h1.3v2.4h-1.3zM592 55.7h1.3v2.4h-1.3zM594 56.3h1.3v2.4h-1.3zM596 49.2h1.3v2.4h-1.3zM596 53.4h1.3v2.4h-1.3zM596 55.5h1.3v2.4h-1.3zM597 50h1.3v2.4h-1.3zM598 49.9h1.3v2.4h-1.3zM600 50.6h1.3v2.4h-1.3zM601 58.2h1.3v2.4h-1.3zM603 54.5h1.3v2.4h-1.3zM608 49.5h1.3v2.4h-1.3zM608 57.9h1.3v2.4h-1.3zM609 55.7h1.3v2.4h-1.3zM611 49.5h1.3v2.4h-1.3zM611 57.9h1.3v2.4h-1.3zM612 56.4h1.3v2.4h-1.3zM615 48.8h1.3v2.4h-1.3zM622 52h1.3v2.4h-1.3zM624 51.2h1.3v2.4h-1.3zM624 53.3h1.3v2.4h-1.3zM625 49.4h1.3v2.4h-1.3zM625 51.5h1.3v2.4h-1.3zM655 45.8h1.3v2.4h-1.3zM655 52.1h1.3v2.4h-1.3zM670 50.9h1.3v2.4h-1.3zM671 50.2h1.3v2.4h-1.3zM683 45.1h1.3v2.4h-1.3z"/>
<path fill="#f4fd00" d="M419 57.6h1.3v2.4h-1.3zM422 52.5h1.3v2.4h-1.3zM427 52h1.3v2.4h-1.3zM439 51.9h1.3v2.4h-1.3zM442 52.2h1.3v2.4h-1.3zM442 58.5h1.3v2.4h-1.3zM445 52.3h1.3v2.4h-1.3zM461 51.9h1.3v2.4h-1.3zM472 54h1.3v2.4h-1.3zM472 60.3h1.3v2.4h-1.3zM473 60.3h1.3v2.4h-1.3zM478 60h1.3v2.4h-1.3zM482 53.9h1.3v2.4h-1.3zM483 53.8h1.3v2.4h-1.3zM487 60.1h1.3v2.4h-1.3zM489 60.1h1.3v2.4h-1.3zM497 60.4h1.3v2.4h-1.3zM508 59.8h1.3v2.4h-1.3zM509 59.6h1.3v2.4h-1.3zM511 53.9h1.3v2.4h-1.3zM512 59.9h1.3v2.4h-1.3zM517 60.8h1.3v2.4h-1.3zM540 51.9h1.3v2.4h-1.3zM540 58.2h1.3v2.4h-1.3zM541 58h1.3v2.4h-1.3zM542 52.2h1.3v2.4h-1.3zM566 51.2h1.3v2.4h-1.3zM570 57.7h1.3v2.4h-1.3zM573 57.7h1.3v2.4h-1.3zM578 57.4h1.3v2.4h-1.3zM579 57.4h1.3v2.4h-1.3zM580 57.4h1.3v2.4h-1.3zM583 51.3h1.3v2.4h-1.3zM583 57.6h1.3v2.4h-1.3zM586 50.8h1.3v2.4h-1.3zM588 50.4h1.3v2.4h-1.3zM591 56.6h1.3v2.4h-1.3zM593 54.4h1.3v2.4h-1.3zM594 52.1h1.3v2.4h-1.3zM595 51.3h1.3v2.4h-1.3zM595 57.6h1.3v2.4h-1.3zM597 54.2h1.3v2.4h-1.3zM597 58.4h1.3v2.4h-1.3zM598 52h1.3v2.4h-1.3zM598 58.3h1.3v2.4h-1.3zM599 50.3h1.3v2.4h-1.3zM600 54.8h1.3v2.4h-1.3zM601 54h1.3v2.4h-1.3zM602 55.2h1.3v2.4h-1.3zM609 51.5h1.3v2.4h-1.3zM611 53.7h1.3v2.4h-1.3zM611 55.8h1.3v2.4h-1.3zM612 52.2h1.3v2.4h-1.3zM618 50.2h1.3v2.4h-1.3zM618 54.4h1.3v2.4h-1.3zM619 51.7h1.3v2.4h-1.3zM619 53.8h1.3v2.4h-1.3zM621 54.3h1.3v2.4h-1.3zM623 55.3h1.3v2.4h-1.3zM667 52.2h1.3v2.4h-1.3zM684 52.1h0.9v2.4h-0.9z"/>
<path fill="#fffa00" d="M413 51.9h1.3v2.4h-1.3zM418 51.9h1.3v2.4h-1.3zM432 52.2h1.3v2.4h-1.3zM436 58.7h1.3v2.4h-1.3zM441 52.2h1.3v2.4h-1.3zM441 58.5h1.3v2.4h-1.3zM443 52.7h1.3v2.4h-1.3zM444 58.3h1.3v2.4h-1.3zM446 52.8h1.3v2.4h-1.3zM452 57.7h1.3v2.4h-1.3zM455 52.7h1.3v2.4h-1.3zM455 56.9h1.3v2.4h-1.3zM456 58.3h1.3v2.4h-1.3zM462 57.8h1.3v2.4h-1.3zM466 52.1h1.3v2.4h-1.3zM473 54h1.3v2.4h-1.3zM474 60.2h1.3v2.4h-1.3zM476 60h1.3v2.4h-1.3zM478 53.7h1.3v2.4h-1.3zM479 59.8h1.3v2.4h-1.3zM482 60.2h1.3v2.4h-1.3zM499 53.8h1.3v2.4h-1.3zM501 54h1.3v2.4h-1.3zM502 59.7h1.3v2.4h-1.3zM524 60h1.3v2.4h-1.3zM529 58.4h1.3v2.4h-1.3zM535 52.8h1.3v2.4h-1.3zM543 57.7h1.3v2.4h-1.3zM555 57.9h1.3v2.4h-1.3zM565 51.2h1.3v2.4h-1.3zM573 51.4h1.3v2.4h-1.3zM591 58.7h1.3v2.4h-1.3zM593 56.5h1.3v2.4h-1.3zM593 58.6h1.3v2.4h-1.3zM594 58.4h1.3v2.4h-1.3zM597 52.1h1.3v2.4h-1.3zM597 56.3h1.3v2.4h-1.3zM598 54.1h1.3v2.4h-1.3zM598 56.2h1.3v2.4h-1.3zM599 52.4h1.3v2.4h-1.3zM601 56.1h1.3v2.4h-1.3zM603 52.4h1.3v2.4h-1.3zM604 56.4h1.3v2.4h-1.3zM605 52.3h1.3v2.4h-1.3zM605 56.5h1.3v2.4h-1.3zM606 57.1h1.3v2.4h-1.3zM610 51h1.3v2.4h-1.3zM612 50.1h1.3v2.4h-1.3zM613 55.3h1.3v2.4h-1.3zM614 53.3h1.3v2.4h-1.3zM614 55.4h1.3v2.4h-1.3zM616 50.7h1.3v2.4h-1.3zM616 54.9h1.3v2.4h-1.3zM617 49.3h1.3v2.4h-1.3zM620 55.1h1.3v2.4h-1.3zM621 52.2h1.3v2.4h-1.3zM623 53.2h1.3v2.4h-1.3zM625 55.7h1.3v2.4h-1.3zM625 57.8h1.3v2.4h-1.3z"/>
<path fill="#ffec00" d="M417 57.2h1.3v2.4h-1.3zM420 53.6h1.3v2.4h-1.3zM421 57.5h1.3v2.4h-1.3zM428 52.8h1.3v2.4h-1.3zM439 58.2h1.3v2.4h-1.3zM446 57h1.3v2.4h-1.3zM450 51.7h1.3v2.4h-1.3zM454 52.5h1.3v2.4h-1.3zM454 56.7h1.3v2.4h-1.3zM456 52h1.3v2.4h-1.3zM457 52.6h1.3v2.4h-1.3zM457 56.8h1.3v2.4h-1.3zM468 54.8h1.3v2.4h-1.3zM470 52.3h1.3v2.4h-1.3zM474 53.9h1.3v2.4h-1.3zM476 53.7h1.3v2.4h-1.3zM483 60.1h1.3v2.4h-1.3zM486 54.8h1.3v2.4h-1.3zM498 58.2h1.3v2.4h-1.3zM499 60.1h1.3v2.4h-1.3zM503 54.4h1.3v2.4h-1.3zM503 58.6h1.3v2.4h-1.3zM504 54.1h1.3v2.4h-1.3zM505 59.3h1.3v2.4h-1.3zM506 59h1.3v2.4h-1.3zM515 60h1.3v2.4h-1.3zM523 53.7h1.3v2.4h-1.3zM523 60h1.3v2.4h-1.3zM525 58.6h1.3v2.4h-1.3zM532 52.6h1.3v2.4h-1.3zM537 53.4h1.3v2.4h-1.3zM539 53.2h1.3v2.4h-1.3zM552 57.7h1.3v2.4h-1.3zM556 51.6h1.3v2.4h-1.3zM560 57.2h1.3v2.4h-1.3zM570 51.4h1.3v2.4h-1.3zM572 51.6h1.3v2.4h-1.3zM581 57.2h1.3v2.4h-1.3zM587 57.6h1.3v2.4h-1.3zM590 55.4h1.3v2.4h-1.3zM591 54.5h1.3v2.4h-1.3zM592 49.4h1.3v2.4h-1.3zM592 53.6h1.3v2.4h-1.3zM595 49.2h1.3v2.4h-1.3zM595 53.4h1.3v2.4h-1.3zM595 55.5h1.3v2.4h-1.3zM599 54.5h1.3v2.4h-1.3zM599 56.6h1.3v2.4h-1.3zM600 52.7h1.3v2.4h-1.3zM600 56.9h1.3v2.4h-1.3zM601 51.9h1.3v2.4h-1.3zM602 53.1h1.3v2.4h-1.3zM604 54.3h1.3v2.4h-1.3zM605 54.4h1.3v2.4h-1.3zM606 52.9h1.3v2.4h-1.3zM606 55h1.3v2.4h-1.3zM607 53.6h1.3v2.4h-1.3zM607 55.7h1.3v2.4h-1.3zM608 53.7h1.3v2.4h-1.3zM610 53.1h1.3v2.4h-1.3zM611 51.6h1.3v2.4h-1.3zM613 53.2h1.3v2.4h-1.3zM615 53h1.3v2.4h-1.3zM616 52.8h1.3v2.4h-1.3zM617 55.6h1.3v2.4h-1.3zM620 50.9h1.3v2.4h-1.3zM620 53h1.3v2.4h-1.3zM621 50.1h1.3v2.4h-1.3zM623 51.1h1.3v2.4h-1.3z"/>
<path fill="#ffdf00" d="M416 52.7h1.3v2.4h-1.3zM422 56.7h1.3v2.4h-1.3zM423 53.2h1.3v2.4h-1.3zM423 57.4h1.3v2.4h-1.3zM424 52.7h1.3v2.4h-1.3zM426 52.8h1.3v2.4h-1.3zM430 52.5h1.3v2.4h-1.3zM438 52.7h1.3v2.4h-1.3zM447 52.2h1.3v2.4h-1.3zM449 57.5h1.3v2.4h-1.3zM450 58h1.3v2.4h-1.3zM456 56.2h1.3v2.4h-1.3zM461 54h1.3v2.4h-1.3zM462 53.6h1.3v2.4h-1.3zM469 52.5h1.3v2.4h-1.3zM488 54.7h1.3v2.4h-1.3zM491 54.9h1.3v2.4h-1.3zM493 55.1h1.3v2.4h-1.3zM495 55.7h1.3v2.4h-1.3zM496 59.5h1.3v2.4h-1.3zM497 58.3h1.3v2.4h-1.3zM501 58.2h1.3v2.4h-1.3zM507 54.3h1.3v2.4h-1.3zM507 58.5h1.3v2.4h-1.3zM514 53.9h1.3v2.4h-1.3zM516 54.1h1.3v2.4h-1.3zM520 59.7h1.3v2.4h-1.3zM524 53.7h1.3v2.4h-1.3zM529 54.2h1.3v2.4h-1.3zM533 53.7h1.3v2.4h-1.3zM544 56.9h1.3v2.4h-1.3zM553 51.6h1.3v2.4h-1.3zM558 51.7h1.3v2.4h-1.3zM559 54h1.3v2.4h-1.3zM564 52h1.3v2.4h-1.3zM566 57.5h1.3v2.4h-1.3zM568 51.5h1.3v2.4h-1.3zM571 51.7h1.3v2.4h-1.3zM575 57.3h1.3v2.4h-1.3zM587 51.3h1.3v2.4h-1.3zM593 52.3h1.3v2.4h-1.3zM604 52.2h1.3v2.4h-1.3zM608 55.8h1.3v2.4h-1.3zM609 53.6h1.3v2.4h-1.3zM612 54.3h1.3v2.4h-1.3zM615 55.1h1.3v2.4h-1.3zM617 51.4h1.3v2.4h-1.3zM617 53.5h1.3v2.4h-1.3zM618 52.3h1.3v2.4h-1.3z"/>
<path fill="#ffd200" d="M410 52.8h1.3v2.4h-1.3zM412 57.1h1.3v2.4h-1.3zM416 56.9h1.3v2.4h-1.3zM417 53h1.3v2.4h-1.3zM421 53.3h1.3v2.4h-1.3zM425 53h1.3v2.4h-1.3zM428 57h1.3v2.4h-1.3zM433 57h1.3v2.4h-1.3zM436 52.4h1.3v2.4h-1.3zM437 54.8h1.3v2.4h-1.3zM445 56.5h1.3v2.4h-1.3zM448 52.7h1.3v2.4h-1.3zM453 52.5h1.3v2.4h-1.3zM453 56.7h1.3v2.4h-1.3zM454 54.6h1.3v2.4h-1.3zM455 54.8h1.3v2.4h-1.3zM468 52.7h1.3v2.4h-1.3zM470 54.4h1.3v2.4h-1.3zM475 59.2h1.3v2.4h-1.3zM477 54.3h1.3v2.4h-1.3zM484 54.9h1.3v2.4h-1.3zM485 56.2h1.3v2.4h-1.3zM485 58.3h1.3v2.4h-1.3zM486 59h1.3v2.4h-1.3zM490 57.9h1.3v2.4h-1.3zM493 59.3h1.3v2.4h-1.3zM494 55.2h1.3v2.4h-1.3zM494 59.4h1.3v2.4h-1.3zM499 58h1.3v2.4h-1.3zM500 55.4h1.3v2.4h-1.3zM503 56.5h1.3v2.4h-1.3zM511 58.1h1.3v2.4h-1.3zM515 53.7h1.3v2.4h-1.3zM521 59.1h1.3v2.4h-1.3zM522 59.3h1.3v2.4h-1.3zM524 55.8h1.3v2.4h-1.3zM527 58.2h1.3v2.4h-1.3zM528 58.5h1.3v2.4h-1.3zM530 54.6h1.3v2.4h-1.3zM530 56.7h1.3v2.4h-1.3zM537 57.6h1.3v2.4h-1.3zM539 57.4h1.3v2.4h-1.3zM541 53.8h1.3v2.4h-1.3zM543 55.6h1.3v2.4h-1.3zM544 52.7h1.3v2.4h-1.3zM550 57.4h1.3v2.4h-1.3zM556 53.7h1.3v2.4h-1.3zM557 56.9h1.3v2.4h-1.3zM558 53.8h1.3v2.4h-1.3zM558 55.9h1.3v2.4h-1.3zM559 56.1h1.3v2.4h-1.3zM563 57.6h1.3v2.4h-1.3zM565 57.5h1.3v2.4h-1.3zM585 56.9h1.3v2.4h-1.3zM589 56.6h1.3v2.4h-1.3zM590 53.3h1.3v2.4h-1.3zM591 52.4h1.3v2.4h-1.3zM613 51.1h1.3v2.4h-1.3zM614 51.2h1.3v2.4h-1.3zM615 50.9h1.3v2.4h-1.3z"/>
<path fill="#ffc500" d="M410 57h1.3v2.4h-1.3zM411 52.4h1.3v2.4h-1.3zM413 54h1.3v2.4h-1.3zM413 56.1h1.3v2.4h-1.3zM414 57.5h1.3v2.4h-1.3zM418 56.1h1.3v2.4h-1.3zM419 53.4h1.3v2.4h-1.3zM424 56.9h1.3v2.4h-1.3zM427 56.2h1.3v2.4h-1.3zM432 56.4h1.3v2.4h-1.3zM433 52.8h1.3v2.4h-1.3zM435 52.5h1.3v2.4h-1.3zM435 56.7h1.3v2.4h-1.3zM436 56.6h1.3v2.4h-1.3zM437 56.9h1.3v2.4h-1.3zM438 54.8h1.3v2.4h-1.3zM438 56.9h1.3v2.4h-1.3zM439 54h1.3v2.4h-1.3zM440 52.8h1.3v2.4h-1.3zM448 56.9h1.3v2.4h-1.3zM449 55.4h1.3v2.4h-1.3zM451 57h1.3v2.4h-1.3zM459 53.1h1.3v2.4h-1.3zM465 55.3h1.3v2.4h-1.3zM469 54.6h1.3v2.4h-1.3zM471 53.1h1.3v2.4h-1.3zM480 59.2h1.3v2.4h-1.3zM481 54.9h1.3v2.4h-1.3zM481 59.1h1.3v2.4h-1.3zM487 55.9h1.3v2.4h-1.3zM488 58.9h1.3v2.4h-1.3zM489 58h1.3v2.4h-1.3zM492 55.8h1.3v2.4h-1.3zM493 57.2h1.3v2.4h-1.3zM496 55.3h1.3v2.4h-1.3zM498 56.1h1.3v2.4h-1.3zM500 57.5h1.3v2.4h-1.3zM502 57.6h1.3v2.4h-1.3zM504 58.3h1.3v2.4h-1.3zM505 55.1h1.3v2.4h-1.3zM506 54.8h1.3v2.4h-1.3zM510 58.9h1.3v2.4h-1.3zM512 57.8h1.3v2.4h-1.3zM513 54.9h1.3v2.4h-1.3zM513 59.1h1.3v2.4h-1.3zM518 57h1.3v2.4h-1.3zM521 54.9h1.3v2.4h-1.3zM524 57.9h1.3v2.4h-1.3zM526 57.2h1.3v2.4h-1.3zM527 54h1.3v2.4h-1.3zM528 54.3h1.3v2.4h-1.3zM533 55.8h1.3v2.4h-1.3zM534 54.7h1.3v2.4h-1.3zM536 54.4h1.3v2.4h-1.3zM542 54.3h1.3v2.4h-1.3zM543 53.5h1.3v2.4h-1.3zM545 51.9h1.3v2.4h-1.3zM547 52.1h1.3v2.4h-1.3zM548 55.5h1.3v2.4h-1.3zM554 56.8h1.3v2.4h-1.3zM555 51.6h1.3v2.4h-1.3zM556 55.8h1.3v2.4h-1.3zM559 51.9h1.3v2.4h-1.3zM560 55.1h1.3v2.4h-1.3zM586 57.1h1.3v2.4h-1.3z"/>
<path fill="#ffb700" d="M410 54.9h1.3v2.4h-1.3zM415 52.8h1.3v2.4h-1.3zM422 54.6h1.3v2.4h-1.3zM425 57.2h1.3v2.4h-1.3zM430 54.6h1.3v2.4h-1.3zM430 56.7h1.3v2.4h-1.3zM431 52.8h1.3v2.4h-1.3zM431 57h1.3v2.4h-1.3zM434 57.1h1.3v2.4h-1.3zM436 54.5h1.3v2.4h-1.3zM437 52.7h1.3v2.4h-1.3zM443 56.9h1.3v2.4h-1.3zM447 56.4h1.3v2.4h-1.3zM448 54.8h1.3v2.4h-1.3zM450 53.8h1.3v2.4h-1.3zM450 55.9h1.3v2.4h-1.3zM451 52.8h1.3v2.4h-1.3zM452 53.5h1.3v2.4h-1.3zM453 54.6h1.3v2.4h-1.3zM458 53.4h1.3v2.4h-1.3zM459 57.3h1.3v2.4h-1.3zM460 52.5h1.3v2.4h-1.3zM461 56.1h1.3v2.4h-1.3zM462 55.7h1.3v2.4h-1.3zM463 52.9h1.3v2.4h-1.3zM464 52.4h1.3v2.4h-1.3zM465 57.4h1.3v2.4h-1.3zM466 54.2h1.3v2.4h-1.3zM467 52.8h1.3v2.4h-1.3zM471 55.2h1.3v2.4h-1.3zM473 58.2h1.3v2.4h-1.3zM474 58.1h1.3v2.4h-1.3zM478 57.9h1.3v2.4h-1.3zM479 55.6h1.3v2.4h-1.3zM480 55h1.3v2.4h-1.3zM484 59.1h1.3v2.4h-1.3zM486 56.9h1.3v2.4h-1.3zM487 58h1.3v2.4h-1.3zM490 55.8h1.3v2.4h-1.3zM491 59.1h1.3v2.4h-1.3zM492 57.9h1.3v2.4h-1.3zM495 57.8h1.3v2.4h-1.3zM497 56.2h1.3v2.4h-1.3zM501 56.1h1.3v2.4h-1.3zM502 55.5h1.3v2.4h-1.3zM504 56.2h1.3v2.4h-1.3zM508 57.7h1.3v2.4h-1.3zM509 57.5h1.3v2.4h-1.3zM510 54.7h1.3v2.4h-1.3zM510 56.8h1.3v2.4h-1.3zM511 56h1.3v2.4h-1.3zM516 56.2h1.3v2.4h-1.3zM516 58.3h1.3v2.4h-1.3zM517 54.5h1.3v2.4h-1.3zM518 54.9h1.3v2.4h-1.3zM519 54.9h1.3v2.4h-1.3zM520 55.5h1.3v2.4h-1.3zM520 57.6h1.3v2.4h-1.3zM523 55.8h1.3v2.4h-1.3zM523 57.9h1.3v2.4h-1.3zM525 54.4h1.3v2.4h-1.3zM525 56.5h1.3v2.4h-1.3zM526 55.1h1.3v2.4h-1.3zM529 56.3h1.3v2.4h-1.3zM532 56.8h1.3v2.4h-1.3zM534 56.8h1.3v2.4h-1.3zM538 54.1h1.3v2.4h-1.3zM539 55.3h1.3v2.4h-1.3zM542 56.4h1.3v2.4h-1.3zM545 56.1h1.3v2.4h-1.3zM547 56.3h1.3v2.4h-1.3zM552 55.6h1.3v2.4h-1.3zM554 52.6h1.3v2.4h-1.3zM557 54.8h1.3v2.4h-1.3zM562 51.8h1.3v2.4h-1.3zM577 51.5h1.3v2.4h-1.3zM584 56.9h1.3v2.4h-1.3zM588 56.7h1.3v2.4h-1.3zM607 51.5h1.3v2.4h-1.3zM608 51.6h1.3v2.4h-1.3z"/>
<path fill="#ffaa00" d="M412 52.9h1.3v2.4h-1.3zM412 55h1.3v2.4h-1.3zM414 53.3h1.3v2.4h-1.3zM414 55.4h1.3v2.4h-1.3zM415 54.9h1.3v2.4h-1.3zM415 57h1.3v2.4h-1.3zM416 54.8h1.3v2.4h-1.3zM420 55.7h1.3v2.4h-1.3zM421 55.4h1.3v2.4h-1.3zM426 57h1.3v2.4h-1.3zM429 53.9h1.3v2.4h-1.3zM429 56h1.3v2.4h-1.3zM432 54.3h1.3v2.4h-1.3zM439 56.1h1.3v2.4h-1.3zM440 57h1.3v2.4h-1.3zM441 54.3h1.3v2.4h-1.3zM445 54.4h1.3v2.4h-1.3zM446 54.9h1.3v2.4h-1.3zM449 53.3h1.3v2.4h-1.3zM451 54.9h1.3v2.4h-1.3zM452 55.6h1.3v2.4h-1.3zM460 54.6h1.3v2.4h-1.3zM463 55h1.3v2.4h-1.3zM464 54.5h1.3v2.4h-1.3zM464 56.6h1.3v2.4h-1.3zM465 53.2h1.3v2.4h-1.3zM467 54.9h1.3v2.4h-1.3zM471 57.3h1.3v2.4h-1.3zM472 56.1h1.3v2.4h-1.3zM472 58.2h1.3v2.4h-1.3zM476 57.9h1.3v2.4h-1.3zM477 56.4h1.3v2.4h-1.3zM477 58.5h1.3v2.4h-1.3zM482 58.1h1.3v2.4h-1.3zM494 57.3h1.3v2.4h-1.3zM499 55.9h1.3v2.4h-1.3zM505 57.2h1.3v2.4h-1.3zM506 56.9h1.3v2.4h-1.3zM507 56.4h1.3v2.4h-1.3zM508 55.6h1.3v2.4h-1.3zM509 55.4h1.3v2.4h-1.3zM512 55.7h1.3v2.4h-1.3zM515 55.8h1.3v2.4h-1.3zM517 56.6h1.3v2.4h-1.3zM518 59.1h1.3v2.4h-1.3zM519 57h1.3v2.4h-1.3zM519 59.1h1.3v2.4h-1.3zM521 57h1.3v2.4h-1.3zM522 55.1h1.3v2.4h-1.3zM522 57.2h1.3v2.4h-1.3zM527 56.1h1.3v2.4h-1.3zM531 54.3h1.3v2.4h-1.3zM531 56.4h1.3v2.4h-1.3zM535 54.9h1.3v2.4h-1.3zM535 57h1.3v2.4h-1.3zM536 56.5h1.3v2.4h-1.3zM540 54h1.3v2.4h-1.3zM544 54.8h1.3v2.4h-1.3zM546 52.1h1.3v2.4h-1.3zM546 56.3h1.3v2.4h-1.3zM547 54.2h1.3v2.4h-1.3zM548 53.4h1.3v2.4h-1.3zM549 52.2h1.3v2.4h-1.3zM550 55.3h1.3v2.4h-1.3zM551 54.5h1.3v2.4h-1.3zM555 53.7h1.3v2.4h-1.3zM557 52.7h1.3v2.4h-1.3zM561 52.2h1.3v2.4h-1.3zM561 56.4h1.3v2.4h-1.3zM567 52.3h1.3v2.4h-1.3zM574 57h1.3v2.4h-1.3zM589 52.4h1.3v2.4h-1.3zM589 54.5h1.3v2.4h-1.3z"/>
<path fill="#ff9600" d="M411 56.6h1.3v2.4h-1.3zM418 54h1.3v2.4h-1.3zM419 55.5h1.3v2.4h-1.3zM423 55.3h1.3v2.4h-1.3zM424 54.8h1.3v2.4h-1.3zM427 54.1h1.3v2.4h-1.3zM431 54.9h1.3v2.4h-1.3zM433 54.9h1.3v2.4h-1.3zM434 52.9h1.3v2.4h-1.3zM435 54.6h1.3v2.4h-1.3zM440 54.9h1.3v2.4h-1.3zM441 56.4h1.3v2.4h-1.3zM442 56.4h1.3v2.4h-1.3zM444 56.2h1.3v2.4h-1.3zM456 54.1h1.3v2.4h-1.3zM457 54.7h1.3v2.4h-1.3zM458 55.5h1.3v2.4h-1.3zM459 55.2h1.3v2.4h-1.3zM460 56.7h1.3v2.4h-1.3zM466 56.3h1.3v2.4h-1.3zM468 56.9h1.3v2.4h-1.3zM473 56.1h1.3v2.4h-1.3zM474 56h1.3v2.4h-1.3zM478 55.8h1.3v2.4h-1.3zM483 58h1.3v2.4h-1.3zM484 57h1.3v2.4h-1.3zM488 56.8h1.3v2.4h-1.3zM489 55.9h1.3v2.4h-1.3zM491 57h1.3v2.4h-1.3zM496 57.4h1.3v2.4h-1.3zM513 57h1.3v2.4h-1.3zM514 56h1.3v2.4h-1.3zM528 56.4h1.3v2.4h-1.3zM532 54.7h1.3v2.4h-1.3zM537 55.5h1.3v2.4h-1.3zM538 56.2h1.3v2.4h-1.3zM541 55.9h1.3v2.4h-1.3zM549 54.3h1.3v2.4h-1.3zM549 56.4h1.3v2.4h-1.3zM550 53.2h1.3v2.4h-1.3zM551 52.4h1.3v2.4h-1.3zM551 56.6h1.3v2.4h-1.3zM552 53.5h1.3v2.4h-1.3zM553 53.7h1.3v2.4h-1.3zM554 54.7h1.3v2.4h-1.3zM555 55.8h1.3v2.4h-1.3zM561 54.3h1.3v2.4h-1.3zM563 55.5h1.3v2.4h-1.3zM569 56.6h1.3v2.4h-1.3zM570 55.6h1.3v2.4h-1.3zM582 56.6h1.3v2.4h-1.3z"/>
<path fill="#ff8200" d="M411 54.5h1.3v2.4h-1.3zM417 55.1h1.3v2.4h-1.3zM426 54.9h1.3v2.4h-1.3zM428 54.9h1.3v2.4h-1.3zM434 55h1.3v2.4h-1.3zM442 54.3h1.3v2.4h-1.3zM443 54.8h1.3v2.4h-1.3zM447 54.3h1.3v2.4h-1.3zM463 57.1h1.3v2.4h-1.3zM469 56.7h1.3v2.4h-1.3zM470 56.5h1.3v2.4h-1.3zM475 55h1.3v2.4h-1.3zM476 55.8h1.3v2.4h-1.3zM479 57.7h1.3v2.4h-1.3zM481 57h1.3v2.4h-1.3zM483 55.9h1.3v2.4h-1.3zM514 58.1h1.3v2.4h-1.3zM515 57.9h1.3v2.4h-1.3zM545 54h1.3v2.4h-1.3zM553 55.8h1.3v2.4h-1.3zM560 53h1.3v2.4h-1.3zM562 53.9h1.3v2.4h-1.3zM563 53.4h1.3v2.4h-1.3zM564 54.1h1.3v2.4h-1.3zM565 53.3h1.3v2.4h-1.3zM565 55.4h1.3v2.4h-1.3zM566 53.3h1.3v2.4h-1.3zM567 56.5h1.3v2.4h-1.3zM571 55.9h1.3v2.4h-1.3zM573 55.6h1.3v2.4h-1.3zM588 52.5h1.3v2.4h-1.3z"/>
<path fill="#ff6e00" d="M444 54.1h1.3v2.4h-1.3zM467 57h1.3v2.4h-1.3zM475 57.1h1.3v2.4h-1.3zM482 56h1.3v2.4h-1.3zM517 58.7h1.3v2.4h-1.3zM540 56.1h1.3v2.4h-1.3zM546 54.2h1.3v2.4h-1.3zM562 56h1.3v2.4h-1.3zM564 56.2h1.3v2.4h-1.3zM569 52.4h1.3v2.4h-1.3zM570 53.5h1.3v2.4h-1.3zM571 53.8h1.3v2.4h-1.3zM576 53.5h1.3v2.4h-1.3zM578 53.2h1.3v2.4h-1.3zM579 53.2h1.3v2.4h-1.3zM582 52.4h1.3v2.4h-1.3zM587 55.5h1.3v2.4h-1.3z"/>
<path fill="#ff5a00" d="M425 55.1h1.3v2.4h-1.3zM480 57.1h1.3v2.4h-1.3zM566 55.4h1.3v2.4h-1.3zM568 55.7h1.3v2.4h-1.3zM572 53.7h1.3v2.4h-1.3zM572 55.8h1.3v2.4h-1.3zM573 53.5h1.3v2.4h-1.3zM575 53.1h1.3v2.4h-1.3zM576 55.6h1.3v2.4h-1.3zM580 53.2h1.3v2.4h-1.3zM583 55.5h1.3v2.4h-1.3zM585 52.7h1.3v2.4h-1.3zM588 54.6h1.3v2.4h-1.3z"/>
<path fill="#ff4600" d="M577 55.7h1.3v2.4h-1.3zM578 55.3h1.3v2.4h-1.3zM581 53h1.3v2.4h-1.3zM584 52.7h1.3v2.4h-1.3zM585 54.8h1.3v2.4h-1.3z"/>
<path fill="#ff3200" d="M568 53.6h1.3v2.4h-1.3zM574 52.8h1.3v2.4h-1.3zM575 55.2h1.3v2.4h-1.3zM579 55.3h1.3v2.4h-1.3zM583 53.4h1.3v2.4h-1.3zM584 54.8h1.3v2.4h-1.3zM586 52.9h1.3v2.4h-1.3zM586 55h1.3v2.4h-1.3z"/>
<path fill="#ff1e00" d="M567 54.4h1.3v2.4h-1.3zM580 55.3h1.3v2.4h-1.3zM582 54.5h1.3v2.4h-1.3zM587 53.4h1.3v2.4h-1.3z"/>
<path fill="#ff0a00" d="M569 54.5h1.3v2.4h-1.3zM574 54.9h1.3v2.4h-1.3zM577 53.6h1.3v2.4h-1.3zM581 55.1h1.3v2.4h-1.3z"/>
</g>
<rect x="538" y="26" width="0.9" height="46" fill="#fff"/>
<rect x="678.3" y="15.6" width="1.2" height="1.4" fill="#111"/>
<rect x="678.3" y="19.6" width="1.2" height="1.2" fill="#333"/>
<g shape-rendering="crispEdges">
<path fill="#4b0083" d="M410 74.3h1.3v6.5h-1.3zM417 74.3h1.3v6.5h-1.3zM444 74.3h3.3v6.5h-3.3z"/>
<path fill="#4f0091" d="M411 74.3h2.3v6.5h-2.3zM413 74.3h4.3v6.5h-4.3zM418 74.3h2.3v6.5h-2.3zM424 74.3h2.3v6.5h-2.3zM435 74.3h4.3v6.5h-4.3zM439 74.3h4.3v6.5h-4.3zM443 74.3h1.3v6.5h-1.3zM450 74.3h2.3v6.5h-2.3zM452 74.3h3.3v6.5h-3.3zM461 74.3h3.3v6.5h-3.3zM468 74.3h2.3v6.5h-2.3z"/>
<path fill="#4e009e" d="M426 74.3h2.3v6.5h-2.3zM428 74.3h3.3v6.5h-3.3zM431 74.3h4.3v6.5h-4.3zM447 74.3h3.3v6.5h-3.3zM455 74.3h4.3v6.5h-4.3zM459 74.3h2.3v6.5h-2.3zM464 74.3h4.3v6.5h-4.3zM575 74.3h1.3v6.5h-1.3zM650 74.3h2.3v6.5h-2.3zM659 74.3h2.3v6.5h-2.3zM668 74.3h4.3v6.5h-4.3z"/>
<path fill="#4c00aa" d="M420 74.3h4.3v6.5h-4.3zM481 74.3h2.3v6.5h-2.3zM501 74.3h2.3v6.5h-2.3zM533 74.3h3.3v6.5h-3.3zM536 74.3h4.3v6.5h-4.3zM570 74.3h1.3v6.5h-1.3zM571 74.3h4.3v6.5h-4.3zM576 74.3h2.3v6.5h-2.3zM652 74.3h3.3v6.5h-3.3zM661 74.3h3.3v6.5h-3.3zM664 74.3h3.3v6.5h-3.3zM667 74.3h1.3v6.5h-1.3zM672 74.3h4.3v6.5h-4.3zM676 74.3h3.3v6.5h-3.3zM679 74.3h1.3v6.5h-1.3zM680 74.3h1.3v6.5h-1.3zM681 74.3h3.9v6.5h-3.9z"/>
<path fill="#4b00b6" d="M470 74.3h3.3v6.5h-3.3zM473 74.3h2.3v6.5h-2.3zM477 74.3h4.3v6.5h-4.3zM485 74.3h2.3v6.5h-2.3zM487 74.3h4.3v6.5h-4.3zM494 74.3h2.3v6.5h-2.3zM500 74.3h1.3v6.5h-1.3zM503 74.3h2.3v6.5h-2.3zM505 74.3h1.3v6.5h-1.3zM506 74.3h2.3v6.5h-2.3zM515 74.3h2.3v6.5h-2.3zM517 74.3h3.3v6.5h-3.3zM524 74.3h1.3v6.5h-1.3zM525 74.3h1.3v6.5h-1.3zM531 74.3h1.3v6.5h-1.3zM544 74.3h1.3v6.5h-1.3zM545 74.3h2.3v6.5h-2.3zM547 74.3h4.3v6.5h-4.3zM551 74.3h4.3v6.5h-4.3zM555 74.3h2.3v6.5h-2.3zM560 74.3h2.3v6.5h-2.3zM564 74.3h1.3v6.5h-1.3zM565 74.3h1.3v6.5h-1.3zM566 74.3h2.3v6.5h-2.3zM568 74.3h2.3v6.5h-2.3zM578 74.3h2.3v6.5h-2.3zM584 74.3h2.3v6.5h-2.3zM586 74.3h3.3v6.5h-3.3zM589 74.3h2.3v6.5h-2.3zM591 74.3h2.3v6.5h-2.3zM595 74.3h4.3v6.5h-4.3zM600 74.3h2.3v6.5h-2.3zM605 74.3h2.3v6.5h-2.3zM611 74.3h2.3v6.5h-2.3zM618 74.3h2.3v6.5h-2.3zM624 74.3h2.3v6.5h-2.3zM655 74.3h4.3v6.5h-4.3z"/>
<path fill="#4900c3" d="M475 74.3h2.3v6.5h-2.3zM483 74.3h2.3v6.5h-2.3zM491 74.3h2.3v6.5h-2.3zM493 74.3h1.3v6.5h-1.3zM496 74.3h4.3v6.5h-4.3zM508 74.3h4.3v6.5h-4.3zM520 74.3h4.3v6.5h-4.3zM526 74.3h1.3v6.5h-1.3zM527 74.3h2.3v6.5h-2.3zM530 74.3h1.3v6.5h-1.3zM540 74.3h4.3v6.5h-4.3zM557 74.3h3.3v6.5h-3.3zM580 74.3h4.3v6.5h-4.3zM602 74.3h3.3v6.5h-3.3zM613 74.3h1.3v6.5h-1.3zM614 74.3h4.3v6.5h-4.3zM620 74.3h1.3v6.5h-1.3zM621 74.3h3.3v6.5h-3.3zM629 74.3h2.3v6.5h-2.3zM631 74.3h4.3v6.5h-4.3z"/>
<path fill="#4800d0" d="M512 74.3h3.3v6.5h-3.3zM529 74.3h1.3v6.5h-1.3zM532 74.3h1.3v6.5h-1.3zM562 74.3h2.3v6.5h-2.3zM593 74.3h2.3v6.5h-2.3zM599 74.3h1.3v6.5h-1.3zM607 74.3h4.3v6.5h-4.3zM626 74.3h3.3v6.5h-3.3zM635 74.3h2.3v6.5h-2.3zM637 74.3h2.3v6.5h-2.3zM639 74.3h1.3v6.5h-1.3zM640 74.3h4.3v6.5h-4.3zM644 74.3h4.3v6.5h-4.3zM648 74.3h2.3v6.5h-2.3z"/>
<path fill="#1108f6" d="M411 80.5h2.3v6.3h-2.3zM417 80.5h1.3v6.3h-1.3zM424 80.5h2.3v6.3h-2.3zM444 80.5h3.3v6.3h-3.3zM447 80.5h3.3v6.3h-3.3z"/>
<path fill="#0909fb" d="M410 80.5h1.3v6.3h-1.3zM413 80.5h4.3v6.3h-4.3zM428 80.5h3.3v6.3h-3.3zM431 80.5h4.3v6.3h-4.3zM435 80.5h4.3v6.3h-4.3zM443 80.5h1.3v6.3h-1.3zM450 80.5h2.3v6.3h-2.3zM461 80.5h3.3v6.3h-3.3zM468 80.5h2.3v6.3h-2.3zM470 80.5h3.3v6.3h-3.3zM473 80.5h2.3v6.3h-2.3zM475 80.5h2.3v6.3h-2.3zM481 80.5h2.3v6.3h-2.3zM485 80.5h2.3v6.3h-2.3zM493 80.5h1.3v6.3h-1.3zM494 80.5h2.3v6.3h-2.3zM505 80.5h1.3v6.3h-1.3zM506 80.5h2.3v6.3h-2.3zM515 80.5h2.3v6.3h-2.3zM517 80.5h3.3v6.3h-3.3zM524 80.5h1.3v6.3h-1.3zM525 80.5h1.3v6.3h-1.3zM544 80.5h1.3v6.3h-1.3zM565 80.5h1.3v6.3h-1.3zM566 80.5h2.3v6.3h-2.3zM575 80.5h1.3v6.3h-1.3zM576 80.5h2.3v6.3h-2.3zM668 80.5h4.3v6.3h-4.3z"/>
<path fill="#000aff" d="M418 80.5h2.3v6.3h-2.3zM420 80.5h4.3v6.3h-4.3zM426 80.5h2.3v6.3h-2.3zM439 80.5h4.3v6.3h-4.3zM452 80.5h3.3v6.3h-3.3zM455 80.5h4.3v6.3h-4.3zM459 80.5h2.3v6.3h-2.3zM464 80.5h4.3v6.3h-4.3zM483 80.5h2.3v6.3h-2.3zM487 80.5h4.3v6.3h-4.3zM491 80.5h2.3v6.3h-2.3zM496 80.5h4.3v6.3h-4.3zM500 80.5h1.3v6.3h-1.3zM501 80.5h2.3v6.3h-2.3zM503 80.5h2.3v6.3h-2.3zM508 80.5h4.3v6.3h-4.3zM512 80.5h3.3v6.3h-3.3zM520 80.5h4.3v6.3h-4.3zM526 80.5h1.3v6.3h-1.3zM530 80.5h1.3v6.3h-1.3zM531 80.5h1.3v6.3h-1.3zM533 80.5h3.3v6.3h-3.3zM536 80.5h4.3v6.3h-4.3zM545 80.5h2.3v6.3h-2.3zM547 80.5h4.3v6.3h-4.3zM551 80.5h4.3v6.3h-4.3zM557 80.5h3.3v6.3h-3.3zM564 80.5h1.3v6.3h-1.3zM568 80.5h2.3v6.3h-2.3zM570 80.5h1.3v6.3h-1.3zM571 80.5h4.3v6.3h-4.3zM578 80.5h2.3v6.3h-2.3zM580 80.5h4.3v6.3h-4.3zM584 80.5h2.3v6.3h-2.3zM586 80.5h3.3v6.3h-3.3zM591 80.5h2.3v6.3h-2.3zM595 80.5h4.3v6.3h-4.3zM605 80.5h2.3v6.3h-2.3zM611 80.5h2.3v6.3h-2.3zM621 80.5h3.3v6.3h-3.3zM624 80.5h2.3v6.3h-2.3zM629 80.5h2.3v6.3h-2.3zM652 80.5h3.3v6.3h-3.3zM664 80.5h3.3v6.3h-3.3zM672 80.5h4.3v6.3h-4.3zM680 80.5h1.3v6.3h-1.3z"/>
<path fill="#0019ff" d="M477 80.5h4.3v6.3h-4.3zM527 80.5h2.3v6.3h-2.3zM529 80.5h1.3v6.3h-1.3zM532 80.5h1.3v6.3h-1.3zM540 80.5h4.3v6.3h-4.3zM555 80.5h2.3v6.3h-2.3zM560 80.5h2.3v6.3h-2.3zM589 80.5h2.3v6.3h-2.3zM593 80.5h2.3v6.3h-2.3zM607 80.5h4.3v6.3h-4.3zM614 80.5h4.3v6.3h-4.3zM618 80.5h2.3v6.3h-2.3zM620 80.5h1.3v6.3h-1.3zM631 80.5h4.3v6.3h-4.3zM635 80.5h2.3v6.3h-2.3zM637 80.5h2.3v6.3h-2.3zM639 80.5h1.3v6.3h-1.3zM644 80.5h4.3v6.3h-4.3zM648 80.5h2.3v6.3h-2.3zM655 80.5h4.3v6.3h-4.3zM659 80.5h2.3v6.3h-2.3zM667 80.5h1.3v6.3h-1.3zM676 80.5h3.3v6.3h-3.3zM679 80.5h1.3v6.3h-1.3z"/>
<path fill="#0028ff" d="M562 80.5h2.3v6.3h-2.3zM599 80.5h1.3v6.3h-1.3zM600 80.5h2.3v6.3h-2.3zM602 80.5h3.3v6.3h-3.3zM613 80.5h1.3v6.3h-1.3zM626 80.5h3.3v6.3h-3.3zM640 80.5h4.3v6.3h-4.3zM650 80.5h2.3v6.3h-2.3zM661 80.5h3.3v6.3h-3.3zM681 80.5h3.9v6.3h-3.9z"/>
<path fill="#0064ff" d="M424 86.5h2.3v5.8h-2.3zM444 86.5h3.3v5.8h-3.3zM461 86.5h3.3v5.8h-3.3zM470 86.5h3.3v5.8h-3.3z"/>
<path fill="#0073ff" d="M410 86.5h1.3v5.8h-1.3zM411 86.5h2.3v5.8h-2.3zM413 86.5h4.3v5.8h-4.3zM417 86.5h1.3v5.8h-1.3zM428 86.5h3.3v5.8h-3.3zM435 86.5h4.3v5.8h-4.3zM439 86.5h4.3v5.8h-4.3zM447 86.5h3.3v5.8h-3.3zM459 86.5h2.3v5.8h-2.3zM473 86.5h2.3v5.8h-2.3zM475 86.5h2.3v5.8h-2.3zM485 86.5h2.3v5.8h-2.3zM494 86.5h2.3v5.8h-2.3zM503 86.5h2.3v5.8h-2.3zM505 86.5h1.3v5.8h-1.3zM524 86.5h1.3v5.8h-1.3zM525 86.5h1.3v5.8h-1.3zM533 86.5h3.3v5.8h-3.3zM544 86.5h1.3v5.8h-1.3zM551 86.5h4.3v5.8h-4.3zM555 86.5h2.3v5.8h-2.3zM560 86.5h2.3v5.8h-2.3zM571 86.5h4.3v5.8h-4.3zM575 86.5h1.3v5.8h-1.3zM576 86.5h2.3v5.8h-2.3zM591 86.5h2.3v5.8h-2.3z"/>
<path fill="#0082ff" d="M418 86.5h2.3v5.8h-2.3zM420 86.5h4.3v5.8h-4.3zM426 86.5h2.3v5.8h-2.3zM431 86.5h4.3v5.8h-4.3zM443 86.5h1.3v5.8h-1.3zM450 86.5h2.3v5.8h-2.3zM452 86.5h3.3v5.8h-3.3zM464 86.5h4.3v5.8h-4.3zM468 86.5h2.3v5.8h-2.3zM477 86.5h4.3v5.8h-4.3zM481 86.5h2.3v5.8h-2.3zM491 86.5h2.3v5.8h-2.3zM493 86.5h1.3v5.8h-1.3zM500 86.5h1.3v5.8h-1.3zM501 86.5h2.3v5.8h-2.3zM506 86.5h2.3v5.8h-2.3zM508 86.5h4.3v5.8h-4.3zM515 86.5h2.3v5.8h-2.3zM517 86.5h3.3v5.8h-3.3zM520 86.5h4.3v5.8h-4.3zM526 86.5h1.3v5.8h-1.3zM529 86.5h1.3v5.8h-1.3zM531 86.5h1.3v5.8h-1.3zM536 86.5h4.3v5.8h-4.3zM545 86.5h2.3v5.8h-2.3zM547 86.5h4.3v5.8h-4.3zM557 86.5h3.3v5.8h-3.3zM564 86.5h1.3v5.8h-1.3zM565 86.5h1.3v5.8h-1.3zM566 86.5h2.3v5.8h-2.3zM568 86.5h2.3v5.8h-2.3zM570 86.5h1.3v5.8h-1.3zM578 86.5h2.3v5.8h-2.3zM584 86.5h2.3v5.8h-2.3zM586 86.5h3.3v5.8h-3.3zM589 86.5h2.3v5.8h-2.3z"/>
<path fill="#0092ff" d="M455 86.5h4.3v5.8h-4.3zM483 86.5h2.3v5.8h-2.3zM496 86.5h4.3v5.8h-4.3zM512 86.5h3.3v5.8h-3.3zM527 86.5h2.3v5.8h-2.3zM530 86.5h1.3v5.8h-1.3zM532 86.5h1.3v5.8h-1.3zM540 86.5h4.3v5.8h-4.3zM580 86.5h4.3v5.8h-4.3z"/>
<path fill="#00a1ff" d="M487 86.5h4.3v5.8h-4.3z"/>
<path fill="#00b1ff" d="M562 86.5h2.3v5.8h-2.3zM635 86.5h2.3v5.8h-2.3z"/>
<path fill="#00c0ff" d="M629 86.5h2.3v5.8h-2.3zM631 86.5h4.3v5.8h-4.3zM668 86.5h4.3v5.8h-4.3z"/>
<path fill="#00d0ff" d="M470 92h3.3v6.3h-3.3zM626 86.5h3.3v5.8h-3.3zM639 86.5h1.3v5.8h-1.3zM640 86.5h4.3v5.8h-4.3zM644 86.5h4.3v5.8h-4.3zM648 86.5h2.3v5.8h-2.3zM659 86.5h2.3v5.8h-2.3zM676 86.5h3.3v5.8h-3.3zM679 86.5h1.3v5.8h-1.3z"/>
<path fill="#00e0ff" d="M595 86.5h4.3v5.8h-4.3zM602 86.5h3.3v5.8h-3.3zM605 86.5h2.3v5.8h-2.3zM607 86.5h4.3v5.8h-4.3zM618 86.5h2.3v5.8h-2.3zM624 86.5h2.3v5.8h-2.3zM637 86.5h2.3v5.8h-2.3zM652 86.5h3.3v5.8h-3.3zM661 86.5h3.3v5.8h-3.3zM664 86.5h3.3v5.8h-3.3zM667 86.5h1.3v5.8h-1.3zM672 86.5h4.3v5.8h-4.3zM680 86.5h1.3v5.8h-1.3zM681 86.5h3.9v5.8h-3.9z"/>
<path fill="#00efff" d="M410 92h1.3v6.3h-1.3zM411 92h2.3v6.3h-2.3zM424 92h2.3v6.3h-2.3zM443 92h1.3v6.3h-1.3zM444 92h3.3v6.3h-3.3zM447 92h3.3v6.3h-3.3zM461 92h3.3v6.3h-3.3zM475 92h2.3v6.3h-2.3zM481 92h2.3v6.3h-2.3zM485 92h2.3v6.3h-2.3zM505 92h1.3v6.3h-1.3zM508 92h4.3v6.3h-4.3zM533 92h3.3v6.3h-3.3zM536 92h4.3v6.3h-4.3zM544 92h1.3v6.3h-1.3zM570 92h1.3v6.3h-1.3zM593 86.5h2.3v5.8h-2.3zM595 92h4.3v6.3h-4.3zM600 86.5h2.3v5.8h-2.3zM611 86.5h2.3v5.8h-2.3zM611 92h2.3v6.3h-2.3zM613 86.5h1.3v5.8h-1.3zM618 92h2.3v6.3h-2.3zM620 86.5h1.3v5.8h-1.3zM620 92h1.3v6.3h-1.3zM621 86.5h3.3v5.8h-3.3zM629 92h2.3v6.3h-2.3zM650 86.5h2.3v5.8h-2.3zM652 92h3.3v6.3h-3.3zM655 86.5h4.3v5.8h-4.3z"/>
<path fill="#00ffff" d="M417 92h1.3v6.3h-1.3zM428 92h3.3v6.3h-3.3zM450 92h2.3v6.3h-2.3zM452 92h3.3v6.3h-3.3zM455 92h4.3v6.3h-4.3zM459 92h2.3v6.3h-2.3zM473 92h2.3v6.3h-2.3zM477 92h4.3v6.3h-4.3zM487 92h4.3v6.3h-4.3zM491 92h2.3v6.3h-2.3zM493 92h1.3v6.3h-1.3zM494 92h2.3v6.3h-2.3zM501 92h2.3v6.3h-2.3zM503 92h2.3v6.3h-2.3zM506 92h2.3v6.3h-2.3zM515 92h2.3v6.3h-2.3zM517 92h3.3v6.3h-3.3zM520 92h4.3v6.3h-4.3zM524 92h1.3v6.3h-1.3zM525 92h1.3v6.3h-1.3zM530 92h1.3v6.3h-1.3zM531 92h1.3v6.3h-1.3zM547 92h4.3v6.3h-4.3zM551 92h4.3v6.3h-4.3zM564 92h1.3v6.3h-1.3zM565 92h1.3v6.3h-1.3zM566 92h2.3v6.3h-2.3zM571 92h4.3v6.3h-4.3zM575 92h1.3v6.3h-1.3zM576 92h2.3v6.3h-2.3zM578 92h2.3v6.3h-2.3zM584 92h2.3v6.3h-2.3zM589 92h2.3v6.3h-2.3zM591 92h2.3v6.3h-2.3zM593 92h2.3v6.3h-2.3zM599 86.5h1.3v5.8h-1.3zM602 92h3.3v6.3h-3.3zM605 92h2.3v6.3h-2.3zM614 86.5h4.3v5.8h-4.3zM621 92h3.3v6.3h-3.3zM631 92h4.3v6.3h-4.3zM637 92h2.3v6.3h-2.3zM639 92h1.3v6.3h-1.3zM644 92h4.3v6.3h-4.3zM648 92h2.3v6.3h-2.3zM659 92h2.3v6.3h-2.3zM661 92h3.3v6.3h-3.3zM667 92h1.3v6.3h-1.3zM668 92h4.3v6.3h-4.3zM676 92h3.3v6.3h-3.3zM679 92h1.3v6.3h-1.3zM680 92h1.3v6.3h-1.3zM681 92h3.9v6.3h-3.9z"/>
<path fill="#00fcef" d="M413 92h4.3v6.3h-4.3zM418 92h2.3v6.3h-2.3zM420 92h4.3v6.3h-4.3zM426 92h2.3v6.3h-2.3zM431 92h4.3v6.3h-4.3zM435 92h4.3v6.3h-4.3zM439 92h4.3v6.3h-4.3zM464 92h4.3v6.3h-4.3zM468 92h2.3v6.3h-2.3zM483 92h2.3v6.3h-2.3zM496 92h4.3v6.3h-4.3zM500 92h1.3v6.3h-1.3zM512 92h3.3v6.3h-3.3zM526 92h1.3v6.3h-1.3zM527 92h2.3v6.3h-2.3zM529 92h1.3v6.3h-1.3zM532 92h1.3v6.3h-1.3zM540 92h4.3v6.3h-4.3zM545 92h2.3v6.3h-2.3zM555 92h2.3v6.3h-2.3zM557 92h3.3v6.3h-3.3zM568 92h2.3v6.3h-2.3zM580 92h4.3v6.3h-4.3zM586 92h3.3v6.3h-3.3zM599 92h1.3v6.3h-1.3zM600 92h2.3v6.3h-2.3zM607 92h4.3v6.3h-4.3zM613 92h1.3v6.3h-1.3zM614 92h4.3v6.3h-4.3zM624 92h2.3v6.3h-2.3zM626 92h3.3v6.3h-3.3zM635 92h2.3v6.3h-2.3zM640 92h4.3v6.3h-4.3zM650 92h2.3v6.3h-2.3zM655 92h4.3v6.3h-4.3zM664 92h3.3v6.3h-3.3zM672 92h4.3v6.3h-4.3z"/>
<path fill="#00f9de" d="M560 92h2.3v6.3h-2.3zM562 92h2.3v6.3h-2.3z"/>
<path fill="#00ec9d" d="M410 98h1.3v5.8h-1.3zM411 98h2.3v5.8h-2.3zM413 98h4.3v5.8h-4.3zM435 98h4.3v5.8h-4.3zM444 98h3.3v5.8h-3.3zM447 98h3.3v5.8h-3.3zM468 98h2.3v5.8h-2.3zM470 98h3.3v5.8h-3.3zM493 98h1.3v5.8h-1.3zM494 98h2.3v5.8h-2.3zM505 98h1.3v5.8h-1.3zM524 98h1.3v5.8h-1.3zM536 98h4.3v5.8h-4.3zM547 98h4.3v5.8h-4.3zM576 98h2.3v5.8h-2.3zM578 98h2.3v5.8h-2.3zM613 98h1.3v5.8h-1.3zM621 98h3.3v5.8h-3.3zM668 98h4.3v5.8h-4.3zM680 98h1.3v5.8h-1.3z"/>
<path fill="#00eb89" d="M417 98h1.3v5.8h-1.3zM418 98h2.3v5.8h-2.3zM420 98h4.3v5.8h-4.3zM424 98h2.3v5.8h-2.3zM426 98h2.3v5.8h-2.3zM428 98h3.3v5.8h-3.3zM431 98h4.3v5.8h-4.3zM439 98h4.3v5.8h-4.3zM443 98h1.3v5.8h-1.3zM450 98h2.3v5.8h-2.3zM455 98h4.3v5.8h-4.3zM459 98h2.3v5.8h-2.3zM461 98h3.3v5.8h-3.3zM464 98h4.3v5.8h-4.3zM473 98h2.3v5.8h-2.3zM475 98h2.3v5.8h-2.3zM477 98h4.3v5.8h-4.3zM481 98h2.3v5.8h-2.3zM483 98h2.3v5.8h-2.3zM485 98h2.3v5.8h-2.3zM487 98h4.3v5.8h-4.3zM491 98h2.3v5.8h-2.3zM500 98h1.3v5.8h-1.3zM501 98h2.3v5.8h-2.3zM503 98h2.3v5.8h-2.3zM506 98h2.3v5.8h-2.3zM508 98h4.3v5.8h-4.3zM512 98h3.3v5.8h-3.3zM515 98h2.3v5.8h-2.3zM517 98h3.3v5.8h-3.3zM525 98h1.3v5.8h-1.3zM533 98h3.3v5.8h-3.3zM544 98h1.3v5.8h-1.3zM545 98h2.3v5.8h-2.3zM551 98h4.3v5.8h-4.3zM555 98h2.3v5.8h-2.3zM557 98h3.3v5.8h-3.3zM565 98h1.3v5.8h-1.3zM566 98h2.3v5.8h-2.3zM568 98h2.3v5.8h-2.3zM570 98h1.3v5.8h-1.3zM571 98h4.3v5.8h-4.3zM575 98h1.3v5.8h-1.3zM580 98h4.3v5.8h-4.3zM584 98h2.3v5.8h-2.3zM586 98h3.3v5.8h-3.3zM589 98h2.3v5.8h-2.3zM591 98h2.3v5.8h-2.3zM593 98h2.3v5.8h-2.3zM595 98h4.3v5.8h-4.3zM599 98h1.3v5.8h-1.3zM600 98h2.3v5.8h-2.3zM607 98h4.3v5.8h-4.3zM611 98h2.3v5.8h-2.3zM614 98h4.3v5.8h-4.3zM618 98h2.3v5.8h-2.3zM620 98h1.3v5.8h-1.3zM624 98h2.3v5.8h-2.3zM629 98h2.3v5.8h-2.3zM631 98h4.3v5.8h-4.3zM644 98h4.3v5.8h-4.3zM650 98h2.3v5.8h-2.3zM652 98h3.3v5.8h-3.3zM659 98h2.3v5.8h-2.3zM661 98h3.3v5.8h-3.3zM672 98h4.3v5.8h-4.3zM679 98h1.3v5.8h-1.3z"/>
<path fill="#00ea73" d="M452 98h3.3v5.8h-3.3zM520 98h4.3v5.8h-4.3zM526 98h1.3v5.8h-1.3zM527 98h2.3v5.8h-2.3zM529 98h1.3v5.8h-1.3zM530 98h1.3v5.8h-1.3zM531 98h1.3v5.8h-1.3zM532 98h1.3v5.8h-1.3zM540 98h4.3v5.8h-4.3zM560 98h2.3v5.8h-2.3zM562 98h2.3v5.8h-2.3zM564 98h1.3v5.8h-1.3zM602 98h3.3v5.8h-3.3zM605 98h2.3v5.8h-2.3zM626 98h3.3v5.8h-3.3zM635 98h2.3v5.8h-2.3zM637 98h2.3v5.8h-2.3zM639 98h1.3v5.8h-1.3zM640 98h4.3v5.8h-4.3zM648 98h2.3v5.8h-2.3zM664 98h3.3v5.8h-3.3zM667 98h1.3v5.8h-1.3zM676 98h3.3v5.8h-3.3zM681 98h3.9v5.8h-3.9z"/>
<path fill="#00e95d" d="M496 98h4.3v5.8h-4.3zM655 98h4.3v5.8h-4.3z"/>
<path fill="#00e847" d="M444 103.5h3.3v5.8h-3.3z"/>
<path fill="#00e731" d="M410 103.5h1.3v5.8h-1.3zM411 103.5h2.3v5.8h-2.3zM417 103.5h1.3v5.8h-1.3zM459 103.5h2.3v5.8h-2.3zM461 103.5h3.3v5.8h-3.3zM470 103.5h3.3v5.8h-3.3z"/>
<path fill="#00e71c" d="M413 103.5h4.3v5.8h-4.3zM424 103.5h2.3v5.8h-2.3zM426 103.5h2.3v5.8h-2.3zM428 103.5h3.3v5.8h-3.3zM431 103.5h4.3v5.8h-4.3zM439 103.5h4.3v5.8h-4.3zM443 103.5h1.3v5.8h-1.3zM447 103.5h3.3v5.8h-3.3zM450 103.5h2.3v5.8h-2.3zM452 103.5h3.3v5.8h-3.3zM464 103.5h4.3v5.8h-4.3zM477 103.5h4.3v5.8h-4.3zM493 103.5h1.3v5.8h-1.3zM494 103.5h2.3v5.8h-2.3zM501 103.5h2.3v5.8h-2.3zM503 103.5h2.3v5.8h-2.3zM505 103.5h1.3v5.8h-1.3zM508 103.5h4.3v5.8h-4.3zM515 103.5h2.3v5.8h-2.3zM517 103.5h3.3v5.8h-3.3zM524 103.5h1.3v5.8h-1.3zM525 103.5h1.3v5.8h-1.3zM547 103.5h4.3v5.8h-4.3zM570 103.5h1.3v5.8h-1.3zM571 103.5h4.3v5.8h-4.3zM578 103.5h2.3v5.8h-2.3zM580 103.5h4.3v5.8h-4.3zM595 103.5h4.3v5.8h-4.3zM618 103.5h2.3v5.8h-2.3zM624 103.5h2.3v5.8h-2.3zM629 103.5h2.3v5.8h-2.3zM631 103.5h4.3v5.8h-4.3zM644 103.5h4.3v5.8h-4.3zM652 103.5h3.3v5.8h-3.3zM664 103.5h3.3v5.8h-3.3zM668 103.5h4.3v5.8h-4.3z"/>
<path fill="#04e60a" d="M418 103.5h2.3v5.8h-2.3zM420 103.5h4.3v5.8h-4.3zM435 103.5h4.3v5.8h-4.3zM455 103.5h4.3v5.8h-4.3zM468 103.5h2.3v5.8h-2.3zM473 103.5h2.3v5.8h-2.3zM475 103.5h2.3v5.8h-2.3zM481 103.5h2.3v5.8h-2.3zM483 103.5h2.3v5.8h-2.3zM485 103.5h2.3v5.8h-2.3zM487 103.5h4.3v5.8h-4.3zM496 103.5h4.3v5.8h-4.3zM500 103.5h1.3v5.8h-1.3zM506 103.5h2.3v5.8h-2.3zM512 103.5h3.3v5.8h-3.3zM526 103.5h1.3v5.8h-1.3zM529 103.5h1.3v5.8h-1.3zM530 103.5h1.3v5.8h-1.3zM533 103.5h3.3v5.8h-3.3zM536 103.5h4.3v5.8h-4.3zM540 103.5h4.3v5.8h-4.3zM544 103.5h1.3v5.8h-1.3zM545 103.5h2.3v5.8h-2.3zM551 103.5h4.3v5.8h-4.3zM555 103.5h2.3v5.8h-2.3zM557 103.5h3.3v5.8h-3.3zM560 103.5h2.3v5.8h-2.3zM566 103.5h2.3v5.8h-2.3zM568 103.5h2.3v5.8h-2.3zM575 103.5h1.3v5.8h-1.3zM576 103.5h2.3v5.8h-2.3zM584 103.5h2.3v5.8h-2.3zM586 103.5h3.3v5.8h-3.3zM589 103.5h2.3v5.8h-2.3zM591 103.5h2.3v5.8h-2.3zM593 103.5h2.3v5.8h-2.3zM600 103.5h2.3v5.8h-2.3zM602 103.5h3.3v5.8h-3.3zM605 103.5h2.3v5.8h-2.3zM607 103.5h4.3v5.8h-4.3zM611 103.5h2.3v5.8h-2.3zM613 103.5h1.3v5.8h-1.3zM614 103.5h4.3v5.8h-4.3zM620 103.5h1.3v5.8h-1.3zM621 103.5h3.3v5.8h-3.3zM626 103.5h3.3v5.8h-3.3zM635 103.5h2.3v5.8h-2.3zM637 103.5h2.3v5.8h-2.3zM639 103.5h1.3v5.8h-1.3zM648 103.5h2.3v5.8h-2.3zM659 103.5h2.3v5.8h-2.3zM661 103.5h3.3v5.8h-3.3zM667 103.5h1.3v5.8h-1.3zM679 103.5h1.3v5.8h-1.3zM680 103.5h1.3v5.8h-1.3z"/>
<path fill="#19e708" d="M491 103.5h2.3v5.8h-2.3zM527 103.5h2.3v5.8h-2.3zM531 103.5h1.3v5.8h-1.3zM532 103.5h1.3v5.8h-1.3zM562 103.5h2.3v5.8h-2.3zM564 103.5h1.3v5.8h-1.3zM565 103.5h1.3v5.8h-1.3zM599 103.5h1.3v5.8h-1.3zM640 103.5h4.3v5.8h-4.3zM650 103.5h2.3v5.8h-2.3zM655 103.5h4.3v5.8h-4.3zM672 103.5h4.3v5.8h-4.3zM676 103.5h3.3v5.8h-3.3zM681 103.5h3.9v5.8h-3.9z"/>
<path fill="#2ee807" d="M520 103.5h4.3v5.8h-4.3z"/>
<path fill="#58e904" d="M424 109h2.3v5.3h-2.3zM444 109h3.3v5.3h-3.3zM461 109h3.3v5.3h-3.3zM501 109h2.3v5.3h-2.3zM505 109h1.3v5.3h-1.3zM536 109h4.3v5.3h-4.3zM578 109h2.3v5.3h-2.3zM584 109h2.3v5.3h-2.3z"/>
<path fill="#6cea03" d="M410 109h1.3v5.3h-1.3zM411 109h2.3v5.3h-2.3zM413 109h4.3v5.3h-4.3zM418 109h2.3v5.3h-2.3zM428 109h3.3v5.3h-3.3zM431 109h4.3v5.3h-4.3zM447 109h3.3v5.3h-3.3zM455 109h4.3v5.3h-4.3zM459 109h2.3v5.3h-2.3zM468 109h2.3v5.3h-2.3zM470 109h3.3v5.3h-3.3zM481 109h2.3v5.3h-2.3zM485 109h2.3v5.3h-2.3zM494 109h2.3v5.3h-2.3zM496 109h4.3v5.3h-4.3zM506 109h2.3v5.3h-2.3zM508 109h4.3v5.3h-4.3zM512 109h3.3v5.3h-3.3zM515 109h2.3v5.3h-2.3zM517 109h3.3v5.3h-3.3zM524 109h1.3v5.3h-1.3zM525 109h1.3v5.3h-1.3zM526 109h1.3v5.3h-1.3zM527 109h2.3v5.3h-2.3zM544 109h1.3v5.3h-1.3zM545 109h2.3v5.3h-2.3zM547 109h4.3v5.3h-4.3zM551 109h4.3v5.3h-4.3zM557 109h3.3v5.3h-3.3zM560 109h2.3v5.3h-2.3zM565 109h1.3v5.3h-1.3zM570 109h1.3v5.3h-1.3zM571 109h4.3v5.3h-4.3zM575 109h1.3v5.3h-1.3zM576 109h2.3v5.3h-2.3zM586 109h3.3v5.3h-3.3zM591 109h2.3v5.3h-2.3zM593 109h2.3v5.3h-2.3zM595 109h4.3v5.3h-4.3zM611 109h2.3v5.3h-2.3zM624 109h2.3v5.3h-2.3zM631 109h4.3v5.3h-4.3z"/>
<path fill="#81ea01" d="M417 109h1.3v5.3h-1.3zM426 109h2.3v5.3h-2.3zM435 109h4.3v5.3h-4.3zM439 109h4.3v5.3h-4.3zM443 109h1.3v5.3h-1.3zM450 109h2.3v5.3h-2.3zM452 109h3.3v5.3h-3.3zM473 109h2.3v5.3h-2.3zM475 109h2.3v5.3h-2.3zM477 109h4.3v5.3h-4.3zM483 109h2.3v5.3h-2.3zM487 109h4.3v5.3h-4.3zM491 109h2.3v5.3h-2.3zM493 109h1.3v5.3h-1.3zM503 109h2.3v5.3h-2.3zM520 109h4.3v5.3h-4.3zM529 109h1.3v5.3h-1.3zM530 109h1.3v5.3h-1.3zM531 109h1.3v5.3h-1.3zM533 109h3.3v5.3h-3.3zM555 109h2.3v5.3h-2.3zM564 109h1.3v5.3h-1.3zM566 109h2.3v5.3h-2.3zM568 109h2.3v5.3h-2.3zM580 109h4.3v5.3h-4.3zM589 109h2.3v5.3h-2.3zM605 109h2.3v5.3h-2.3zM607 109h4.3v5.3h-4.3zM613 109h1.3v5.3h-1.3zM618 109h2.3v5.3h-2.3zM620 109h1.3v5.3h-1.3zM626 109h3.3v5.3h-3.3zM629 109h2.3v5.3h-2.3zM635 109h2.3v5.3h-2.3zM637 109h2.3v5.3h-2.3zM648 109h2.3v5.3h-2.3zM652 109h3.3v5.3h-3.3zM655 109h4.3v5.3h-4.3zM659 109h2.3v5.3h-2.3zM661 109h3.3v5.3h-3.3zM668 109h4.3v5.3h-4.3zM672 109h4.3v5.3h-4.3zM679 109h1.3v5.3h-1.3zM680 109h1.3v5.3h-1.3z"/>
<path fill="#96eb00" d="M420 109h4.3v5.3h-4.3zM464 109h4.3v5.3h-4.3zM500 109h1.3v5.3h-1.3zM532 109h1.3v5.3h-1.3zM540 109h4.3v5.3h-4.3zM562 109h2.3v5.3h-2.3zM599 109h1.3v5.3h-1.3zM600 109h2.3v5.3h-2.3zM602 109h3.3v5.3h-3.3zM614 109h4.3v5.3h-4.3zM621 109h3.3v5.3h-3.3zM639 109h1.3v5.3h-1.3zM640 109h4.3v5.3h-4.3zM650 109h2.3v5.3h-2.3zM664 109h3.3v5.3h-3.3zM667 109h1.3v5.3h-1.3zM676 109h3.3v5.3h-3.3z"/>
<path fill="#a9ef00" d="M644 109h4.3v5.3h-4.3zM681 109h3.9v5.3h-3.9z"/>
<path fill="#cef600" d="M411 114h2.3v4.8h-2.3zM424 114h2.3v4.8h-2.3zM444 114h3.3v4.8h-3.3zM461 114h3.3v4.8h-3.3zM470 114h3.3v4.8h-3.3zM575 114h1.3v4.8h-1.3zM631 114h4.3v4.8h-4.3zM668 114h4.3v4.8h-4.3z"/>
<path fill="#e1f900" d="M410 114h1.3v4.8h-1.3zM410 118.5h1.3v4.8h-1.3zM426 114h2.3v4.8h-2.3zM439 114h4.3v4.8h-4.3zM443 114h1.3v4.8h-1.3zM444 118.5h3.3v4.8h-3.3zM450 114h2.3v4.8h-2.3zM455 114h4.3v4.8h-4.3zM459 114h2.3v4.8h-2.3zM477 114h4.3v4.8h-4.3zM481 114h2.3v4.8h-2.3zM485 114h2.3v4.8h-2.3zM487 114h4.3v4.8h-4.3zM493 114h1.3v4.8h-1.3zM494 118.5h2.3v4.8h-2.3zM501 114h2.3v4.8h-2.3zM503 114h2.3v4.8h-2.3zM505 114h1.3v4.8h-1.3zM515 114h2.3v4.8h-2.3zM517 114h3.3v4.8h-3.3zM524 114h1.3v4.8h-1.3zM526 114h1.3v4.8h-1.3zM544 114h1.3v4.8h-1.3zM570 114h1.3v4.8h-1.3zM576 114h2.3v4.8h-2.3zM578 114h2.3v4.8h-2.3zM584 114h2.3v4.8h-2.3zM589 114h2.3v4.8h-2.3zM626 114h3.3v4.8h-3.3zM626 123h3.3v5.3h-3.3zM629 114h2.3v4.8h-2.3zM629 118.5h2.3v4.8h-2.3zM629 123h2.3v5.3h-2.3zM637 114h2.3v4.8h-2.3zM652 114h3.3v4.8h-3.3zM659 123h2.3v5.3h-2.3zM668 118.5h4.3v4.8h-4.3z"/>
<path fill="#f4fd00" d="M411 118.5h2.3v4.8h-2.3zM413 114h4.3v4.8h-4.3zM413 118.5h4.3v4.8h-4.3zM417 114h1.3v4.8h-1.3zM418 114h2.3v4.8h-2.3zM420 114h4.3v4.8h-4.3zM424 118.5h2.3v4.8h-2.3zM431 114h4.3v4.8h-4.3zM435 114h4.3v4.8h-4.3zM447 114h3.3v4.8h-3.3zM450 118.5h2.3v4.8h-2.3zM464 114h4.3v4.8h-4.3zM468 114h2.3v4.8h-2.3zM468 118.5h2.3v4.8h-2.3zM470 118.5h3.3v4.8h-3.3zM473 114h2.3v4.8h-2.3zM473 118.5h2.3v4.8h-2.3zM475 114h2.3v4.8h-2.3zM483 114h2.3v4.8h-2.3zM485 118.5h2.3v4.8h-2.3zM491 114h2.3v4.8h-2.3zM493 118.5h1.3v4.8h-1.3zM494 114h2.3v4.8h-2.3zM496 114h4.3v4.8h-4.3zM500 114h1.3v4.8h-1.3zM501 118.5h2.3v4.8h-2.3zM505 118.5h1.3v4.8h-1.3zM506 114h2.3v4.8h-2.3zM506 118.5h2.3v4.8h-2.3zM508 114h4.3v4.8h-4.3zM512 114h3.3v4.8h-3.3zM517 118.5h3.3v4.8h-3.3zM520 114h4.3v4.8h-4.3zM525 114h1.3v4.8h-1.3zM525 118.5h1.3v4.8h-1.3zM527 114h2.3v4.8h-2.3zM529 114h1.3v4.8h-1.3zM529 118.5h1.3v4.8h-1.3zM530 114h1.3v4.8h-1.3zM531 114h1.3v4.8h-1.3zM533 118.5h3.3v4.8h-3.3zM536 114h4.3v4.8h-4.3zM536 118.5h4.3v4.8h-4.3zM540 114h4.3v4.8h-4.3zM544 118.5h1.3v4.8h-1.3zM545 114h2.3v4.8h-2.3zM547 114h4.3v4.8h-4.3zM547 118.5h4.3v4.8h-4.3zM551 114h4.3v4.8h-4.3zM551 118.5h4.3v4.8h-4.3zM560 114h2.3v4.8h-2.3zM564 114h1.3v4.8h-1.3zM565 114h1.3v4.8h-1.3zM566 114h2.3v4.8h-2.3zM566 118.5h2.3v4.8h-2.3zM568 114h2.3v4.8h-2.3zM568 118.5h2.3v4.8h-2.3zM570 118.5h1.3v4.8h-1.3zM571 114h4.3v4.8h-4.3zM575 118.5h1.3v4.8h-1.3zM576 118.5h2.3v4.8h-2.3zM578 118.5h2.3v4.8h-2.3zM580 114h4.3v4.8h-4.3zM580 118.5h4.3v4.8h-4.3zM586 118.5h3.3v4.8h-3.3zM591 114h2.3v4.8h-2.3zM591 118.5h2.3v4.8h-2.3zM593 123h2.3v5.3h-2.3zM595 114h4.3v4.8h-4.3zM595 118.5h4.3v4.8h-4.3zM595 123h4.3v5.3h-4.3zM600 123h2.3v5.3h-2.3zM602 118.5h3.3v4.8h-3.3zM605 114h2.3v4.8h-2.3zM605 118.5h2.3v4.8h-2.3zM605 123h2.3v5.3h-2.3zM607 118.5h4.3v4.8h-4.3zM611 118.5h2.3v4.8h-2.3zM611 128h2.3v5.9h-2.3zM613 118.5h1.3v4.8h-1.3zM613 123h1.3v5.3h-1.3zM618 123h2.3v5.3h-2.3zM620 118.5h1.3v4.8h-1.3zM620 123h1.3v5.3h-1.3zM621 114h3.3v4.8h-3.3zM624 114h2.3v4.8h-2.3zM624 123h2.3v5.3h-2.3zM626 118.5h3.3v4.8h-3.3zM631 118.5h4.3v4.8h-4.3zM631 123h4.3v5.3h-4.3zM631 128h4.3v5.9h-4.3zM635 114h2.3v4.8h-2.3zM635 118.5h2.3v4.8h-2.3zM635 123h2.3v5.3h-2.3zM637 123h2.3v5.3h-2.3zM639 114h1.3v4.8h-1.3zM640 114h4.3v4.8h-4.3zM640 118.5h4.3v4.8h-4.3zM640 123h4.3v5.3h-4.3zM644 114h4.3v4.8h-4.3zM644 118.5h4.3v4.8h-4.3zM644 123h4.3v5.3h-4.3zM648 114h2.3v4.8h-2.3zM648 123h2.3v5.3h-2.3zM648 128h2.3v5.9h-2.3zM650 114h2.3v4.8h-2.3zM650 118.5h2.3v4.8h-2.3zM650 123h2.3v5.3h-2.3zM652 118.5h3.3v4.8h-3.3zM652 123h3.3v5.3h-3.3zM659 114h2.3v4.8h-2.3zM661 114h3.3v4.8h-3.3zM664 114h3.3v4.8h-3.3zM667 114h1.3v4.8h-1.3zM668 123h4.3v5.3h-4.3zM672 114h4.3v4.8h-4.3zM676 114h3.3v4.8h-3.3zM676 118.5h3.3v4.8h-3.3zM679 114h1.3v4.8h-1.3zM680 114h1.3v4.8h-1.3zM680 118.5h1.3v4.8h-1.3zM680 123h1.3v5.3h-1.3zM681 114h3.9v4.8h-3.9zM681 118.5h3.9v4.8h-3.9z"/>
<path fill="#fffa00" d="M417 118.5h1.3v4.8h-1.3zM418 118.5h2.3v4.8h-2.3zM420 118.5h4.3v4.8h-4.3zM426 118.5h2.3v4.8h-2.3zM428 114h3.3v4.8h-3.3zM428 118.5h3.3v4.8h-3.3zM431 118.5h4.3v4.8h-4.3zM435 118.5h4.3v4.8h-4.3zM439 118.5h4.3v4.8h-4.3zM443 118.5h1.3v4.8h-1.3zM447 118.5h3.3v4.8h-3.3zM452 114h3.3v4.8h-3.3zM452 118.5h3.3v4.8h-3.3zM455 118.5h4.3v4.8h-4.3zM461 118.5h3.3v4.8h-3.3zM464 118.5h4.3v4.8h-4.3zM475 118.5h2.3v4.8h-2.3zM477 118.5h4.3v4.8h-4.3zM481 118.5h2.3v4.8h-2.3zM491 118.5h2.3v4.8h-2.3zM496 118.5h4.3v4.8h-4.3zM503 118.5h2.3v4.8h-2.3zM508 118.5h4.3v4.8h-4.3zM512 118.5h3.3v4.8h-3.3zM515 118.5h2.3v4.8h-2.3zM520 118.5h4.3v4.8h-4.3zM524 118.5h1.3v4.8h-1.3zM526 118.5h1.3v4.8h-1.3zM527 118.5h2.3v4.8h-2.3zM531 118.5h1.3v4.8h-1.3zM532 114h1.3v4.8h-1.3zM533 114h3.3v4.8h-3.3zM540 118.5h4.3v4.8h-4.3zM545 118.5h2.3v4.8h-2.3zM555 114h2.3v4.8h-2.3zM555 118.5h2.3v4.8h-2.3zM557 114h3.3v4.8h-3.3zM557 118.5h3.3v4.8h-3.3zM560 118.5h2.3v4.8h-2.3zM562 118.5h2.3v4.8h-2.3zM564 118.5h1.3v4.8h-1.3zM565 118.5h1.3v4.8h-1.3zM571 118.5h4.3v4.8h-4.3zM586 114h3.3v4.8h-3.3zM589 118.5h2.3v4.8h-2.3zM593 114h2.3v4.8h-2.3zM593 118.5h2.3v4.8h-2.3zM593 128h2.3v5.9h-2.3zM595 128h4.3v5.9h-4.3zM599 123h1.3v5.3h-1.3zM600 114h2.3v4.8h-2.3zM600 118.5h2.3v4.8h-2.3zM602 114h3.3v4.8h-3.3zM602 123h3.3v5.3h-3.3zM605 128h2.3v5.9h-2.3zM607 114h4.3v4.8h-4.3zM607 123h4.3v5.3h-4.3zM611 114h2.3v4.8h-2.3zM611 123h2.3v5.3h-2.3zM613 114h1.3v4.8h-1.3zM613 128h1.3v5.9h-1.3zM614 114h4.3v4.8h-4.3zM614 123h4.3v5.3h-4.3zM614 128h4.3v5.9h-4.3zM618 114h2.3v4.8h-2.3zM618 118.5h2.3v4.8h-2.3zM618 128h2.3v5.9h-2.3zM620 114h1.3v4.8h-1.3zM620 128h1.3v5.9h-1.3zM621 118.5h3.3v4.8h-3.3zM621 123h3.3v5.3h-3.3zM624 118.5h2.3v4.8h-2.3zM626 128h3.3v5.9h-3.3zM629 128h2.3v5.9h-2.3zM635 128h2.3v5.9h-2.3zM637 118.5h2.3v4.8h-2.3zM637 128h2.3v5.9h-2.3zM639 118.5h1.3v4.8h-1.3zM639 123h1.3v5.3h-1.3zM648 118.5h2.3v4.8h-2.3zM655 114h4.3v4.8h-4.3zM659 118.5h2.3v4.8h-2.3zM661 123h3.3v5.3h-3.3zM664 118.5h3.3v4.8h-3.3zM664 123h3.3v5.3h-3.3zM667 118.5h1.3v4.8h-1.3zM672 118.5h4.3v4.8h-4.3zM672 123h4.3v5.3h-4.3zM676 123h3.3v5.3h-3.3zM679 118.5h1.3v4.8h-1.3zM681 123h3.9v5.3h-3.9z"/>
<path fill="#ffec00" d="M444 123h3.3v5.3h-3.3zM459 118.5h2.3v4.8h-2.3zM470 123h3.3v5.3h-3.3zM483 118.5h2.3v4.8h-2.3zM485 123h2.3v5.3h-2.3zM487 118.5h4.3v4.8h-4.3zM500 118.5h1.3v4.8h-1.3zM530 118.5h1.3v4.8h-1.3zM532 118.5h1.3v4.8h-1.3zM562 114h2.3v4.8h-2.3zM584 118.5h2.3v4.8h-2.3zM599 114h1.3v4.8h-1.3zM599 118.5h1.3v4.8h-1.3zM599 128h1.3v5.9h-1.3zM602 128h3.3v5.9h-3.3zM607 128h4.3v5.9h-4.3zM614 118.5h4.3v4.8h-4.3zM621 128h3.3v5.9h-3.3zM624 128h2.3v5.9h-2.3zM639 128h1.3v5.9h-1.3zM640 128h4.3v5.9h-4.3zM644 128h4.3v5.9h-4.3zM650 128h2.3v5.9h-2.3zM652 128h3.3v5.9h-3.3zM655 118.5h4.3v4.8h-4.3zM655 123h4.3v5.3h-4.3zM659 128h2.3v5.9h-2.3zM661 118.5h3.3v4.8h-3.3zM661 128h3.3v5.9h-3.3zM664 128h3.3v5.9h-3.3zM667 123h1.3v5.3h-1.3zM668 128h4.3v5.9h-4.3zM672 128h4.3v5.9h-4.3zM676 128h3.3v5.9h-3.3zM679 123h1.3v5.3h-1.3zM679 128h1.3v5.9h-1.3zM680 128h1.3v5.9h-1.3z"/>
<path fill="#ffdf00" d="M410 123h1.3v5.3h-1.3zM411 123h2.3v5.3h-2.3zM417 123h1.3v5.3h-1.3zM426 123h2.3v5.3h-2.3zM431 123h4.3v5.3h-4.3zM443 123h1.3v5.3h-1.3zM459 123h2.3v5.3h-2.3zM464 123h4.3v5.3h-4.3zM468 123h2.3v5.3h-2.3zM473 123h2.3v5.3h-2.3zM475 123h2.3v5.3h-2.3zM481 123h2.3v5.3h-2.3zM487 123h4.3v5.3h-4.3zM494 123h2.3v5.3h-2.3zM501 123h2.3v5.3h-2.3zM503 123h2.3v5.3h-2.3zM505 123h1.3v5.3h-1.3zM506 123h2.3v5.3h-2.3zM515 123h2.3v5.3h-2.3zM517 123h3.3v5.3h-3.3zM524 123h1.3v5.3h-1.3zM526 123h1.3v5.3h-1.3zM530 123h1.3v5.3h-1.3zM533 123h3.3v5.3h-3.3zM536 123h4.3v5.3h-4.3zM544 123h1.3v5.3h-1.3zM545 123h2.3v5.3h-2.3zM547 123h4.3v5.3h-4.3zM557 123h3.3v5.3h-3.3zM560 123h2.3v5.3h-2.3zM566 123h2.3v5.3h-2.3zM568 123h2.3v5.3h-2.3zM575 123h1.3v5.3h-1.3zM578 123h2.3v5.3h-2.3zM591 123h2.3v5.3h-2.3zM600 128h2.3v5.9h-2.3zM655 128h4.3v5.9h-4.3zM667 128h1.3v5.9h-1.3zM681 128h3.9v5.9h-3.9z"/>
<path fill="#ffd200" d="M413 123h4.3v5.3h-4.3zM420 123h4.3v5.3h-4.3zM424 123h2.3v5.3h-2.3zM447 123h3.3v5.3h-3.3zM452 123h3.3v5.3h-3.3zM455 123h4.3v5.3h-4.3zM461 123h3.3v5.3h-3.3zM477 123h4.3v5.3h-4.3zM483 123h2.3v5.3h-2.3zM493 123h1.3v5.3h-1.3zM496 123h4.3v5.3h-4.3zM500 123h1.3v5.3h-1.3zM508 123h4.3v5.3h-4.3zM512 123h3.3v5.3h-3.3zM520 123h4.3v5.3h-4.3zM525 123h1.3v5.3h-1.3zM527 123h2.3v5.3h-2.3zM529 123h1.3v5.3h-1.3zM531 123h1.3v5.3h-1.3zM532 123h1.3v5.3h-1.3zM551 123h4.3v5.3h-4.3zM555 123h2.3v5.3h-2.3zM564 123h1.3v5.3h-1.3zM570 123h1.3v5.3h-1.3zM571 123h4.3v5.3h-4.3zM576 123h2.3v5.3h-2.3zM580 123h4.3v5.3h-4.3zM584 123h2.3v5.3h-2.3zM589 123h2.3v5.3h-2.3z"/>
<path fill="#ffc500" d="M418 123h2.3v5.3h-2.3zM428 123h3.3v5.3h-3.3zM435 123h4.3v5.3h-4.3zM439 123h4.3v5.3h-4.3zM443 128h1.3v5.9h-1.3zM450 123h2.3v5.3h-2.3zM470 128h3.3v5.9h-3.3zM481 128h2.3v5.9h-2.3zM485 128h2.3v5.9h-2.3zM491 123h2.3v5.3h-2.3zM493 128h1.3v5.9h-1.3zM494 128h2.3v5.9h-2.3zM501 128h2.3v5.9h-2.3zM505 128h1.3v5.9h-1.3zM517 128h3.3v5.9h-3.3zM525 128h1.3v5.9h-1.3zM536 128h4.3v5.9h-4.3zM540 123h4.3v5.3h-4.3zM565 123h1.3v5.3h-1.3zM570 128h1.3v5.9h-1.3zM586 123h3.3v5.3h-3.3z"/>
<path fill="#ffb700" d="M410 128h1.3v5.9h-1.3zM411 128h2.3v5.9h-2.3zM417 128h1.3v5.9h-1.3zM424 128h2.3v5.9h-2.3zM428 128h3.3v5.9h-3.3zM444 128h3.3v5.9h-3.3zM447 128h3.3v5.9h-3.3zM461 128h3.3v5.9h-3.3zM473 128h2.3v5.9h-2.3zM475 128h2.3v5.9h-2.3zM477 128h4.3v5.9h-4.3zM483 128h2.3v5.9h-2.3zM496 128h4.3v5.9h-4.3zM500 128h1.3v5.9h-1.3zM503 128h2.3v5.9h-2.3zM508 128h4.3v5.9h-4.3zM512 128h3.3v5.9h-3.3zM524 128h1.3v5.9h-1.3zM529 128h1.3v5.9h-1.3zM530 128h1.3v5.9h-1.3zM531 128h1.3v5.9h-1.3zM533 128h3.3v5.9h-3.3zM547 128h4.3v5.9h-4.3zM551 128h4.3v5.9h-4.3zM562 123h2.3v5.3h-2.3zM565 128h1.3v5.9h-1.3zM566 128h2.3v5.9h-2.3zM568 128h2.3v5.9h-2.3zM571 128h4.3v5.9h-4.3zM575 128h1.3v5.9h-1.3zM576 128h2.3v5.9h-2.3zM578 128h2.3v5.9h-2.3zM591 128h2.3v5.9h-2.3z"/>
<path fill="#ffaa00" d="M413 128h4.3v5.9h-4.3zM418 128h2.3v5.9h-2.3zM420 128h4.3v5.9h-4.3zM431 128h4.3v5.9h-4.3zM435 128h4.3v5.9h-4.3zM439 128h4.3v5.9h-4.3zM452 128h3.3v5.9h-3.3zM459 128h2.3v5.9h-2.3zM464 128h4.3v5.9h-4.3zM468 128h2.3v5.9h-2.3zM487 128h4.3v5.9h-4.3zM491 128h2.3v5.9h-2.3zM506 128h2.3v5.9h-2.3zM515 128h2.3v5.9h-2.3zM526 128h1.3v5.9h-1.3zM527 128h2.3v5.9h-2.3zM540 128h4.3v5.9h-4.3zM544 128h1.3v5.9h-1.3zM545 128h2.3v5.9h-2.3zM555 128h2.3v5.9h-2.3zM557 128h3.3v5.9h-3.3zM560 128h2.3v5.9h-2.3zM564 128h1.3v5.9h-1.3zM580 128h4.3v5.9h-4.3zM584 128h2.3v5.9h-2.3zM586 128h3.3v5.9h-3.3zM589 128h2.3v5.9h-2.3z"/>
<path fill="#ff9600" d="M426 128h2.3v5.9h-2.3zM450 128h2.3v5.9h-2.3zM455 128h4.3v5.9h-4.3zM520 128h4.3v5.9h-4.3zM532 128h1.3v5.9h-1.3zM562 128h2.3v5.9h-2.3z"/>
<path fill="#ff6e00" d="M593 133.6h2.3v1.9h-2.3zM595 133.6h4.3v1.9h-4.3zM618 133.6h2.3v1.9h-2.3zM629 133.6h2.3v1.9h-2.3zM631 133.6h4.3v1.9h-4.3zM652 133.6h3.3v1.9h-3.3zM659 133.6h2.3v1.9h-2.3zM676 133.6h3.3v1.9h-3.3z"/>
<path fill="#ff5a00" d="M444 133.6h3.3v1.9h-3.3zM461 133.6h3.3v1.9h-3.3zM470 133.6h3.3v1.9h-3.3zM485 133.6h2.3v1.9h-2.3zM571 133.6h4.3v1.9h-4.3zM578 133.6h2.3v1.9h-2.3zM600 133.6h2.3v1.9h-2.3zM602 133.6h3.3v1.9h-3.3zM605 133.6h2.3v1.9h-2.3zM607 133.6h4.3v1.9h-4.3zM611 133.6h2.3v1.9h-2.3zM613 133.6h1.3v1.9h-1.3zM624 133.6h2.3v1.9h-2.3zM635 133.6h2.3v1.9h-2.3zM637 133.6h2.3v1.9h-2.3zM648 133.6h2.3v1.9h-2.3zM655 133.6h4.3v1.9h-4.3zM661 133.6h3.3v1.9h-3.3zM668 133.6h4.3v1.9h-4.3zM679 133.6h1.3v1.9h-1.3z"/>
<path fill="#ff4600" d="M410 133.6h1.3v1.9h-1.3zM411 133.6h2.3v1.9h-2.3zM424 133.6h2.3v1.9h-2.3zM428 133.6h3.3v1.9h-3.3zM435 133.6h4.3v1.9h-4.3zM439 133.6h4.3v1.9h-4.3zM447 133.6h3.3v1.9h-3.3zM459 133.6h2.3v1.9h-2.3zM468 133.6h2.3v1.9h-2.3zM475 133.6h2.3v1.9h-2.3zM481 133.6h2.3v1.9h-2.3zM487 133.6h4.3v1.9h-4.3zM493 133.6h1.3v1.9h-1.3zM494 133.6h2.3v1.9h-2.3zM501 133.6h2.3v1.9h-2.3zM505 133.6h1.3v1.9h-1.3zM508 133.6h4.3v1.9h-4.3zM515 133.6h2.3v1.9h-2.3zM517 133.6h3.3v1.9h-3.3zM524 133.6h1.3v1.9h-1.3zM525 133.6h1.3v1.9h-1.3zM531 133.6h1.3v1.9h-1.3zM533 133.6h3.3v1.9h-3.3zM536 133.6h4.3v1.9h-4.3zM544 133.6h1.3v1.9h-1.3zM545 133.6h2.3v1.9h-2.3zM547 133.6h4.3v1.9h-4.3zM551 133.6h4.3v1.9h-4.3zM555 133.6h2.3v1.9h-2.3zM560 133.6h2.3v1.9h-2.3zM566 133.6h2.3v1.9h-2.3zM568 133.6h2.3v1.9h-2.3zM576 133.6h2.3v1.9h-2.3zM589 133.6h2.3v1.9h-2.3zM599 133.6h1.3v1.9h-1.3zM614 133.6h4.3v1.9h-4.3zM620 133.6h1.3v1.9h-1.3zM621 133.6h3.3v1.9h-3.3zM626 133.6h3.3v1.9h-3.3zM639 133.6h1.3v1.9h-1.3zM640 133.6h4.3v1.9h-4.3zM644 133.6h4.3v1.9h-4.3zM650 133.6h2.3v1.9h-2.3zM664 133.6h3.3v1.9h-3.3zM667 133.6h1.3v1.9h-1.3zM672 133.6h4.3v1.9h-4.3zM680 133.6h1.3v1.9h-1.3zM681 133.6h3.9v1.9h-3.9z"/>
<path fill="#ff3200" d="M413 133.6h4.3v1.9h-4.3zM417 133.6h1.3v1.9h-1.3zM418 133.6h2.3v1.9h-2.3zM420 133.6h4.3v1.9h-4.3zM426 133.6h2.3v1.9h-2.3zM431 133.6h4.3v1.9h-4.3zM443 133.6h1.3v1.9h-1.3zM450 133.6h2.3v1.9h-2.3zM452 133.6h3.3v1.9h-3.3zM455 133.6h4.3v1.9h-4.3zM464 133.6h4.3v1.9h-4.3zM473 133.6h2.3v1.9h-2.3zM477 133.6h4.3v1.9h-4.3zM483 133.6h2.3v1.9h-2.3zM491 133.6h2.3v1.9h-2.3zM496 133.6h4.3v1.9h-4.3zM503 133.6h2.3v1.9h-2.3zM512 133.6h3.3v1.9h-3.3zM520 133.6h4.3v1.9h-4.3zM526 133.6h1.3v1.9h-1.3zM527 133.6h2.3v1.9h-2.3zM529 133.6h1.3v1.9h-1.3zM530 133.6h1.3v1.9h-1.3zM532 133.6h1.3v1.9h-1.3zM540 133.6h4.3v1.9h-4.3zM557 133.6h3.3v1.9h-3.3zM565 133.6h1.3v1.9h-1.3zM570 133.6h1.3v1.9h-1.3zM575 133.6h1.3v1.9h-1.3zM580 133.6h4.3v1.9h-4.3zM584 133.6h2.3v1.9h-2.3zM586 133.6h3.3v1.9h-3.3zM591 133.6h2.3v1.9h-2.3z"/>
<path fill="#ff1e00" d="M500 133.6h1.3v1.9h-1.3zM506 133.6h2.3v1.9h-2.3zM562 133.6h2.3v1.9h-2.3zM564 133.6h1.3v1.9h-1.3z"/>
</g>
<line x1="410" y1="72.8" x2="684.6" y2="72.8" stroke="#1a1a1a" stroke-width="2.0"/>
<polyline fill="none" stroke="#0a0a0a" stroke-width="1.05" stroke-linejoin="round" points="410.5,182.6 411.9,182.1 413.2,181.7 414.1,182.4 415.1,182.6 416,183.5 416.9,183.2 417.8,183.3 418.7,183.3 419.6,183 420.5,183.4 421.5,183.2 422.4,184.1 423.3,184.1 424.2,183.2 425.2,182.6 426.1,181.7 427.5,181.6 428.8,180.8 430.1,179.6 431.5,178 432.7,177 433.9,176.2 434.3,171.6 434.8,185.3 436.1,178.9 437.6,183.5 438.7,181.5 439.8,179.8 440.7,180.3 441.6,180.8 443.1,175.3 444.4,183.5 445.3,180.8 446.2,178 447.1,180 448,182.6 449.3,178.9 450.8,183.5 452.1,183.9 453.5,184.1 454.4,181.3 455.3,178 456.2,179.6 457.2,181.7 458.5,182.2 459.9,182.6 460.8,182.3 461.8,181.8 462.7,181.7 464,183.3 465.4,184.4 466.3,185.1 467.2,186.3 468.1,184.8 469.1,183 470.2,182.1 471.3,181.7 472,160.6 473.1,155.1 474.2,162.5 475.5,157.9 476.8,161.5 477.8,164.5 478.7,167 480.1,160.6 481.1,161.4 482,162.5 482.9,159.9 483.8,157 484.7,158.9 485.6,160.6 487.1,171.6 488.2,159.7 489.1,156.6 490,153.3 491.5,156.1 492.6,150.6 494,157 495.5,152.4 497,157.9 498.4,154.2 499.9,159.7 501.4,153.3 502.8,157.9 504.3,154.2 505.8,158.8 507,168.9 508,157 508.9,172.5 510.2,168 511.2,171.6 512.5,161.5"/>
<polyline fill="none" stroke="#0a0a0a" stroke-width="0.9" stroke-linejoin="round" points="512.5,161.5 513.5,160.8 514.4,159.7 515.3,161.8 516.2,164.3 518,155.1 519,156.5 519.9,157.9 520.8,158.9 521.7,159.8 522.6,160.6 523.7,162.8 524.8,165.2 526.3,168.9 527.2,164.6 528.1,160.6 529.5,157.9 530.8,155.1 531.8,153.9 532.7,153.3 534,158.8 534.7,164.3 535.8,184.4 536.9,178 538.2,175.3 540,172.5 541.8,168.9 542.8,166.6 543.7,164.3 545,160.6 546.8,157.9 548.3,162.5 549.6,156.1 551.4,152.4 552.3,150.5 553.2,148.7 554.2,149.3 555.1,149.6 556.4,146.9 557.5,152.4 558.7,146 559.7,146.8 560.6,147.8 562.4,145.1 563.3,146.1 564.2,147.8 565.5,146.9 567,154.2 568.4,148.7 569.3,147.5 570.3,146 571.7,149.6 573.4,154.2 574.3,155.9 575.2,157.9 577,160.6 578,161.2 578.9,162.5 579.8,163.1 580.7,164.3 582.5,163.9 583.5,164.9 584.4,165.2 585.6,169.8 587.1,175.3 588.2,160.6 588.9,171.6 590.4,158.8 591.7,160.6 593,153.3 594.1,146"/>
<polyline fill="none" stroke="#0a0a0a" stroke-width="1.05" stroke-linejoin="round" points="594.1,146 595.3,149.6 596.3,140.5 597.2,162.5 598.1,147.8 599.4,152.4 600.5,140.5 601.8,143.2 603.2,140.5 604.5,151.5 605.8,141.4 607.3,144.2 608.2,145.6 609.1,146.9 610.9,143.2 611.8,142 612.7,141.4 614.2,146 615,142.3 616.5,152.4 617.7,142.3 618.7,144.7 619.6,147.8 621,153.3 622.7,141.4 624.2,150.6 625.6,143.2 626.7,155.1 628.2,147.8 629.6,148.7 630.5,146.9 631.5,145.1 633.3,144.2 634.2,143.7 635.1,143.2 636,143.4 637,144.2 638.4,141.4 639.5,141.9 640.6,142.3 641.5,141.4 642.5,140.5 644.3,140.9 645.2,140.3 646.1,139.6 647.2,138.7 648.3,138.3 649.8,140.5 651.2,146 652.5,144.2 653.8,148.7 654.7,147 655.6,146 656.5,145.2 657.5,144.2 659.3,142.3 660.8,145.1 662.2,147.8 663.2,145.2 664.1,143.2 665.3,141.4 666.8,146 668.1,157 669.2,146.9 670.5,162.5 671.8,152.4 672.9,160.6 674.1,145.1 675.4,151.5 676.5,157 677.2,172.5 678.2,153.3 679.4,146.9 680.5,149.6 681.8,143.2 683.1,140.5 684.2,138.7"/>
<polyline fill="none" stroke="#0a0a0a" stroke-width="1.05" stroke-linejoin="round" points="410.5,221.7 411.4,220.4 412.3,219 413.2,221.7 414.2,224.5 415.1,224.3 416,223.5 417.4,224.9 418.7,226.3 419.6,226.4 420.6,226.7 421.5,227.2 422.9,220.8 423.9,220.1 424.8,219 425.9,219.3 427,219.9 428.4,218.6 429.7,217.1 430.6,216.7 431.6,216.4 432.5,216.2 433.9,214.9 435.2,219 436.1,218.5 437,218.1 437.9,220.4 438.9,222.6 439.8,221.2 440.7,219.9 441.6,220.7 442.5,221.7 443.4,222.1 444.4,222.6 445.3,223.8 446.2,224.5 447.1,223 448,220.8 448.9,220.1 449.9,219 450.8,221.4 451.7,223.5 452.9,223.9 454.1,224.5 455.2,225.6 456.3,226.3 457.6,226.9 459,227.2 459.9,227.7 460.9,227.4 461.8,227.8 462.7,226.3 463.6,225.4 465.4,223.5 466.9,226.3 468.2,222.6 469.1,223.6 470,224.5 470.9,225.5 471.8,226.3 472.7,237.3 474.2,236.4 475,238.2 476.5,240 477.7,230 478.7,236.4 479.6,229.6 480.9,238.2 482.3,240.6 483.2,240.2 484.2,240 485.1,239.4 486,238.2 487.5,234.5 488.7,239.1 490,233.6 491.5,241 492.9,236.4 494.2,243.7 495.1,243 496.1,242.8 497.3,238.2 498.8,234.5 500.3,241.9 501.6,236.4 502.8,238.2 504.3,234.5 505.8,238.2 507,234.5 508.3,238.2 509.8,235.5 511.3,238.2 512.2,230 513.1,243.7"/>
<polyline fill="none" stroke="#0a0a0a" stroke-width="0.9" stroke-linejoin="round" points="513.1,243.7 514.4,247.4 515.3,248.6 516.2,249.7 517.5,249.7 518.9,249.2 519.8,249.2 520.8,248.5 521.7,248.3 522.9,247.5 524.1,246.4 525.3,239.1 526.3,232.7 527.7,240.9 529,238.2 530.3,246.4 531.2,246.7 532.1,247.4 533.6,239.1 534.7,243.7 535.8,227.2 536.9,230 538.2,240 539.4,235.5 540.9,238.2 541.8,240.5 542.7,242.8 543.9,244.3 545,246.4 546.8,248.3 547.8,249.4 548.7,250.1 550,249.7 551.4,249.2 552.3,248.6 553.3,248.9 554.2,248.3 555.3,247.8 556.4,247.4 557.8,249.2 558.7,247.6 559.6,245.5 561.1,240.9 562.4,245 563.3,244.6 564.2,243.7 565.5,240.9 566.6,232.7 567.9,239.1 569.2,234.5 570.6,236.4 572.1,230 573.4,232.7 574.3,229 575.2,222.6 576.1,215.3 577.6,212.6 579.4,211.6 580.3,210.8 581.3,209.8 582.2,208.9 583.1,208 584.4,205.8 585.3,206.6 586.2,207.1 587.5,208.9 588.9,204.7 589.9,215.3 590.8,226.3 591.7,218.1 593,221.7 594.1,251.9"/>
<polyline fill="none" stroke="#0a0a0a" stroke-width="1.05" stroke-linejoin="round" points="594.1,251.9 595.3,240.9 596.6,225.4 597.7,248.3 599,244.6 600.3,236.4 601.8,244.6 602.7,242.7 603.6,240.9 605.1,245.5 606.9,242.8 607.8,238 608.7,233.6 610.5,238.2 611.8,236.4 612.8,239.3 613.7,242.8 615,233.6 616.5,224.5 617.7,236.4 619,244.6 620.1,230 621.4,209.8 622.3,240.9 623.8,222.6 624.5,242.8 625.6,233.6 626.4,255.6 627.5,254.9 628.7,253.8 629.6,253.5 630.6,252.7 631.5,251.9 632.4,251.9 633.3,252.1 634.2,251.9 635.1,251.2 636.1,250.5 637,250.1 637.9,250.4 638.8,250.6 639.7,250.5 641.5,251.9 642.5,249.2 643.4,246.4 644.3,246 645.2,245.5 646.1,245 647,244.8 648,244.7 648.9,244.6 649.8,242 650.7,240 652.5,240.9 653.5,236.9 654.4,232.7 655.6,236.4 657.1,227.2 658,241.9 659,238 659.9,233.6 660.8,229.4 661.7,225.4 663,230.9 664.1,221.7 665.3,220.8 666.3,229 667.2,246.4 668.5,238.2 669.6,240.9 670.5,220.8 671.4,248.3 672.7,239.1 673.6,251 675,240.9 676,244.3 676.9,247.4 678.2,245.5 679.4,240.9 680.5,244.6 681.8,238.2 683.1,241.9 684,239.1"/>
<polyline fill="none" stroke="#0a0a0a" stroke-width="1.05" stroke-linejoin="round" points="410.5,284.6 411.4,283.4 412.3,281.9 413.2,282.5 414.2,282.8 415.1,281.7 416,281 417.4,280.5 418.7,280.1 419.6,279.7 420.6,279.1 422.4,281.9 423.3,284.9 424.2,287.4 425.1,286.6 426.1,286.5 427.9,290.1 428.8,288.9 429.7,288.3 431,285.5 432.5,291 433.9,292.9 434.8,284.6 436.1,292.9 437.6,286.5 438.5,294.7 439.8,286.5 441.3,281.9 442.9,278.8 443.8,286.5 444.9,299.3 446.2,291 447.5,292.9 448.9,288.3 449.9,287.2 450.8,286.5 451.7,292 453,283.7 453.9,282.1 454.8,280.1 455.7,280.3 456.6,281 457.6,281.5 458.5,281.9 459.6,280.9 460.8,280.1 462,280.7 463.2,281 464.1,282.7 465,284.6 466.1,283.1 467.2,281.9 468.3,282.4 469.4,282.8 470.6,284 471.8,284.6 472.7,283.5 473.6,281.9 475,282.8 475.9,281.9 476.8,281 477.8,278.9 478.7,276.4 480.1,281 481.4,284.6 482.3,286.7 483.2,288.3 484.1,287 485.1,285.5 486.4,290.1 487.5,284.6 488.7,295.6 489.6,299.3 491.1,286.5 492.4,293.8 493.3,283.7 494.8,292 496.1,286.5 497.3,282.8 498.4,277.3 499.7,292.9 501,279.1 502.5,281.9 503.9,278.2 505.2,282.8 506.5,278.2 508,277.3 509.4,274.6 510.7,277.3 512,273.6 513.1,286.5"/>
<polyline fill="none" stroke="#0a0a0a" stroke-width="0.9" stroke-linejoin="round" points="513.1,286.5 514.4,281 515.6,284.6 517.1,281.9 518,287.4 519.3,280.1 520.2,278.8 521.1,277.3 522,276.6 523,275.5 524.4,271.8 525.9,268.2 527.2,274.6 528.5,270.9 529.9,276.4 531.4,273.6 532.7,283.7 534,271.8 535.4,281 536.5,272.7 538.2,274.6 540,275.5 541.8,277.3 542.8,278.4 543.7,280.1 545,281 546.8,281.9 547.8,284.2 548.7,286.5 550.1,283.7 551,285.8 552,288.3 553.8,291 554.7,290.5 555.6,290.1 556.5,291.7 557.5,293.8 559.3,296.5 560.6,301.1 561.8,295.6 563.3,292.9 564.2,293.7 565.1,294.7 566.6,300.2 567.3,291 568.8,298.4 569.7,297.5 570.6,296.5 571.5,297.7 572.5,298.4 574.3,297.5 575.2,300.1 576.1,302 577,301 578,299.3 579.8,296.5 580.7,295.7 581.6,294.7 583.4,295.6 584.9,292 586.2,297.5 587.1,286.5 587.8,293.8 588.6,280.1 589.3,295.6 590,313 591.1,308.4 592.2,310.3 593.3,308.4 594.1,284.6"/>
<polyline fill="none" stroke="#0a0a0a" stroke-width="1.05" stroke-linejoin="round" points="594.1,284.6 595.3,288.3 596.3,293.8 597.4,306.6 598.5,302 599.6,308.4 600.8,311.2 602.1,302.9 603.6,308.4 605.1,302 606.3,307.5 607.2,306.4 608.2,304.8 610,310.3 611.8,308.4 612.8,306.1 613.7,303.9 615,308.4 616.5,313 617.7,308.4 619,311.2 620.1,304.8 621.4,308.4 622.7,303.9 624.2,311.2 625.3,313.9 626.4,281.9 627.5,289.2 628.4,283.7 629.6,291 631.1,292.9 632.4,290.1 633.9,294.7 635.1,289.2 636.6,296.5 638.4,293.8 639.3,292.6 640.3,292 641.5,291 642.8,295.6 644.3,298.4 645.2,299.2 646.1,300.2 647,299 648,297.5 649.8,295.6 650.9,281 652,286.5 653.1,298.4 654.4,303.9 655.6,301.1 656.7,306.6 658,294.7 659.3,300.2 660.8,302 662.2,303.9 663.2,303 664.1,302 665.9,298.4 667.2,296.5 668.5,298.4 669.6,305.7 670.8,285.5 671.8,300.2 673.2,292.9 674.5,299.3 675.8,292.9 676.9,301.1 678.2,290.1 679.4,281.9 680.5,289.2 681.8,292 683.1,291 684,292"/>
<rect x="512.4" y="136" width="22.4" height="186.4" fill="rgba(181,225,228,0.5)"/>
<rect x="534.8" y="136" width="40" height="186.4" fill="rgba(205,155,245,0.5)"/>
<rect x="574.8" y="136" width="18.6" height="186.4" fill="rgba(45,95,245,0.5)"/>
<line x1="410" y1="165.5" x2="684.6" y2="165.5" stroke="#ee3030" stroke-width="1"/>
<line x1="410" y1="228.6" x2="684.6" y2="228.6" stroke="#ee3030" stroke-width="1"/>
<line x1="410" y1="291.5" x2="684.6" y2="291.5" stroke="#ee3030" stroke-width="1"/>
<rect x="410" y="9.6" width="274.6" height="63" fill="none" stroke="#1a1a1a" stroke-width="1"/>
<rect x="410" y="136" width="274.6" height="186.4" fill="none" stroke="#1a1a1a" stroke-width="1"/>
<line x1="410" y1="197.8" x2="684.6" y2="197.8" stroke="#262626" stroke-width="1.0"/>
<line x1="410" y1="260.2" x2="684.6" y2="260.2" stroke="#262626" stroke-width="1.0"/>
<line x1="410" y1="73.6" x2="410" y2="135.6" stroke="#1a1a1a" stroke-width="1"/>
<line x1="684.6" y1="73.6" x2="684.6" y2="135.6" stroke="#1a1a1a" stroke-width="1"/>
<line x1="684.3" y1="9.6" x2="684.3" y2="322.4" stroke="#1a1a1a" stroke-width="1.2"/>
<line x1="410.2" y1="136" x2="410.2" y2="322.4" stroke="#1a1a1a" stroke-width="1.15"/>
<line x1="410" y1="9.6" x2="410" y2="11.6" stroke="#1a1a1a" stroke-width="0.9"/>
<line x1="421.4" y1="9.6" x2="421.4" y2="11.6" stroke="#1a1a1a" stroke-width="0.9"/>
<line x1="432.9" y1="9.6" x2="432.9" y2="11.6" stroke="#1a1a1a" stroke-width="0.9"/>
<line x1="444.3" y1="9.6" x2="444.3" y2="11.6" stroke="#1a1a1a" stroke-width="0.9"/>
<line x1="455.8" y1="9.6" x2="455.8" y2="11.6" stroke="#1a1a1a" stroke-width="0.9"/>
<line x1="467.2" y1="9.6" x2="467.2" y2="11.6" stroke="#1a1a1a" stroke-width="0.9"/>
<line x1="478.6" y1="9.6" x2="478.6" y2="11.6" stroke="#1a1a1a" stroke-width="0.9"/>
<line x1="490.1" y1="9.6" x2="490.1" y2="11.6" stroke="#1a1a1a" stroke-width="0.9"/>
<line x1="501.5" y1="9.6" x2="501.5" y2="11.6" stroke="#1a1a1a" stroke-width="0.9"/>
<line x1="513" y1="9.6" x2="513" y2="11.6" stroke="#1a1a1a" stroke-width="0.9"/>
<line x1="524.4" y1="9.6" x2="524.4" y2="11.6" stroke="#1a1a1a" stroke-width="0.9"/>
<line x1="535.9" y1="9.6" x2="535.9" y2="11.6" stroke="#1a1a1a" stroke-width="0.9"/>
<line x1="547.3" y1="9.6" x2="547.3" y2="11.6" stroke="#1a1a1a" stroke-width="0.9"/>
<line x1="558.7" y1="9.6" x2="558.7" y2="11.6" stroke="#1a1a1a" stroke-width="0.9"/>
<line x1="570.2" y1="9.6" x2="570.2" y2="11.6" stroke="#1a1a1a" stroke-width="0.9"/>
<line x1="581.6" y1="9.6" x2="581.6" y2="11.6" stroke="#1a1a1a" stroke-width="0.9"/>
<line x1="593.1" y1="9.6" x2="593.1" y2="11.6" stroke="#1a1a1a" stroke-width="0.9"/>
<line x1="604.5" y1="9.6" x2="604.5" y2="11.6" stroke="#1a1a1a" stroke-width="0.9"/>
<line x1="616" y1="9.6" x2="616" y2="11.6" stroke="#1a1a1a" stroke-width="0.9"/>
<line x1="627.4" y1="9.6" x2="627.4" y2="11.6" stroke="#1a1a1a" stroke-width="0.9"/>
<line x1="638.8" y1="9.6" x2="638.8" y2="11.6" stroke="#1a1a1a" stroke-width="0.9"/>
<line x1="650.3" y1="9.6" x2="650.3" y2="11.6" stroke="#1a1a1a" stroke-width="0.9"/>
<line x1="661.7" y1="9.6" x2="661.7" y2="11.6" stroke="#1a1a1a" stroke-width="0.9"/>
<line x1="673.2" y1="9.6" x2="673.2" y2="11.6" stroke="#1a1a1a" stroke-width="0.9"/>
<line x1="684.6" y1="9.6" x2="684.6" y2="11.6" stroke="#1a1a1a" stroke-width="0.9"/>
<line x1="410" y1="196" x2="410" y2="199.6" stroke="#1a1a1a" stroke-width="0.9"/>
<line x1="421.4" y1="196" x2="421.4" y2="199.6" stroke="#1a1a1a" stroke-width="0.9"/>
<line x1="432.9" y1="196" x2="432.9" y2="199.6" stroke="#1a1a1a" stroke-width="0.9"/>
<line x1="444.3" y1="196" x2="444.3" y2="199.6" stroke="#1a1a1a" stroke-width="0.9"/>
<line x1="455.8" y1="196" x2="455.8" y2="199.6" stroke="#1a1a1a" stroke-width="0.9"/>
<line x1="467.2" y1="196" x2="467.2" y2="199.6" stroke="#1a1a1a" stroke-width="0.9"/>
<line x1="478.6" y1="196" x2="478.6" y2="199.6" stroke="#1a1a1a" stroke-width="0.9"/>
<line x1="490.1" y1="196" x2="490.1" y2="199.6" stroke="#1a1a1a" stroke-width="0.9"/>
<line x1="501.5" y1="196" x2="501.5" y2="199.6" stroke="#1a1a1a" stroke-width="0.9"/>
<line x1="513" y1="196" x2="513" y2="199.6" stroke="#1a1a1a" stroke-width="0.9"/>
<line x1="524.4" y1="196" x2="524.4" y2="199.6" stroke="#1a1a1a" stroke-width="0.9"/>
<line x1="535.9" y1="196" x2="535.9" y2="199.6" stroke="#1a1a1a" stroke-width="0.9"/>
<line x1="547.3" y1="196" x2="547.3" y2="199.6" stroke="#1a1a1a" stroke-width="0.9"/>
<line x1="558.7" y1="196" x2="558.7" y2="199.6" stroke="#1a1a1a" stroke-width="0.9"/>
<line x1="570.2" y1="196" x2="570.2" y2="199.6" stroke="#1a1a1a" stroke-width="0.9"/>
<line x1="581.6" y1="196" x2="581.6" y2="199.6" stroke="#1a1a1a" stroke-width="0.9"/>
<line x1="593.1" y1="196" x2="593.1" y2="199.6" stroke="#1a1a1a" stroke-width="0.9"/>
<line x1="604.5" y1="196" x2="604.5" y2="199.6" stroke="#1a1a1a" stroke-width="0.9"/>
<line x1="616" y1="196" x2="616" y2="199.6" stroke="#1a1a1a" stroke-width="0.9"/>
<line x1="627.4" y1="196" x2="627.4" y2="199.6" stroke="#1a1a1a" stroke-width="0.9"/>
<line x1="638.8" y1="196" x2="638.8" y2="199.6" stroke="#1a1a1a" stroke-width="0.9"/>
<line x1="650.3" y1="196" x2="650.3" y2="199.6" stroke="#1a1a1a" stroke-width="0.9"/>
<line x1="661.7" y1="196" x2="661.7" y2="199.6" stroke="#1a1a1a" stroke-width="0.9"/>
<line x1="673.2" y1="196" x2="673.2" y2="199.6" stroke="#1a1a1a" stroke-width="0.9"/>
<line x1="684.6" y1="196" x2="684.6" y2="199.6" stroke="#1a1a1a" stroke-width="0.9"/>
<line x1="410" y1="258.4" x2="410" y2="262" stroke="#1a1a1a" stroke-width="0.9"/>
<line x1="421.4" y1="258.4" x2="421.4" y2="262" stroke="#1a1a1a" stroke-width="0.9"/>
<line x1="432.9" y1="258.4" x2="432.9" y2="262" stroke="#1a1a1a" stroke-width="0.9"/>
<line x1="444.3" y1="258.4" x2="444.3" y2="262" stroke="#1a1a1a" stroke-width="0.9"/>
<line x1="455.8" y1="258.4" x2="455.8" y2="262" stroke="#1a1a1a" stroke-width="0.9"/>
<line x1="467.2" y1="258.4" x2="467.2" y2="262" stroke="#1a1a1a" stroke-width="0.9"/>
<line x1="478.6" y1="258.4" x2="478.6" y2="262" stroke="#1a1a1a" stroke-width="0.9"/>
<line x1="490.1" y1="258.4" x2="490.1" y2="262" stroke="#1a1a1a" stroke-width="0.9"/>
<line x1="501.5" y1="258.4" x2="501.5" y2="262" stroke="#1a1a1a" stroke-width="0.9"/>
<line x1="513" y1="258.4" x2="513" y2="262" stroke="#1a1a1a" stroke-width="0.9"/>
<line x1="524.4" y1="258.4" x2="524.4" y2="262" stroke="#1a1a1a" stroke-width="0.9"/>
<line x1="535.9" y1="258.4" x2="535.9" y2="262" stroke="#1a1a1a" stroke-width="0.9"/>
<line x1="547.3" y1="258.4" x2="547.3" y2="262" stroke="#1a1a1a" stroke-width="0.9"/>
<line x1="558.7" y1="258.4" x2="558.7" y2="262" stroke="#1a1a1a" stroke-width="0.9"/>
<line x1="570.2" y1="258.4" x2="570.2" y2="262" stroke="#1a1a1a" stroke-width="0.9"/>
<line x1="581.6" y1="258.4" x2="581.6" y2="262" stroke="#1a1a1a" stroke-width="0.9"/>
<line x1="593.1" y1="258.4" x2="593.1" y2="262" stroke="#1a1a1a" stroke-width="0.9"/>
<line x1="604.5" y1="258.4" x2="604.5" y2="262" stroke="#1a1a1a" stroke-width="0.9"/>
<line x1="616" y1="258.4" x2="616" y2="262" stroke="#1a1a1a" stroke-width="0.9"/>
<line x1="627.4" y1="258.4" x2="627.4" y2="262" stroke="#1a1a1a" stroke-width="0.9"/>
<line x1="638.8" y1="258.4" x2="638.8" y2="262" stroke="#1a1a1a" stroke-width="0.9"/>
<line x1="650.3" y1="258.4" x2="650.3" y2="262" stroke="#1a1a1a" stroke-width="0.9"/>
<line x1="661.7" y1="258.4" x2="661.7" y2="262" stroke="#1a1a1a" stroke-width="0.9"/>
<line x1="673.2" y1="258.4" x2="673.2" y2="262" stroke="#1a1a1a" stroke-width="0.9"/>
<line x1="684.6" y1="258.4" x2="684.6" y2="262" stroke="#1a1a1a" stroke-width="0.9"/>
<line x1="410" y1="320.2" x2="410" y2="322.4" stroke="#1a1a1a" stroke-width="0.9"/>
<line x1="421.4" y1="320.2" x2="421.4" y2="322.4" stroke="#1a1a1a" stroke-width="0.9"/>
<line x1="432.9" y1="320.2" x2="432.9" y2="322.4" stroke="#1a1a1a" stroke-width="0.9"/>
<line x1="444.3" y1="320.2" x2="444.3" y2="322.4" stroke="#1a1a1a" stroke-width="0.9"/>
<line x1="455.8" y1="320.2" x2="455.8" y2="322.4" stroke="#1a1a1a" stroke-width="0.9"/>
<line x1="467.2" y1="320.2" x2="467.2" y2="322.4" stroke="#1a1a1a" stroke-width="0.9"/>
<line x1="478.6" y1="320.2" x2="478.6" y2="322.4" stroke="#1a1a1a" stroke-width="0.9"/>
<line x1="490.1" y1="320.2" x2="490.1" y2="322.4" stroke="#1a1a1a" stroke-width="0.9"/>
<line x1="501.5" y1="320.2" x2="501.5" y2="322.4" stroke="#1a1a1a" stroke-width="0.9"/>
<line x1="513" y1="320.2" x2="513" y2="322.4" stroke="#1a1a1a" stroke-width="0.9"/>
<line x1="524.4" y1="320.2" x2="524.4" y2="322.4" stroke="#1a1a1a" stroke-width="0.9"/>
<line x1="535.9" y1="320.2" x2="535.9" y2="322.4" stroke="#1a1a1a" stroke-width="0.9"/>
<line x1="547.3" y1="320.2" x2="547.3" y2="322.4" stroke="#1a1a1a" stroke-width="0.9"/>
<line x1="558.7" y1="320.2" x2="558.7" y2="322.4" stroke="#1a1a1a" stroke-width="0.9"/>
<line x1="570.2" y1="320.2" x2="570.2" y2="322.4" stroke="#1a1a1a" stroke-width="0.9"/>
<line x1="581.6" y1="320.2" x2="581.6" y2="322.4" stroke="#1a1a1a" stroke-width="0.9"/>
<line x1="593.1" y1="320.2" x2="593.1" y2="322.4" stroke="#1a1a1a" stroke-width="0.9"/>
<line x1="604.5" y1="320.2" x2="604.5" y2="322.4" stroke="#1a1a1a" stroke-width="0.9"/>
<line x1="616" y1="320.2" x2="616" y2="322.4" stroke="#1a1a1a" stroke-width="0.9"/>
<line x1="627.4" y1="320.2" x2="627.4" y2="322.4" stroke="#1a1a1a" stroke-width="0.9"/>
<line x1="638.8" y1="320.2" x2="638.8" y2="322.4" stroke="#1a1a1a" stroke-width="0.9"/>
<line x1="650.3" y1="320.2" x2="650.3" y2="322.4" stroke="#1a1a1a" stroke-width="0.9"/>
<line x1="661.7" y1="320.2" x2="661.7" y2="322.4" stroke="#1a1a1a" stroke-width="0.9"/>
<line x1="673.2" y1="320.2" x2="673.2" y2="322.4" stroke="#1a1a1a" stroke-width="0.9"/>
<line x1="684.6" y1="320.2" x2="684.6" y2="322.4" stroke="#1a1a1a" stroke-width="0.9"/>
<line x1="410" y1="197.8" x2="415" y2="197.8" stroke="#1a1a1a" stroke-width="2.0"/>
<line x1="679.6" y1="197.8" x2="684.6" y2="197.8" stroke="#1a1a1a" stroke-width="2.0"/>
<line x1="410" y1="260.2" x2="415" y2="260.2" stroke="#1a1a1a" stroke-width="2.0"/>
<line x1="679.6" y1="260.2" x2="684.6" y2="260.2" stroke="#1a1a1a" stroke-width="2.0"/>
<line x1="410" y1="134.1" x2="410" y2="137.1" stroke="#1a1a1a" stroke-width="0.9"/>
<line x1="421.4" y1="134.1" x2="421.4" y2="137.1" stroke="#1a1a1a" stroke-width="0.9"/>
<line x1="432.9" y1="134.1" x2="432.9" y2="137.1" stroke="#1a1a1a" stroke-width="0.9"/>
<line x1="444.3" y1="134.1" x2="444.3" y2="137.1" stroke="#1a1a1a" stroke-width="0.9"/>
<line x1="455.8" y1="134.1" x2="455.8" y2="137.1" stroke="#1a1a1a" stroke-width="0.9"/>
<line x1="467.2" y1="134.1" x2="467.2" y2="137.1" stroke="#1a1a1a" stroke-width="0.9"/>
<line x1="478.6" y1="134.1" x2="478.6" y2="137.1" stroke="#1a1a1a" stroke-width="0.9"/>
<line x1="490.1" y1="134.1" x2="490.1" y2="137.1" stroke="#1a1a1a" stroke-width="0.9"/>
<line x1="501.5" y1="134.1" x2="501.5" y2="137.1" stroke="#1a1a1a" stroke-width="0.9"/>
<line x1="513" y1="134.1" x2="513" y2="137.1" stroke="#1a1a1a" stroke-width="0.9"/>
<line x1="524.4" y1="134.1" x2="524.4" y2="137.1" stroke="#1a1a1a" stroke-width="0.9"/>
<line x1="535.9" y1="134.1" x2="535.9" y2="137.1" stroke="#1a1a1a" stroke-width="0.9"/>
<line x1="547.3" y1="134.1" x2="547.3" y2="137.1" stroke="#1a1a1a" stroke-width="0.9"/>
<line x1="558.7" y1="134.1" x2="558.7" y2="137.1" stroke="#1a1a1a" stroke-width="0.9"/>
<line x1="570.2" y1="134.1" x2="570.2" y2="137.1" stroke="#1a1a1a" stroke-width="0.9"/>
<line x1="581.6" y1="134.1" x2="581.6" y2="137.1" stroke="#1a1a1a" stroke-width="0.9"/>
<line x1="593.1" y1="134.1" x2="593.1" y2="137.1" stroke="#1a1a1a" stroke-width="0.9"/>
<line x1="604.5" y1="134.1" x2="604.5" y2="137.1" stroke="#1a1a1a" stroke-width="0.9"/>
<line x1="616" y1="134.1" x2="616" y2="137.1" stroke="#1a1a1a" stroke-width="0.9"/>
<line x1="627.4" y1="134.1" x2="627.4" y2="137.1" stroke="#1a1a1a" stroke-width="0.9"/>
<line x1="638.8" y1="134.1" x2="638.8" y2="137.1" stroke="#1a1a1a" stroke-width="0.9"/>
<line x1="650.3" y1="134.1" x2="650.3" y2="137.1" stroke="#1a1a1a" stroke-width="0.9"/>
<line x1="661.7" y1="134.1" x2="661.7" y2="137.1" stroke="#1a1a1a" stroke-width="0.9"/>
<line x1="673.2" y1="134.1" x2="673.2" y2="137.1" stroke="#1a1a1a" stroke-width="0.9"/>
<line x1="684.6" y1="134.1" x2="684.6" y2="137.1" stroke="#1a1a1a" stroke-width="0.9"/>
<line x1="406.5" y1="68.9" x2="411.5" y2="68.9" stroke="#1a1a1a" stroke-width="0.9"/>
<line x1="682.6" y1="68.9" x2="684.6" y2="68.9" stroke="#1a1a1a" stroke-width="0.9"/>
<line x1="403" y1="65" x2="413" y2="65" stroke="#1a1a1a" stroke-width="0.9"/>
<line x1="680.6" y1="65" x2="684.6" y2="65" stroke="#1a1a1a" stroke-width="0.9"/>
<line x1="406.5" y1="61.8" x2="411.5" y2="61.8" stroke="#1a1a1a" stroke-width="0.9"/>
<line x1="682.6" y1="61.8" x2="684.6" y2="61.8" stroke="#1a1a1a" stroke-width="0.9"/>
<line x1="406.5" y1="59" x2="411.5" y2="59" stroke="#1a1a1a" stroke-width="0.9"/>
<line x1="682.6" y1="59" x2="684.6" y2="59" stroke="#1a1a1a" stroke-width="0.9"/>
<line x1="406.5" y1="56.7" x2="411.5" y2="56.7" stroke="#1a1a1a" stroke-width="0.9"/>
<line x1="682.6" y1="56.7" x2="684.6" y2="56.7" stroke="#1a1a1a" stroke-width="0.9"/>
<line x1="406.5" y1="54.6" x2="411.5" y2="54.6" stroke="#1a1a1a" stroke-width="0.9"/>
<line x1="682.6" y1="54.6" x2="684.6" y2="54.6" stroke="#1a1a1a" stroke-width="0.9"/>
<line x1="403" y1="52.7" x2="413" y2="52.7" stroke="#1a1a1a" stroke-width="0.9"/>
<line x1="680.6" y1="52.7" x2="684.6" y2="52.7" stroke="#1a1a1a" stroke-width="0.9"/>
<line x1="403" y1="40.4" x2="413" y2="40.4" stroke="#1a1a1a" stroke-width="0.9"/>
<line x1="680.6" y1="40.4" x2="684.6" y2="40.4" stroke="#1a1a1a" stroke-width="0.9"/>
<line x1="406.5" y1="33.2" x2="411.5" y2="33.2" stroke="#1a1a1a" stroke-width="0.9"/>
<line x1="682.6" y1="33.2" x2="684.6" y2="33.2" stroke="#1a1a1a" stroke-width="0.9"/>
<line x1="406.5" y1="28.1" x2="411.5" y2="28.1" stroke="#1a1a1a" stroke-width="0.9"/>
<line x1="682.6" y1="28.1" x2="684.6" y2="28.1" stroke="#1a1a1a" stroke-width="0.9"/>
<line x1="403" y1="24.2" x2="413" y2="24.2" stroke="#1a1a1a" stroke-width="0.9"/>
<line x1="680.6" y1="24.2" x2="684.6" y2="24.2" stroke="#1a1a1a" stroke-width="0.9"/>
<line x1="406.5" y1="21" x2="411.5" y2="21" stroke="#1a1a1a" stroke-width="0.9"/>
<line x1="682.6" y1="21" x2="684.6" y2="21" stroke="#1a1a1a" stroke-width="0.9"/>
<line x1="406.5" y1="18.2" x2="411.5" y2="18.2" stroke="#1a1a1a" stroke-width="0.9"/>
<line x1="682.6" y1="18.2" x2="684.6" y2="18.2" stroke="#1a1a1a" stroke-width="0.9"/>
<line x1="406.5" y1="15.9" x2="411.5" y2="15.9" stroke="#1a1a1a" stroke-width="0.9"/>
<line x1="682.6" y1="15.9" x2="684.6" y2="15.9" stroke="#1a1a1a" stroke-width="0.9"/>
<line x1="406.5" y1="13.8" x2="411.5" y2="13.8" stroke="#1a1a1a" stroke-width="0.9"/>
<line x1="682.6" y1="13.8" x2="684.6" y2="13.8" stroke="#1a1a1a" stroke-width="0.9"/>
<line x1="403" y1="11.9" x2="413" y2="11.9" stroke="#1a1a1a" stroke-width="0.9"/>
<line x1="680.6" y1="11.9" x2="684.6" y2="11.9" stroke="#1a1a1a" stroke-width="0.9"/>
<line x1="408.5" y1="134.1" x2="411.2" y2="134.1" stroke="#1a1a1a" stroke-width="0.9"/>
<line x1="683.1" y1="134.1" x2="684.6" y2="134.1" stroke="#1a1a1a" stroke-width="0.9"/>
<line x1="408.5" y1="132.4" x2="411.2" y2="132.4" stroke="#1a1a1a" stroke-width="0.9"/>
<line x1="683.1" y1="132.4" x2="684.6" y2="132.4" stroke="#1a1a1a" stroke-width="0.9"/>
<line x1="408.5" y1="130.8" x2="411.2" y2="130.8" stroke="#1a1a1a" stroke-width="0.9"/>
<line x1="683.1" y1="130.8" x2="684.6" y2="130.8" stroke="#1a1a1a" stroke-width="0.9"/>
<line x1="408.5" y1="129.4" x2="411.2" y2="129.4" stroke="#1a1a1a" stroke-width="0.9"/>
<line x1="683.1" y1="129.4" x2="684.6" y2="129.4" stroke="#1a1a1a" stroke-width="0.9"/>
<line x1="407.4" y1="128.2" x2="412.5" y2="128.2" stroke="#1a1a1a" stroke-width="0.9"/>
<line x1="681.6" y1="128.2" x2="684.6" y2="128.2" stroke="#1a1a1a" stroke-width="0.9"/>
<line x1="407.4" y1="120.1" x2="412.5" y2="120.1" stroke="#1a1a1a" stroke-width="0.9"/>
<line x1="681.6" y1="120.1" x2="684.6" y2="120.1" stroke="#1a1a1a" stroke-width="0.9"/>
<line x1="408.5" y1="115.4" x2="411.2" y2="115.4" stroke="#1a1a1a" stroke-width="0.9"/>
<line x1="683.1" y1="115.4" x2="684.6" y2="115.4" stroke="#1a1a1a" stroke-width="0.9"/>
<line x1="408.5" y1="112.1" x2="411.2" y2="112.1" stroke="#1a1a1a" stroke-width="0.9"/>
<line x1="683.1" y1="112.1" x2="684.6" y2="112.1" stroke="#1a1a1a" stroke-width="0.9"/>
<line x1="407.4" y1="109.5" x2="412.5" y2="109.5" stroke="#1a1a1a" stroke-width="0.9"/>
<line x1="681.6" y1="109.5" x2="684.6" y2="109.5" stroke="#1a1a1a" stroke-width="0.9"/>
<line x1="408.5" y1="107.3" x2="411.2" y2="107.3" stroke="#1a1a1a" stroke-width="0.9"/>
<line x1="683.1" y1="107.3" x2="684.6" y2="107.3" stroke="#1a1a1a" stroke-width="0.9"/>
<line x1="408.5" y1="105.6" x2="411.2" y2="105.6" stroke="#1a1a1a" stroke-width="0.9"/>
<line x1="683.1" y1="105.6" x2="684.6" y2="105.6" stroke="#1a1a1a" stroke-width="0.9"/>
<line x1="408.5" y1="104" x2="411.2" y2="104" stroke="#1a1a1a" stroke-width="0.9"/>
<line x1="683.1" y1="104" x2="684.6" y2="104" stroke="#1a1a1a" stroke-width="0.9"/>
<line x1="408.5" y1="102.6" x2="411.2" y2="102.6" stroke="#1a1a1a" stroke-width="0.9"/>
<line x1="683.1" y1="102.6" x2="684.6" y2="102.6" stroke="#1a1a1a" stroke-width="0.9"/>
<line x1="407.4" y1="101.4" x2="412.5" y2="101.4" stroke="#1a1a1a" stroke-width="0.9"/>
<line x1="681.6" y1="101.4" x2="684.6" y2="101.4" stroke="#1a1a1a" stroke-width="0.9"/>
<line x1="407.4" y1="93.3" x2="412.5" y2="93.3" stroke="#1a1a1a" stroke-width="0.9"/>
<line x1="681.6" y1="93.3" x2="684.6" y2="93.3" stroke="#1a1a1a" stroke-width="0.9"/>
<line x1="408.5" y1="88.6" x2="411.2" y2="88.6" stroke="#1a1a1a" stroke-width="0.9"/>
<line x1="683.1" y1="88.6" x2="684.6" y2="88.6" stroke="#1a1a1a" stroke-width="0.9"/>
<line x1="408.5" y1="85.3" x2="411.2" y2="85.3" stroke="#1a1a1a" stroke-width="0.9"/>
<line x1="683.1" y1="85.3" x2="684.6" y2="85.3" stroke="#1a1a1a" stroke-width="0.9"/>
<line x1="407.4" y1="82.7" x2="412.5" y2="82.7" stroke="#1a1a1a" stroke-width="0.9"/>
<line x1="681.6" y1="82.7" x2="684.6" y2="82.7" stroke="#1a1a1a" stroke-width="0.9"/>
<line x1="408.5" y1="80.5" x2="411.2" y2="80.5" stroke="#1a1a1a" stroke-width="0.9"/>
<line x1="683.1" y1="80.5" x2="684.6" y2="80.5" stroke="#1a1a1a" stroke-width="0.9"/>
<line x1="408.5" y1="78.8" x2="411.2" y2="78.8" stroke="#1a1a1a" stroke-width="0.9"/>
<line x1="683.1" y1="78.8" x2="684.6" y2="78.8" stroke="#1a1a1a" stroke-width="0.9"/>
<line x1="408.5" y1="77.2" x2="411.2" y2="77.2" stroke="#1a1a1a" stroke-width="0.9"/>
<line x1="683.1" y1="77.2" x2="684.6" y2="77.2" stroke="#1a1a1a" stroke-width="0.9"/>
<line x1="408.5" y1="75.8" x2="411.2" y2="75.8" stroke="#1a1a1a" stroke-width="0.9"/>
<line x1="683.1" y1="75.8" x2="684.6" y2="75.8" stroke="#1a1a1a" stroke-width="0.9"/>
<line x1="407.4" y1="74.6" x2="412.5" y2="74.6" stroke="#1a1a1a" stroke-width="0.9"/>
<line x1="681.6" y1="74.6" x2="684.6" y2="74.6" stroke="#1a1a1a" stroke-width="0.9"/>
<line x1="410" y1="195.6" x2="415" y2="195.6" stroke="#1a1a1a" stroke-width="0.9"/>
<line x1="680.6" y1="195.6" x2="684.6" y2="195.6" stroke="#1a1a1a" stroke-width="0.9"/>
<line x1="410" y1="192.6" x2="412.6" y2="192.6" stroke="#1a1a1a" stroke-width="0.9"/>
<line x1="682.4" y1="192.6" x2="684.6" y2="192.6" stroke="#1a1a1a" stroke-width="0.9"/>
<line x1="410" y1="189.6" x2="412.6" y2="189.6" stroke="#1a1a1a" stroke-width="0.9"/>
<line x1="682.4" y1="189.6" x2="684.6" y2="189.6" stroke="#1a1a1a" stroke-width="0.9"/>
<line x1="410" y1="186.6" x2="412.6" y2="186.6" stroke="#1a1a1a" stroke-width="0.9"/>
<line x1="682.4" y1="186.6" x2="684.6" y2="186.6" stroke="#1a1a1a" stroke-width="0.9"/>
<line x1="410" y1="183.6" x2="412.6" y2="183.6" stroke="#1a1a1a" stroke-width="0.9"/>
<line x1="682.4" y1="183.6" x2="684.6" y2="183.6" stroke="#1a1a1a" stroke-width="0.9"/>
<line x1="410" y1="180.6" x2="415" y2="180.6" stroke="#1a1a1a" stroke-width="0.9"/>
<line x1="680.6" y1="180.6" x2="684.6" y2="180.6" stroke="#1a1a1a" stroke-width="0.9"/>
<line x1="410" y1="177.6" x2="412.6" y2="177.6" stroke="#1a1a1a" stroke-width="0.9"/>
<line x1="682.4" y1="177.6" x2="684.6" y2="177.6" stroke="#1a1a1a" stroke-width="0.9"/>
<line x1="410" y1="174.6" x2="412.6" y2="174.6" stroke="#1a1a1a" stroke-width="0.9"/>
<line x1="682.4" y1="174.6" x2="684.6" y2="174.6" stroke="#1a1a1a" stroke-width="0.9"/>
<line x1="410" y1="171.6" x2="412.6" y2="171.6" stroke="#1a1a1a" stroke-width="0.9"/>
<line x1="682.4" y1="171.6" x2="684.6" y2="171.6" stroke="#1a1a1a" stroke-width="0.9"/>
<line x1="410" y1="168.6" x2="412.6" y2="168.6" stroke="#1a1a1a" stroke-width="0.9"/>
<line x1="682.4" y1="168.6" x2="684.6" y2="168.6" stroke="#1a1a1a" stroke-width="0.9"/>
<line x1="410" y1="165.6" x2="415" y2="165.6" stroke="#1a1a1a" stroke-width="0.9"/>
<line x1="680.6" y1="165.6" x2="684.6" y2="165.6" stroke="#1a1a1a" stroke-width="0.9"/>
<line x1="410" y1="162.6" x2="412.6" y2="162.6" stroke="#1a1a1a" stroke-width="0.9"/>
<line x1="682.4" y1="162.6" x2="684.6" y2="162.6" stroke="#1a1a1a" stroke-width="0.9"/>
<line x1="410" y1="159.6" x2="412.6" y2="159.6" stroke="#1a1a1a" stroke-width="0.9"/>
<line x1="682.4" y1="159.6" x2="684.6" y2="159.6" stroke="#1a1a1a" stroke-width="0.9"/>
<line x1="410" y1="156.6" x2="412.6" y2="156.6" stroke="#1a1a1a" stroke-width="0.9"/>
<line x1="682.4" y1="156.6" x2="684.6" y2="156.6" stroke="#1a1a1a" stroke-width="0.9"/>
<line x1="410" y1="153.6" x2="412.6" y2="153.6" stroke="#1a1a1a" stroke-width="0.9"/>
<line x1="682.4" y1="153.6" x2="684.6" y2="153.6" stroke="#1a1a1a" stroke-width="0.9"/>
<line x1="410" y1="150.6" x2="415" y2="150.6" stroke="#1a1a1a" stroke-width="0.9"/>
<line x1="680.6" y1="150.6" x2="684.6" y2="150.6" stroke="#1a1a1a" stroke-width="0.9"/>
<line x1="410" y1="147.6" x2="412.6" y2="147.6" stroke="#1a1a1a" stroke-width="0.9"/>
<line x1="682.4" y1="147.6" x2="684.6" y2="147.6" stroke="#1a1a1a" stroke-width="0.9"/>
<line x1="410" y1="144.6" x2="412.6" y2="144.6" stroke="#1a1a1a" stroke-width="0.9"/>
<line x1="682.4" y1="144.6" x2="684.6" y2="144.6" stroke="#1a1a1a" stroke-width="0.9"/>
<line x1="410" y1="141.6" x2="412.6" y2="141.6" stroke="#1a1a1a" stroke-width="0.9"/>
<line x1="682.4" y1="141.6" x2="684.6" y2="141.6" stroke="#1a1a1a" stroke-width="0.9"/>
<line x1="410" y1="138.6" x2="412.6" y2="138.6" stroke="#1a1a1a" stroke-width="0.9"/>
<line x1="682.4" y1="138.6" x2="684.6" y2="138.6" stroke="#1a1a1a" stroke-width="0.9"/>
<line x1="410" y1="258.1" x2="415" y2="258.1" stroke="#1a1a1a" stroke-width="0.9"/>
<line x1="680.6" y1="258.1" x2="684.6" y2="258.1" stroke="#1a1a1a" stroke-width="0.9"/>
<line x1="410" y1="256.1" x2="412.6" y2="256.1" stroke="#1a1a1a" stroke-width="0.9"/>
<line x1="682.4" y1="256.1" x2="684.6" y2="256.1" stroke="#1a1a1a" stroke-width="0.9"/>
<line x1="410" y1="254.2" x2="412.6" y2="254.2" stroke="#1a1a1a" stroke-width="0.9"/>
<line x1="682.4" y1="254.2" x2="684.6" y2="254.2" stroke="#1a1a1a" stroke-width="0.9"/>
<line x1="410" y1="252.2" x2="412.6" y2="252.2" stroke="#1a1a1a" stroke-width="0.9"/>
<line x1="682.4" y1="252.2" x2="684.6" y2="252.2" stroke="#1a1a1a" stroke-width="0.9"/>
<line x1="410" y1="250.3" x2="412.6" y2="250.3" stroke="#1a1a1a" stroke-width="0.9"/>
<line x1="682.4" y1="250.3" x2="684.6" y2="250.3" stroke="#1a1a1a" stroke-width="0.9"/>
<line x1="410" y1="248.3" x2="415" y2="248.3" stroke="#1a1a1a" stroke-width="0.9"/>
<line x1="680.6" y1="248.3" x2="684.6" y2="248.3" stroke="#1a1a1a" stroke-width="0.9"/>
<line x1="410" y1="246.3" x2="412.6" y2="246.3" stroke="#1a1a1a" stroke-width="0.9"/>
<line x1="682.4" y1="246.3" x2="684.6" y2="246.3" stroke="#1a1a1a" stroke-width="0.9"/>
<line x1="410" y1="244.4" x2="412.6" y2="244.4" stroke="#1a1a1a" stroke-width="0.9"/>
<line x1="682.4" y1="244.4" x2="684.6" y2="244.4" stroke="#1a1a1a" stroke-width="0.9"/>
<line x1="410" y1="242.4" x2="412.6" y2="242.4" stroke="#1a1a1a" stroke-width="0.9"/>
<line x1="682.4" y1="242.4" x2="684.6" y2="242.4" stroke="#1a1a1a" stroke-width="0.9"/>
<line x1="410" y1="240.5" x2="412.6" y2="240.5" stroke="#1a1a1a" stroke-width="0.9"/>
<line x1="682.4" y1="240.5" x2="684.6" y2="240.5" stroke="#1a1a1a" stroke-width="0.9"/>
<line x1="410" y1="238.5" x2="415" y2="238.5" stroke="#1a1a1a" stroke-width="0.9"/>
<line x1="680.6" y1="238.5" x2="684.6" y2="238.5" stroke="#1a1a1a" stroke-width="0.9"/>
<line x1="410" y1="236.5" x2="412.6" y2="236.5" stroke="#1a1a1a" stroke-width="0.9"/>
<line x1="682.4" y1="236.5" x2="684.6" y2="236.5" stroke="#1a1a1a" stroke-width="0.9"/>
<line x1="410" y1="234.6" x2="412.6" y2="234.6" stroke="#1a1a1a" stroke-width="0.9"/>
<line x1="682.4" y1="234.6" x2="684.6" y2="234.6" stroke="#1a1a1a" stroke-width="0.9"/>
<line x1="410" y1="232.6" x2="412.6" y2="232.6" stroke="#1a1a1a" stroke-width="0.9"/>
<line x1="682.4" y1="232.6" x2="684.6" y2="232.6" stroke="#1a1a1a" stroke-width="0.9"/>
<line x1="410" y1="230.7" x2="412.6" y2="230.7" stroke="#1a1a1a" stroke-width="0.9"/>
<line x1="682.4" y1="230.7" x2="684.6" y2="230.7" stroke="#1a1a1a" stroke-width="0.9"/>
<line x1="410" y1="228.7" x2="415" y2="228.7" stroke="#1a1a1a" stroke-width="0.9"/>
<line x1="680.6" y1="228.7" x2="684.6" y2="228.7" stroke="#1a1a1a" stroke-width="0.9"/>
<line x1="410" y1="226.7" x2="412.6" y2="226.7" stroke="#1a1a1a" stroke-width="0.9"/>
<line x1="682.4" y1="226.7" x2="684.6" y2="226.7" stroke="#1a1a1a" stroke-width="0.9"/>
<line x1="410" y1="224.8" x2="412.6" y2="224.8" stroke="#1a1a1a" stroke-width="0.9"/>
<line x1="682.4" y1="224.8" x2="684.6" y2="224.8" stroke="#1a1a1a" stroke-width="0.9"/>
<line x1="410" y1="222.8" x2="412.6" y2="222.8" stroke="#1a1a1a" stroke-width="0.9"/>
<line x1="682.4" y1="222.8" x2="684.6" y2="222.8" stroke="#1a1a1a" stroke-width="0.9"/>
<line x1="410" y1="220.9" x2="412.6" y2="220.9" stroke="#1a1a1a" stroke-width="0.9"/>
<line x1="682.4" y1="220.9" x2="684.6" y2="220.9" stroke="#1a1a1a" stroke-width="0.9"/>
<line x1="410" y1="218.9" x2="415" y2="218.9" stroke="#1a1a1a" stroke-width="0.9"/>
<line x1="680.6" y1="218.9" x2="684.6" y2="218.9" stroke="#1a1a1a" stroke-width="0.9"/>
<line x1="410" y1="216.9" x2="412.6" y2="216.9" stroke="#1a1a1a" stroke-width="0.9"/>
<line x1="682.4" y1="216.9" x2="684.6" y2="216.9" stroke="#1a1a1a" stroke-width="0.9"/>
<line x1="410" y1="215" x2="412.6" y2="215" stroke="#1a1a1a" stroke-width="0.9"/>
<line x1="682.4" y1="215" x2="684.6" y2="215" stroke="#1a1a1a" stroke-width="0.9"/>
<line x1="410" y1="213" x2="412.6" y2="213" stroke="#1a1a1a" stroke-width="0.9"/>
<line x1="682.4" y1="213" x2="684.6" y2="213" stroke="#1a1a1a" stroke-width="0.9"/>
<line x1="410" y1="211.1" x2="412.6" y2="211.1" stroke="#1a1a1a" stroke-width="0.9"/>
<line x1="682.4" y1="211.1" x2="684.6" y2="211.1" stroke="#1a1a1a" stroke-width="0.9"/>
<line x1="410" y1="209.1" x2="415" y2="209.1" stroke="#1a1a1a" stroke-width="0.9"/>
<line x1="680.6" y1="209.1" x2="684.6" y2="209.1" stroke="#1a1a1a" stroke-width="0.9"/>
<line x1="410" y1="207.1" x2="412.6" y2="207.1" stroke="#1a1a1a" stroke-width="0.9"/>
<line x1="682.4" y1="207.1" x2="684.6" y2="207.1" stroke="#1a1a1a" stroke-width="0.9"/>
<line x1="410" y1="205.2" x2="412.6" y2="205.2" stroke="#1a1a1a" stroke-width="0.9"/>
<line x1="682.4" y1="205.2" x2="684.6" y2="205.2" stroke="#1a1a1a" stroke-width="0.9"/>
<line x1="410" y1="203.2" x2="412.6" y2="203.2" stroke="#1a1a1a" stroke-width="0.9"/>
<line x1="682.4" y1="203.2" x2="684.6" y2="203.2" stroke="#1a1a1a" stroke-width="0.9"/>
<line x1="410" y1="201.3" x2="412.6" y2="201.3" stroke="#1a1a1a" stroke-width="0.9"/>
<line x1="682.4" y1="201.3" x2="684.6" y2="201.3" stroke="#1a1a1a" stroke-width="0.9"/>
<line x1="410" y1="199.3" x2="415" y2="199.3" stroke="#1a1a1a" stroke-width="0.9"/>
<line x1="680.6" y1="199.3" x2="684.6" y2="199.3" stroke="#1a1a1a" stroke-width="0.9"/>
<line x1="410" y1="321.2" x2="415" y2="321.2" stroke="#1a1a1a" stroke-width="0.9"/>
<line x1="680.6" y1="321.2" x2="684.6" y2="321.2" stroke="#1a1a1a" stroke-width="0.9"/>
<line x1="410" y1="319.2" x2="412.6" y2="319.2" stroke="#1a1a1a" stroke-width="0.9"/>
<line x1="682.4" y1="319.2" x2="684.6" y2="319.2" stroke="#1a1a1a" stroke-width="0.9"/>
<line x1="410" y1="317.2" x2="412.6" y2="317.2" stroke="#1a1a1a" stroke-width="0.9"/>
<line x1="682.4" y1="317.2" x2="684.6" y2="317.2" stroke="#1a1a1a" stroke-width="0.9"/>
<line x1="410" y1="315.3" x2="412.6" y2="315.3" stroke="#1a1a1a" stroke-width="0.9"/>
<line x1="682.4" y1="315.3" x2="684.6" y2="315.3" stroke="#1a1a1a" stroke-width="0.9"/>
<line x1="410" y1="313.3" x2="412.6" y2="313.3" stroke="#1a1a1a" stroke-width="0.9"/>
<line x1="682.4" y1="313.3" x2="684.6" y2="313.3" stroke="#1a1a1a" stroke-width="0.9"/>
<line x1="410" y1="311.3" x2="415" y2="311.3" stroke="#1a1a1a" stroke-width="0.9"/>
<line x1="680.6" y1="311.3" x2="684.6" y2="311.3" stroke="#1a1a1a" stroke-width="0.9"/>
<line x1="410" y1="309.3" x2="412.6" y2="309.3" stroke="#1a1a1a" stroke-width="0.9"/>
<line x1="682.4" y1="309.3" x2="684.6" y2="309.3" stroke="#1a1a1a" stroke-width="0.9"/>
<line x1="410" y1="307.3" x2="412.6" y2="307.3" stroke="#1a1a1a" stroke-width="0.9"/>
<line x1="682.4" y1="307.3" x2="684.6" y2="307.3" stroke="#1a1a1a" stroke-width="0.9"/>
<line x1="410" y1="305.4" x2="412.6" y2="305.4" stroke="#1a1a1a" stroke-width="0.9"/>
<line x1="682.4" y1="305.4" x2="684.6" y2="305.4" stroke="#1a1a1a" stroke-width="0.9"/>
<line x1="410" y1="303.4" x2="412.6" y2="303.4" stroke="#1a1a1a" stroke-width="0.9"/>
<line x1="682.4" y1="303.4" x2="684.6" y2="303.4" stroke="#1a1a1a" stroke-width="0.9"/>
<line x1="410" y1="301.4" x2="415" y2="301.4" stroke="#1a1a1a" stroke-width="0.9"/>
<line x1="680.6" y1="301.4" x2="684.6" y2="301.4" stroke="#1a1a1a" stroke-width="0.9"/>
<line x1="410" y1="299.4" x2="412.6" y2="299.4" stroke="#1a1a1a" stroke-width="0.9"/>
<line x1="682.4" y1="299.4" x2="684.6" y2="299.4" stroke="#1a1a1a" stroke-width="0.9"/>
<line x1="410" y1="297.4" x2="412.6" y2="297.4" stroke="#1a1a1a" stroke-width="0.9"/>
<line x1="682.4" y1="297.4" x2="684.6" y2="297.4" stroke="#1a1a1a" stroke-width="0.9"/>
<line x1="410" y1="295.5" x2="412.6" y2="295.5" stroke="#1a1a1a" stroke-width="0.9"/>
<line x1="682.4" y1="295.5" x2="684.6" y2="295.5" stroke="#1a1a1a" stroke-width="0.9"/>
<line x1="410" y1="293.5" x2="412.6" y2="293.5" stroke="#1a1a1a" stroke-width="0.9"/>
<line x1="682.4" y1="293.5" x2="684.6" y2="293.5" stroke="#1a1a1a" stroke-width="0.9"/>
<line x1="410" y1="291.5" x2="415" y2="291.5" stroke="#1a1a1a" stroke-width="0.9"/>
<line x1="680.6" y1="291.5" x2="684.6" y2="291.5" stroke="#1a1a1a" stroke-width="0.9"/>
<line x1="410" y1="289.5" x2="412.6" y2="289.5" stroke="#1a1a1a" stroke-width="0.9"/>
<line x1="682.4" y1="289.5" x2="684.6" y2="289.5" stroke="#1a1a1a" stroke-width="0.9"/>
<line x1="410" y1="287.5" x2="412.6" y2="287.5" stroke="#1a1a1a" stroke-width="0.9"/>
<line x1="682.4" y1="287.5" x2="684.6" y2="287.5" stroke="#1a1a1a" stroke-width="0.9"/>
<line x1="410" y1="285.6" x2="412.6" y2="285.6" stroke="#1a1a1a" stroke-width="0.9"/>
<line x1="682.4" y1="285.6" x2="684.6" y2="285.6" stroke="#1a1a1a" stroke-width="0.9"/>
<line x1="410" y1="283.6" x2="412.6" y2="283.6" stroke="#1a1a1a" stroke-width="0.9"/>
<line x1="682.4" y1="283.6" x2="684.6" y2="283.6" stroke="#1a1a1a" stroke-width="0.9"/>
<line x1="410" y1="281.6" x2="415" y2="281.6" stroke="#1a1a1a" stroke-width="0.9"/>
<line x1="680.6" y1="281.6" x2="684.6" y2="281.6" stroke="#1a1a1a" stroke-width="0.9"/>
<line x1="410" y1="279.6" x2="412.6" y2="279.6" stroke="#1a1a1a" stroke-width="0.9"/>
<line x1="682.4" y1="279.6" x2="684.6" y2="279.6" stroke="#1a1a1a" stroke-width="0.9"/>
<line x1="410" y1="277.6" x2="412.6" y2="277.6" stroke="#1a1a1a" stroke-width="0.9"/>
<line x1="682.4" y1="277.6" x2="684.6" y2="277.6" stroke="#1a1a1a" stroke-width="0.9"/>
<line x1="410" y1="275.7" x2="412.6" y2="275.7" stroke="#1a1a1a" stroke-width="0.9"/>
<line x1="682.4" y1="275.7" x2="684.6" y2="275.7" stroke="#1a1a1a" stroke-width="0.9"/>
<line x1="410" y1="273.7" x2="412.6" y2="273.7" stroke="#1a1a1a" stroke-width="0.9"/>
<line x1="682.4" y1="273.7" x2="684.6" y2="273.7" stroke="#1a1a1a" stroke-width="0.9"/>
<line x1="410" y1="271.7" x2="415" y2="271.7" stroke="#1a1a1a" stroke-width="0.9"/>
<line x1="680.6" y1="271.7" x2="684.6" y2="271.7" stroke="#1a1a1a" stroke-width="0.9"/>
<line x1="410" y1="269.7" x2="412.6" y2="269.7" stroke="#1a1a1a" stroke-width="0.9"/>
<line x1="682.4" y1="269.7" x2="684.6" y2="269.7" stroke="#1a1a1a" stroke-width="0.9"/>
<line x1="410" y1="267.7" x2="412.6" y2="267.7" stroke="#1a1a1a" stroke-width="0.9"/>
<line x1="682.4" y1="267.7" x2="684.6" y2="267.7" stroke="#1a1a1a" stroke-width="0.9"/>
<line x1="410" y1="265.8" x2="412.6" y2="265.8" stroke="#1a1a1a" stroke-width="0.9"/>
<line x1="682.4" y1="265.8" x2="684.6" y2="265.8" stroke="#1a1a1a" stroke-width="0.9"/>
<line x1="410" y1="263.8" x2="412.6" y2="263.8" stroke="#1a1a1a" stroke-width="0.9"/>
<line x1="682.4" y1="263.8" x2="684.6" y2="263.8" stroke="#1a1a1a" stroke-width="0.9"/>
<line x1="410" y1="261.8" x2="415" y2="261.8" stroke="#1a1a1a" stroke-width="0.9"/>
<line x1="680.6" y1="261.8" x2="684.6" y2="261.8" stroke="#1a1a1a" stroke-width="0.9"/>
<line x1="411.8" y1="72.6" x2="419.6" y2="72.6" stroke="#c8c8c8" stroke-width="0.6"/>
<line x1="423.2" y1="72.6" x2="431" y2="72.6" stroke="#c8c8c8" stroke-width="0.6"/>
<line x1="434.7" y1="72.6" x2="442.5" y2="72.6" stroke="#c8c8c8" stroke-width="0.6"/>
<line x1="446.1" y1="72.6" x2="453.9" y2="72.6" stroke="#c8c8c8" stroke-width="0.6"/>
<line x1="457.6" y1="72.6" x2="465.4" y2="72.6" stroke="#c8c8c8" stroke-width="0.6"/>
<line x1="469" y1="72.6" x2="476.8" y2="72.6" stroke="#c8c8c8" stroke-width="0.6"/>
<line x1="480.4" y1="72.6" x2="488.2" y2="72.6" stroke="#c8c8c8" stroke-width="0.6"/>
<line x1="491.9" y1="72.6" x2="499.7" y2="72.6" stroke="#c8c8c8" stroke-width="0.6"/>
<line x1="503.3" y1="72.6" x2="511.1" y2="72.6" stroke="#c8c8c8" stroke-width="0.6"/>
<line x1="514.8" y1="72.6" x2="522.6" y2="72.6" stroke="#c8c8c8" stroke-width="0.6"/>
<line x1="526.2" y1="72.6" x2="534" y2="72.6" stroke="#c8c8c8" stroke-width="0.6"/>
<line x1="537.7" y1="72.6" x2="545.5" y2="72.6" stroke="#c8c8c8" stroke-width="0.6"/>
<line x1="549.1" y1="72.6" x2="556.9" y2="72.6" stroke="#c8c8c8" stroke-width="0.6"/>
<line x1="560.5" y1="72.6" x2="568.3" y2="72.6" stroke="#c8c8c8" stroke-width="0.6"/>
<line x1="572" y1="72.6" x2="579.8" y2="72.6" stroke="#c8c8c8" stroke-width="0.6"/>
<line x1="583.4" y1="72.6" x2="591.2" y2="72.6" stroke="#c8c8c8" stroke-width="0.6"/>
<line x1="594.9" y1="72.6" x2="602.7" y2="72.6" stroke="#c8c8c8" stroke-width="0.6"/>
<line x1="606.3" y1="72.6" x2="614.1" y2="72.6" stroke="#c8c8c8" stroke-width="0.6"/>
<line x1="617.8" y1="72.6" x2="625.6" y2="72.6" stroke="#c8c8c8" stroke-width="0.6"/>
<line x1="629.2" y1="72.6" x2="637" y2="72.6" stroke="#c8c8c8" stroke-width="0.6"/>
<line x1="640.6" y1="72.6" x2="648.4" y2="72.6" stroke="#c8c8c8" stroke-width="0.6"/>
<line x1="652.1" y1="72.6" x2="659.9" y2="72.6" stroke="#c8c8c8" stroke-width="0.6"/>
<line x1="663.5" y1="72.6" x2="671.3" y2="72.6" stroke="#c8c8c8" stroke-width="0.6"/>
<line x1="675" y1="72.6" x2="682.8" y2="72.6" stroke="#c8c8c8" stroke-width="0.6"/>
<line x1="574.8" y1="136" x2="574.8" y2="323.4" stroke="#ea2a3a" stroke-width="1.1"/>
<line x1="593.4" y1="136" x2="593.4" y2="322.4" stroke="#4a3ad0" stroke-width="1.0"/>
<line x1="626.3" y1="136" x2="626.3" y2="324.4" stroke="#ee3a3a" stroke-width="1.2"/>
<line x1="410" y1="135.6" x2="684.6" y2="135.6" stroke="#e03020" stroke-width="1.0"/>
<rect x="688.2" y="10.6" width="13.2" height="60.8" fill="url(#cb)"/>
<rect x="688.2" y="73.4" width="13.2" height="61.2" fill="url(#cb)"/>
<line x1="701.4" y1="13.7" x2="703.4" y2="13.7" stroke="#222" stroke-width="0.6"/>
<line x1="701.4" y1="15.5" x2="702.4" y2="15.5" stroke="#222" stroke-width="0.6"/>
<line x1="701.4" y1="17.3" x2="702.4" y2="17.3" stroke="#222" stroke-width="0.6"/>
<line x1="701.4" y1="19" x2="702.4" y2="19" stroke="#222" stroke-width="0.6"/>
<line x1="701.4" y1="20.8" x2="702.4" y2="20.8" stroke="#222" stroke-width="0.6"/>
<line x1="701.4" y1="22.6" x2="702.4" y2="22.6" stroke="#222" stroke-width="0.6"/>
<line x1="701.4" y1="24.4" x2="702.4" y2="24.4" stroke="#222" stroke-width="0.6"/>
<line x1="701.4" y1="26.2" x2="702.4" y2="26.2" stroke="#222" stroke-width="0.6"/>
<line x1="701.4" y1="28" x2="702.4" y2="28" stroke="#222" stroke-width="0.6"/>
<line x1="701.4" y1="29.8" x2="702.4" y2="29.8" stroke="#222" stroke-width="0.6"/>
<line x1="701.4" y1="31.5" x2="703.4" y2="31.5" stroke="#222" stroke-width="0.6"/>
<line x1="701.4" y1="33.3" x2="702.4" y2="33.3" stroke="#222" stroke-width="0.6"/>
<line x1="701.4" y1="35.1" x2="702.4" y2="35.1" stroke="#222" stroke-width="0.6"/>
<line x1="701.4" y1="36.9" x2="702.4" y2="36.9" stroke="#222" stroke-width="0.6"/>
<line x1="701.4" y1="38.7" x2="702.4" y2="38.7" stroke="#222" stroke-width="0.6"/>
<line x1="701.4" y1="40.5" x2="702.4" y2="40.5" stroke="#222" stroke-width="0.6"/>
<line x1="701.4" y1="42.2" x2="702.4" y2="42.2" stroke="#222" stroke-width="0.6"/>
<line x1="701.4" y1="44" x2="702.4" y2="44" stroke="#222" stroke-width="0.6"/>
<line x1="701.4" y1="45.8" x2="702.4" y2="45.8" stroke="#222" stroke-width="0.6"/>
<line x1="701.4" y1="47.6" x2="702.4" y2="47.6" stroke="#222" stroke-width="0.6"/>
<line x1="701.4" y1="49.4" x2="703.4" y2="49.4" stroke="#222" stroke-width="0.6"/>
<line x1="701.4" y1="51.2" x2="702.4" y2="51.2" stroke="#222" stroke-width="0.6"/>
<line x1="701.4" y1="52.9" x2="702.4" y2="52.9" stroke="#222" stroke-width="0.6"/>
<line x1="701.4" y1="54.7" x2="702.4" y2="54.7" stroke="#222" stroke-width="0.6"/>
<line x1="701.4" y1="56.5" x2="702.4" y2="56.5" stroke="#222" stroke-width="0.6"/>
<line x1="701.4" y1="58.3" x2="702.4" y2="58.3" stroke="#222" stroke-width="0.6"/>
<line x1="701.4" y1="60.1" x2="702.4" y2="60.1" stroke="#222" stroke-width="0.6"/>
<line x1="701.4" y1="61.8" x2="702.4" y2="61.8" stroke="#222" stroke-width="0.6"/>
<line x1="701.4" y1="63.6" x2="702.4" y2="63.6" stroke="#222" stroke-width="0.6"/>
<line x1="701.4" y1="65.4" x2="702.4" y2="65.4" stroke="#222" stroke-width="0.6"/>
<line x1="701.4" y1="67.2" x2="703.4" y2="67.2" stroke="#222" stroke-width="0.6"/>
<line x1="701.4" y1="73.9" x2="703.4" y2="73.9" stroke="#222" stroke-width="0.5"/>
<line x1="701.4" y1="74.9" x2="702.2" y2="74.9" stroke="#222" stroke-width="0.5"/>
<line x1="701.4" y1="75.9" x2="702.2" y2="75.9" stroke="#222" stroke-width="0.5"/>
<line x1="701.4" y1="76.9" x2="702.2" y2="76.9" stroke="#222" stroke-width="0.5"/>
<line x1="701.4" y1="77.9" x2="702.2" y2="77.9" stroke="#222" stroke-width="0.5"/>
<line x1="701.4" y1="78.9" x2="702.2" y2="78.9" stroke="#222" stroke-width="0.5"/>
<line x1="701.4" y1="79.9" x2="702.2" y2="79.9" stroke="#222" stroke-width="0.5"/>
<line x1="701.4" y1="80.9" x2="702.2" y2="80.9" stroke="#222" stroke-width="0.5"/>
<line x1="701.4" y1="81.8" x2="702.2" y2="81.8" stroke="#222" stroke-width="0.5"/>
<line x1="701.4" y1="82.8" x2="702.2" y2="82.8" stroke="#222" stroke-width="0.5"/>
<line x1="701.4" y1="83.8" x2="703.4" y2="83.8" stroke="#222" stroke-width="0.5"/>
<line x1="701.4" y1="84.8" x2="702.2" y2="84.8" stroke="#222" stroke-width="0.5"/>
<line x1="701.4" y1="85.8" x2="702.2" y2="85.8" stroke="#222" stroke-width="0.5"/>
<line x1="701.4" y1="86.8" x2="702.2" y2="86.8" stroke="#222" stroke-width="0.5"/>
<line x1="701.4" y1="87.8" x2="702.2" y2="87.8" stroke="#222" stroke-width="0.5"/>
<line x1="701.4" y1="88.8" x2="702.2" y2="88.8" stroke="#222" stroke-width="0.5"/>
<line x1="701.4" y1="89.8" x2="702.2" y2="89.8" stroke="#222" stroke-width="0.5"/>
<line x1="701.4" y1="90.8" x2="702.2" y2="90.8" stroke="#222" stroke-width="0.5"/>
<line x1="701.4" y1="91.8" x2="702.2" y2="91.8" stroke="#222" stroke-width="0.5"/>
<line x1="701.4" y1="92.8" x2="702.2" y2="92.8" stroke="#222" stroke-width="0.5"/>
<line x1="701.4" y1="93.8" x2="703.4" y2="93.8" stroke="#222" stroke-width="0.5"/>
<line x1="701.4" y1="94.8" x2="702.2" y2="94.8" stroke="#222" stroke-width="0.5"/>
<line x1="701.4" y1="95.8" x2="702.2" y2="95.8" stroke="#222" stroke-width="0.5"/>
<line x1="701.4" y1="96.7" x2="702.2" y2="96.7" stroke="#222" stroke-width="0.5"/>
<line x1="701.4" y1="97.7" x2="702.2" y2="97.7" stroke="#222" stroke-width="0.5"/>
<line x1="701.4" y1="98.7" x2="702.2" y2="98.7" stroke="#222" stroke-width="0.5"/>
<line x1="701.4" y1="99.7" x2="702.2" y2="99.7" stroke="#222" stroke-width="0.5"/>
<line x1="701.4" y1="100.7" x2="702.2" y2="100.7" stroke="#222" stroke-width="0.5"/>
<line x1="701.4" y1="101.7" x2="702.2" y2="101.7" stroke="#222" stroke-width="0.5"/>
<line x1="701.4" y1="102.7" x2="702.2" y2="102.7" stroke="#222" stroke-width="0.5"/>
<line x1="701.4" y1="103.7" x2="703.4" y2="103.7" stroke="#222" stroke-width="0.5"/>
<line x1="701.4" y1="104.7" x2="702.2" y2="104.7" stroke="#222" stroke-width="0.5"/>
<line x1="701.4" y1="105.7" x2="702.2" y2="105.7" stroke="#222" stroke-width="0.5"/>
<line x1="701.4" y1="106.7" x2="702.2" y2="106.7" stroke="#222" stroke-width="0.5"/>
<line x1="701.4" y1="107.7" x2="702.2" y2="107.7" stroke="#222" stroke-width="0.5"/>
<line x1="701.4" y1="108.7" x2="702.2" y2="108.7" stroke="#222" stroke-width="0.5"/>
<line x1="701.4" y1="109.7" x2="702.2" y2="109.7" stroke="#222" stroke-width="0.5"/>
<line x1="701.4" y1="110.7" x2="702.2" y2="110.7" stroke="#222" stroke-width="0.5"/>
<line x1="701.4" y1="111.6" x2="702.2" y2="111.6" stroke="#222" stroke-width="0.5"/>
<line x1="701.4" y1="112.6" x2="702.2" y2="112.6" stroke="#222" stroke-width="0.5"/>
<line x1="701.4" y1="113.6" x2="703.4" y2="113.6" stroke="#222" stroke-width="0.5"/>
<line x1="701.4" y1="114.6" x2="702.2" y2="114.6" stroke="#222" stroke-width="0.5"/>
<line x1="701.4" y1="115.6" x2="702.2" y2="115.6" stroke="#222" stroke-width="0.5"/>
<line x1="701.4" y1="116.6" x2="702.2" y2="116.6" stroke="#222" stroke-width="0.5"/>
<line x1="701.4" y1="117.6" x2="702.2" y2="117.6" stroke="#222" stroke-width="0.5"/>
<line x1="701.4" y1="118.6" x2="702.2" y2="118.6" stroke="#222" stroke-width="0.5"/>
<line x1="701.4" y1="119.6" x2="702.2" y2="119.6" stroke="#222" stroke-width="0.5"/>
<line x1="701.4" y1="120.6" x2="702.2" y2="120.6" stroke="#222" stroke-width="0.5"/>
<line x1="701.4" y1="121.6" x2="702.2" y2="121.6" stroke="#222" stroke-width="0.5"/>
<line x1="701.4" y1="122.6" x2="702.2" y2="122.6" stroke="#222" stroke-width="0.5"/>
<line x1="701.4" y1="123.6" x2="703.4" y2="123.6" stroke="#222" stroke-width="0.5"/>
<line x1="701.4" y1="124.6" x2="702.2" y2="124.6" stroke="#222" stroke-width="0.5"/>
<line x1="701.4" y1="125.6" x2="702.2" y2="125.6" stroke="#222" stroke-width="0.5"/>
<line x1="701.4" y1="126.5" x2="702.2" y2="126.5" stroke="#222" stroke-width="0.5"/>
<line x1="701.4" y1="127.5" x2="702.2" y2="127.5" stroke="#222" stroke-width="0.5"/>
<line x1="701.4" y1="128.5" x2="702.2" y2="128.5" stroke="#222" stroke-width="0.5"/>
<line x1="701.4" y1="129.5" x2="702.2" y2="129.5" stroke="#222" stroke-width="0.5"/>
<line x1="701.4" y1="130.5" x2="702.2" y2="130.5" stroke="#222" stroke-width="0.5"/>
<line x1="701.4" y1="131.5" x2="702.2" y2="131.5" stroke="#222" stroke-width="0.5"/>
<line x1="701.4" y1="132.5" x2="702.2" y2="132.5" stroke="#222" stroke-width="0.5"/>
<line x1="701.4" y1="133.5" x2="703.4" y2="133.5" stroke="#222" stroke-width="0.5"/>
<g font-family="Liberation Sans, Arial, sans-serif">
<text x="704.4" y="15.8" font-size="6.0" text-anchor="start" fill="#111">10<tspan font-size="4.2" dy="-2.4">10</tspan></text>
<text x="704.4" y="33.8" font-size="6.0" text-anchor="start" fill="#111">10<tspan font-size="4.2" dy="-2.4">9</tspan></text>
<text x="704.4" y="51.3" font-size="6.0" text-anchor="start" fill="#111">10<tspan font-size="4.2" dy="-2.4">8</tspan></text>
<text x="704.4" y="69.3" font-size="6.0" text-anchor="start" fill="#111">10<tspan font-size="4.2" dy="-2.4">7</tspan></text>
<text x="704.4" y="76" font-size="6.0" text-anchor="start" fill="#111">10<tspan font-size="4.2" dy="-2.4">8</tspan></text>
<text x="704.4" y="85.9" font-size="6.0" text-anchor="start" fill="#111">10<tspan font-size="4.2" dy="-2.4">7</tspan></text>
<text x="704.4" y="96.1" font-size="6.0" text-anchor="start" fill="#111">10<tspan font-size="4.2" dy="-2.4">6</tspan></text>
<text x="704.4" y="106.1" font-size="6.0" text-anchor="start" fill="#111">10<tspan font-size="4.2" dy="-2.4">5</tspan></text>
<text x="704.4" y="116.1" font-size="6.0" text-anchor="start" fill="#111">10<tspan font-size="4.2" dy="-2.4">4</tspan></text>
<text x="704.4" y="126.1" font-size="6.0" text-anchor="start" fill="#111">10<tspan font-size="4.2" dy="-2.4">3</tspan></text>
<text x="704.4" y="135.6" font-size="6.0" text-anchor="start" fill="#111">10<tspan font-size="4.2" dy="-2.4">2</tspan></text>
<text x="725.2" y="43.5" font-size="6.6" text-anchor="middle" fill="#111" transform="rotate(-90 725.2 43.5)" textLength="23.7" lengthAdjust="spacingAndGlyphs">Ion Flux</text>
<text x="732.6" y="42.8" font-size="6.2" text-anchor="middle" fill="#111" transform="rotate(-90 732.6 42.8)" textLength="41" lengthAdjust="spacingAndGlyphs" font-style="italic">/cm^2−sec−eV</text>
<text x="722" y="115.5" font-size="5.4" text-anchor="middle" fill="#111" transform="rotate(-90 722 115.5)" textLength="27.5" lengthAdjust="spacingAndGlyphs">Electron_Flux</text>
<text x="727.2" y="117.2" font-size="4.6" text-anchor="middle" fill="#111" transform="rotate(-90 727.2 117.2)" textLength="28.5" lengthAdjust="spacingAndGlyphs" font-style="italic">#/cm2−ster−sec−eV</text>
<text x="337.2" y="12.2" font-size="14.2" text-anchor="start" fill="#111" stroke="#111" stroke-width="0.18">(b)</text>
<text x="363" y="40" font-size="11.4" text-anchor="middle" fill="#000" transform="rotate(-90 363 40)" stroke="#111" stroke-width="0.18">Ion energy,</text>
<text x="376.6" y="48.5" font-size="11.2" text-anchor="middle" fill="#111" transform="rotate(-90 376.6 48.5)" stroke="#111" stroke-width="0.18">eV</text>
<text x="361.8" y="113.5" font-size="11.5" text-anchor="middle" fill="#000" transform="rotate(-90 361.8 113.5)" stroke="#111" stroke-width="0.18">Electron</text>
<text x="375.4" y="107.7" font-size="11.1" text-anchor="middle" fill="#111" transform="rotate(-90 375.4 107.7)" stroke="#111" stroke-width="0.18">energy, eV</text>
<text x="384.8" y="164" font-size="13.7" text-anchor="middle" fill="#111" transform="rotate(-90 384.8 164)" stroke="#111" stroke-width="0.18">Bx, nT</text>
<text x="387.9" y="231" font-size="13.2" text-anchor="middle" fill="#111" transform="rotate(-90 387.9 231)" stroke="#111" stroke-width="0.18">By , nT</text>
<text x="387.9" y="290.2" font-size="13.2" text-anchor="middle" fill="#111" transform="rotate(-90 387.9 290.2)" stroke="#111" stroke-width="0.18">Bz, nT</text>
<text x="401.6" y="15" font-size="6.6" text-anchor="end" fill="#222">10000</text>
<text x="401.6" y="27.2" font-size="6.6" text-anchor="end" fill="#222">5000</text>
<text x="401.6" y="43" font-size="6.6" text-anchor="end" fill="#222">2000</text>
<text x="401.6" y="55.5" font-size="6.6" text-anchor="end" fill="#222">1000</text>
<text x="401.6" y="68.1" font-size="6.6" text-anchor="end" fill="#222">500</text>
<text x="406.6" y="76.9" font-size="6.9" text-anchor="end" fill="#222" textLength="18.2" lengthAdjust="spacingAndGlyphs">1000</text>
<text x="406.6" y="84.9" font-size="6.9" text-anchor="end" fill="#222" textLength="13.6" lengthAdjust="spacingAndGlyphs">500</text>
<text x="406.6" y="95.4" font-size="6.9" text-anchor="end" fill="#222" textLength="13.6" lengthAdjust="spacingAndGlyphs">200</text>
<text x="406.6" y="103.7" font-size="6.9" text-anchor="end" fill="#222" textLength="13.6" lengthAdjust="spacingAndGlyphs">100</text>
<text x="406.6" y="111.7" font-size="6.9" text-anchor="end" fill="#222" textLength="9.1" lengthAdjust="spacingAndGlyphs">50</text>
<text x="406.6" y="122.7" font-size="6.9" text-anchor="end" fill="#222" textLength="9.1" lengthAdjust="spacingAndGlyphs">20</text>
<text x="406.6" y="130.3" font-size="6.9" text-anchor="end" fill="#222" textLength="9.1" lengthAdjust="spacingAndGlyphs">10</text>
<text x="407.4" y="139.8" font-size="6.6" text-anchor="end" fill="#222">10</text>
<text x="407.4" y="154.4" font-size="6.6" text-anchor="end" fill="#222">5</text>
<text x="407.4" y="168.8" font-size="6.6" text-anchor="end" fill="#222">0</text>
<text x="407.4" y="184" font-size="6.6" text-anchor="end" fill="#222">−5</text>
<text x="407.4" y="197.4" font-size="6.6" text-anchor="end" fill="#222">−10</text>
<text x="407.4" y="201.7" font-size="6.6" text-anchor="end" fill="#222">15</text>
<text x="407.4" y="212" font-size="6.6" text-anchor="end" fill="#222">10</text>
<text x="407.4" y="221.8" font-size="6.6" text-anchor="end" fill="#222">5</text>
<text x="407.4" y="231.3" font-size="6.6" text-anchor="end" fill="#222">0</text>
<text x="407.4" y="241.3" font-size="6.6" text-anchor="end" fill="#222">−5</text>
<text x="407.4" y="251.5" font-size="6.6" text-anchor="end" fill="#222">−10</text>
<text x="407.4" y="260.5" font-size="6.6" text-anchor="end" fill="#222">−15</text>
<text x="407.4" y="264.9" font-size="6.6" text-anchor="end" fill="#222">15</text>
<text x="407.4" y="274.2" font-size="6.6" text-anchor="end" fill="#222">10</text>
<text x="407.4" y="284.5" font-size="6.6" text-anchor="end" fill="#222">5</text>
<text x="407.4" y="294.3" font-size="6.6" text-anchor="end" fill="#222">0</text>
<text x="407.4" y="304.3" font-size="6.6" text-anchor="end" fill="#222">−5</text>
<text x="407.4" y="314.5" font-size="6.6" text-anchor="end" fill="#222">−10</text>
<text x="407.4" y="323.1" font-size="6.6" text-anchor="end" fill="#222">−15</text>
<text x="404.7" y="333" font-size="8.4" text-anchor="middle" fill="#222" textLength="19.8" lengthAdjust="spacingAndGlyphs">00:00</text>
<text x="451.8" y="333" font-size="8.4" text-anchor="middle" fill="#222" textLength="19.8" lengthAdjust="spacingAndGlyphs">02:00</text>
<text x="498.8" y="333" font-size="8.4" text-anchor="middle" fill="#222" textLength="19.8" lengthAdjust="spacingAndGlyphs">04:00</text>
<text x="545.8" y="333" font-size="8.4" text-anchor="middle" fill="#222" textLength="19.8" lengthAdjust="spacingAndGlyphs">06:00</text>
<text x="592.9" y="333" font-size="8.4" text-anchor="middle" fill="#222" textLength="19.8" lengthAdjust="spacingAndGlyphs">08:00</text>
<text x="640" y="333" font-size="8.4" text-anchor="middle" fill="#222" textLength="19.8" lengthAdjust="spacingAndGlyphs">10:00</text>
<text x="687" y="333" font-size="8.4" text-anchor="middle" fill="#222" textLength="19.8" lengthAdjust="spacingAndGlyphs">12:00</text>
<text x="471.6" y="350.3" font-size="12.7" text-anchor="start" fill="#111" textLength="165.3" lengthAdjust="spacingAndGlyphs" stroke="#111" stroke-width="0.18">hh:mm  07 September 1999</text>
</g>
</svg>
</body></html>
